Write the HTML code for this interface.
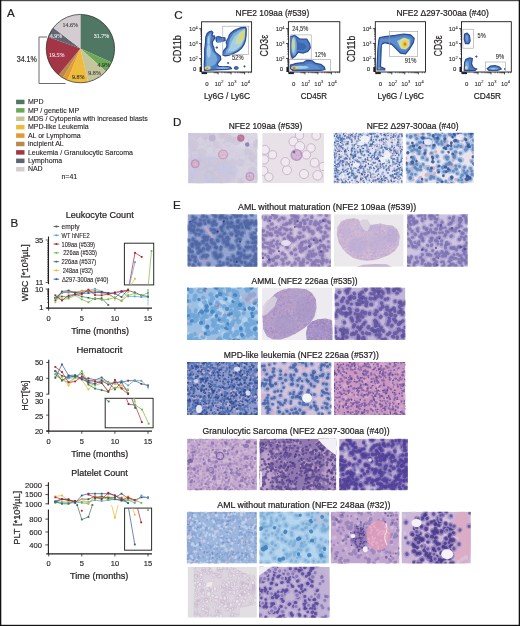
<!DOCTYPE html><html><head><meta charset="utf-8"><title>Figure</title><style>html,body{margin:0;padding:0;background:#fff;width:520px;height:626px;overflow:hidden;}svg{display:block;will-change:transform;font-family:"Liberation Sans",sans-serif;}</style></head><body><svg width="520" height="626" viewBox="0 0 520 626" font-family="Liberation Sans, sans-serif"><defs><filter id="bl" x="-20%" y="-20%" width="140%" height="140%"><feGaussianBlur stdDeviation="0.55"/></filter><filter id="bl2" x="-50%" y="-50%" width="200%" height="200%"><feGaussianBlur stdDeviation="0.9"/></filter><filter id="hb" x="-15%" y="-15%" width="130%" height="130%"><feGaussianBlur stdDeviation="0.3"/></filter><filter id="sb" x="-10%" y="-10%" width="120%" height="120%"><feGaussianBlur stdDeviation="1.5"/></filter><clipPath id="c1"><rect x="188.3" y="133" width="69.3" height="50.2"/></clipPath><clipPath id="c2"><rect x="262.2" y="133" width="61.8" height="50.2"/></clipPath><clipPath id="c3"><rect x="333.8" y="132.8" width="69" height="50.5"/></clipPath><clipPath id="c4"><rect x="405.8" y="132.8" width="68" height="50.5"/></clipPath><clipPath id="c5"><rect x="187.5" y="214.2" width="69.9" height="52.5"/></clipPath><clipPath id="c6"><rect x="261.7" y="214.2" width="69.3" height="52.5"/></clipPath><clipPath id="tp1"><polygon points="336.85,234.38 337.58,227.08 341.23,221.23 347.08,219.04 354.38,218.31 358.77,219.77 360.23,221.96 362.42,219.77 367.54,219.77 370.46,225.62 374.85,224.15 380.69,223.42 386.54,224.88 392.39,225.62 397.5,230 399.69,235.85 398.96,244.62 395.31,250.46 389.46,254.85 382.15,257.77 374.85,259.96 367.54,260.69 360.23,259.96 352.92,257.77 347.08,253.39 342.69,249 339.04,243.15"/></clipPath><clipPath id="c7"><rect x="333.8" y="214.2" width="69.9" height="52.5"/></clipPath><clipPath id="c8"><rect x="407" y="214.2" width="60.7" height="52.5"/></clipPath><clipPath id="c9"><rect x="187.1" y="287.5" width="70.7" height="52.5"/></clipPath><clipPath id="tp2"><polygon points="262.5,316.25 265.5,306.5 270,299 276,293 282,290 288,288.5 297,288.2 306,289.25 312,293 315.75,299 316.5,308 314.25,317 309.75,323.75 303,329 295.5,333.5 288,337.25 280.5,339.5 273,339.5 267,336.5 263.25,329"/></clipPath><clipPath id="tp3"><polygon points="306,333.5 307.5,326 312,321.5 318,319.25 325.5,318.5 331.5,320 333,329 333,341 306.75,341"/></clipPath><clipPath id="c10"><rect x="261.7" y="287.5" width="70.8" height="52.5"/></clipPath><clipPath id="c11"><rect x="334.6" y="287.5" width="70.8" height="52.5"/></clipPath><clipPath id="c12"><rect x="187.1" y="361.9" width="70.7" height="53.1"/></clipPath><clipPath id="c13"><rect x="260.8" y="361.9" width="70.7" height="53.1"/></clipPath><clipPath id="c14"><rect x="334" y="361.9" width="71.4" height="53.1"/></clipPath><clipPath id="c15"><rect x="187.1" y="438.7" width="69.8" height="51.6"/></clipPath><clipPath id="c16"><rect x="259.5" y="438.7" width="76.7" height="51.6"/></clipPath><clipPath id="c17"><rect x="339.2" y="438.7" width="68.6" height="51.6"/></clipPath><clipPath id="c18"><rect x="186.8" y="511.7" width="70.1" height="51.8"/></clipPath><clipPath id="c19"><rect x="259.4" y="511.7" width="69.8" height="51.8"/></clipPath><clipPath id="c20"><rect x="330.8" y="511.7" width="68.6" height="51.8"/></clipPath><clipPath id="c21"><rect x="401.5" y="511.7" width="69.3" height="51.8"/></clipPath><clipPath id="c22"><rect x="187.7" y="566.8" width="69.2" height="51"/></clipPath><clipPath id="lu"><polygon points="193.77,566.92 209.85,566.92 214.24,572.77 217.16,566.92 233.25,566.92 243.48,572.77 255.18,575.7 255.91,604.94 240.56,607.86 239.09,616.63 193.77,616.63"/></clipPath><clipPath id="c24"><rect x="259" y="566.8" width="70.8" height="51"/></clipPath></defs><rect x="0" y="0" width="520" height="626" fill="#ffffff"/>
<text x="7" y="17" font-size="11.6" fill="#231f20" stroke="#231f20" stroke-width="0.22" text-anchor="start">A</text>
<path d="M80.4 48.6 L80.4 14.4 A34.2 34.2 0 0 1 111.61 62.58 Z" fill="#4f7763"/>
<path d="M80.4 48.6 L111.61 62.58 A34.2 34.2 0 0 1 105.91 71.38 Z" fill="#6ba957"/>
<path d="M80.4 48.6 L105.91 71.38 A34.2 34.2 0 0 1 88.07 81.93 Z" fill="#c5c59c"/>
<path d="M80.4 48.6 L88.07 81.93 A34.2 34.2 0 0 1 67.41 80.24 Z" fill="#efbb3c"/>
<path d="M80.4 48.6 L67.41 80.24 A34.2 34.2 0 0 1 62.81 77.93 Z" fill="#e49a32"/>
<path d="M80.4 48.6 L62.81 77.93 A34.2 34.2 0 0 1 58.6 74.95 Z" fill="#b8894a"/>
<path d="M80.4 48.6 L58.6 74.95 A34.2 34.2 0 0 1 48.22 37.02 Z" fill="#a23546"/>
<path d="M80.4 48.6 L48.22 37.02 A34.2 34.2 0 0 1 53.25 27.81 Z" fill="#5f6672"/>
<path d="M80.4 48.6 L53.25 27.81 A34.2 34.2 0 0 1 80.4 14.4 Z" fill="#d3cdd1"/>
<circle cx="80.4" cy="48.6" r="34.2" fill="none" stroke="#2a2a2a" stroke-width="0.7"/>
<text x="101.6" y="38.2" font-size="6" font-family="Liberation Serif" fill="#f2f2f2" stroke="#f2f2f2" stroke-width="0.12" text-anchor="middle">31.7%</text>
<text x="103.8" y="66.9" font-size="6" font-family="Liberation Serif" fill="#333" stroke="#333" stroke-width="0.12" text-anchor="middle">4.9%</text>
<text x="94.5" y="74.9" font-size="6" font-family="Liberation Serif" fill="#444" stroke="#444" stroke-width="0.12" text-anchor="middle">9.8%</text>
<text x="78.2" y="79.2" font-size="6" font-family="Liberation Serif" fill="#333" stroke="#333" stroke-width="0.12" text-anchor="middle">9.8%</text>
<text x="56.8" y="56.7" font-size="6" font-family="Liberation Serif" fill="#f4dde0" stroke="#f4dde0" stroke-width="0.12" text-anchor="middle">19.5%</text>
<text x="56.1" y="37.5" font-size="6" font-family="Liberation Serif" fill="#e8e8ec" stroke="#e8e8ec" stroke-width="0.12" text-anchor="middle">4.9%</text>
<text x="70.3" y="27.1" font-size="6" font-family="Liberation Serif" fill="#444" stroke="#444" stroke-width="0.12" text-anchor="middle">14.6%</text>
<path d="M47 37 H39 V83.5 H65.6" fill="none" stroke="#6d6d6d" stroke-width="1"/>
<text x="16.7" y="61.6" font-size="8.7" fill="#333" stroke="#333" stroke-width="0.22" text-anchor="start" textLength="20.2" lengthAdjust="spacingAndGlyphs">34.1%</text>
<rect x="16.1" y="99.7" width="8.4" height="4.5" fill="#4f7763"/>
<text x="27.9" y="104.2" font-size="7" fill="#231f20" stroke="#231f20" stroke-width="0.11" text-anchor="start">MPD</text>
<rect x="16.1" y="108.11" width="8.4" height="4.5" fill="#6ba957"/>
<text x="27.9" y="112.61" font-size="7" fill="#231f20" stroke="#231f20" stroke-width="0.11" text-anchor="start">MP / genetic MP</text>
<rect x="16.1" y="116.52" width="8.4" height="4.5" fill="#c5c59c"/>
<text x="27.9" y="121.02" font-size="7" fill="#231f20" stroke="#231f20" stroke-width="0.11" text-anchor="start">MDS / Cytopenia with increased blasts</text>
<rect x="16.1" y="124.93" width="8.4" height="4.5" fill="#efbb3c"/>
<text x="27.9" y="129.43" font-size="7" fill="#231f20" stroke="#231f20" stroke-width="0.11" text-anchor="start">MPD-like Leukemia</text>
<rect x="16.1" y="133.34" width="8.4" height="4.5" fill="#e49a32"/>
<text x="27.9" y="137.84" font-size="7" fill="#231f20" stroke="#231f20" stroke-width="0.11" text-anchor="start">AL or Lymphoma</text>
<rect x="16.1" y="141.75" width="8.4" height="4.5" fill="#b8894a"/>
<text x="27.9" y="146.25" font-size="7" fill="#231f20" stroke="#231f20" stroke-width="0.11" text-anchor="start">incipient AL</text>
<rect x="16.1" y="150.16" width="8.4" height="4.5" fill="#a23546"/>
<text x="27.9" y="154.66" font-size="7" fill="#231f20" stroke="#231f20" stroke-width="0.11" text-anchor="start">Leukemia / Granulocytic Sarcoma</text>
<rect x="16.1" y="158.57" width="8.4" height="4.5" fill="#5f6672"/>
<text x="27.9" y="163.07" font-size="7" fill="#231f20" stroke="#231f20" stroke-width="0.11" text-anchor="start">Lymphoma</text>
<rect x="16.1" y="166.98" width="8.4" height="4.5" fill="#d3cdd1"/>
<text x="27.9" y="171.48" font-size="7" fill="#231f20" stroke="#231f20" stroke-width="0.11" text-anchor="start">NAD</text>
<text x="61.5" y="178.5" font-size="7" fill="#231f20" stroke="#231f20" stroke-width="0.11" text-anchor="start" textLength="15.7" lengthAdjust="spacingAndGlyphs">n=41</text>
<text x="10.6" y="227" font-size="11.6" fill="#231f20" stroke="#231f20" stroke-width="0.22" text-anchor="start">B</text>
<text x="65.7" y="217.5" font-size="9" fill="#231f20" stroke="#231f20" stroke-width="0.22" text-anchor="start" textLength="68" lengthAdjust="spacingAndGlyphs">Leukocyte Count</text>
<line x1="53.5" y1="226.5" x2="59.2" y2="226.5" stroke="#4d4d4f" stroke-width="0.8"/>
<rect x="55.5" y="225.6" width="1.8" height="1.8" fill="#4d4d4f"/>
<text x="61.6" y="229.1" font-size="7.25" fill="#231f20" stroke="#231f20" stroke-width="0.11" text-anchor="start" textLength="18" lengthAdjust="spacingAndGlyphs">empty</text>
<line x1="53.5" y1="235.28" x2="59.2" y2="235.28" stroke="#5aa0d8" stroke-width="0.8"/>
<rect x="55.5" y="234.38" width="1.8" height="1.8" fill="#5aa0d8"/>
<text x="61.6" y="237.88" font-size="7.25" fill="#231f20" stroke="#231f20" stroke-width="0.11" text-anchor="start" textLength="28" lengthAdjust="spacingAndGlyphs">WT hNFE2</text>
<line x1="53.5" y1="244.06" x2="59.2" y2="244.06" stroke="#b3202e" stroke-width="0.8"/>
<rect x="55.5" y="243.16" width="1.8" height="1.8" fill="#b3202e"/>
<text x="61.6" y="246.66" font-size="7.25" fill="#231f20" stroke="#231f20" stroke-width="0.11" text-anchor="start" textLength="33.4" lengthAdjust="spacingAndGlyphs">109aa (#539)</text>
<line x1="53.5" y1="252.84" x2="59.2" y2="252.84" stroke="#72b847" stroke-width="0.8"/>
<rect x="55.5" y="251.94" width="1.8" height="1.8" fill="#72b847"/>
<text x="63.2" y="255.44" font-size="7.25" fill="#231f20" stroke="#231f20" stroke-width="0.11" text-anchor="start" textLength="33.8" lengthAdjust="spacingAndGlyphs">226aa (#535)</text>
<line x1="53.5" y1="261.62" x2="59.2" y2="261.62" stroke="#3a7356" stroke-width="0.8"/>
<rect x="55.5" y="260.72" width="1.8" height="1.8" fill="#3a7356"/>
<text x="61.6" y="264.22" font-size="7.25" fill="#231f20" stroke="#231f20" stroke-width="0.11" text-anchor="start" textLength="34.5" lengthAdjust="spacingAndGlyphs">226aa (#537)</text>
<line x1="53.5" y1="270.4" x2="59.2" y2="270.4" stroke="#f2b431" stroke-width="0.8"/>
<rect x="55.5" y="269.5" width="1.8" height="1.8" fill="#f2b431"/>
<text x="62.7" y="273" font-size="7.25" fill="#231f20" stroke="#231f20" stroke-width="0.11" text-anchor="start" textLength="30.3" lengthAdjust="spacingAndGlyphs">248aa (#32)</text>
<line x1="53.5" y1="279.18" x2="59.2" y2="279.18" stroke="#2f5797" stroke-width="0.8"/>
<rect x="55.5" y="278.28" width="1.8" height="1.8" fill="#2f5797"/>
<text x="61.9" y="281.78" font-size="7.25" fill="#231f20" stroke="#231f20" stroke-width="0.11" text-anchor="start" textLength="46.5" lengthAdjust="spacingAndGlyphs">Δ297-300aa (#40)</text>
<line x1="48.5" y1="236.5" x2="48.5" y2="284.2" stroke="#231f20" stroke-width="1.1"/>
<line x1="48.5" y1="288.3" x2="48.5" y2="308.4" stroke="#231f20" stroke-width="1.1"/>
<line x1="46.3" y1="308.2" x2="152" y2="308.2" stroke="#231f20" stroke-width="1.2"/>
<line x1="45.7" y1="282.5" x2="48.5" y2="282.5" stroke="#231f20" stroke-width="0.7"/>
<line x1="47" y1="280.73" x2="48.5" y2="280.73" stroke="#231f20" stroke-width="0.7"/>
<line x1="47" y1="278.96" x2="48.5" y2="278.96" stroke="#231f20" stroke-width="0.7"/>
<line x1="47" y1="277.19" x2="48.5" y2="277.19" stroke="#231f20" stroke-width="0.7"/>
<line x1="47" y1="275.42" x2="48.5" y2="275.42" stroke="#231f20" stroke-width="0.7"/>
<line x1="47" y1="273.65" x2="48.5" y2="273.65" stroke="#231f20" stroke-width="0.7"/>
<line x1="47" y1="271.88" x2="48.5" y2="271.88" stroke="#231f20" stroke-width="0.7"/>
<line x1="47" y1="270.1" x2="48.5" y2="270.1" stroke="#231f20" stroke-width="0.7"/>
<line x1="47" y1="268.33" x2="48.5" y2="268.33" stroke="#231f20" stroke-width="0.7"/>
<line x1="47" y1="266.56" x2="48.5" y2="266.56" stroke="#231f20" stroke-width="0.7"/>
<line x1="47" y1="264.79" x2="48.5" y2="264.79" stroke="#231f20" stroke-width="0.7"/>
<line x1="47" y1="263.02" x2="48.5" y2="263.02" stroke="#231f20" stroke-width="0.7"/>
<line x1="47" y1="261.25" x2="48.5" y2="261.25" stroke="#231f20" stroke-width="0.7"/>
<line x1="47" y1="259.48" x2="48.5" y2="259.48" stroke="#231f20" stroke-width="0.7"/>
<line x1="47" y1="257.71" x2="48.5" y2="257.71" stroke="#231f20" stroke-width="0.7"/>
<line x1="47" y1="255.94" x2="48.5" y2="255.94" stroke="#231f20" stroke-width="0.7"/>
<line x1="47" y1="254.17" x2="48.5" y2="254.17" stroke="#231f20" stroke-width="0.7"/>
<line x1="47" y1="252.4" x2="48.5" y2="252.4" stroke="#231f20" stroke-width="0.7"/>
<line x1="47" y1="250.62" x2="48.5" y2="250.62" stroke="#231f20" stroke-width="0.7"/>
<line x1="47" y1="248.85" x2="48.5" y2="248.85" stroke="#231f20" stroke-width="0.7"/>
<line x1="47" y1="247.08" x2="48.5" y2="247.08" stroke="#231f20" stroke-width="0.7"/>
<line x1="47" y1="245.31" x2="48.5" y2="245.31" stroke="#231f20" stroke-width="0.7"/>
<line x1="47" y1="243.54" x2="48.5" y2="243.54" stroke="#231f20" stroke-width="0.7"/>
<line x1="47" y1="241.77" x2="48.5" y2="241.77" stroke="#231f20" stroke-width="0.7"/>
<line x1="45.7" y1="240" x2="48.5" y2="240" stroke="#231f20" stroke-width="0.7"/>
<line x1="45.7" y1="308" x2="48.5" y2="308" stroke="#231f20" stroke-width="0.7"/>
<line x1="47" y1="302.28" x2="48.5" y2="302.28" stroke="#231f20" stroke-width="0.7"/>
<line x1="47" y1="298.93" x2="48.5" y2="298.93" stroke="#231f20" stroke-width="0.7"/>
<line x1="47" y1="296.56" x2="48.5" y2="296.56" stroke="#231f20" stroke-width="0.7"/>
<line x1="47" y1="294.72" x2="48.5" y2="294.72" stroke="#231f20" stroke-width="0.7"/>
<line x1="47" y1="293.22" x2="48.5" y2="293.22" stroke="#231f20" stroke-width="0.7"/>
<line x1="47" y1="291.94" x2="48.5" y2="291.94" stroke="#231f20" stroke-width="0.7"/>
<line x1="47" y1="290.84" x2="48.5" y2="290.84" stroke="#231f20" stroke-width="0.7"/>
<line x1="47" y1="289.87" x2="48.5" y2="289.87" stroke="#231f20" stroke-width="0.7"/>
<line x1="45.7" y1="289" x2="48.5" y2="289" stroke="#231f20" stroke-width="0.7"/>
<line x1="48.7" y1="308.2" x2="48.7" y2="310.8" stroke="#231f20" stroke-width="0.8"/>
<text x="48.7" y="321.2" font-size="7.5" fill="#231f20" stroke="#231f20" stroke-width="0.15" text-anchor="middle">0</text>
<line x1="81.8" y1="308.2" x2="81.8" y2="310.8" stroke="#231f20" stroke-width="0.8"/>
<text x="81.8" y="321.2" font-size="7.5" fill="#231f20" stroke="#231f20" stroke-width="0.15" text-anchor="middle">5</text>
<line x1="114.9" y1="308.2" x2="114.9" y2="310.8" stroke="#231f20" stroke-width="0.8"/>
<text x="114.9" y="321.2" font-size="7.5" fill="#231f20" stroke="#231f20" stroke-width="0.15" text-anchor="middle">10</text>
<line x1="148" y1="308.2" x2="148" y2="310.8" stroke="#231f20" stroke-width="0.8"/>
<text x="148" y="321.2" font-size="7.5" fill="#231f20" stroke="#231f20" stroke-width="0.15" text-anchor="middle">15</text>
<text x="43.3" y="242.7" font-size="7.5" fill="#231f20" stroke="#231f20" stroke-width="0.15" text-anchor="end">35</text>
<text x="43.3" y="285.4" font-size="7.5" fill="#231f20" stroke="#231f20" stroke-width="0.15" text-anchor="end">11</text>
<text x="43.3" y="291.5" font-size="7.5" fill="#231f20" stroke="#231f20" stroke-width="0.15" text-anchor="end">10</text>
<text x="43.3" y="310.4" font-size="7.5" fill="#231f20" stroke="#231f20" stroke-width="0.15" text-anchor="end">1</text>
<text x="71.2" y="334.3" font-size="9.3" fill="#231f20" stroke="#231f20" stroke-width="0.22" text-anchor="start" textLength="57.7" lengthAdjust="spacingAndGlyphs">Time (months)</text>
<text transform="translate(28.2,272.8) rotate(-90)" x="0" y="0" font-size="9.4" fill="#231f20" stroke="#231f20" stroke-width="0.22" text-anchor="middle" textLength="56.8" lengthAdjust="spacingAndGlyphs">WBC [*10³/µL]</text>
<rect x="124.4" y="243.2" width="29.3" height="41.7" fill="none" stroke="#2b2b2b" stroke-width="1"/>
<polyline points="55.32,297.5 61.94,292.2 68.56,292.7 75.18,292.5 81.8,290.7 88.42,290.5 95.04,288.8 101.66,291.5 108.28,293 114.9,293.5 121.52,291.2 128.14,296.4 134.76,296.4 141.38,297 148,297" fill="none" stroke="#5aa0d8" stroke-width="0.7" stroke-linejoin="round"/>
<rect x="54.42" y="296.6" width="1.8" height="1.8" fill="#5aa0d8"/>
<rect x="61.04" y="291.3" width="1.8" height="1.8" fill="#5aa0d8"/>
<rect x="67.66" y="291.8" width="1.8" height="1.8" fill="#5aa0d8"/>
<rect x="74.28" y="291.6" width="1.8" height="1.8" fill="#5aa0d8"/>
<rect x="80.9" y="289.8" width="1.8" height="1.8" fill="#5aa0d8"/>
<rect x="87.52" y="289.6" width="1.8" height="1.8" fill="#5aa0d8"/>
<rect x="94.14" y="287.9" width="1.8" height="1.8" fill="#5aa0d8"/>
<rect x="100.76" y="290.6" width="1.8" height="1.8" fill="#5aa0d8"/>
<rect x="107.38" y="292.1" width="1.8" height="1.8" fill="#5aa0d8"/>
<rect x="114" y="292.6" width="1.8" height="1.8" fill="#5aa0d8"/>
<rect x="120.62" y="290.3" width="1.8" height="1.8" fill="#5aa0d8"/>
<rect x="127.24" y="295.5" width="1.8" height="1.8" fill="#5aa0d8"/>
<rect x="133.86" y="295.5" width="1.8" height="1.8" fill="#5aa0d8"/>
<rect x="140.48" y="296.1" width="1.8" height="1.8" fill="#5aa0d8"/>
<rect x="147.1" y="296.1" width="1.8" height="1.8" fill="#5aa0d8"/>
<polyline points="55.32,298 61.94,293 68.56,291.5 75.18,292.5 81.8,292 88.42,291.5 95.04,291 101.66,292 108.28,293.5 114.9,298.2 121.52,291.8 128.14,290.5 134.76,292.4 141.38,295.3 148,296.5" fill="none" stroke="#4d4d4f" stroke-width="0.7" stroke-linejoin="round"/>
<rect x="54.42" y="297.1" width="1.8" height="1.8" fill="#4d4d4f"/>
<rect x="61.04" y="292.1" width="1.8" height="1.8" fill="#4d4d4f"/>
<rect x="67.66" y="290.6" width="1.8" height="1.8" fill="#4d4d4f"/>
<rect x="74.28" y="291.6" width="1.8" height="1.8" fill="#4d4d4f"/>
<rect x="80.9" y="291.1" width="1.8" height="1.8" fill="#4d4d4f"/>
<rect x="87.52" y="290.6" width="1.8" height="1.8" fill="#4d4d4f"/>
<rect x="94.14" y="290.1" width="1.8" height="1.8" fill="#4d4d4f"/>
<rect x="100.76" y="291.1" width="1.8" height="1.8" fill="#4d4d4f"/>
<rect x="107.38" y="292.6" width="1.8" height="1.8" fill="#4d4d4f"/>
<rect x="114" y="297.3" width="1.8" height="1.8" fill="#4d4d4f"/>
<rect x="120.62" y="290.9" width="1.8" height="1.8" fill="#4d4d4f"/>
<rect x="127.24" y="289.6" width="1.8" height="1.8" fill="#4d4d4f"/>
<rect x="133.86" y="291.5" width="1.8" height="1.8" fill="#4d4d4f"/>
<rect x="140.48" y="294.4" width="1.8" height="1.8" fill="#4d4d4f"/>
<rect x="147.1" y="295.6" width="1.8" height="1.8" fill="#4d4d4f"/>
<polyline points="55.32,302.3 61.94,292.5 68.56,291.5 75.18,292 81.8,291.5 88.42,290.5 95.04,291.5 101.66,293 108.28,294.5 114.9,298 121.52,300.5 128.14,292" fill="none" stroke="#f2b431" stroke-width="0.7" stroke-linejoin="round"/>
<rect x="54.42" y="301.4" width="1.8" height="1.8" fill="#f2b431"/>
<rect x="61.04" y="291.6" width="1.8" height="1.8" fill="#f2b431"/>
<rect x="67.66" y="290.6" width="1.8" height="1.8" fill="#f2b431"/>
<rect x="74.28" y="291.1" width="1.8" height="1.8" fill="#f2b431"/>
<rect x="80.9" y="290.6" width="1.8" height="1.8" fill="#f2b431"/>
<rect x="87.52" y="289.6" width="1.8" height="1.8" fill="#f2b431"/>
<rect x="94.14" y="290.6" width="1.8" height="1.8" fill="#f2b431"/>
<rect x="100.76" y="292.1" width="1.8" height="1.8" fill="#f2b431"/>
<rect x="107.38" y="293.6" width="1.8" height="1.8" fill="#f2b431"/>
<rect x="114" y="297.1" width="1.8" height="1.8" fill="#f2b431"/>
<rect x="120.62" y="299.6" width="1.8" height="1.8" fill="#f2b431"/>
<rect x="127.24" y="291.1" width="1.8" height="1.8" fill="#f2b431"/>
<polyline points="55.32,300.3 61.94,291.5 68.56,290.5 75.18,292.7 81.8,293.5 88.42,293.1 95.04,292.5 101.66,292.5 108.28,293 114.9,293.5 121.52,297 128.14,289.5" fill="none" stroke="#2f5797" stroke-width="0.7" stroke-linejoin="round"/>
<rect x="54.42" y="299.4" width="1.8" height="1.8" fill="#2f5797"/>
<rect x="61.04" y="290.6" width="1.8" height="1.8" fill="#2f5797"/>
<rect x="67.66" y="289.6" width="1.8" height="1.8" fill="#2f5797"/>
<rect x="74.28" y="291.8" width="1.8" height="1.8" fill="#2f5797"/>
<rect x="80.9" y="292.6" width="1.8" height="1.8" fill="#2f5797"/>
<rect x="87.52" y="292.2" width="1.8" height="1.8" fill="#2f5797"/>
<rect x="94.14" y="291.6" width="1.8" height="1.8" fill="#2f5797"/>
<rect x="100.76" y="291.6" width="1.8" height="1.8" fill="#2f5797"/>
<rect x="107.38" y="292.1" width="1.8" height="1.8" fill="#2f5797"/>
<rect x="114" y="292.6" width="1.8" height="1.8" fill="#2f5797"/>
<rect x="120.62" y="296.1" width="1.8" height="1.8" fill="#2f5797"/>
<rect x="127.24" y="288.6" width="1.8" height="1.8" fill="#2f5797"/>
<polyline points="55.32,298 61.94,296.5 68.56,297 75.18,294.4 81.8,296.5 88.42,297.8 95.04,299 101.66,298.2 108.28,305" fill="none" stroke="#3a7356" stroke-width="0.7" stroke-linejoin="round"/>
<rect x="54.42" y="297.1" width="1.8" height="1.8" fill="#3a7356"/>
<rect x="61.04" y="295.6" width="1.8" height="1.8" fill="#3a7356"/>
<rect x="67.66" y="296.1" width="1.8" height="1.8" fill="#3a7356"/>
<rect x="74.28" y="293.5" width="1.8" height="1.8" fill="#3a7356"/>
<rect x="80.9" y="295.6" width="1.8" height="1.8" fill="#3a7356"/>
<rect x="87.52" y="296.9" width="1.8" height="1.8" fill="#3a7356"/>
<rect x="94.14" y="298.1" width="1.8" height="1.8" fill="#3a7356"/>
<rect x="100.76" y="297.3" width="1.8" height="1.8" fill="#3a7356"/>
<rect x="107.38" y="304.1" width="1.8" height="1.8" fill="#3a7356"/>
<polyline points="55.32,298.4 61.94,299.4 68.56,298.6 75.18,295.3 81.8,299.4 88.42,302.3 95.04,298 101.66,299.9 108.28,299.3 114.9,297.6 121.52,301 128.14,295.3 134.76,293.5 141.38,295.3 148,293" fill="none" stroke="#72b847" stroke-width="0.7" stroke-linejoin="round"/>
<rect x="54.42" y="297.5" width="1.8" height="1.8" fill="#72b847"/>
<rect x="61.04" y="298.5" width="1.8" height="1.8" fill="#72b847"/>
<rect x="67.66" y="297.7" width="1.8" height="1.8" fill="#72b847"/>
<rect x="74.28" y="294.4" width="1.8" height="1.8" fill="#72b847"/>
<rect x="80.9" y="298.5" width="1.8" height="1.8" fill="#72b847"/>
<rect x="87.52" y="301.4" width="1.8" height="1.8" fill="#72b847"/>
<rect x="94.14" y="297.1" width="1.8" height="1.8" fill="#72b847"/>
<rect x="100.76" y="299" width="1.8" height="1.8" fill="#72b847"/>
<rect x="107.38" y="298.4" width="1.8" height="1.8" fill="#72b847"/>
<rect x="114" y="296.7" width="1.8" height="1.8" fill="#72b847"/>
<rect x="120.62" y="300.1" width="1.8" height="1.8" fill="#72b847"/>
<rect x="127.24" y="294.4" width="1.8" height="1.8" fill="#72b847"/>
<rect x="133.86" y="292.6" width="1.8" height="1.8" fill="#72b847"/>
<rect x="140.48" y="294.4" width="1.8" height="1.8" fill="#72b847"/>
<rect x="147.1" y="292.1" width="1.8" height="1.8" fill="#72b847"/>
<polyline points="55.32,295.3 61.94,300.5 68.56,295.5 75.18,294.4 81.8,294 88.42,289.6 95.04,295 101.66,295.3 108.28,294.1 114.9,292.4 121.52,291.2 128.14,290.1" fill="none" stroke="#b3202e" stroke-width="0.7" stroke-linejoin="round"/>
<rect x="54.42" y="294.4" width="1.8" height="1.8" fill="#b3202e"/>
<rect x="61.04" y="299.6" width="1.8" height="1.8" fill="#b3202e"/>
<rect x="67.66" y="294.6" width="1.8" height="1.8" fill="#b3202e"/>
<rect x="74.28" y="293.5" width="1.8" height="1.8" fill="#b3202e"/>
<rect x="80.9" y="293.1" width="1.8" height="1.8" fill="#b3202e"/>
<rect x="87.52" y="288.7" width="1.8" height="1.8" fill="#b3202e"/>
<rect x="94.14" y="294.1" width="1.8" height="1.8" fill="#b3202e"/>
<rect x="100.76" y="294.4" width="1.8" height="1.8" fill="#b3202e"/>
<rect x="107.38" y="293.2" width="1.8" height="1.8" fill="#b3202e"/>
<rect x="114" y="291.5" width="1.8" height="1.8" fill="#b3202e"/>
<rect x="120.62" y="290.3" width="1.8" height="1.8" fill="#b3202e"/>
<rect x="127.24" y="289.2" width="1.8" height="1.8" fill="#b3202e"/>
<line x1="148" y1="289" x2="148" y2="305.7" stroke="#5aa0d8" stroke-width="0.6"/>
<line x1="114.9" y1="296" x2="114.9" y2="301" stroke="#888" stroke-width="0.6"/>
<line x1="148" y1="289" x2="148" y2="296" stroke="#72b847" stroke-width="0.6"/>
<polyline points="129.2,284.9 135,252.8 141.7,256.9" fill="none" stroke="#b3202e" stroke-width="0.7" stroke-linejoin="round"/>
<rect x="134.1" y="251.9" width="1.8" height="1.8" fill="#b3202e"/>
<rect x="140.8" y="256" width="1.8" height="1.8" fill="#b3202e"/>
<polyline points="129.5,284.9 135,262.1" fill="none" stroke="#5aa0d8" stroke-width="0.7" stroke-linejoin="round"/>
<rect x="134.1" y="261.2" width="1.8" height="1.8" fill="#5aa0d8"/>
<polyline points="131,284.9 135,278.7" fill="none" stroke="#f2b431" stroke-width="0.7" stroke-linejoin="round"/>
<rect x="134.1" y="277.8" width="1.8" height="1.8" fill="#f2b431"/>
<polyline points="148.3,284.9 151.5,250.9" fill="none" stroke="#72b847" stroke-width="0.7" stroke-linejoin="round"/>
<rect x="150.6" y="250" width="1.8" height="1.8" fill="#72b847"/>
<text x="76.5" y="353" font-size="9" fill="#231f20" stroke="#231f20" stroke-width="0.22" text-anchor="start" textLength="45.8" lengthAdjust="spacingAndGlyphs">Hematocrit</text>
<line x1="48.75" y1="359.8" x2="48.75" y2="394.6" stroke="#231f20" stroke-width="1.1"/>
<line x1="48.75" y1="398.7" x2="48.75" y2="431.5" stroke="#231f20" stroke-width="1.1"/>
<line x1="46.3" y1="431.2" x2="152" y2="431.2" stroke="#231f20" stroke-width="1.2"/>
<line x1="46.2" y1="362.5" x2="48.75" y2="362.5" stroke="#231f20" stroke-width="0.8"/>
<line x1="46.2" y1="378.3" x2="48.75" y2="378.3" stroke="#231f20" stroke-width="0.8"/>
<line x1="46.2" y1="394.1" x2="48.75" y2="394.1" stroke="#231f20" stroke-width="0.8"/>
<line x1="46.2" y1="415.1" x2="48.75" y2="415.1" stroke="#231f20" stroke-width="0.8"/>
<line x1="46.2" y1="431" x2="48.75" y2="431" stroke="#231f20" stroke-width="0.8"/>
<text x="43.3" y="365.2" font-size="7.5" fill="#231f20" stroke="#231f20" stroke-width="0.15" text-anchor="end">50</text>
<text x="43.3" y="381" font-size="7.5" fill="#231f20" stroke="#231f20" stroke-width="0.15" text-anchor="end">40</text>
<text x="43.3" y="396.5" font-size="7.5" fill="#231f20" stroke="#231f20" stroke-width="0.15" text-anchor="end">30</text>
<text x="43.3" y="403.9" font-size="7.5" fill="#231f20" stroke="#231f20" stroke-width="0.15" text-anchor="end">30</text>
<text x="43.3" y="418.9" font-size="7.5" fill="#231f20" stroke="#231f20" stroke-width="0.15" text-anchor="end">25</text>
<text x="43.3" y="434" font-size="7.5" fill="#231f20" stroke="#231f20" stroke-width="0.15" text-anchor="end">20</text>
<line x1="48.7" y1="431.2" x2="48.7" y2="433.8" stroke="#231f20" stroke-width="0.8"/>
<text x="48.7" y="443.5" font-size="7.5" fill="#231f20" stroke="#231f20" stroke-width="0.15" text-anchor="middle">0</text>
<line x1="81.8" y1="431.2" x2="81.8" y2="433.8" stroke="#231f20" stroke-width="0.8"/>
<text x="81.8" y="443.5" font-size="7.5" fill="#231f20" stroke="#231f20" stroke-width="0.15" text-anchor="middle">5</text>
<line x1="114.9" y1="431.2" x2="114.9" y2="433.8" stroke="#231f20" stroke-width="0.8"/>
<text x="114.9" y="443.5" font-size="7.5" fill="#231f20" stroke="#231f20" stroke-width="0.15" text-anchor="middle">10</text>
<line x1="148" y1="431.2" x2="148" y2="433.8" stroke="#231f20" stroke-width="0.8"/>
<text x="148" y="443.5" font-size="7.5" fill="#231f20" stroke="#231f20" stroke-width="0.15" text-anchor="middle">15</text>
<text x="71.2" y="456.8" font-size="9.3" fill="#231f20" stroke="#231f20" stroke-width="0.22" text-anchor="start" textLength="57" lengthAdjust="spacingAndGlyphs">Time (months)</text>
<text transform="translate(28,395.5) rotate(-90)" x="0" y="0" font-size="9.4" fill="#231f20" stroke="#231f20" stroke-width="0.22" text-anchor="middle" textLength="29.8" lengthAdjust="spacingAndGlyphs">HCT[%]</text>
<rect x="105.2" y="398.3" width="47.9" height="29.5" fill="none" stroke="#2b2b2b" stroke-width="1"/>
<polyline points="55.32,371.03 61.94,375.93 68.56,377.51 75.18,375.93 81.8,378.3 88.42,378.3 95.04,379.88 101.66,377.51 108.28,382.25 114.9,389.36 121.52,382.25 128.14,380.67 134.76,380.67 141.38,383.83 148,385.41" fill="none" stroke="#4d4d4f" stroke-width="0.7" stroke-linejoin="round"/>
<rect x="54.42" y="370.13" width="1.8" height="1.8" fill="#4d4d4f"/>
<rect x="61.04" y="375.03" width="1.8" height="1.8" fill="#4d4d4f"/>
<rect x="67.66" y="376.61" width="1.8" height="1.8" fill="#4d4d4f"/>
<rect x="74.28" y="375.03" width="1.8" height="1.8" fill="#4d4d4f"/>
<rect x="80.9" y="377.4" width="1.8" height="1.8" fill="#4d4d4f"/>
<rect x="87.52" y="377.4" width="1.8" height="1.8" fill="#4d4d4f"/>
<rect x="94.14" y="378.98" width="1.8" height="1.8" fill="#4d4d4f"/>
<rect x="100.76" y="376.61" width="1.8" height="1.8" fill="#4d4d4f"/>
<rect x="107.38" y="381.35" width="1.8" height="1.8" fill="#4d4d4f"/>
<rect x="114" y="388.46" width="1.8" height="1.8" fill="#4d4d4f"/>
<rect x="120.62" y="381.35" width="1.8" height="1.8" fill="#4d4d4f"/>
<rect x="127.24" y="379.77" width="1.8" height="1.8" fill="#4d4d4f"/>
<rect x="133.86" y="379.77" width="1.8" height="1.8" fill="#4d4d4f"/>
<rect x="140.48" y="382.93" width="1.8" height="1.8" fill="#4d4d4f"/>
<rect x="147.1" y="384.51" width="1.8" height="1.8" fill="#4d4d4f"/>
<polyline points="55.32,374.03 61.94,379.88 68.56,378.3 75.18,377.51 81.8,379.09 88.42,381.46 95.04,379.88 101.66,379.88 108.28,382.25 114.9,383.83 121.52,380.67 128.14,385.41 134.76,380.2 141.38,380.83 148,386.99" fill="none" stroke="#5aa0d8" stroke-width="0.7" stroke-linejoin="round"/>
<rect x="54.42" y="373.13" width="1.8" height="1.8" fill="#5aa0d8"/>
<rect x="61.04" y="378.98" width="1.8" height="1.8" fill="#5aa0d8"/>
<rect x="67.66" y="377.4" width="1.8" height="1.8" fill="#5aa0d8"/>
<rect x="74.28" y="376.61" width="1.8" height="1.8" fill="#5aa0d8"/>
<rect x="80.9" y="378.19" width="1.8" height="1.8" fill="#5aa0d8"/>
<rect x="87.52" y="380.56" width="1.8" height="1.8" fill="#5aa0d8"/>
<rect x="94.14" y="378.98" width="1.8" height="1.8" fill="#5aa0d8"/>
<rect x="100.76" y="378.98" width="1.8" height="1.8" fill="#5aa0d8"/>
<rect x="107.38" y="381.35" width="1.8" height="1.8" fill="#5aa0d8"/>
<rect x="114" y="382.93" width="1.8" height="1.8" fill="#5aa0d8"/>
<rect x="120.62" y="379.77" width="1.8" height="1.8" fill="#5aa0d8"/>
<rect x="127.24" y="384.51" width="1.8" height="1.8" fill="#5aa0d8"/>
<rect x="133.86" y="379.3" width="1.8" height="1.8" fill="#5aa0d8"/>
<rect x="140.48" y="379.93" width="1.8" height="1.8" fill="#5aa0d8"/>
<rect x="147.1" y="386.09" width="1.8" height="1.8" fill="#5aa0d8"/>
<polyline points="55.32,376.72 61.94,377.51 68.56,385.57 75.18,377.51 81.8,379.88 88.42,389.36 95.04,382.25 101.66,381.46 108.28,383.04 114.9,383.83 121.52,385.41 128.14,389.36" fill="none" stroke="#f2b431" stroke-width="0.7" stroke-linejoin="round"/>
<rect x="54.42" y="375.82" width="1.8" height="1.8" fill="#f2b431"/>
<rect x="61.04" y="376.61" width="1.8" height="1.8" fill="#f2b431"/>
<rect x="67.66" y="384.67" width="1.8" height="1.8" fill="#f2b431"/>
<rect x="74.28" y="376.61" width="1.8" height="1.8" fill="#f2b431"/>
<rect x="80.9" y="378.98" width="1.8" height="1.8" fill="#f2b431"/>
<rect x="87.52" y="388.46" width="1.8" height="1.8" fill="#f2b431"/>
<rect x="94.14" y="381.35" width="1.8" height="1.8" fill="#f2b431"/>
<rect x="100.76" y="380.56" width="1.8" height="1.8" fill="#f2b431"/>
<rect x="107.38" y="382.14" width="1.8" height="1.8" fill="#f2b431"/>
<rect x="114" y="382.93" width="1.8" height="1.8" fill="#f2b431"/>
<rect x="120.62" y="384.51" width="1.8" height="1.8" fill="#f2b431"/>
<rect x="127.24" y="388.46" width="1.8" height="1.8" fill="#f2b431"/>
<polyline points="55.32,374.35 61.94,379.88 68.56,382.25 75.18,377.51 81.8,371.03 88.42,383.04 95.04,385.41 101.66,383.04 108.28,390.94 114.9,387.78 121.52,387.78 128.14,390.15" fill="none" stroke="#72b847" stroke-width="0.7" stroke-linejoin="round"/>
<rect x="54.42" y="373.45" width="1.8" height="1.8" fill="#72b847"/>
<rect x="61.04" y="378.98" width="1.8" height="1.8" fill="#72b847"/>
<rect x="67.66" y="381.35" width="1.8" height="1.8" fill="#72b847"/>
<rect x="74.28" y="376.61" width="1.8" height="1.8" fill="#72b847"/>
<rect x="80.9" y="370.13" width="1.8" height="1.8" fill="#72b847"/>
<rect x="87.52" y="382.14" width="1.8" height="1.8" fill="#72b847"/>
<rect x="94.14" y="384.51" width="1.8" height="1.8" fill="#72b847"/>
<rect x="100.76" y="382.14" width="1.8" height="1.8" fill="#72b847"/>
<rect x="107.38" y="390.04" width="1.8" height="1.8" fill="#72b847"/>
<rect x="114" y="386.88" width="1.8" height="1.8" fill="#72b847"/>
<rect x="120.62" y="386.88" width="1.8" height="1.8" fill="#72b847"/>
<rect x="127.24" y="389.25" width="1.8" height="1.8" fill="#72b847"/>
<polyline points="55.32,371.19 61.94,380.67 68.56,375.93 75.18,376.72 81.8,373.56 88.42,384.62 95.04,388.57 101.66,390.15 108.28,391.73" fill="none" stroke="#3a7356" stroke-width="0.7" stroke-linejoin="round"/>
<rect x="54.42" y="370.29" width="1.8" height="1.8" fill="#3a7356"/>
<rect x="61.04" y="379.77" width="1.8" height="1.8" fill="#3a7356"/>
<rect x="67.66" y="375.03" width="1.8" height="1.8" fill="#3a7356"/>
<rect x="74.28" y="375.82" width="1.8" height="1.8" fill="#3a7356"/>
<rect x="80.9" y="372.66" width="1.8" height="1.8" fill="#3a7356"/>
<rect x="87.52" y="383.72" width="1.8" height="1.8" fill="#3a7356"/>
<rect x="94.14" y="387.67" width="1.8" height="1.8" fill="#3a7356"/>
<rect x="100.76" y="389.25" width="1.8" height="1.8" fill="#3a7356"/>
<rect x="107.38" y="390.83" width="1.8" height="1.8" fill="#3a7356"/>
<polyline points="55.32,377.83 61.94,364.4 68.56,375.46 75.18,375.14 81.8,379.25 88.42,382.25 95.04,383.83 101.66,380.67 108.28,384.62 114.9,382.25 121.52,382.25 128.14,393.31" fill="none" stroke="#2f5797" stroke-width="0.7" stroke-linejoin="round"/>
<rect x="54.42" y="376.93" width="1.8" height="1.8" fill="#2f5797"/>
<rect x="61.04" y="363.5" width="1.8" height="1.8" fill="#2f5797"/>
<rect x="67.66" y="374.56" width="1.8" height="1.8" fill="#2f5797"/>
<rect x="74.28" y="374.24" width="1.8" height="1.8" fill="#2f5797"/>
<rect x="80.9" y="378.35" width="1.8" height="1.8" fill="#2f5797"/>
<rect x="87.52" y="381.35" width="1.8" height="1.8" fill="#2f5797"/>
<rect x="94.14" y="382.93" width="1.8" height="1.8" fill="#2f5797"/>
<rect x="100.76" y="379.77" width="1.8" height="1.8" fill="#2f5797"/>
<rect x="107.38" y="383.72" width="1.8" height="1.8" fill="#2f5797"/>
<rect x="114" y="381.35" width="1.8" height="1.8" fill="#2f5797"/>
<rect x="120.62" y="381.35" width="1.8" height="1.8" fill="#2f5797"/>
<rect x="127.24" y="392.41" width="1.8" height="1.8" fill="#2f5797"/>
<polyline points="55.32,366.92 61.94,371.98 68.56,382.41 75.18,381.46 81.8,376.4 88.42,380.51 95.04,381.46 101.66,383.04 108.28,391.73 114.9,379.88 121.52,388.57 128.14,394.1" fill="none" stroke="#b3202e" stroke-width="0.7" stroke-linejoin="round"/>
<rect x="54.42" y="366.02" width="1.8" height="1.8" fill="#b3202e"/>
<rect x="61.04" y="371.08" width="1.8" height="1.8" fill="#b3202e"/>
<rect x="67.66" y="381.51" width="1.8" height="1.8" fill="#b3202e"/>
<rect x="74.28" y="380.56" width="1.8" height="1.8" fill="#b3202e"/>
<rect x="80.9" y="375.5" width="1.8" height="1.8" fill="#b3202e"/>
<rect x="87.52" y="379.61" width="1.8" height="1.8" fill="#b3202e"/>
<rect x="94.14" y="380.56" width="1.8" height="1.8" fill="#b3202e"/>
<rect x="100.76" y="382.14" width="1.8" height="1.8" fill="#b3202e"/>
<rect x="107.38" y="390.83" width="1.8" height="1.8" fill="#b3202e"/>
<rect x="114" y="378.98" width="1.8" height="1.8" fill="#b3202e"/>
<rect x="120.62" y="387.67" width="1.8" height="1.8" fill="#b3202e"/>
<rect x="127.24" y="393.2" width="1.8" height="1.8" fill="#b3202e"/>
<line x1="148" y1="384" x2="148" y2="389.5" stroke="#5aa0d8" stroke-width="0.6"/>
<polyline points="104.5,398.3 108.7,401.5" fill="none" stroke="#3a7356" stroke-width="0.7" stroke-linejoin="round"/>
<rect x="107.8" y="400.6" width="1.8" height="1.8" fill="#3a7356"/>
<polyline points="126.3,398.3 128.6,404.1 135.2,405.2 141.8,422.1" fill="none" stroke="#b3202e" stroke-width="0.7" stroke-linejoin="round"/>
<rect x="127.7" y="403.2" width="1.8" height="1.8" fill="#b3202e"/>
<rect x="134.3" y="404.3" width="1.8" height="1.8" fill="#b3202e"/>
<rect x="140.9" y="421.2" width="1.8" height="1.8" fill="#b3202e"/>
<polyline points="131.7,398.3 135.2,407.9" fill="none" stroke="#2f5797" stroke-width="0.7" stroke-linejoin="round"/>
<rect x="134.3" y="407" width="1.8" height="1.8" fill="#2f5797"/>
<polyline points="133.5,398.3 134.6,401.5" fill="none" stroke="#f2b431" stroke-width="0.7" stroke-linejoin="round"/>
<rect x="133.7" y="400.6" width="1.8" height="1.8" fill="#f2b431"/>
<polyline points="134.5,398.3 135.2,405 142.1,409.6 148.7,423.7" fill="none" stroke="#72b847" stroke-width="0.7" stroke-linejoin="round"/>
<rect x="134.3" y="404.1" width="1.8" height="1.8" fill="#72b847"/>
<rect x="141.2" y="408.7" width="1.8" height="1.8" fill="#72b847"/>
<rect x="147.8" y="422.8" width="1.8" height="1.8" fill="#72b847"/>
<text x="71.2" y="476.3" font-size="9" fill="#231f20" stroke="#231f20" stroke-width="0.22" text-anchor="start" textLength="56.5" lengthAdjust="spacingAndGlyphs">Platelet Count</text>
<line x1="48.4" y1="482.2" x2="48.4" y2="504.5" stroke="#231f20" stroke-width="1.1"/>
<line x1="48.4" y1="509.6" x2="48.4" y2="554" stroke="#231f20" stroke-width="1.1"/>
<line x1="46.3" y1="553.8" x2="152" y2="553.8" stroke="#231f20" stroke-width="1.2"/>
<line x1="45.4" y1="485.4" x2="48.4" y2="485.4" stroke="#231f20" stroke-width="0.8"/>
<line x1="45.4" y1="494.6" x2="48.4" y2="494.6" stroke="#231f20" stroke-width="0.8"/>
<line x1="45.4" y1="503.8" x2="48.4" y2="503.8" stroke="#231f20" stroke-width="0.8"/>
<line x1="45.4" y1="519.1" x2="48.4" y2="519.1" stroke="#231f20" stroke-width="0.8"/>
<line x1="45.4" y1="532" x2="48.4" y2="532" stroke="#231f20" stroke-width="0.8"/>
<line x1="45.4" y1="544.9" x2="48.4" y2="544.9" stroke="#231f20" stroke-width="0.8"/>
<text x="42" y="488.1" font-size="7.6" fill="#231f20" stroke="#231f20" stroke-width="0.15" text-anchor="end">2000</text>
<text x="42" y="497.3" font-size="7.6" fill="#231f20" stroke="#231f20" stroke-width="0.15" text-anchor="end">1500</text>
<text x="42" y="506.5" font-size="7.6" fill="#231f20" stroke="#231f20" stroke-width="0.15" text-anchor="end">1000</text>
<text x="42" y="521.8" font-size="7.6" fill="#231f20" stroke="#231f20" stroke-width="0.15" text-anchor="end">800</text>
<text x="42" y="534.7" font-size="7.6" fill="#231f20" stroke="#231f20" stroke-width="0.15" text-anchor="end">600</text>
<text x="42" y="547.6" font-size="7.6" fill="#231f20" stroke="#231f20" stroke-width="0.15" text-anchor="end">400</text>
<line x1="48.7" y1="553.8" x2="48.7" y2="556.4" stroke="#231f20" stroke-width="0.8"/>
<text x="48.7" y="566.2" font-size="7.5" fill="#231f20" stroke="#231f20" stroke-width="0.15" text-anchor="middle">0</text>
<line x1="81.8" y1="553.8" x2="81.8" y2="556.4" stroke="#231f20" stroke-width="0.8"/>
<text x="81.8" y="566.2" font-size="7.5" fill="#231f20" stroke="#231f20" stroke-width="0.15" text-anchor="middle">5</text>
<line x1="114.9" y1="553.8" x2="114.9" y2="556.4" stroke="#231f20" stroke-width="0.8"/>
<text x="114.9" y="566.2" font-size="7.5" fill="#231f20" stroke="#231f20" stroke-width="0.15" text-anchor="middle">10</text>
<line x1="148" y1="553.8" x2="148" y2="556.4" stroke="#231f20" stroke-width="0.8"/>
<text x="148" y="566.2" font-size="7.5" fill="#231f20" stroke="#231f20" stroke-width="0.15" text-anchor="middle">15</text>
<text x="70" y="579.2" font-size="9.3" fill="#231f20" stroke="#231f20" stroke-width="0.22" text-anchor="start" textLength="58.4" lengthAdjust="spacingAndGlyphs">Time (months)</text>
<text transform="translate(19.5,517.8) rotate(-90)" x="0" y="0" font-size="9.4" fill="#231f20" stroke="#231f20" stroke-width="0.22" text-anchor="middle" textLength="54" lengthAdjust="spacingAndGlyphs">PLT  [*10³/µL]</text>
<rect x="124.6" y="508.1" width="27" height="42.1" fill="none" stroke="#2b2b2b" stroke-width="1"/>
<polyline points="55.32,501.04 61.94,499.2 68.56,500.12 75.18,501.96 81.8,499.2 88.42,499.2 95.04,496.44 101.66,498.28 108.28,497.36 114.9,497.36 121.52,493.68 128.14,498.28 134.76,500.12 141.38,497.36 148,497.36" fill="none" stroke="#4d4d4f" stroke-width="0.7" stroke-linejoin="round"/>
<rect x="54.42" y="500.14" width="1.8" height="1.8" fill="#4d4d4f"/>
<rect x="61.04" y="498.3" width="1.8" height="1.8" fill="#4d4d4f"/>
<rect x="67.66" y="499.22" width="1.8" height="1.8" fill="#4d4d4f"/>
<rect x="74.28" y="501.06" width="1.8" height="1.8" fill="#4d4d4f"/>
<rect x="80.9" y="498.3" width="1.8" height="1.8" fill="#4d4d4f"/>
<rect x="87.52" y="498.3" width="1.8" height="1.8" fill="#4d4d4f"/>
<rect x="94.14" y="495.54" width="1.8" height="1.8" fill="#4d4d4f"/>
<rect x="100.76" y="497.38" width="1.8" height="1.8" fill="#4d4d4f"/>
<rect x="107.38" y="496.46" width="1.8" height="1.8" fill="#4d4d4f"/>
<rect x="114" y="496.46" width="1.8" height="1.8" fill="#4d4d4f"/>
<rect x="120.62" y="492.78" width="1.8" height="1.8" fill="#4d4d4f"/>
<rect x="127.24" y="497.38" width="1.8" height="1.8" fill="#4d4d4f"/>
<rect x="133.86" y="499.22" width="1.8" height="1.8" fill="#4d4d4f"/>
<rect x="140.48" y="496.46" width="1.8" height="1.8" fill="#4d4d4f"/>
<rect x="147.1" y="496.46" width="1.8" height="1.8" fill="#4d4d4f"/>
<polyline points="55.32,501.04 61.94,502.88 68.56,502.88 75.18,502.88 81.8,501.96 88.42,501.96 95.04,500.12 101.66,501.04 108.28,500.12 114.9,499.2 121.52,501.04 128.14,500.12 134.76,502.88 141.38,495.52 148,498.28" fill="none" stroke="#5aa0d8" stroke-width="0.7" stroke-linejoin="round"/>
<rect x="54.42" y="500.14" width="1.8" height="1.8" fill="#5aa0d8"/>
<rect x="61.04" y="501.98" width="1.8" height="1.8" fill="#5aa0d8"/>
<rect x="67.66" y="501.98" width="1.8" height="1.8" fill="#5aa0d8"/>
<rect x="74.28" y="501.98" width="1.8" height="1.8" fill="#5aa0d8"/>
<rect x="80.9" y="501.06" width="1.8" height="1.8" fill="#5aa0d8"/>
<rect x="87.52" y="501.06" width="1.8" height="1.8" fill="#5aa0d8"/>
<rect x="94.14" y="499.22" width="1.8" height="1.8" fill="#5aa0d8"/>
<rect x="100.76" y="500.14" width="1.8" height="1.8" fill="#5aa0d8"/>
<rect x="107.38" y="499.22" width="1.8" height="1.8" fill="#5aa0d8"/>
<rect x="114" y="498.3" width="1.8" height="1.8" fill="#5aa0d8"/>
<rect x="120.62" y="500.14" width="1.8" height="1.8" fill="#5aa0d8"/>
<rect x="127.24" y="499.22" width="1.8" height="1.8" fill="#5aa0d8"/>
<rect x="133.86" y="501.98" width="1.8" height="1.8" fill="#5aa0d8"/>
<rect x="140.48" y="494.62" width="1.8" height="1.8" fill="#5aa0d8"/>
<rect x="147.1" y="497.38" width="1.8" height="1.8" fill="#5aa0d8"/>
<polyline points="55.32,502.88 61.94,501.96 68.56,501.96 75.18,501.04 81.8,502.88 88.42,503.8 95.04,497.36 101.66,496.44 108.28,500.12 114.9,499.2 121.52,499.2 128.14,500.12 134.76,500.12 141.38,502.88" fill="none" stroke="#72b847" stroke-width="0.7" stroke-linejoin="round"/>
<rect x="54.42" y="501.98" width="1.8" height="1.8" fill="#72b847"/>
<rect x="61.04" y="501.06" width="1.8" height="1.8" fill="#72b847"/>
<rect x="67.66" y="501.06" width="1.8" height="1.8" fill="#72b847"/>
<rect x="74.28" y="500.14" width="1.8" height="1.8" fill="#72b847"/>
<rect x="80.9" y="501.98" width="1.8" height="1.8" fill="#72b847"/>
<rect x="87.52" y="502.9" width="1.8" height="1.8" fill="#72b847"/>
<rect x="94.14" y="496.46" width="1.8" height="1.8" fill="#72b847"/>
<rect x="100.76" y="495.54" width="1.8" height="1.8" fill="#72b847"/>
<rect x="107.38" y="499.22" width="1.8" height="1.8" fill="#72b847"/>
<rect x="114" y="498.3" width="1.8" height="1.8" fill="#72b847"/>
<rect x="120.62" y="498.3" width="1.8" height="1.8" fill="#72b847"/>
<rect x="127.24" y="499.22" width="1.8" height="1.8" fill="#72b847"/>
<rect x="133.86" y="499.22" width="1.8" height="1.8" fill="#72b847"/>
<rect x="140.48" y="501.98" width="1.8" height="1.8" fill="#72b847"/>
<polyline points="55.32,496.44 61.94,495.52 68.56,501.04 75.18,501.96 81.8,499.2 88.42,502.88 95.04,496.44 101.66,497.36 108.28,496.44" fill="none" stroke="#f2b431" stroke-width="0.7" stroke-linejoin="round"/>
<rect x="54.42" y="495.54" width="1.8" height="1.8" fill="#f2b431"/>
<rect x="61.04" y="494.62" width="1.8" height="1.8" fill="#f2b431"/>
<rect x="67.66" y="500.14" width="1.8" height="1.8" fill="#f2b431"/>
<rect x="74.28" y="501.06" width="1.8" height="1.8" fill="#f2b431"/>
<rect x="80.9" y="498.3" width="1.8" height="1.8" fill="#f2b431"/>
<rect x="87.52" y="501.98" width="1.8" height="1.8" fill="#f2b431"/>
<rect x="94.14" y="495.54" width="1.8" height="1.8" fill="#f2b431"/>
<rect x="100.76" y="496.46" width="1.8" height="1.8" fill="#f2b431"/>
<rect x="107.38" y="495.54" width="1.8" height="1.8" fill="#f2b431"/>
<polyline points="121.52,497.36 128.14,496.44 134.76,501.04" fill="none" stroke="#f2b431" stroke-width="0.7" stroke-linejoin="round"/>
<rect x="120.62" y="496.46" width="1.8" height="1.8" fill="#f2b431"/>
<rect x="127.24" y="495.54" width="1.8" height="1.8" fill="#f2b431"/>
<rect x="133.86" y="500.14" width="1.8" height="1.8" fill="#f2b431"/>
<polyline points="55.32,501.96 61.94,499.2 68.56,499.2 75.18,502.88 81.8,495.52 88.42,493.68 95.04,493.68 101.66,493.68 108.28,493.68 114.9,495.52 121.52,498.28 128.14,502.88" fill="none" stroke="#2f5797" stroke-width="0.7" stroke-linejoin="round"/>
<rect x="54.42" y="501.06" width="1.8" height="1.8" fill="#2f5797"/>
<rect x="61.04" y="498.3" width="1.8" height="1.8" fill="#2f5797"/>
<rect x="67.66" y="498.3" width="1.8" height="1.8" fill="#2f5797"/>
<rect x="74.28" y="501.98" width="1.8" height="1.8" fill="#2f5797"/>
<rect x="80.9" y="494.62" width="1.8" height="1.8" fill="#2f5797"/>
<rect x="87.52" y="492.78" width="1.8" height="1.8" fill="#2f5797"/>
<rect x="94.14" y="492.78" width="1.8" height="1.8" fill="#2f5797"/>
<rect x="100.76" y="492.78" width="1.8" height="1.8" fill="#2f5797"/>
<rect x="107.38" y="492.78" width="1.8" height="1.8" fill="#2f5797"/>
<rect x="114" y="494.62" width="1.8" height="1.8" fill="#2f5797"/>
<rect x="120.62" y="497.38" width="1.8" height="1.8" fill="#2f5797"/>
<rect x="127.24" y="501.98" width="1.8" height="1.8" fill="#2f5797"/>
<polyline points="55.32,501.96 61.94,503.8 68.56,503.8 75.18,501.04" fill="none" stroke="#3a7356" stroke-width="0.7" stroke-linejoin="round"/>
<rect x="54.42" y="501.06" width="1.8" height="1.8" fill="#3a7356"/>
<rect x="61.04" y="502.9" width="1.8" height="1.8" fill="#3a7356"/>
<rect x="67.66" y="502.9" width="1.8" height="1.8" fill="#3a7356"/>
<rect x="74.28" y="500.14" width="1.8" height="1.8" fill="#3a7356"/>
<polyline points="95.04,498.28 101.66,496.44 108.28,498.28 114.9,499.2 121.52,500.12 128.14,502.88" fill="none" stroke="#3a7356" stroke-width="0.7" stroke-linejoin="round"/>
<rect x="94.14" y="497.38" width="1.8" height="1.8" fill="#3a7356"/>
<rect x="100.76" y="495.54" width="1.8" height="1.8" fill="#3a7356"/>
<rect x="107.38" y="497.38" width="1.8" height="1.8" fill="#3a7356"/>
<rect x="114" y="498.3" width="1.8" height="1.8" fill="#3a7356"/>
<rect x="120.62" y="499.22" width="1.8" height="1.8" fill="#3a7356"/>
<rect x="127.24" y="501.98" width="1.8" height="1.8" fill="#3a7356"/>
<polyline points="55.32,497.36 61.94,499.2 68.56,500.12 75.18,501.04" fill="none" stroke="#b3202e" stroke-width="0.7" stroke-linejoin="round"/>
<rect x="54.42" y="496.46" width="1.8" height="1.8" fill="#b3202e"/>
<rect x="61.04" y="498.3" width="1.8" height="1.8" fill="#b3202e"/>
<rect x="67.66" y="499.22" width="1.8" height="1.8" fill="#b3202e"/>
<rect x="74.28" y="500.14" width="1.8" height="1.8" fill="#b3202e"/>
<polyline points="88.42,494.6 95.04,497.36 101.66,499.2 108.28,492.76 114.9,495.52 121.52,500.12 128.14,497.36 134.76,500.12" fill="none" stroke="#b3202e" stroke-width="0.7" stroke-linejoin="round"/>
<rect x="87.52" y="493.7" width="1.8" height="1.8" fill="#b3202e"/>
<rect x="94.14" y="496.46" width="1.8" height="1.8" fill="#b3202e"/>
<rect x="100.76" y="498.3" width="1.8" height="1.8" fill="#b3202e"/>
<rect x="107.38" y="491.86" width="1.8" height="1.8" fill="#b3202e"/>
<rect x="114" y="494.62" width="1.8" height="1.8" fill="#b3202e"/>
<rect x="120.62" y="499.22" width="1.8" height="1.8" fill="#b3202e"/>
<rect x="127.24" y="496.46" width="1.8" height="1.8" fill="#b3202e"/>
<rect x="133.86" y="499.22" width="1.8" height="1.8" fill="#b3202e"/>
<polyline points="77.17,505 81.8,519.5 88.42,517 92.39,505" fill="none" stroke="#3a7356" stroke-width="0.7" stroke-linejoin="round"/>
<rect x="76.27" y="504.1" width="1.8" height="1.8" fill="#3a7356"/>
<rect x="80.9" y="518.6" width="1.8" height="1.8" fill="#3a7356"/>
<rect x="87.52" y="516.1" width="1.8" height="1.8" fill="#3a7356"/>
<rect x="91.49" y="504.1" width="1.8" height="1.8" fill="#3a7356"/>
<rect x="80.9" y="509.8" width="1.8" height="1.8" fill="#b3202e"/>
<polyline points="111.59,505 114.9,517.7 118.21,505" fill="none" stroke="#f2b431" stroke-width="0.7" stroke-linejoin="round"/>
<rect x="114" y="516.8" width="1.8" height="1.8" fill="#f2b431"/>
<polyline points="128.5,508.1 134.8,544.5" fill="none" stroke="#2f5797" stroke-width="0.7" stroke-linejoin="round"/>
<rect x="133.9" y="543.6" width="1.8" height="1.8" fill="#2f5797"/>
<polyline points="132.5,508.1 134.8,514.7" fill="none" stroke="#f2b431" stroke-width="0.7" stroke-linejoin="round"/>
<rect x="133.9" y="513.8" width="1.8" height="1.8" fill="#f2b431"/>
<polyline points="137.5,508.1 141.2,522.4" fill="none" stroke="#b3202e" stroke-width="0.7" stroke-linejoin="round"/>
<rect x="140.3" y="521.5" width="1.8" height="1.8" fill="#b3202e"/>
<rect x="147.1" y="509.1" width="1.8" height="1.8" fill="#72b847"/>
<text x="174.2" y="18.7" font-size="11.6" fill="#231f20" stroke="#231f20" stroke-width="0.22" text-anchor="start">C</text>
<text x="235.6" y="15.8" font-size="8.8" fill="#231f20" stroke="#231f20" stroke-width="0.22" text-anchor="start" textLength="73.6" lengthAdjust="spacingAndGlyphs">NFE2 109aa (#539)</text>
<text x="396.5" y="15.8" font-size="8.8" fill="#231f20" stroke="#231f20" stroke-width="0.22" text-anchor="start" textLength="92.3" lengthAdjust="spacingAndGlyphs">NFE2 Δ297-300aa (#40)</text>
<polygon points="204.46,70.48 204.25,64.23 204.68,56.69 204.68,49.15 205.54,42.69 205.75,37.31 207.15,33.54 209.31,31.71 211.46,31.06 212.86,32.46 212,35.15 213.29,36.23 214.37,35.8 214.91,37.85 213.29,40.54 212.21,42.15 212.75,45.38 213.83,47.54 214.37,50.23 215.45,52.38 218.14,54.54 220.29,56.15 220.83,59.38 218.68,62.08 217.17,64.23 218.68,66.38 222.77,66.92 227.08,66.71 230.31,67.14 231.6,68.75 227.08,69.51 219.54,69.72" fill="#4c7cc0" stroke="#2a4a96" stroke-width="1.2" stroke-linejoin="round" filter="url(#bl)"/>
<polygon points="222.98,55.08 223.31,51.31 224.38,49.69 226.54,47.54 227.08,44.85 226.21,42.69 227.08,40 228.69,37.31 229.23,35.15 230.85,33 233.54,30.85 236.77,29.23 241.08,27.62 245.38,27.08 246.24,28.69 246.14,35.15 245.38,40.54 243.77,44.85 241.08,48.61 237.84,51.31 233.54,53.46 229.23,55.08 225.46,55.83" fill="#4c7cc0" stroke="#2a4a96" stroke-width="1.2" stroke-linejoin="round" filter="url(#bl)"/>
<polygon points="216.09,37.31 218.46,36.45 221.15,37.31 224.92,37.85 225.14,40.54 222.77,41.08 219.54,41.61 216.85,41.83 216.09,40" fill="#4c7cc0" stroke="#2a4a96" stroke-width="1.2" stroke-linejoin="round" filter="url(#bl)"/>
<ellipse cx="236.23" cy="68" rx="2.05" ry="1.4" fill="#4474b8" stroke="#2a4a96" stroke-width="0.9" filter="url(#bl)"/>
<ellipse cx="244.52" cy="66.38" rx="0.65" ry="0.65" fill="#4474b8" stroke="#2a4a96" stroke-width="0.9" filter="url(#bl)"/>
<ellipse cx="228.15" cy="62.94" rx="0.65" ry="0.65" fill="#4474b8" stroke="#2a4a96" stroke-width="0.9" filter="url(#bl)"/>
<ellipse cx="216.85" cy="47.54" rx="0.75" ry="0.75" fill="#4474b8" stroke="#2a4a96" stroke-width="0.9" filter="url(#bl)"/>
<polygon points="206.4,67.46 206.18,57.77 206.4,49.15 207.26,41.61 207.91,36.23 209.85,33.54 211.14,33.86 210.71,36.77 210.06,41.61 210.71,47 212.54,51.31 216.31,55.61 217.38,59.92 215.23,64.23 209.85,67.24" fill="#78a8d8" filter="url(#bl)"/>
<polygon points="225.46,54 226.21,50.23 228.37,47.54 229.01,43.23 230.31,38.38 233.54,33.54 238.92,30.31 244.31,28.48 245.38,29.77 244.95,38.38 242.15,45.38 237.84,49.69 231.38,53.25" fill="#7fb0da" filter="url(#bl)"/>
<polygon points="228.15,51.85 229.77,47 231.38,42.15 234.61,36.77 240,31.92 244.52,29.55 244.09,39.46 240.54,45.92 234.61,50.77" fill="#a6cde6" filter="url(#bl)"/>
<polygon points="235.15,43.77 236.77,37.31 241.08,31.71 244.74,29.34 244.52,36.23 242.15,42.15 238.38,44.85" fill="#c4dca8" filter="url(#bl)"/>
<polygon points="239.46,39.46 241.08,33 244.09,29.77 244.74,31.92 243.77,37.85 241.61,40.54" fill="#dcd870" filter="url(#bl)"/>
<ellipse cx="208.77" cy="51.31" rx="1.94" ry="6.46" fill="#a6cde6" filter="url(#bl)"/>
<ellipse cx="208.55" cy="40.54" rx="1.08" ry="4.31" fill="#a8cce6" filter="url(#bl)"/>
<ellipse cx="222.77" cy="68" rx="6.46" ry="0.97" fill="#80b0da" filter="url(#bl)"/>
<ellipse cx="219.54" cy="41.18" rx="2.69" ry="1.29" fill="#5a8ccc" filter="url(#bl)"/>
<ellipse cx="207.69" cy="68" rx="3.02" ry="1.72" fill="#d6e0a0" filter="url(#bl)"/>
<ellipse cx="207.48" cy="68.11" rx="2.15" ry="1.18" fill="#e6d35a" filter="url(#bl)"/>
<ellipse cx="207.26" cy="68.21" rx="1.4" ry="0.75" fill="#ef9a3a" filter="url(#bl)"/>
<ellipse cx="207.05" cy="68.32" rx="0.65" ry="0.43" fill="#d9402c" filter="url(#bl)"/>
<polygon points="290.47,36.63 294.79,35.42 299.98,39.22 306.9,39.22 309.5,43.55 310.36,47.87 307.77,51.33 303.44,53.06 298.25,52.2 294.79,56.52 292.2,58.25 290.47,53.06" fill="#4c7cc0" stroke="#2a4a96" stroke-width="1.2" stroke-linejoin="round" filter="url(#bl)"/>
<polygon points="292.2,38.36 295.66,37.49 299.12,42.68 304.31,43.55 306.56,47.53 303.44,49.95 296.52,50.12 293.41,52.2" fill="#3e66b0" filter="url(#bl)"/>
<ellipse cx="294.1" cy="46.14" rx="2.77" ry="9.52" fill="#78a8d8" filter="url(#bl)"/>
<ellipse cx="293.41" cy="45.28" rx="1.73" ry="7.79" fill="#a6cde6" filter="url(#bl)"/>
<ellipse cx="293.41" cy="44.41" rx="1.21" ry="5.54" fill="#c8d888" filter="url(#bl)"/>
<polygon points="290.47,65.17 296.52,63.44 303.44,62.58 306.9,60.33 312.09,60.85 315.55,63.44 320.74,64.31 324.2,66.9 325.07,69.5 320.74,70.36 306.9,70.71 293.06,70.71 290.47,68.63" fill="#4c7cc0" stroke="#2a4a96" stroke-width="1.2" stroke-linejoin="round" filter="url(#bl)"/>
<polygon points="292.2,66.04 303.44,65.17 310.36,63.44 317.28,66.04 320.74,68.63 306.9,69.5 293.06,69.5" fill="#5f8fca" filter="url(#bl)"/>
<ellipse cx="299.98" cy="67.42" rx="8.65" ry="1.56" fill="#a6cde6" filter="url(#bl)"/>
<ellipse cx="294.45" cy="67.77" rx="3.46" ry="1.38" fill="#e6d35a" filter="url(#bl)"/>
<ellipse cx="294.1" cy="67.94" rx="1.56" ry="0.69" fill="#d9402c" filter="url(#bl)"/>
<polygon points="377.01,68.63 377.87,49.6 378.74,40.95 379.6,37.49 384.79,36.63 395.17,35.42 403.82,34.03 410.74,34.9 414.2,38.36 413.34,42.68 409.01,49.6 405.55,53.93 400.36,53.06 396.9,49.6 391.71,44.41 384.79,42.68 381.33,44.41 380.99,54.79 380.47,66.9 384.79,68.63 384.79,70.02 377.01,70.02" fill="#4c7cc0" stroke="#2a4a96" stroke-width="1.2" stroke-linejoin="round" filter="url(#bl)"/>
<polygon points="378.22,66.9 378.74,46.14 379.95,39.22 386.52,38.88 396.9,37.49 405.55,36.11 411.61,38.36 410.74,44.41 406.42,50.47 401.23,50.47 396.9,46.14 389.98,41.82 382.2,41.82 380.12,47.87 379.6,66.9" fill="#5f8fca" filter="url(#bl)"/>
<polygon points="396.9,40.95 403.82,37.84 409.88,39.57 409.36,45.28 405.55,49.6 401.23,48.74" fill="#a6cde6" filter="url(#bl)"/>
<ellipse cx="404.34" cy="43.55" rx="5.19" ry="5.54" fill="#d6e0a0" filter="url(#bl)"/>
<ellipse cx="404.69" cy="43.89" rx="3.46" ry="4.15" fill="#e6d35a" filter="url(#bl)"/>
<ellipse cx="404.86" cy="44.07" rx="1.56" ry="2.08" fill="#ef9a3a" filter="url(#bl)"/>
<ellipse cx="405.03" cy="44.07" rx="0.61" ry="0.87" fill="#d9402c" filter="url(#bl)"/>
<ellipse cx="379.26" cy="68.29" rx="1.04" ry="0.87" fill="#ef9a3a" filter="url(#bl)"/>
<polygon points="464.6,34.03 467.2,33.17 469.45,35.76 470.14,40.95 468.93,43.55 465.47,43.55 464.26,39.22" fill="#4c7cc0" stroke="#2a4a96" stroke-width="1.2" stroke-linejoin="round" filter="url(#bl)"/>
<ellipse cx="466.85" cy="38.36" rx="1.21" ry="3.29" fill="#6c9cd2" filter="url(#bl)"/>
<polygon points="464.26,70.02 464.6,62.58 465.99,59.29 469.79,57.91 472.39,58.6 471.52,63.79 472.91,66.9 475.33,68.98 475.33,70.36 469.79,70.71 464.26,70.71" fill="#4c7cc0" stroke="#2a4a96" stroke-width="1.2" stroke-linejoin="round" filter="url(#bl)"/>
<ellipse cx="467.02" cy="65.52" rx="1.9" ry="4.15" fill="#7aaad8" filter="url(#bl)"/>
<ellipse cx="466.33" cy="67.77" rx="1.38" ry="1.73" fill="#d6e0a0" filter="url(#bl)"/>
<ellipse cx="465.99" cy="68.11" rx="0.87" ry="0.87" fill="#e6d35a" filter="url(#bl)"/>
<polygon points="487.09,68.63 490.55,66.04 494.88,65.52 499.2,66.9 501.28,68.98 497.47,70.36 488.82,70.36" fill="#4c7cc0" stroke="#2a4a96" stroke-width="1.2" stroke-linejoin="round" filter="url(#bl)"/>
<ellipse cx="493.67" cy="68.63" rx="4.5" ry="1.04" fill="#78a8d8" filter="url(#bl)"/>
<ellipse cx="493.15" cy="68.63" rx="2.08" ry="0.52" fill="#a6cde6" filter="url(#bl)"/>
<ellipse cx="476.37" cy="56.52" rx="0.69" ry="0.69" fill="#4474b8" stroke="#2a4a96" stroke-width="0.9" filter="url(#bl)"/>
<ellipse cx="504.74" cy="68.98" rx="0.52" ry="0.52" fill="#4474b8" stroke="#2a4a96" stroke-width="0.9" filter="url(#bl)"/>
<ellipse cx="476.37" cy="68.98" rx="0.69" ry="0.69" fill="#4474b8" stroke="#2a4a96" stroke-width="0.9" filter="url(#bl)"/>
<rect x="201.6" y="21.8" width="50" height="50.2" fill="none" stroke="#1a1a1a" stroke-width="0.9"/>
<line x1="199.2" y1="28.7" x2="201.6" y2="28.7" stroke="#231f20" stroke-width="0.8"/>
<line x1="199.2" y1="43.6" x2="201.6" y2="43.6" stroke="#231f20" stroke-width="0.8"/>
<line x1="199.2" y1="58.5" x2="201.6" y2="58.5" stroke="#231f20" stroke-width="0.8"/>
<line x1="200.3" y1="39.11" x2="201.6" y2="39.11" stroke="#231f20" stroke-width="0.6"/>
<line x1="200.3" y1="36.49" x2="201.6" y2="36.49" stroke="#231f20" stroke-width="0.6"/>
<line x1="200.3" y1="34.63" x2="201.6" y2="34.63" stroke="#231f20" stroke-width="0.6"/>
<line x1="200.3" y1="33.19" x2="201.6" y2="33.19" stroke="#231f20" stroke-width="0.6"/>
<line x1="200.3" y1="32.01" x2="201.6" y2="32.01" stroke="#231f20" stroke-width="0.6"/>
<line x1="200.3" y1="31.01" x2="201.6" y2="31.01" stroke="#231f20" stroke-width="0.6"/>
<line x1="200.3" y1="30.14" x2="201.6" y2="30.14" stroke="#231f20" stroke-width="0.6"/>
<line x1="200.3" y1="29.38" x2="201.6" y2="29.38" stroke="#231f20" stroke-width="0.6"/>
<line x1="200.3" y1="54.01" x2="201.6" y2="54.01" stroke="#231f20" stroke-width="0.6"/>
<line x1="200.3" y1="51.39" x2="201.6" y2="51.39" stroke="#231f20" stroke-width="0.6"/>
<line x1="200.3" y1="49.53" x2="201.6" y2="49.53" stroke="#231f20" stroke-width="0.6"/>
<line x1="200.3" y1="48.09" x2="201.6" y2="48.09" stroke="#231f20" stroke-width="0.6"/>
<line x1="200.3" y1="46.91" x2="201.6" y2="46.91" stroke="#231f20" stroke-width="0.6"/>
<line x1="200.3" y1="45.91" x2="201.6" y2="45.91" stroke="#231f20" stroke-width="0.6"/>
<line x1="200.3" y1="45.04" x2="201.6" y2="45.04" stroke="#231f20" stroke-width="0.6"/>
<line x1="200.3" y1="44.28" x2="201.6" y2="44.28" stroke="#231f20" stroke-width="0.6"/>
<line x1="200.3" y1="68.91" x2="201.6" y2="68.91" stroke="#231f20" stroke-width="0.6"/>
<line x1="200.3" y1="66.29" x2="201.6" y2="66.29" stroke="#231f20" stroke-width="0.6"/>
<line x1="200.3" y1="64.43" x2="201.6" y2="64.43" stroke="#231f20" stroke-width="0.6"/>
<line x1="200.3" y1="62.99" x2="201.6" y2="62.99" stroke="#231f20" stroke-width="0.6"/>
<line x1="200.3" y1="61.81" x2="201.6" y2="61.81" stroke="#231f20" stroke-width="0.6"/>
<line x1="200.3" y1="60.81" x2="201.6" y2="60.81" stroke="#231f20" stroke-width="0.6"/>
<line x1="200.3" y1="59.94" x2="201.6" y2="59.94" stroke="#231f20" stroke-width="0.6"/>
<line x1="200.3" y1="59.18" x2="201.6" y2="59.18" stroke="#231f20" stroke-width="0.6"/>
<line x1="200.6" y1="67" x2="200.6" y2="72" stroke="#231f20" stroke-width="2"/>
<line x1="218.1" y1="72" x2="218.1" y2="74.4" stroke="#231f20" stroke-width="0.8"/>
<line x1="231.1" y1="72" x2="231.1" y2="74.4" stroke="#231f20" stroke-width="0.8"/>
<line x1="244.6" y1="72" x2="244.6" y2="74.4" stroke="#231f20" stroke-width="0.8"/>
<line x1="222.01" y1="72" x2="222.01" y2="73.3" stroke="#231f20" stroke-width="0.6"/>
<line x1="224.3" y1="72" x2="224.3" y2="73.3" stroke="#231f20" stroke-width="0.6"/>
<line x1="225.93" y1="72" x2="225.93" y2="73.3" stroke="#231f20" stroke-width="0.6"/>
<line x1="227.19" y1="72" x2="227.19" y2="73.3" stroke="#231f20" stroke-width="0.6"/>
<line x1="228.22" y1="72" x2="228.22" y2="73.3" stroke="#231f20" stroke-width="0.6"/>
<line x1="229.09" y1="72" x2="229.09" y2="73.3" stroke="#231f20" stroke-width="0.6"/>
<line x1="229.84" y1="72" x2="229.84" y2="73.3" stroke="#231f20" stroke-width="0.6"/>
<line x1="230.51" y1="72" x2="230.51" y2="73.3" stroke="#231f20" stroke-width="0.6"/>
<line x1="235.16" y1="72" x2="235.16" y2="73.3" stroke="#231f20" stroke-width="0.6"/>
<line x1="237.54" y1="72" x2="237.54" y2="73.3" stroke="#231f20" stroke-width="0.6"/>
<line x1="239.23" y1="72" x2="239.23" y2="73.3" stroke="#231f20" stroke-width="0.6"/>
<line x1="240.54" y1="72" x2="240.54" y2="73.3" stroke="#231f20" stroke-width="0.6"/>
<line x1="241.61" y1="72" x2="241.61" y2="73.3" stroke="#231f20" stroke-width="0.6"/>
<line x1="242.51" y1="72" x2="242.51" y2="73.3" stroke="#231f20" stroke-width="0.6"/>
<line x1="243.29" y1="72" x2="243.29" y2="73.3" stroke="#231f20" stroke-width="0.6"/>
<line x1="243.98" y1="72" x2="243.98" y2="73.3" stroke="#231f20" stroke-width="0.6"/>
<line x1="248.57" y1="72" x2="248.57" y2="73.3" stroke="#231f20" stroke-width="0.6"/>
<line x1="250.9" y1="72" x2="250.9" y2="73.3" stroke="#231f20" stroke-width="0.6"/>
<line x1="214.19" y1="72" x2="214.19" y2="73.3" stroke="#231f20" stroke-width="0.6"/>
<line x1="215.22" y1="72" x2="215.22" y2="73.3" stroke="#231f20" stroke-width="0.6"/>
<line x1="216.09" y1="72" x2="216.09" y2="73.3" stroke="#231f20" stroke-width="0.6"/>
<line x1="216.84" y1="72" x2="216.84" y2="73.3" stroke="#231f20" stroke-width="0.6"/>
<line x1="217.51" y1="72" x2="217.51" y2="73.3" stroke="#231f20" stroke-width="0.6"/>
<line x1="201.6" y1="73.1" x2="207.1" y2="73.1" stroke="#231f20" stroke-width="2"/>
<text x="197.8" y="31" font-size="6" fill="#222" stroke="#222" stroke-width="0.06" text-anchor="end">10<tspan font-size="4" dy="-2.3">4</tspan></text>
<text x="197.8" y="46" font-size="6" fill="#222" stroke="#222" stroke-width="0.06" text-anchor="end">10<tspan font-size="4" dy="-2.3">3</tspan></text>
<text x="197.8" y="61" font-size="6" fill="#222" stroke="#222" stroke-width="0.06" text-anchor="end">10<tspan font-size="4" dy="-2.3">2</tspan></text>
<text x="196.4" y="70.9" font-size="6" fill="#222" stroke="#222" stroke-width="0.11" text-anchor="end">0</text>
<text x="206.8" y="85.6" font-size="6" fill="#222" stroke="#222" stroke-width="0.11" text-anchor="middle">0</text>
<text x="219" y="85.6" font-size="6" fill="#222" stroke="#222" stroke-width="0.06" text-anchor="middle">10<tspan font-size="4" dy="-2.3">2</tspan></text>
<text x="232" y="85.6" font-size="6" fill="#222" stroke="#222" stroke-width="0.06" text-anchor="middle">10<tspan font-size="4" dy="-2.3">3</tspan></text>
<text x="245.5" y="85.6" font-size="6" fill="#222" stroke="#222" stroke-width="0.06" text-anchor="middle">10<tspan font-size="4" dy="-2.3">4</tspan></text>
<rect x="288.4" y="21.7" width="51.4" height="50.3" fill="none" stroke="#1a1a1a" stroke-width="0.9"/>
<line x1="286" y1="28.6" x2="288.4" y2="28.6" stroke="#231f20" stroke-width="0.8"/>
<line x1="286" y1="43.5" x2="288.4" y2="43.5" stroke="#231f20" stroke-width="0.8"/>
<line x1="286" y1="58.4" x2="288.4" y2="58.4" stroke="#231f20" stroke-width="0.8"/>
<line x1="287.1" y1="39.01" x2="288.4" y2="39.01" stroke="#231f20" stroke-width="0.6"/>
<line x1="287.1" y1="36.39" x2="288.4" y2="36.39" stroke="#231f20" stroke-width="0.6"/>
<line x1="287.1" y1="34.53" x2="288.4" y2="34.53" stroke="#231f20" stroke-width="0.6"/>
<line x1="287.1" y1="33.09" x2="288.4" y2="33.09" stroke="#231f20" stroke-width="0.6"/>
<line x1="287.1" y1="31.91" x2="288.4" y2="31.91" stroke="#231f20" stroke-width="0.6"/>
<line x1="287.1" y1="30.91" x2="288.4" y2="30.91" stroke="#231f20" stroke-width="0.6"/>
<line x1="287.1" y1="30.04" x2="288.4" y2="30.04" stroke="#231f20" stroke-width="0.6"/>
<line x1="287.1" y1="29.28" x2="288.4" y2="29.28" stroke="#231f20" stroke-width="0.6"/>
<line x1="287.1" y1="53.91" x2="288.4" y2="53.91" stroke="#231f20" stroke-width="0.6"/>
<line x1="287.1" y1="51.29" x2="288.4" y2="51.29" stroke="#231f20" stroke-width="0.6"/>
<line x1="287.1" y1="49.43" x2="288.4" y2="49.43" stroke="#231f20" stroke-width="0.6"/>
<line x1="287.1" y1="47.99" x2="288.4" y2="47.99" stroke="#231f20" stroke-width="0.6"/>
<line x1="287.1" y1="46.81" x2="288.4" y2="46.81" stroke="#231f20" stroke-width="0.6"/>
<line x1="287.1" y1="45.81" x2="288.4" y2="45.81" stroke="#231f20" stroke-width="0.6"/>
<line x1="287.1" y1="44.94" x2="288.4" y2="44.94" stroke="#231f20" stroke-width="0.6"/>
<line x1="287.1" y1="44.18" x2="288.4" y2="44.18" stroke="#231f20" stroke-width="0.6"/>
<line x1="287.1" y1="68.81" x2="288.4" y2="68.81" stroke="#231f20" stroke-width="0.6"/>
<line x1="287.1" y1="66.19" x2="288.4" y2="66.19" stroke="#231f20" stroke-width="0.6"/>
<line x1="287.1" y1="64.33" x2="288.4" y2="64.33" stroke="#231f20" stroke-width="0.6"/>
<line x1="287.1" y1="62.89" x2="288.4" y2="62.89" stroke="#231f20" stroke-width="0.6"/>
<line x1="287.1" y1="61.71" x2="288.4" y2="61.71" stroke="#231f20" stroke-width="0.6"/>
<line x1="287.1" y1="60.71" x2="288.4" y2="60.71" stroke="#231f20" stroke-width="0.6"/>
<line x1="287.1" y1="59.84" x2="288.4" y2="59.84" stroke="#231f20" stroke-width="0.6"/>
<line x1="287.1" y1="59.08" x2="288.4" y2="59.08" stroke="#231f20" stroke-width="0.6"/>
<line x1="287.4" y1="67" x2="287.4" y2="72" stroke="#231f20" stroke-width="2"/>
<line x1="304.9" y1="72" x2="304.9" y2="74.4" stroke="#231f20" stroke-width="0.8"/>
<line x1="317.9" y1="72" x2="317.9" y2="74.4" stroke="#231f20" stroke-width="0.8"/>
<line x1="331.4" y1="72" x2="331.4" y2="74.4" stroke="#231f20" stroke-width="0.8"/>
<line x1="308.81" y1="72" x2="308.81" y2="73.3" stroke="#231f20" stroke-width="0.6"/>
<line x1="311.1" y1="72" x2="311.1" y2="73.3" stroke="#231f20" stroke-width="0.6"/>
<line x1="312.73" y1="72" x2="312.73" y2="73.3" stroke="#231f20" stroke-width="0.6"/>
<line x1="313.99" y1="72" x2="313.99" y2="73.3" stroke="#231f20" stroke-width="0.6"/>
<line x1="315.02" y1="72" x2="315.02" y2="73.3" stroke="#231f20" stroke-width="0.6"/>
<line x1="315.89" y1="72" x2="315.89" y2="73.3" stroke="#231f20" stroke-width="0.6"/>
<line x1="316.64" y1="72" x2="316.64" y2="73.3" stroke="#231f20" stroke-width="0.6"/>
<line x1="317.31" y1="72" x2="317.31" y2="73.3" stroke="#231f20" stroke-width="0.6"/>
<line x1="321.96" y1="72" x2="321.96" y2="73.3" stroke="#231f20" stroke-width="0.6"/>
<line x1="324.34" y1="72" x2="324.34" y2="73.3" stroke="#231f20" stroke-width="0.6"/>
<line x1="326.03" y1="72" x2="326.03" y2="73.3" stroke="#231f20" stroke-width="0.6"/>
<line x1="327.34" y1="72" x2="327.34" y2="73.3" stroke="#231f20" stroke-width="0.6"/>
<line x1="328.41" y1="72" x2="328.41" y2="73.3" stroke="#231f20" stroke-width="0.6"/>
<line x1="329.31" y1="72" x2="329.31" y2="73.3" stroke="#231f20" stroke-width="0.6"/>
<line x1="330.09" y1="72" x2="330.09" y2="73.3" stroke="#231f20" stroke-width="0.6"/>
<line x1="330.78" y1="72" x2="330.78" y2="73.3" stroke="#231f20" stroke-width="0.6"/>
<line x1="335.37" y1="72" x2="335.37" y2="73.3" stroke="#231f20" stroke-width="0.6"/>
<line x1="337.7" y1="72" x2="337.7" y2="73.3" stroke="#231f20" stroke-width="0.6"/>
<line x1="339.35" y1="72" x2="339.35" y2="73.3" stroke="#231f20" stroke-width="0.6"/>
<line x1="300.99" y1="72" x2="300.99" y2="73.3" stroke="#231f20" stroke-width="0.6"/>
<line x1="302.02" y1="72" x2="302.02" y2="73.3" stroke="#231f20" stroke-width="0.6"/>
<line x1="302.89" y1="72" x2="302.89" y2="73.3" stroke="#231f20" stroke-width="0.6"/>
<line x1="303.64" y1="72" x2="303.64" y2="73.3" stroke="#231f20" stroke-width="0.6"/>
<line x1="304.31" y1="72" x2="304.31" y2="73.3" stroke="#231f20" stroke-width="0.6"/>
<line x1="288.4" y1="73.1" x2="293.9" y2="73.1" stroke="#231f20" stroke-width="2"/>
<text x="284.6" y="31" font-size="6" fill="#222" stroke="#222" stroke-width="0.06" text-anchor="end">10<tspan font-size="4" dy="-2.3">4</tspan></text>
<text x="284.6" y="46" font-size="6" fill="#222" stroke="#222" stroke-width="0.06" text-anchor="end">10<tspan font-size="4" dy="-2.3">3</tspan></text>
<text x="284.6" y="61" font-size="6" fill="#222" stroke="#222" stroke-width="0.06" text-anchor="end">10<tspan font-size="4" dy="-2.3">2</tspan></text>
<text x="283.2" y="70.9" font-size="6" fill="#222" stroke="#222" stroke-width="0.11" text-anchor="end">0</text>
<text x="293.6" y="85.6" font-size="6" fill="#222" stroke="#222" stroke-width="0.11" text-anchor="middle">0</text>
<text x="305.8" y="85.6" font-size="6" fill="#222" stroke="#222" stroke-width="0.06" text-anchor="middle">10<tspan font-size="4" dy="-2.3">2</tspan></text>
<text x="318.8" y="85.6" font-size="6" fill="#222" stroke="#222" stroke-width="0.06" text-anchor="middle">10<tspan font-size="4" dy="-2.3">3</tspan></text>
<text x="332.3" y="85.6" font-size="6" fill="#222" stroke="#222" stroke-width="0.06" text-anchor="middle">10<tspan font-size="4" dy="-2.3">4</tspan></text>
<rect x="375.3" y="21.7" width="50.2" height="50.3" fill="none" stroke="#1a1a1a" stroke-width="0.9"/>
<line x1="372.9" y1="28.6" x2="375.3" y2="28.6" stroke="#231f20" stroke-width="0.8"/>
<line x1="372.9" y1="43.5" x2="375.3" y2="43.5" stroke="#231f20" stroke-width="0.8"/>
<line x1="372.9" y1="58.4" x2="375.3" y2="58.4" stroke="#231f20" stroke-width="0.8"/>
<line x1="374" y1="39.01" x2="375.3" y2="39.01" stroke="#231f20" stroke-width="0.6"/>
<line x1="374" y1="36.39" x2="375.3" y2="36.39" stroke="#231f20" stroke-width="0.6"/>
<line x1="374" y1="34.53" x2="375.3" y2="34.53" stroke="#231f20" stroke-width="0.6"/>
<line x1="374" y1="33.09" x2="375.3" y2="33.09" stroke="#231f20" stroke-width="0.6"/>
<line x1="374" y1="31.91" x2="375.3" y2="31.91" stroke="#231f20" stroke-width="0.6"/>
<line x1="374" y1="30.91" x2="375.3" y2="30.91" stroke="#231f20" stroke-width="0.6"/>
<line x1="374" y1="30.04" x2="375.3" y2="30.04" stroke="#231f20" stroke-width="0.6"/>
<line x1="374" y1="29.28" x2="375.3" y2="29.28" stroke="#231f20" stroke-width="0.6"/>
<line x1="374" y1="53.91" x2="375.3" y2="53.91" stroke="#231f20" stroke-width="0.6"/>
<line x1="374" y1="51.29" x2="375.3" y2="51.29" stroke="#231f20" stroke-width="0.6"/>
<line x1="374" y1="49.43" x2="375.3" y2="49.43" stroke="#231f20" stroke-width="0.6"/>
<line x1="374" y1="47.99" x2="375.3" y2="47.99" stroke="#231f20" stroke-width="0.6"/>
<line x1="374" y1="46.81" x2="375.3" y2="46.81" stroke="#231f20" stroke-width="0.6"/>
<line x1="374" y1="45.81" x2="375.3" y2="45.81" stroke="#231f20" stroke-width="0.6"/>
<line x1="374" y1="44.94" x2="375.3" y2="44.94" stroke="#231f20" stroke-width="0.6"/>
<line x1="374" y1="44.18" x2="375.3" y2="44.18" stroke="#231f20" stroke-width="0.6"/>
<line x1="374" y1="68.81" x2="375.3" y2="68.81" stroke="#231f20" stroke-width="0.6"/>
<line x1="374" y1="66.19" x2="375.3" y2="66.19" stroke="#231f20" stroke-width="0.6"/>
<line x1="374" y1="64.33" x2="375.3" y2="64.33" stroke="#231f20" stroke-width="0.6"/>
<line x1="374" y1="62.89" x2="375.3" y2="62.89" stroke="#231f20" stroke-width="0.6"/>
<line x1="374" y1="61.71" x2="375.3" y2="61.71" stroke="#231f20" stroke-width="0.6"/>
<line x1="374" y1="60.71" x2="375.3" y2="60.71" stroke="#231f20" stroke-width="0.6"/>
<line x1="374" y1="59.84" x2="375.3" y2="59.84" stroke="#231f20" stroke-width="0.6"/>
<line x1="374" y1="59.08" x2="375.3" y2="59.08" stroke="#231f20" stroke-width="0.6"/>
<line x1="374.3" y1="67" x2="374.3" y2="72" stroke="#231f20" stroke-width="2"/>
<line x1="391.8" y1="72" x2="391.8" y2="74.4" stroke="#231f20" stroke-width="0.8"/>
<line x1="404.8" y1="72" x2="404.8" y2="74.4" stroke="#231f20" stroke-width="0.8"/>
<line x1="418.3" y1="72" x2="418.3" y2="74.4" stroke="#231f20" stroke-width="0.8"/>
<line x1="395.71" y1="72" x2="395.71" y2="73.3" stroke="#231f20" stroke-width="0.6"/>
<line x1="398" y1="72" x2="398" y2="73.3" stroke="#231f20" stroke-width="0.6"/>
<line x1="399.63" y1="72" x2="399.63" y2="73.3" stroke="#231f20" stroke-width="0.6"/>
<line x1="400.89" y1="72" x2="400.89" y2="73.3" stroke="#231f20" stroke-width="0.6"/>
<line x1="401.92" y1="72" x2="401.92" y2="73.3" stroke="#231f20" stroke-width="0.6"/>
<line x1="402.79" y1="72" x2="402.79" y2="73.3" stroke="#231f20" stroke-width="0.6"/>
<line x1="403.54" y1="72" x2="403.54" y2="73.3" stroke="#231f20" stroke-width="0.6"/>
<line x1="404.21" y1="72" x2="404.21" y2="73.3" stroke="#231f20" stroke-width="0.6"/>
<line x1="408.86" y1="72" x2="408.86" y2="73.3" stroke="#231f20" stroke-width="0.6"/>
<line x1="411.24" y1="72" x2="411.24" y2="73.3" stroke="#231f20" stroke-width="0.6"/>
<line x1="412.93" y1="72" x2="412.93" y2="73.3" stroke="#231f20" stroke-width="0.6"/>
<line x1="414.24" y1="72" x2="414.24" y2="73.3" stroke="#231f20" stroke-width="0.6"/>
<line x1="415.31" y1="72" x2="415.31" y2="73.3" stroke="#231f20" stroke-width="0.6"/>
<line x1="416.21" y1="72" x2="416.21" y2="73.3" stroke="#231f20" stroke-width="0.6"/>
<line x1="416.99" y1="72" x2="416.99" y2="73.3" stroke="#231f20" stroke-width="0.6"/>
<line x1="417.68" y1="72" x2="417.68" y2="73.3" stroke="#231f20" stroke-width="0.6"/>
<line x1="422.27" y1="72" x2="422.27" y2="73.3" stroke="#231f20" stroke-width="0.6"/>
<line x1="424.6" y1="72" x2="424.6" y2="73.3" stroke="#231f20" stroke-width="0.6"/>
<line x1="387.89" y1="72" x2="387.89" y2="73.3" stroke="#231f20" stroke-width="0.6"/>
<line x1="388.92" y1="72" x2="388.92" y2="73.3" stroke="#231f20" stroke-width="0.6"/>
<line x1="389.79" y1="72" x2="389.79" y2="73.3" stroke="#231f20" stroke-width="0.6"/>
<line x1="390.54" y1="72" x2="390.54" y2="73.3" stroke="#231f20" stroke-width="0.6"/>
<line x1="391.21" y1="72" x2="391.21" y2="73.3" stroke="#231f20" stroke-width="0.6"/>
<line x1="375.3" y1="73.1" x2="380.8" y2="73.1" stroke="#231f20" stroke-width="2"/>
<text x="371.5" y="31" font-size="6" fill="#222" stroke="#222" stroke-width="0.06" text-anchor="end">10<tspan font-size="4" dy="-2.3">4</tspan></text>
<text x="371.5" y="46" font-size="6" fill="#222" stroke="#222" stroke-width="0.06" text-anchor="end">10<tspan font-size="4" dy="-2.3">3</tspan></text>
<text x="371.5" y="61" font-size="6" fill="#222" stroke="#222" stroke-width="0.06" text-anchor="end">10<tspan font-size="4" dy="-2.3">2</tspan></text>
<text x="370.1" y="70.9" font-size="6" fill="#222" stroke="#222" stroke-width="0.11" text-anchor="end">0</text>
<text x="380.5" y="85.6" font-size="6" fill="#222" stroke="#222" stroke-width="0.11" text-anchor="middle">0</text>
<text x="392.7" y="85.6" font-size="6" fill="#222" stroke="#222" stroke-width="0.06" text-anchor="middle">10<tspan font-size="4" dy="-2.3">2</tspan></text>
<text x="405.7" y="85.6" font-size="6" fill="#222" stroke="#222" stroke-width="0.06" text-anchor="middle">10<tspan font-size="4" dy="-2.3">3</tspan></text>
<text x="419.2" y="85.6" font-size="6" fill="#222" stroke="#222" stroke-width="0.06" text-anchor="middle">10<tspan font-size="4" dy="-2.3">4</tspan></text>
<rect x="461.5" y="21.7" width="49.8" height="50.3" fill="none" stroke="#1a1a1a" stroke-width="0.9"/>
<line x1="459.1" y1="28.6" x2="461.5" y2="28.6" stroke="#231f20" stroke-width="0.8"/>
<line x1="459.1" y1="43.5" x2="461.5" y2="43.5" stroke="#231f20" stroke-width="0.8"/>
<line x1="459.1" y1="58.4" x2="461.5" y2="58.4" stroke="#231f20" stroke-width="0.8"/>
<line x1="460.2" y1="39.01" x2="461.5" y2="39.01" stroke="#231f20" stroke-width="0.6"/>
<line x1="460.2" y1="36.39" x2="461.5" y2="36.39" stroke="#231f20" stroke-width="0.6"/>
<line x1="460.2" y1="34.53" x2="461.5" y2="34.53" stroke="#231f20" stroke-width="0.6"/>
<line x1="460.2" y1="33.09" x2="461.5" y2="33.09" stroke="#231f20" stroke-width="0.6"/>
<line x1="460.2" y1="31.91" x2="461.5" y2="31.91" stroke="#231f20" stroke-width="0.6"/>
<line x1="460.2" y1="30.91" x2="461.5" y2="30.91" stroke="#231f20" stroke-width="0.6"/>
<line x1="460.2" y1="30.04" x2="461.5" y2="30.04" stroke="#231f20" stroke-width="0.6"/>
<line x1="460.2" y1="29.28" x2="461.5" y2="29.28" stroke="#231f20" stroke-width="0.6"/>
<line x1="460.2" y1="53.91" x2="461.5" y2="53.91" stroke="#231f20" stroke-width="0.6"/>
<line x1="460.2" y1="51.29" x2="461.5" y2="51.29" stroke="#231f20" stroke-width="0.6"/>
<line x1="460.2" y1="49.43" x2="461.5" y2="49.43" stroke="#231f20" stroke-width="0.6"/>
<line x1="460.2" y1="47.99" x2="461.5" y2="47.99" stroke="#231f20" stroke-width="0.6"/>
<line x1="460.2" y1="46.81" x2="461.5" y2="46.81" stroke="#231f20" stroke-width="0.6"/>
<line x1="460.2" y1="45.81" x2="461.5" y2="45.81" stroke="#231f20" stroke-width="0.6"/>
<line x1="460.2" y1="44.94" x2="461.5" y2="44.94" stroke="#231f20" stroke-width="0.6"/>
<line x1="460.2" y1="44.18" x2="461.5" y2="44.18" stroke="#231f20" stroke-width="0.6"/>
<line x1="460.2" y1="68.81" x2="461.5" y2="68.81" stroke="#231f20" stroke-width="0.6"/>
<line x1="460.2" y1="66.19" x2="461.5" y2="66.19" stroke="#231f20" stroke-width="0.6"/>
<line x1="460.2" y1="64.33" x2="461.5" y2="64.33" stroke="#231f20" stroke-width="0.6"/>
<line x1="460.2" y1="62.89" x2="461.5" y2="62.89" stroke="#231f20" stroke-width="0.6"/>
<line x1="460.2" y1="61.71" x2="461.5" y2="61.71" stroke="#231f20" stroke-width="0.6"/>
<line x1="460.2" y1="60.71" x2="461.5" y2="60.71" stroke="#231f20" stroke-width="0.6"/>
<line x1="460.2" y1="59.84" x2="461.5" y2="59.84" stroke="#231f20" stroke-width="0.6"/>
<line x1="460.2" y1="59.08" x2="461.5" y2="59.08" stroke="#231f20" stroke-width="0.6"/>
<line x1="460.5" y1="67" x2="460.5" y2="72" stroke="#231f20" stroke-width="2"/>
<line x1="478" y1="72" x2="478" y2="74.4" stroke="#231f20" stroke-width="0.8"/>
<line x1="491" y1="72" x2="491" y2="74.4" stroke="#231f20" stroke-width="0.8"/>
<line x1="504.5" y1="72" x2="504.5" y2="74.4" stroke="#231f20" stroke-width="0.8"/>
<line x1="481.91" y1="72" x2="481.91" y2="73.3" stroke="#231f20" stroke-width="0.6"/>
<line x1="484.2" y1="72" x2="484.2" y2="73.3" stroke="#231f20" stroke-width="0.6"/>
<line x1="485.83" y1="72" x2="485.83" y2="73.3" stroke="#231f20" stroke-width="0.6"/>
<line x1="487.09" y1="72" x2="487.09" y2="73.3" stroke="#231f20" stroke-width="0.6"/>
<line x1="488.12" y1="72" x2="488.12" y2="73.3" stroke="#231f20" stroke-width="0.6"/>
<line x1="488.99" y1="72" x2="488.99" y2="73.3" stroke="#231f20" stroke-width="0.6"/>
<line x1="489.74" y1="72" x2="489.74" y2="73.3" stroke="#231f20" stroke-width="0.6"/>
<line x1="490.41" y1="72" x2="490.41" y2="73.3" stroke="#231f20" stroke-width="0.6"/>
<line x1="495.06" y1="72" x2="495.06" y2="73.3" stroke="#231f20" stroke-width="0.6"/>
<line x1="497.44" y1="72" x2="497.44" y2="73.3" stroke="#231f20" stroke-width="0.6"/>
<line x1="499.13" y1="72" x2="499.13" y2="73.3" stroke="#231f20" stroke-width="0.6"/>
<line x1="500.44" y1="72" x2="500.44" y2="73.3" stroke="#231f20" stroke-width="0.6"/>
<line x1="501.51" y1="72" x2="501.51" y2="73.3" stroke="#231f20" stroke-width="0.6"/>
<line x1="502.41" y1="72" x2="502.41" y2="73.3" stroke="#231f20" stroke-width="0.6"/>
<line x1="503.19" y1="72" x2="503.19" y2="73.3" stroke="#231f20" stroke-width="0.6"/>
<line x1="503.88" y1="72" x2="503.88" y2="73.3" stroke="#231f20" stroke-width="0.6"/>
<line x1="508.47" y1="72" x2="508.47" y2="73.3" stroke="#231f20" stroke-width="0.6"/>
<line x1="510.8" y1="72" x2="510.8" y2="73.3" stroke="#231f20" stroke-width="0.6"/>
<line x1="474.09" y1="72" x2="474.09" y2="73.3" stroke="#231f20" stroke-width="0.6"/>
<line x1="475.12" y1="72" x2="475.12" y2="73.3" stroke="#231f20" stroke-width="0.6"/>
<line x1="475.99" y1="72" x2="475.99" y2="73.3" stroke="#231f20" stroke-width="0.6"/>
<line x1="476.74" y1="72" x2="476.74" y2="73.3" stroke="#231f20" stroke-width="0.6"/>
<line x1="477.41" y1="72" x2="477.41" y2="73.3" stroke="#231f20" stroke-width="0.6"/>
<line x1="461.5" y1="73.1" x2="467" y2="73.1" stroke="#231f20" stroke-width="2"/>
<text x="457.7" y="31" font-size="6" fill="#222" stroke="#222" stroke-width="0.06" text-anchor="end">10<tspan font-size="4" dy="-2.3">4</tspan></text>
<text x="457.7" y="46" font-size="6" fill="#222" stroke="#222" stroke-width="0.06" text-anchor="end">10<tspan font-size="4" dy="-2.3">3</tspan></text>
<text x="457.7" y="61" font-size="6" fill="#222" stroke="#222" stroke-width="0.06" text-anchor="end">10<tspan font-size="4" dy="-2.3">2</tspan></text>
<text x="456.3" y="70.9" font-size="6" fill="#222" stroke="#222" stroke-width="0.11" text-anchor="end">0</text>
<text x="466.7" y="85.6" font-size="6" fill="#222" stroke="#222" stroke-width="0.11" text-anchor="middle">0</text>
<text x="478.9" y="85.6" font-size="6" fill="#222" stroke="#222" stroke-width="0.06" text-anchor="middle">10<tspan font-size="4" dy="-2.3">2</tspan></text>
<text x="491.9" y="85.6" font-size="6" fill="#222" stroke="#222" stroke-width="0.06" text-anchor="middle">10<tspan font-size="4" dy="-2.3">3</tspan></text>
<text x="505.4" y="85.6" font-size="6" fill="#222" stroke="#222" stroke-width="0.06" text-anchor="middle">10<tspan font-size="4" dy="-2.3">4</tspan></text>
<rect x="222.8" y="26.2" width="25.9" height="28.2" fill="none" stroke="#a0a0a0" stroke-width="0.6"/>
<rect x="290.8" y="34.9" width="20.4" height="24.2" fill="none" stroke="#a0a0a0" stroke-width="0.6"/>
<rect x="289.6" y="59.6" width="41" height="11.6" fill="none" stroke="#a0a0a0" stroke-width="0.6"/>
<rect x="389.6" y="31.4" width="28.1" height="25.1" fill="none" stroke="#a0a0a0" stroke-width="0.6"/>
<rect x="462.9" y="29.2" width="10.4" height="19" fill="none" stroke="#a0a0a0" stroke-width="0.6"/>
<rect x="485.4" y="62" width="20.2" height="9.2" fill="none" stroke="#a0a0a0" stroke-width="0.6"/>
<text x="232" y="60.3" font-size="6.6" fill="#333" stroke="#333" stroke-width="0.11" text-anchor="start" textLength="11.5" lengthAdjust="spacingAndGlyphs">52%</text>
<text x="292.2" y="31.4" font-size="6.6" fill="#333" stroke="#333" stroke-width="0.11" text-anchor="start" textLength="16.1" lengthAdjust="spacingAndGlyphs">24,5%</text>
<text x="314.7" y="56.9" font-size="6.6" fill="#333" stroke="#333" stroke-width="0.11" text-anchor="start" textLength="11.3" lengthAdjust="spacingAndGlyphs">12%</text>
<text x="404.7" y="62.6" font-size="6.6" fill="#333" stroke="#333" stroke-width="0.11" text-anchor="start" textLength="11.6" lengthAdjust="spacingAndGlyphs">91%</text>
<text x="477.6" y="37.8" font-size="6.6" fill="#333" stroke="#333" stroke-width="0.11" text-anchor="start" textLength="8.1" lengthAdjust="spacingAndGlyphs">5%</text>
<text x="495.7" y="59.1" font-size="6.6" fill="#333" stroke="#333" stroke-width="0.11" text-anchor="start" textLength="8.3" lengthAdjust="spacingAndGlyphs">9%</text>
<text transform="translate(181.2,49) rotate(-90)" x="0" y="0" font-size="10" fill="#231f20" stroke="#231f20" stroke-width="0.22" text-anchor="middle" textLength="27.7" lengthAdjust="spacingAndGlyphs">CD11b</text>
<text transform="translate(267.6,45.7) rotate(-90)" x="0" y="0" font-size="10" fill="#231f20" stroke="#231f20" stroke-width="0.22" text-anchor="middle" textLength="21.6" lengthAdjust="spacingAndGlyphs">CD3ε</text>
<text transform="translate(355.3,48.9) rotate(-90)" x="0" y="0" font-size="10" fill="#231f20" stroke="#231f20" stroke-width="0.22" text-anchor="middle" textLength="26.2" lengthAdjust="spacingAndGlyphs">CD11b</text>
<text transform="translate(441.6,45.8) rotate(-90)" x="0" y="0" font-size="10" fill="#231f20" stroke="#231f20" stroke-width="0.22" text-anchor="middle" textLength="20.8" lengthAdjust="spacingAndGlyphs">CD3ε</text>
<text x="204" y="99" font-size="9.2" fill="#231f20" stroke="#231f20" stroke-width="0.22" text-anchor="start" textLength="46" lengthAdjust="spacingAndGlyphs">Ly6G / Ly6C</text>
<text x="300.8" y="99" font-size="9.2" fill="#231f20" stroke="#231f20" stroke-width="0.22" text-anchor="start" textLength="26.1" lengthAdjust="spacingAndGlyphs">CD45R</text>
<text x="377.5" y="99" font-size="9.2" fill="#231f20" stroke="#231f20" stroke-width="0.22" text-anchor="start" textLength="46.5" lengthAdjust="spacingAndGlyphs">Ly6G / Ly6C</text>
<text x="473.8" y="99" font-size="9.2" fill="#231f20" stroke="#231f20" stroke-width="0.22" text-anchor="start" textLength="27.2" lengthAdjust="spacingAndGlyphs">CD45R</text>
<text x="173.1" y="126.2" font-size="11.6" fill="#231f20" stroke="#231f20" stroke-width="0.22" text-anchor="start">D</text>
<text x="228.7" y="129.4" font-size="8.8" fill="#231f20" stroke="#231f20" stroke-width="0.22" text-anchor="start" textLength="73.6" lengthAdjust="spacingAndGlyphs">NFE2 109aa (#539)</text>
<text x="366.7" y="128.8" font-size="8.8" fill="#231f20" stroke="#231f20" stroke-width="0.22" text-anchor="start" textLength="91.8" lengthAdjust="spacingAndGlyphs">NFE2 Δ297-300aa (#40)</text>
<g clip-path="url(#c1)">
<rect x="188.3" y="133" width="69.3" height="50.2" fill="#d6d1e1"/>
<ellipse cx="205" cy="172" rx="32" ry="16" fill="#c7c5e1" fill-opacity="0.9" filter="url(#sb)"/>
<ellipse cx="190" cy="150" rx="8" ry="20" fill="#cdcae2" fill-opacity="0.7" filter="url(#sb)"/>
<ellipse cx="245" cy="140" rx="15" ry="8" fill="#dfd9e6" fill-opacity="0.8" filter="url(#sb)"/>
<g filter="url(#hb)" stroke-linecap="round" fill="none">
<path stroke="#cdc7da" stroke-opacity="0.75" stroke-width="6.87" d="M193.4 147.4l-.3 .1M231.1 139.5l.6 .1M248.1 151.9l.6 0M216.9 161.5l.4 .4M204.4 136.3l0 .3M196 165.9l-.3 0M247.2 151.9l0 .1M229.1 176l.5 .3M240.4 181.7l.2 .4M221.6 135.3l.1 0M191.5 142.5l.5 .1M216.4 144.4l0 .1"/>
<path stroke="#cdc7da" stroke-opacity="0.75" stroke-width="7.8" d="M219.6 161.3l-.3 .2M200.4 174.4l-.4 .3M233 162.9l-.3 .7M201.8 180.2l-.2 .2M192.4 148.9l.6 .2M258.8 142.6l0 0M203.9 163.5l.4 .2M228.2 138.1l0 .1M189.1 131.9l-.5 .1M187.8 165.5l0 0M196.5 134.8l-.3 .3M211.7 135.5l-.6 .3M217 173.6l-.2 .4M194.7 144.7l.2 .5M240.2 162.3l0 .4M224.3 158.7l0 .5M203.3 168.6l-.3 .5M222 179.5l-.1 .2"/>
<path stroke="#cdc7da" stroke-opacity="0.75" stroke-width="8.73" d="M188.9 178.7l0 0M218.5 176.6l.1 .2M186.8 135.6l-.2 0M259.4 176.5l-.2 .2M223.8 132.3l.2 .6M236.4 141.1l-.1 .1M186.5 177.8l-.2 .1M201.5 152.3l.5 .2M197.5 180.2l.2 .1M256.8 143.8l.1 .3M252.7 157.6l-.1 .1M191.4 143.1l-.2 .5M210.3 170.6l.5 .2M252.3 170.9l-.1 0M214.3 162.6l.1 0"/>
<path fill="none" stroke="#c0b8d0" stroke-width="0.6" stroke-opacity="0.35" d="M200.3 135.5a4.8 4.2 79 1 0 1.7 9.4a4.8 4.2 79 1 0 -1.7 -9.4M250.7 144.5a4.3 4.1 77 1 0 1.8 8.4a4.3 4.1 77 1 0 -1.8 -8.4M246.6 176.1a4.6 4.3 104 1 0 -2.4 8.9a4.6 4.3 104 1 0 2.4 -8.9M213.3 136.4a4.3 3.7 152 1 0 -7.7 4a4.3 3.7 152 1 0 7.7 -4M237.8 178.7a3.8 3.7 81 1 0 1.2 7.5a3.8 3.7 81 1 0 -1.2 -7.5M206.4 138.5a4.1 3.7 88 1 0 .2 8.3a4.1 3.7 88 1 0 -.2 -8.3M204.8 175.4a4.8 4.4 13 1 0 9.3 2.2a4.8 4.4 13 1 0 -9.3 -2.2M189.4 174.7a3.7 3.2 102 1 0 -1.6 7.2a3.7 3.2 102 1 0 1.6 -7.2M208.5 170.5a3.5 3.4 81 1 0 1 6.9a3.5 3.4 81 1 0 -1 -6.9M184.4 175.4a3.7 3.6 8 1 0 7.4 1.1a3.7 3.6 8 1 0 -7.4 -1.1M236.1 152.7a4.4 3.9 145 1 0 -7.3 5a4.4 3.9 145 1 0 7.3 -5M253.3 166.1a3.8 3.5 32 1 0 6.5 4.1a3.8 3.5 32 1 0 -6.5 -4.1M184.2 153.3a4.3 4.2 49 1 0 5.7 6.5a4.3 4.2 49 1 0 -5.7 -6.5M214.7 165.8a4.3 3.8 136 1 0 -6.2 5.9a4.3 3.8 136 1 0 6.2 -5.9M219.6 173a4.5 4.4 167 1 0 -8.9 1.9a4.5 4.4 167 1 0 8.9 -1.9M243.3 136.9a4.2 3.7 163 1 0 -8 2.3a4.2 3.7 163 1 0 8 -2.3M218.7 161a4.8 4.1 169 1 0 -9.5 1.7a4.8 4.1 169 1 0 9.5 -1.7M223.6 164.2a3.9 3.4 147 1 0 -6.6 4.2a3.9 3.4 147 1 0 6.6 -4.2M237.3 169.7a4 3.4 176 1 0 -8 .5a4 3.4 176 1 0 8 -.5M262.3 158.9a4.5 4.2 163 1 0 -8.6 2.5a4.5 4.2 163 1 0 8.6 -2.5M249.6 146.3a3.7 3.4 99 1 0 -1.1 7.2a3.7 3.4 99 1 0 1.1 -7.2M239 156.7a3.7 3.2 11 1 0 7.3 1.5a3.7 3.2 11 1 0 -7.3 -1.5M241.2 138.6a4.1 3.5 25 1 0 7.4 3.5a4.1 3.5 25 1 0 -7.4 -3.5M199.8 155.2a4.6 3.9 124 1 0 -5.2 7.7a4.6 3.9 124 1 0 5.2 -7.7M252.1 154.8a4.6 4.5 39 1 0 7 5.9a4.6 4.5 39 1 0 -7 -5.9M225.2 142.2a4.5 4 94 1 0 -.7 9.1a4.5 4 94 1 0 .7 -9.1M251.6 159.5a3.9 3.6 152 1 0 -6.9 3.7a3.9 3.6 152 1 0 6.9 -3.7M252.7 137.5a4.8 4 94 1 0 -.7 9.7a4.8 4 94 1 0 .7 -9.7M229.7 137.9a4.2 3.8 108 1 0 -2.8 8a4.2 3.8 108 1 0 2.8 -8M191.7 181.1a4.2 3.9 144 1 0 -6.8 4.9a4.2 3.9 144 1 0 6.8 -4.9M228.1 153.4a4.3 4.2 96 1 0 -1 8.5a4.3 4.2 96 1 0 1 -8.5M216.2 178.2a4.6 4.4 85 1 0 .8 9.2a4.6 4.4 85 1 0 -.8 -9.2M195.3 149.7a4.8 4 85 1 0 .7 9.5a4.8 4 85 1 0 -.7 -9.5M205.4 139.6a4.5 3.8 23 1 0 8.3 3.6a4.5 3.8 23 1 0 -8.3 -3.6M245.5 129.1a3.7 3.6 123 1 0 -4.1 6.2a3.7 3.6 123 1 0 4.1 -6.2M212.7 147.1a4.2 4.1 131 1 0 -5.6 6.3a4.2 4.1 131 1 0 5.6 -6.3M195.7 154.9a3.8 3.6 95 1 0 -.7 7.5a3.8 3.6 95 1 0 .7 -7.5M214.7 149.4a4.1 3.7 28 1 0 7.2 3.9a4.1 3.7 28 1 0 -7.2 -3.9M205.2 163.2a4.4 4 153 1 0 -7.8 4a4.4 4 153 1 0 7.8 -4M234.4 175.2a4 3.4 145 1 0 -6.5 4.4a4 3.4 145 1 0 6.5 -4.4"/>
</g>
<circle cx="195.2" cy="163.7" r="3.8" fill="#d4b4ce" stroke="#c08cb2" stroke-width="1.4" stroke-opacity="0.8" filter="url(#bl)"/><path d="M194.2 162.6h0M193.3 165.3h0M198.1 161.6h0M197.2 162.7h0M193 160.6h0M192.8 166.1h0M192.5 162.7h0M192.1 163h0M191.8 160.9h0M196.5 161.6h0M198.2 161.7h0" stroke="#c08cb2" stroke-width="1.0" stroke-linecap="round" stroke-opacity="0.6" filter="url(#bl)"/>
<circle cx="223" cy="154.5" r="4.4" fill="#dcc0d6" stroke="#c698b8" stroke-width="1.4" stroke-opacity="0.8" filter="url(#bl)"/><path d="M222.1 152.1h0M220.1 156h0M221.3 155.9h0M219.2 152.4h0M226.1 157.1h0M219.7 152.8h0M225.7 155.1h0M223.8 152.4h0M222.7 154.6h0M223.1 154.6h0M224.8 153.9h0M222.4 155.4h0" stroke="#c698b8" stroke-width="1.0" stroke-linecap="round" stroke-opacity="0.6" filter="url(#bl)"/>
<circle cx="240.8" cy="138.1" r="3" fill="#c482a6" stroke="#b06690" stroke-width="1.4" stroke-opacity="0.8" filter="url(#bl)"/><path d="M239.8 137.5h0M241.3 137.7h0M240.5 140.5h0M240 139.5h0M239.4 138.5h0M241.7 136.6h0M238.9 138.9h0M238.6 135.3h0M240.5 138.6h0" stroke="#b06690" stroke-width="1.0" stroke-linecap="round" stroke-opacity="0.6" filter="url(#bl)"/>
<circle cx="250" cy="176.5" r="3.9" fill="#d0bad6" stroke="#bc90b4" stroke-width="1.4" stroke-opacity="0.8" filter="url(#bl)"/><path d="M248.2 176.3h0M249.9 176.9h0M247.7 176.6h0M250.6 178.6h0M249.6 176.5h0M251.1 177.3h0M249.2 176.1h0M246.5 173.3h0M249.2 175.6h0M253 178.9h0M249.9 173.6h0" stroke="#bc90b4" stroke-width="1.0" stroke-linecap="round" stroke-opacity="0.6" filter="url(#bl)"/>
<circle cx="247.2" cy="144.5" r="2.2" fill="#8e86ba" filter="url(#hb)"/>
<circle cx="212.3" cy="138.1" r="3.4" fill="#beb4d4" filter="url(#hb)"/>
</g>
<g clip-path="url(#c2)">
<rect x="262.2" y="133" width="61.8" height="50.2" fill="#e8e1e8"/>
<g filter="url(#hb)" stroke-linecap="round" fill="none">
</g>
<g fill="#f0eaf0" stroke="#c4b2c4" stroke-width="0.9" filter="url(#hb)"><circle cx="311" cy="148" r="4.3"/><circle cx="287" cy="170.2" r="4.5"/><circle cx="316.2" cy="135.6" r="4.4"/><circle cx="264.9" cy="149.8" r="4.5"/><circle cx="299.5" cy="135.3" r="4.1"/><circle cx="293.4" cy="141.5" r="4.5"/><circle cx="304" cy="174" r="4.6"/><circle cx="323.1" cy="166.5" r="4.1"/><circle cx="263.3" cy="170.8" r="4.6"/><circle cx="268.9" cy="177" r="4.2"/><circle cx="285.3" cy="161.9" r="4.4"/><circle cx="317.6" cy="175.3" r="4.8"/><circle cx="272.5" cy="154.8" r="4.1"/><circle cx="314.6" cy="162.7" r="4.5"/><circle cx="264.1" cy="159.5" r="4.5"/><circle cx="299.8" cy="146.5" r="4.9"/><circle cx="306.3" cy="154.8" r="4.3"/></g>
<circle cx="296.5" cy="155" r="5.4" fill="#d2b8d6" stroke="#b28cbc" stroke-width="1.4" stroke-opacity="0.8" filter="url(#bl)"/><path d="M300.9 153.4h0M295.9 158.4h0M300.5 154.4h0M298.4 155.5h0M299.7 159.6h0M300.5 153.4h0M300.3 150.9h0M294.9 150.5h0M295.8 153.9h0M294.6 153.5h0M292.4 156.9h0M296.2 151.3h0M295.6 159.6h0M296.9 155.4h0M294.2 153.9h0" stroke="#b28cbc" stroke-width="1.0" stroke-linecap="round" stroke-opacity="0.6" filter="url(#bl)"/>
<circle cx="294" cy="152" r="1.3" fill="#8a6098" filter="url(#bl)"/>
</g>
<g clip-path="url(#c3)">
<rect x="333.8" y="132.8" width="69" height="50.5" fill="#dfe2ee"/>
<g filter="url(#hb)" stroke-linecap="round" fill="none">
<path stroke="#9cb4dc" stroke-opacity="0.8" stroke-width="1.37" d="M379.3 167l.2 .1M393.1 163.9l-.3 .2M346 150.7l-.1 .1M359.2 169.7l-.2 .2M343.7 168l.3 .2M400.3 159.2l0 0M362.8 143.6l0 .2M387.1 163.4l.1 .2M363.6 138.3l0 0M334.8 159.9l.3 .1M349.9 178.1l0 0M336.9 145.2l0 0M335.7 160.6l0 0M356.2 164.9l-.2 .1M384.1 146.6l0 0M373.5 170.3l-.1 .1M342.3 176.5l-.1 .2M363.1 171.6l-.1 .2M349.7 159.7l-.2 .1M341 140.5l0 0M399.8 147l.1 .3M363.3 161.4l-.1 0M338.3 136.8l-.1 .3M377.6 147.9l0 0M335.9 154.6l-.1 .2M340.4 171.7l.2 .2M397.1 160.4l.2 .2M356 150.5l0 .2M361.7 142.1l.1 .2M337.7 143.9l-.1 .3M369.2 155.3l-.1 .3M372.2 141l.3 0M345.8 178.7l0 0M334.5 175.9l-.1 .1M370.3 138.8l-.2 .2M345.9 184.9l.1 .1M382.7 141.1l.1 .2M339.7 154.8l-.2 .1M333.1 152.6l0 0M364.1 134.6l0 0M377 166.9l0 .3M373.6 162.1l-.1 .1M361.6 153.1l-.2 0M343.1 162l.1 .1M364.7 141.4l.1 .2M337 164.1l-.1 .2M363.1 180.4l.1 .2M354.7 140l0 .1M385.2 143.9l0 .1M379.2 177.9l.1 .1M336.6 137.2l.1 0M379.6 152.4l.1 .2M392 133.2l-.3 0M358.5 156.7l0 .2M357.6 153.4l-.3 0M403.1 174l0 0M374.3 179.7l.1 .1M403.5 134.7l-.2 .2M364.2 150.7l-.2 .1M355.3 165.2l0 0M346.6 161.6l.1 .2M396.6 161.6l.1 .2M395.4 180.7l.2 .1M332.7 183.1l0 .3M333.8 145.5l0 .1M377.2 150.2l.1 .1M355.5 151.6l0 0M355.7 159l.1 .1M362.3 159.8l.1 0M373.1 130.8l-.1 .1M335.6 153.3l.1 .1M386.7 147.9l.1 .1M397.4 157.4l.3 .1M372 158l.1 0M340.7 177.4l0 .1M376.2 140.4l0 .3M391.3 152.6l0 .1M336.1 176.2l0 0M398 179.3l.1 0M331.7 162.3l.3 .1M348.4 179l-.1 0M383.9 147.3l0 0M392.6 174.9l.1 .2M358 157.6l.2 0M385.5 158.7l-.1 .3M388.2 133.6l0 .1M379.8 150.3l.1 .3M360.7 162.9l0 .1M374.6 132.5l.2 0M381.3 134.6l-.3 .1M343.1 149.6l.1 .1M355.5 180.6l-.2 .2M377.4 159.4l.1 .3M366.6 175.9l.1 0M394.8 173.8l0 .2M347.2 158.4l0 0M375.9 132.3l0 .2M377.3 138l.1 .3M377.8 144.1l0 0M378.5 147.1l0 .1M341.5 180.1l0 .1M362.2 180.3l.2 .2M379.5 168.8l.1 0M362 174.4l.2 .2M370.7 153.1l-.2 0M384.4 175.8l-.3 .2M346.7 143.4l.2 .2M370.7 140.5l.1 .1M345.7 169.8l0 .1M376.7 171.2l0 0M363 173l.2 .2M336.5 143.8l.2 .1M336.7 136.2l0 .1M343.4 139l.1 .2M378.2 170.6l0 .1M381.8 174.6l.2 .1M338.7 147.2l-.1 .1M343.2 141.7l0 0M372.5 132.2l.1 .2M375.6 159.5l-.1 .2M360.4 183l0 0M373.1 155.8l-.2 .1M339.3 165.5l.1 0M384.2 160.4l.1 .1M343.3 183.5l.1 .3M379.5 146.8l0 0M351.5 167.6l0 0M343.5 184l-.1 .1M387 179.3l.3 .1M391.9 142.3l-.1 .2M369.2 166.7l0 .2"/>
<path stroke="#9cb4dc" stroke-opacity="0.8" stroke-width="1.7" d="M338.1 174l-.2 .3M401 174l.1 .1M397.5 160.7l-.3 .1M378.6 166.4l-.3 .2M369.9 144.6l.1 .1M365.5 130.9l.4 .1M342 174.7l.2 .1M362 178.1l-.1 0M340.7 147.1l-.1 .2M347 174.3l-.2 .1M378.5 154l.2 0M364.6 184.8l.1 .1M347.7 147.3l.1 .1M392.2 143.8l0 .1M371.6 145l0 0M404.5 156.5l.1 0M400.3 144.3l-.2 0M387.4 157.1l0 .1M401.9 156l-.3 .2M333.8 180.1l.3 .2M339.3 162.9l0 0M342.7 156.1l-.2 .3M376.3 158.5l.1 .3M394.6 159.5l-.1 .1M398.5 168l-.2 .2M332.1 159.6l0 .4M338.4 173l.1 .1M354 136.4l.3 0M382.6 172.6l0 .2M363.1 154.5l-.1 .1M333.2 173.7l.1 .4M372.6 173.5l0 0M351.8 153.9l-.1 0M361 164.2l.1 .3M373.3 133.9l0 .1M368.6 178l0 0M333.1 161.6l0 .1M346.9 185.2l-.3 0M362.1 173.1l-.1 .1M345.4 131.7l-.1 .4M388.9 162.4l-.1 0M345.9 162.3l.1 0M381.9 148.4l.4 0M344 148.6l-.2 .2M358.9 139.7l-.2 .3M385.5 141.1l.4 .1M391.3 147.9l0 0M337.5 148.6l0 .2M360.8 150.7l.1 .2M357.7 162.2l.1 .3M373 177.8l.3 0M392.2 175.7l-.4 0M359.3 146.3l-.3 .2M387.1 177.9l-.4 .2M355.9 160.3l.2 .1M397.1 161.9l.1 0M370.3 153.3l.1 .3M362.8 174.7l-.1 .1M372.1 131.8l.2 .1M401.8 155l-.2 .1M401.9 167l0 .4M351.4 156.5l-.2 .2M365.9 184.8l0 .1M368.4 152.1l.2 0M336 164.3l-.2 .3M394.6 153.2l-.2 .2M335.3 142.6l-.3 .3M340 150.1l0 .3M395.8 132.8l.1 .2M401.8 155.5l-.1 .4M344.5 175.4l0 .1M338.6 144.4l0 .3M398.4 183.2l0 .1M333 144.4l0 .3M343 164.7l-.4 .1M393.4 163l0 .1M332.6 161.1l.2 .1M346.9 158.6l0 0M381.1 176.1l-.2 0M384.5 143.1l-.2 0M342.1 174.8l0 .1M396.3 185l.1 .2M352.8 171.7l0 .1M385 167.9l-.1 .1M392.2 139.9l-.1 .1M382.2 139.4l.1 .3M338 172.7l.2 .2M386.4 178.4l-.1 0M399.6 168.6l0 0M403.6 171.7l.4 .1M359.1 133.7l-.1 .1M342 163.3l-.3 .3M343 130.8l0 .1M404.1 137.2l.1 .3M334.1 149.9l-.1 .1M361.7 141.3l.3 .1M342.6 183.8l.1 .1M340.1 161.4l-.1 .1M334.9 157.1l0 0M383.3 183.2l.1 0M372.8 154.4l.1 .4M399.7 137.1l0 0M348.1 131.6l.2 0M344.8 160l0 .1M352.8 146.1l0 .1M337.3 141.2l.3 .1M382.9 164.6l0 .3M398.3 172.5l.3 .1M387.9 168.3l0 .1M354 153.5l-.4 .2M335.7 154.1l0 0M386.2 139.1l0 .1M403.6 139.1l0 .1M372 174.1l-.3 .2M362 137.3l.1 .1M350.8 139.5l.1 .2M385.8 166.7l.3 .2M362.8 181.3l.2 .1M343.6 158.5l.2 .1M361 184.3l-.1 .1M374.6 145.8l0 .1M373.1 140.3l0 .1M348.3 134.5l.1 .3M334.5 148.3l0 0M363.2 171.5l.4 0M344.4 175l.2 .2"/>
<path stroke="#9cb4dc" stroke-opacity="0.8" stroke-width="2.03" d="M350.9 168.1l-.4 .1M337 176.8l0 .1M403.9 168.4l-.3 0M363.9 170.5l.1 .1M396.7 162.2l.1 .1M349.2 157.8l0 0M334.6 162.5l.1 .1M363.3 163.2l-.4 0M392.1 166l0 0M367.9 183.5l.3 .3M385.5 144.7l.3 .3M339.3 157.5l-.4 0M343.9 179.2l.1 0M370.7 175l.2 .1M384.8 136.6l.1 0M353.7 159.4l.1 .1M379.2 154.1l0 0M398 166.4l0 0M363 180.6l0 0M384.4 167.1l0 0M391.1 158l.3 .1M361.8 161.5l0 0M382.9 174.2l.1 0M377.3 158.9l-.3 .3M352.3 162.3l.1 .2M386 142.3l0 0M341.9 130.8l0 .1M386.3 136.6l.1 0M362.9 133.8l.2 .1M364.5 170.2l-.2 .1M374.6 155.1l0 .3M336.2 174.2l-.1 .1M333.8 168.8l0 .4M365.9 137l.1 .3M342.4 165l-.4 .1M393.1 162.2l-.1 .4M337.4 169.9l.1 .4M375.9 180.5l.3 0M401.5 149.3l.5 .1M367.9 171.3l.2 .1M349.8 178l.2 0M396.9 176.1l.3 0M388.9 151.2l0 0M393.3 149.9l-.1 .3M343.5 166.3l-.4 .3M394.6 136.4l-.1 .1M377.9 153.1l.2 .2M344.6 141.9l-.5 .1M335.5 170.8l.3 .2M353.4 146.9l-.2 .3M398.4 157.1l0 .4M342.3 136.2l-.1 .5M350.3 135.4l.3 .1M400.5 144.5l0 0M342.4 148.5l.2 .1M372.7 162.7l.1 .2M347.5 171.4l-.4 .1M386.9 145.9l-.1 .1M336.1 153.1l.2 .3M355 137.6l-.2 .4M383.3 178.9l-.1 0M334.7 160.6l.2 .1M382.3 140.4l0 .3M346.4 145l.1 0M356.7 142.1l0 .4M400.8 168.9l.1 .3M402.8 142.6l.2 .1M335.4 150l-.1 0M354 149.2l-.3 .3M380.3 165.5l.1 .4M381 181.3l0 .1M353.4 173.4l.2 .3M341 142.2l0 0M399.1 173.4l-.1 .5M369 140.1l0 .1M337.5 134.5l0 .1M376 183.3l0 .2M375.8 154.6l.3 .3M393.9 131.1l0 0M351.8 139.6l.1 0M345.2 151.3l0 .1M379.5 152.4l-.4 .1M352.8 148.9l-.2 .1M355.4 149.4l0 .3M394.3 162.8l-.1 0M347.2 171.3l.1 .5M359 170.8l0 0M338.9 144.4l0 .1M337.7 166l0 0M401.7 157.1l-.3 .2M342.4 182.1l.1 .2M386 148.9l.1 0M366.4 150.4l-.4 .3M360.7 164.8l0 .2M361.8 136.2l0 .1M344 138.3l0 0M383.2 149.9l0 .2M344 158.8l0 0M394.4 152.1l-.1 .1M391.9 136.7l-.2 .4M359.9 184.4l.1 0M395.8 173.2l-.1 0M404.4 153.6l.1 .2M382.2 173.6l-.1 .1M359.5 172.7l0 .3M338.9 145.6l-.1 .1M386.2 138.2l.1 .1M335.5 158.9l-.1 0M342.7 139.5l0 0M400.1 139.7l-.3 0M398.6 172.6l-.1 0M347.7 138.2l0 0M380.8 152.2l0 .3M374.6 153.7l-.1 .2M398.2 160.9l-.3 .1M398 137.8l.3 .1M357.3 171.1l-.2 .1M334.9 156.7l0 .4M397.5 137.9l-.3 .3M378 150.3l0 0M383.9 179.6l.4 .1M359.2 142.5l-.1 0M341 178.6l.2 .4"/>
<path stroke="#4a6eb0" stroke-opacity="0.85" stroke-width="1.15" d="M369.9 160.9l.1 .1M383.9 142.3l-.3 0M366.2 179.1l.3 .1M397.7 137.1l.1 .2M379.3 155.7l0 0M384.5 175.8l.1 .2M335.9 133.5l0 .2M347.1 161.5l-.2 0M341.5 132.5l.1 .2M349.6 159.4l0 0M397.8 181.9l.1 0M384.1 132.1l-.1 .1M392.9 182l0 0M394.5 168.1l-.3 .1M371.6 138.9l-.2 0M343 139l0 .3M334.5 142l0 0M344 172.1l0 .1M344.1 184l0 0M361.5 177.7l0 0M376.3 136.7l0 0M399.5 134.7l-.1 .3M334 135.2l-.2 .2M398 164.2l0 0M403.9 169.9l-.1 .2M378.4 154.9l-.1 0M354.7 154.9l-.1 0M346.6 154.3l-.2 .1M338.1 183.1l-.1 .1M380.3 168.1l0 0M354.1 166.6l0 0M350.4 162.2l.1 .1M399.1 171.9l.1 .1M337.9 170.2l.1 .1M368.7 142.9l-.2 0M338.8 160l-.2 0M403.2 167.7l0 0M396.9 170.4l-.1 0M363.3 168.6l0 0M362.7 178.4l.1 .1M367.9 149l.1 0M361.5 178.9l.1 .1M341.2 138.4l-.2 0M389 160.6l-.1 .2M342.5 143.2l0 0M392.4 171.5l0 .1M341.6 151.4l0 0M355.8 136l.1 .1M350.9 135.4l0 .3M363.7 180.5l-.1 .2M364.5 166.6l.1 0M366.8 179.9l0 0M394.3 149.9l-.2 .1M377.6 156.3l0 0M396.4 153.7l.1 .1M347.7 156.5l.1 .1M360.6 137.3l0 .1M383.1 149.9l.1 .2M387 161.3l0 0M336.9 140.1l0 .1M354.1 154.7l0 0M345.4 180.5l.2 .1M377.4 175.4l-.1 .1M400.5 146.3l.1 0M388.4 180.9l.2 .1M376.6 146.4l0 .2M345.6 163.9l-.1 .1M380.3 164.9l.2 0M352.7 158.2l-.1 .1M393.6 148.4l0 0M335.3 163.1l0 .1M352.1 140.6l0 0M352.2 144.9l0 0M369.1 170.7l0 .1M335.4 140.9l.2 .1M398.4 144.4l.1 .2M381.5 138.6l.1 0M355 160l0 .1M401.4 160.6l.1 .1M332 142l.2 .2M370.4 157.3l0 .1M381.7 167.5l0 .1M338 176.5l-.1 .3M335.6 134.1l0 .2M342.6 148.9l0 .1M353.3 155.6l-.1 .1M382 161.4l0 0M339.1 166.3l.1 .2M394.1 145.8l-.1 .2M380.1 133.8l.1 .2M372.4 165.1l-.1 .3M389.1 161.7l-.1 0M382.5 180.4l-.1 .2M394.7 171.4l.2 0M400.1 153.7l.1 0M388.7 160.6l.2 .2M350 137.9l0 0M399 134.9l-.1 .2M395.9 159.7l-.1 0M350 161.8l0 0M386.5 139.4l-.1 .1M399.5 176.1l0 .1M336.2 169.8l.1 .1M377.9 164.1l-.1 .1M365.5 164.9l-.1 0M401.5 158.1l-.1 .1M336.8 171.1l-.1 0M356.1 168.6l-.2 .1M364.5 138.1l-.2 0M333.5 135.4l0 0M382.9 150.9l.1 .1M393.4 158.2l0 0M392.6 184.9l.1 0M355.7 152.1l0 0M401.7 135.3l0 0M397 132.3l-.1 0M400.4 150.5l0 .3M359.1 151.4l-.1 0M381.7 135.2l-.1 0M393.1 164.6l0 .1M345.5 149.2l0 0M334 185l.1 .2M391.2 133.3l0 0M393.7 152.7l0 0M358.4 152.1l0 .1M339.7 161.8l0 0M363.4 132.2l.2 .1M387.7 150.8l.1 .3M373.5 167.4l0 .1M381.7 131.1l-.1 .2M400.5 152.5l0 .2M344.3 136.3l.2 0M355.1 173.7l.1 0M336.4 153.4l-.2 0M350.3 133.8l0 0M367.7 175l0 0M385.5 135.5l-.1 .1M364.8 131.8l-.2 0M337.6 175.5l0 .2M335.4 175.6l.3 .1M388.1 135.5l.1 .2M372.6 144.4l.1 .1M348.9 173.1l0 .1M372.3 155.5l.2 0M357.5 151.1l-.2 .1M333.7 134.8l-.2 .2M384.7 159.6l.2 .2M378.6 136l0 0M382.7 151.2l0 .1M356 160.6l.2 0M367.3 183.8l.1 0M342.3 139.9l-.1 .2M347.9 164.2l0 0M335 156.5l.1 .2M339 146.6l-.2 0M336.6 166.6l.1 .2M358.1 170.5l.1 .2M360.3 162.8l0 .1M383.7 176.1l.1 .1M385.2 180.5l.1 0M343.1 145.5l0 0M378.1 169.7l-.1 .2M364.8 155.2l-.1 0M382.5 147l.1 0M366.7 151.9l0 0M342.4 185l0 .1M403.8 175.6l0 0M358.1 185.2l.2 .2M353.7 168.5l0 0M395 177.7l0 .1M398.2 175.1l.1 .1M336 175.2l-.2 .1M373.2 174l.1 .1M396.8 173.6l.1 .2M370.5 153.2l-.1 .1M346 132.9l0 0M353.9 168.6l0 .1M401.9 153l0 0M337.2 172.6l0 .1M338.2 143.4l-.1 .1M387.8 179.6l.1 0M349.4 165.2l-.2 .1M402.4 170.4l0 0M382.3 178.7l.1 .2M369 169.5l0 0M342.1 143.1l-.2 .2M357.3 159.5l0 .2M353 170.3l-.1 .3M337.2 170.3l.2 .1M392.5 160.8l.1 0M366.5 138.7l.1 .1M342.3 180.7l0 0M395.8 132.1l.2 .1M378.1 171.1l0 .2M375.1 145.1l.1 .1M337.7 143.9l-.1 .2M342.5 181.9l0 .1M391.5 175.7l0 .2M354.2 165.5l0 0M371.4 185l-.1 .2M396.7 134.9l.2 .1M356.7 176.7l0 0M382.6 156.5l.2 .1M377.3 169.4l.1 0M344.9 154.1l0 .3M354.5 162.3l.1 0M390.2 151.8l0 0M404.2 135.9l.2 .2M333.7 152.6l.2 0M351.6 165.1l-.1 0M379.9 139.7l0 .1M338.1 149.5l.1 .2M391.3 177.8l.1 .1M379.2 161.1l0 0M373.3 161.8l-.1 .1M365 167.2l-.1 .1M335.5 138.9l.2 .1M335 165.5l-.3 0M393.1 174.5l0 .3M352.3 150.9l0 .2M363.1 184.9l0 0M367.9 146.7l.1 .2M390.5 176.3l.1 0M341.2 132.8l-.1 0M332.3 133.3l0 0M386.8 147.3l.1 .2M365.2 172.5l.1 .2M390.8 149.6l0 0M371.1 139.3l.2 0M373.5 139.3l0 0M341.3 132.1l.1 .1M346 154.6l-.2 .1M340.4 160.8l-.1 .2M362.4 178.3l-.2 .1M369.9 168.7l-.1 .2M332.2 171.4l-.2 .1M366.2 135.1l.2 .1M367.3 169.1l.2 .1M366.5 131.5l.2 .1M361.8 142.2l-.1 0M381.6 140.7l.1 .1M376.8 132.2l-.1 .1M355.8 176l.2 0M359.9 166.6l0 0M341.9 141l0 .1M367.4 159.1l-.1 .1M379.7 144.7l0 .2M352.9 174.3l.1 0M402.7 175.8l0 0M352.2 144.3l-.1 .1M349 137.2l-.1 .1M377.1 145.1l.1 .1M344.9 158l-.1 0M377.5 146.2l0 0M357.7 172.2l-.2 .1M365.1 176.4l-.2 0M403.4 176.4l-.2 0M398.9 179.6l.1 0M397.1 178.6l.2 .1M364.2 161.6l.1 0M377.8 156.2l0 0M334.8 157.6l-.1 .2M334.2 170.2l-.2 0M343.3 171.3l.1 .2M365 161.5l0 0"/>
<path stroke="#4a6eb0" stroke-opacity="0.85" stroke-width="1.45" d="M391 135.2l0 .1M384.6 135.1l-.1 .1M346.7 138.1l0 0M371.6 156.1l.1 .2M364.7 154.5l-.1 0M367.9 136.1l-.1 .1M336 177.1l-.1 .1M331.8 171.2l.3 .2M359.9 142.8l.2 0M339.7 162.6l.3 .1M353.4 173.8l0 .2M366.9 148l.1 0M336.6 147.7l0 0M394 177.9l.2 0M369.8 172.4l.3 .2M397 174.5l-.3 .1M333.5 182.5l0 0M386.4 177.6l0 .2M340.5 157.4l0 0M380.4 166.7l-.1 .2M337.5 176.5l.2 .1M399.3 168.1l-.2 .1M332.7 150.4l.3 .1M385.9 138.8l0 0M348.8 137.3l0 .3M393.3 137l0 .3M361.7 146l-.2 .2M380.5 183.9l-.1 0M367.7 157.6l-.2 .1M401.9 169.1l.3 .1M394.2 151.4l-.3 .2M334 155.1l0 0M355.8 183.7l-.3 .2M359.2 157.8l-.3 .1M335.3 166.1l0 0M371.5 139.3l-.1 .1M402.2 136.2l-.2 .2M354.1 148.4l.3 0M377.2 159.2l-.3 .1M343.8 171.5l-.1 0M384.4 132.4l-.3 .1M333.7 155.2l.1 .2M334.9 177.5l0 .1M359.8 142.8l-.1 .1M336.4 156l.2 0M345.1 183l.2 .2M342.6 161.5l.2 0M332.9 152.2l-.3 .1M354.1 155.9l0 .1M383.4 166.5l-.2 .1M364.1 142l-.1 0M386.8 169.1l.1 .3M359.8 167.2l0 0M337.3 135.6l.2 .1M360.7 180.2l-.2 .1M381.1 179.2l.2 .1M358.9 141.4l-.1 .2M354.8 155.2l0 .3M382.1 184.7l-.3 0M383.9 138.7l-.1 .1M380.1 152.4l0 .1M335.5 181.5l-.1 .2M365.4 138.4l-.2 .3M377 167.1l0 0M383.3 144.2l.1 .1M404 169.8l-.2 .2M374.2 155.3l.2 0M380.3 163.6l-.1 .2M401.3 170.5l.1 0M335 161.8l-.3 .1M370.2 144.3l.1 .1M352.4 136.3l0 0M400.4 178.3l-.3 0M399.9 133.8l.1 .2M397.4 159.9l.3 .1M385.7 148.8l-.2 0M382.7 156.6l0 0M401.4 159.8l.2 .2M339.7 164.8l-.1 .1M365.7 178.1l.2 .2M360.3 139.7l.2 .2M371 157.4l.3 0M336.6 133.5l-.2 .3M347.5 156l0 0M399.5 169.8l.1 .2M332.5 142l.1 0M333.6 176.3l-.3 .1M404.1 181.4l0 .1M338.8 139.8l.2 0M371.3 168.2l-.1 0M366.8 144.8l0 0M358.7 143.3l.3 .2M336.4 170.4l-.1 .2M333.5 133.8l0 0M397.7 150.9l.1 .1M336.8 141.3l0 0M373.6 162.5l.1 0M385.6 153.4l-.1 .3M345.5 181.5l-.1 0M352.8 183.5l-.1 .1M348.1 168.6l.1 .1M362.8 145l0 .3M372.7 144.5l.2 0M367.4 135.4l.1 .1M373.8 141.8l.1 .1M369.3 133.8l.1 0M338.9 150.9l0 0M403.3 149.8l.2 .1M379.8 153.6l-.1 .3M334.3 136.4l.1 0M384.7 180.6l-.2 .2M396 131l.1 .1M338.1 141.6l.4 0M360.5 165.5l.1 .2M347.2 148.9l.1 .1M361 141.9l0 0M343.4 138.6l0 .1M368.8 149.4l.2 .3M363.9 155.7l-.1 .2M350.2 137.2l-.1 .1M355.9 178.7l.1 .1M351.3 154.8l-.2 .2M333.1 166.4l-.1 .1M395.1 155.6l.3 0M399.6 162.4l0 .3M384.3 143l-.1 0M395 133.1l.1 0M349.9 158.7l-.1 0M391.2 180l0 0M333.9 153.4l.1 .2M359 134.8l.1 .3M371.2 164.4l-.1 .2M332.4 143.6l-.1 .2M385.1 178.5l0 .1M340.6 160.5l.1 0M377.2 157.4l-.2 .3M400.8 174.3l0 .1M334.3 135.5l0 0M349.7 138.7l-.1 .1M343.8 161.9l-.1 .2M338.4 138.1l.1 .1M368 134.4l0 .1M404.4 155.3l-.3 .1M348.1 173.8l-.2 .2M382.6 159.2l.3 .1M374.8 152.7l.1 .2M379.6 140.2l.1 .3M351.7 171l.1 .3M375.8 149.4l0 .2M339.6 145.4l0 0M377.9 132.5l.1 .1M371.5 182.4l0 0M353 175.8l.1 0M341.2 176.3l.2 .2M353.9 177.1l.1 .2M334.4 152.9l-.1 .3M333 180.4l0 0M365.7 137.7l-.1 .1M357.9 152.4l.1 .1M362 135.6l.1 .2M351.6 149.4l-.2 .3M334.6 142.6l.1 .1M345.1 150.6l-.2 .3M400.2 147.9l-.1 0M380.3 161.5l-.2 .1M396.5 163.5l0 0M336.9 141.1l.1 .3M343 144.6l-.1 .1M398.8 184.1l-.3 0M339.3 151.2l0 .2M373.1 133l-.1 0M350.7 135.6l.2 .1M404 131.7l0 .3M381.6 139.7l0 0M374.8 135.9l0 0M384.7 154.3l-.4 0M367.5 159.2l.1 .1M371.5 132.6l0 .2M341.4 180l.1 0M388.1 135.6l.1 0M367.9 152.1l.1 0M352 170.1l0 0M371.8 136.7l.1 .2M372.9 142.2l0 .1M383.7 168.1l.1 .3M381.7 181.9l-.1 .2M349.9 130.8l-.2 .1M393.5 134.3l.2 .2M375.1 133.5l0 .2M401.7 172.9l.3 .1M362 139.3l0 0M335.9 167.8l-.1 .1M355.4 134.7l.2 .2M354.6 175.2l0 0M383.3 138.4l.2 .1M348 179.6l.3 0M376.5 170.8l.1 .2M334.9 154.7l-.2 .1M351.8 172.2l0 0M374.4 153.8l0 .1M403.7 167.6l0 .1M361.4 146.4l0 .3M349.8 182.9l.2 0M358.2 138.5l.1 .3M384.2 158.8l0 0M391.2 142.1l0 .1M354.3 144.7l0 0M351.3 139.5l.2 .2M331.9 177.5l.1 0M361.9 154.9l.1 .2M368.6 164.5l0 .1M353.4 184.1l.2 .2M345.6 131.7l0 .3M377.8 157.4l-.2 0M332.5 161.9l.1 .1M331.9 149.2l-.1 .2M365.8 165.4l.1 .2M386.6 159.6l-.2 0M395.9 177.6l.1 .2M332.2 173.5l.1 .1M393.3 170.3l-.1 .1M362.8 166.3l-.3 .1M403.3 135.7l.1 0M351.5 152l.1 .1M353.3 156.9l.1 0M340.8 157.2l.2 .3M402.2 149.5l-.1 .1M392.8 159.4l0 0M391.7 156.3l-.1 .2M370.6 173.9l0 0M337.6 151.4l-.1 .1M347.6 183.1l.1 .3M388.7 166.6l0 .1M340 137.8l0 0M388.5 181.9l-.3 .2M341.2 145.6l0 0M392.4 142.4l-.1 0M383 172.2l0 0M388.6 151.2l0 0M334.6 170.7l.3 0M387.5 152.8l0 .1M347.1 155.4l0 0M383.8 161.7l.1 0M343.8 161l0 0M361.1 179.1l.1 .2"/>
<path stroke="#4a6eb0" stroke-opacity="0.85" stroke-width="1.75" d="M341.5 160.7l-.1 .1M352.1 148l0 .2M360.1 151.6l.1 .2M386.5 170.6l0 0M385.7 134.3l0 0M349.8 172.7l-.4 .1M398.3 168.6l.2 .1M402.4 136.1l.4 0M347.1 169.4l0 0M368.5 155.1l.2 .3M347.1 136.8l0 .2M388.9 168l-.3 .1M355.4 176.9l-.2 .2M371.4 145.5l.1 .4M394.9 150.3l-.2 .3M340.3 140l0 .1M340.5 173.4l.1 .1M402 149.5l0 .1M393.3 176.5l-.1 .1M348.8 137.3l0 0M382.2 164.4l0 .4M337.6 137.6l-.2 .2M352.7 173.3l.2 .1M352.4 164.7l.2 .2M369.9 146.2l-.1 0M361.5 153.5l-.3 .1M360.5 157.8l.2 0M335.6 150.4l0 .2M332.8 164.5l.2 .1M357.2 161.7l0 0M351.5 150.7l.1 0M401.3 174.7l.2 .3M392.8 184.3l0 .1M377 166.4l.1 .2M379.7 181.5l0 .3M376.1 166.2l0 0M363.3 161.5l.3 .1M401.8 181.1l0 .1M349.4 176.8l.3 .2M339.5 150.6l-.1 .4M373.8 131.9l-.2 .3M385.3 177.7l-.3 .2M340.4 146.7l.3 0M392.9 153.6l0 .1M384.3 156.3l0 .1M358.3 136.5l.2 .3M340.1 137.1l-.2 .2M334.8 157.5l0 .1M383.9 134.7l0 0M400.9 151.3l.2 0M360.4 150l-.2 0M384.2 163.1l-.4 0M342.9 165.3l.1 0M345.1 170.4l.1 .1M388 158.8l-.1 .2M356.4 176.8l.2 .1M360.2 151.9l.2 .2M373.3 142l.1 0M354.2 145.6l0 0M337.6 160.3l.1 .1M363.5 171.1l0 .2M392.8 176.6l-.2 .1M335.4 145.7l.4 .2M341.1 138.9l0 0M373.1 180l0 0M333.6 155.3l-.1 .1M381 133.2l0 .1M363.5 168.7l0 .1M353.1 132l0 .4M389.8 156.8l-.2 .2M355.6 156l-.1 .3M342 140.9l.1 0M400.7 161.5l.1 .2M333.7 144.5l-.1 0M393.2 162.2l.4 0M358.1 166.5l.3 .1M339.5 174.4l.1 .1M357.1 141l0 0M384.3 184.2l-.1 .1M403.8 151.3l0 .2M394.5 178.3l-.3 0M336.3 169.8l0 .2M362.5 137.9l-.1 .1M357.6 161.1l.3 .2M345.9 157.6l.1 0M392 145.9l0 .3M360.2 168.4l0 0M355.5 154.5l-.1 .4M339.2 137.1l0 .1M364.6 176.7l-.3 .1M370.6 133.8l-.1 .3M363.9 140.7l-.1 .1M354.4 178.1l0 .2M365.2 139l0 .4M345.1 159l-.1 0M378.4 174.2l.1 0M371.6 131.4l-.1 .1M385.1 147.6l-.3 0M371.7 144.3l-.3 0M348.8 177.2l.1 0M404.6 175.9l-.4 .1M398.5 176.8l0 .1M365.2 144.4l.2 .3M365.3 159.7l.2 .2M341.5 147l-.1 .4M386.9 149.4l.2 .1M380.7 176.5l.2 .3M389.4 132.4l-.3 .1M333 165l-.2 .2M353.2 132.8l0 0M379.5 140.3l0 0M395.3 164l-.3 .2M342.9 169.4l-.2 0M345.1 135.5l-.2 .4M353.8 157.1l0 .1M332 146.6l-.2 .2M367.8 137.1l0 0M390.2 175.4l0 0M372.1 132.1l0 0M374.8 185.2l-.4 0M337.4 181.9l.3 .2M333.9 183.1l-.2 .3M359.1 161.7l0 .1M335.2 173l.2 .1M357.1 176l.1 .1M389.3 162.5l0 0M381.5 183.4l.1 0M375.7 151.4l.3 0M358.2 169.7l.3 .2M401.4 161.6l-.3 .1M352.5 155.3l0 .2M375.3 158.7l.1 .1M361.5 167.7l-.1 .1M381.5 147.4l.2 .2M333.1 134.2l0 0M395.2 151.4l.4 .2M358 161.2l.2 .3M339.1 158.7l-.1 .1M345.9 164.6l0 .2M338.7 179.6l.1 .4M378.6 178.8l.3 .1M397.9 153l0 0M374 168.4l.3 .1M332.2 137.1l.1 .1M399 164.4l0 0M389.1 169.9l0 .1M362.6 148.4l.1 .1M397.1 172.5l.3 0M340.1 135.2l-.3 .1M391.9 183.8l0 .3M366.1 162.1l0 0M365.5 140.2l-.3 .2M368.1 151.5l0 0M368.1 174.8l-.1 0M364.8 172.4l-.4 .1M346.1 151.5l0 .1M375.9 139.7l.3 .1M366.9 176.6l-.2 .3M398.8 146.1l0 0M375.3 162.6l0 0M352 141.8l-.3 .3M375.5 152.6l.1 0M351.6 175.4l-.1 .2M397.5 161.4l0 0M363 151.5l-.3 .1M370.7 167l0 0M387.3 132.8l.1 .2M331.9 159.2l0 .3M394 181.3l.2 .2M403.8 130.9l.2 .2M378.2 168.7l.2 .2M363 172.3l0 0M362.2 174.3l-.2 .3M337.7 172.2l0 .1M360.7 178.1l.2 .2M378.1 179.6l-.1 .1M363.5 168.3l0 .1M396.1 173.9l-.1 .4M347.9 174.3l.3 .1M370.9 140.4l.2 .1M387.8 172.9l.3 0M360.8 167.7l0 .1M369.5 180.2l-.1 .2M349.1 164l0 .1M390.8 137.7l0 0M392.4 175l-.2 .4M398.1 139.7l.3 .2M347.9 141.8l.2 .1M402 183.1l-.2 .2M377.2 158.5l.4 0M342.5 162.7l0 0M355.2 154.2l.3 .1M356.9 181.3l-.1 0M356.4 132.9l0 .2M398.8 154.9l.1 .3M366.2 136.6l.3 .2M364.1 182.4l-.1 .3M381 155.4l-.4 .2M393.9 158.9l.3 0M360.4 134.3l0 .3M345.1 152.6l0 0M361.5 166.7l-.1 .1M370.7 133l.2 .1M347.2 162.9l-.1 0M364.2 145.3l.1 .3M369.7 167.5l0 .1M393.8 135.2l-.2 .3M392 146.8l0 .2M386.6 149.8l-.1 .2M375.7 179.9l.3 .2M386.2 165.5l-.1 .1M348.7 134.8l.1 0M379.6 160.5l-.1 .1M404.5 155.7l.2 .3M343.8 133l0 0M375.2 180.7l0 0M344 182.8l-.2 0M342.6 169.3l.2 .1M338.4 163.9l-.4 .2M354.7 151.6l-.1 .3M397.2 144.2l.2 .3M367.3 150.5l.1 .1M355.1 136.6l.1 .3M367.5 176.2l0 0M396.9 169.5l-.1 .4M396 152.2l0 .3M397.6 159.1l0 .1M355.4 167.9l.1 .1M390 165.6l.2 .1M383.4 152.5l-.3 .1M333.2 150.4l0 .1M373.3 181.1l-.1 .2M351.4 154.5l-.4 .1M401.4 134.1l0 0M393.1 136.9l.1 .1M377.9 136.7l-.1 .3M342.6 182.2l.2 .1M398.7 136.2l-.2 .1M366.2 145.7l.2 .2M352 180.3l0 0"/>
<path stroke="#cfa6bc" stroke-opacity="0.8" stroke-width="1.17" d="M389.7 150.3l.1 .1M356.6 149.7l.1 .2M377.1 179.7l.1 .2M341.7 160.4l.1 .2M393.7 133.2l.1 .2M346 172.2l.2 .1M379 157.3l0 .1M360.4 158.8l.1 0M397.4 163l-.2 .2M386.9 172.7l-.1 .1M355.8 182.3l-.1 .2M364.2 167.8l.1 0M373.5 161.6l.1 .1M347.7 154.4l-.3 0M380.8 156.1l-.2 .1M363.4 131.7l-.1 .1M351.2 164.7l0 .3M346 177.9l0 .1M344.9 154.3l.1 .2M384.7 143.7l-.1 .1M377.9 166.2l0 .2M357.1 159.8l.1 .2M366.8 165.2l-.1 .2M381 142.3l-.1 0M371.7 178.1l.1 .1M374.3 146.9l.2 .1M338.7 160.2l-.2 .2M345.2 167.5l-.1 .2M341.3 175l-.2 .1M335.4 171.7l0 .2M374.8 144.9l-.2 .1M371.6 133.2l-.1 0M347.2 165.5l.1 .1M337.8 160.4l-.1 .2M351 156.3l-.2 .1M353.2 146.3l.1 .1M354.6 180.8l.1 .1M351.9 138l0 0M371.1 175.8l.2 .1M332.3 146.9l.2 .1M369.8 181.5l.2 .2M377.4 176.6l.2 .1M356.4 134.5l.1 .2M395.3 164.5l-.1 .3M338.7 184.7l0 0M380.9 176.3l-.1 .1M359.7 171.2l0 0M392.9 163.7l0 0"/>
<path stroke="#cfa6bc" stroke-opacity="0.8" stroke-width="1.5" d="M378.9 182.5l-.3 .1M385 182.9l.1 0M334.9 176.9l0 0M394 152l.1 .2M398.9 149l.3 .2M367.6 172.6l.2 0M353.3 137.2l.1 .2M369.7 150l-.3 .1M364.4 160.1l0 .1M343.5 148.5l0 .2M350.8 157.3l0 .1M365.8 170.5l0 .2M375.4 150.1l-.1 .1M374.8 174.6l-.1 0M371.4 160.4l.2 0M350 136.8l-.1 .3M353 148l0 0M360.3 181l0 .2M372.8 176.2l.1 .2M368.9 171.9l0 .1M397.8 166.4l.2 0M357.6 140.9l.1 .1M391.6 181.5l.1 .2M399.5 141.4l-.2 .2M401.9 146.6l-.1 .3M336.2 157l0 .2M356.3 135.1l-.3 .1M337.9 166.7l0 .1M369.5 141.3l.4 .1M383.5 141.3l.1 0M345.9 162.1l-.1 .1M348 169.2l-.3 .2"/>
<path stroke="#cfa6bc" stroke-opacity="0.8" stroke-width="1.83" d="M395.4 149.3l.3 .1M339 132.9l-.2 .1M345.5 153.2l0 0M388.6 133.9l.1 .1M379.2 148.4l.2 .2M383.9 176.8l.3 .1M337.8 175.8l0 .1M386.3 151l-.3 0M392.6 182.8l0 .1M357.4 163.8l.1 .1M360.9 175.6l-.1 .2M359 151.5l0 0M364.1 176l.2 .4M338.5 170.2l.1 .3M377.6 166.6l-.2 .3M336.6 182.7l-.1 .1M376.3 144.4l0 0M391 138.5l-.2 .3M394 153.3l-.1 .2M352.5 163.2l0 .1M379 181.5l0 0M395.3 136.5l.1 .3M338.6 154.6l.1 0M385.5 134.9l.3 .1M384.5 143l-.3 .2M350.6 159.7l-.1 0M340.1 147.7l.1 .3M345.7 165.8l.1 0M339.2 149.4l.4 0M389.7 152.7l.1 .2M396.1 176.8l-.1 .2M348.5 134.7l0 0M338 184.7l-.2 .1M396 184.3l-.2 .1M399.5 179.7l0 0M389.4 182.3l.3 .2M377.6 178.5l.2 0M390.9 155.7l.1 .2M394.6 139.7l0 .1M345.4 154.5l0 .1M395 169.2l-.1 .2M332.8 149.2l0 0M336.9 145.5l.1 .1M361.2 177.8l-.1 .3M397.4 150.3l0 .4M362.8 172l0 .2M358.6 163.6l-.3 0M335.8 154.9l0 .3M399.6 133.7l.1 0M346.1 141.5l0 0"/>
<path stroke="#2e4e92" stroke-opacity="0.9" stroke-width="1.2" d="M353.4 157.9l0 .1M349.6 166.1l.1 .1M347 158.9l.1 0M345.2 150l-.1 .3M342.7 170l-.1 0M342.1 138l.1 .2M402.7 171.1l-.1 0M398 141.3l0 .1M400 174.6l0 .1M372 134l-.1 .1M358.7 130.9l0 0M346.3 181.6l-.1 .2M335.2 176.6l.2 .1M383.4 139.3l.1 .2M399 162.6l0 0M360.7 179.1l-.1 .2M369.7 131.7l-.1 .2M355.3 156.2l0 0M344.5 183.9l-.1 .1M389.8 149.3l-.1 0M383.4 160.4l0 .1M403.4 164.4l-.2 0M378.9 160.9l-.1 .1M380.9 148.1l-.1 .1M374.5 156.7l0 0M372.9 131.2l0 .2M373.8 157.5l.2 .2M349.5 181.8l0 .1M362.2 174.2l0 .2M394.9 131.3l-.1 0M344.6 151.5l-.2 .1M350.9 169.2l.1 .1M383.9 131.2l0 0M336.2 132.2l0 0M332.5 171.9l0 0M345.6 150l0 0M394.5 174l.1 .1M353.3 157.2l.1 .1M385.1 184.3l.1 .2M374 163.3l0 .1M386.2 169.3l-.1 .1M394.5 147.6l-.1 .1M360 149.4l.1 .2M385.2 180.7l.1 0M377.6 178.9l.3 0M376.4 136.6l-.2 .2M367.5 184l-.1 0M359.1 166.5l.2 .1M361.4 173.5l-.2 .1M332.6 159.3l-.2 .2M359.2 172.6l-.2 .1M385.6 135.3l0 0M391.6 181.4l-.3 .1M343.4 134.4l.1 .1M390.7 150.2l.1 .1M368.8 151.9l0 .1M355.3 178l0 0M381.6 145.8l.1 .2M337.7 179.7l-.2 .1M373.9 133.9l0 0M343 147.8l-.2 .1M342.1 175.3l-.1 0M331.8 170l.2 0M397.4 166.4l-.1 .1M370 153.4l.1 .1M374.8 185.2l-.2 0M379.3 181.3l-.1 .3M358 147.7l-.3 0M371.5 134.7l.2 .2M333.3 135.9l.1 .1M385.6 131.4l.2 .1M336.8 179.7l.3 0M345.8 144.2l0 0M347 143.4l.2 .1M369.2 139.2l-.1 .1M342.7 160.3l.2 0M365.2 158.9l.2 .2M340.7 142.3l-.3 0M367.6 132.6l0 0M384.5 134.2l0 .2M404.6 138.6l0 .1M388 148.4l0 0M362.5 143.7l.1 .1M341.1 156l0 .1M335 165.7l.2 .2M348.5 150.5l0 0M360.9 134.1l0 .1M385.2 153.9l.1 .2M333.8 181.5l.2 .1M370.6 175.8l.1 .2M340.8 174.9l-.1 .1M377.5 185.1l.2 .1M373.7 130.9l-.2 .1M387.9 154l.1 0M339.4 154.3l-.2 .1M350.6 154l0 .2M364.5 138.8l.1 .1M357.9 145.5l.1 .3M399.7 165.3l0 .2M404 156.5l-.1 0M331.9 162.4l.1 0M371.1 137.7l0 0M370.8 177.2l.1 .1M390.9 180.2l.2 .1M365.7 140.4l0 .3M400 162.7l0 0M389.4 152l.1 .1M351.8 173.7l-.1 0M341.7 172.2l.1 .1M396.8 145.8l.2 0M379.6 160.9l0 .1M359.9 145l0 0M336.9 164.6l.1 .2M360.8 151.1l.1 .2M352.1 164.3l-.2 .2M368.5 163.5l-.3 0M339.3 156.7l.1 0M352.7 135l-.1 0M377.1 135.1l-.2 .1M368.2 140.7l0 0M364.6 174.5l.1 .2M337.3 178.6l-.1 .1M336.4 136.4l0 .1M332.9 171.8l.1 .1M400.6 184.4l0 0M334.8 142.7l-.1 0M358 181.9l-.1 0M365.4 166.4l0 .1M360.5 140.3l-.2 .2M388 150.8l-.3 .1M404.6 145.7l-.1 0M402.6 134l0 0M348 143.3l0 .3M392.1 158.3l-.2 .1M396.6 153.3l0 .1M388 139.8l0 0M375.7 171.9l.1 .1M347.2 171.2l0 .3M341.9 183.2l0 .1M352.7 161.3l0 .1M338.9 170.7l0 0M391.4 150.4l.1 .1M374.9 177l.2 .1M391.9 184.9l-.1 .1M403 135.5l0 .2M379.5 151.8l0 .1M400.5 167.3l0 0M363.5 148.4l.2 .2M384.9 147.2l0 .1M332.1 139.6l0 0M348.7 163.7l-.1 .1M397.7 142.4l-.1 .2M402.7 158.4l0 0M381 180l.3 0M372.4 148.5l0 0M383 180.2l0 0M352.3 148.2l-.2 .1M404.8 150.3l-.2 0M395.9 170.9l0 .1M389.8 148.2l.3 0M395.4 135.9l0 .1M381.5 178.7l0 0M397.1 157.6l0 .3M338.1 163.1l.1 .1M402.7 146.8l-.1 .1M333.9 168.3l-.1 .2M384.5 152l.2 0M354.1 167.1l0 0M356 144l-.2 .2M398.6 142.8l.2 .1M337.8 167.1l.1 .2M394.6 170.3l.2 .1M361.8 142.9l-.2 0M355.2 138.7l.1 .2M357.2 183.6l0 .1M350.9 167.9l.2 .1M370.9 144l-.2 .1M346.3 158.6l-.1 .1M368 160.2l.1 .2M398.3 184.2l-.1 .1M344.8 139l.1 .1M395.2 177.3l.2 .1M365.6 177.8l0 0M372.2 159l-.2 .1M372.5 143.5l0 0M374.7 136.8l0 0M358.2 182.4l.1 .1M333.4 175.6l0 0M383.8 176.7l0 .1M383 163.3l0 .1M351.8 134.3l-.1 .1M336.2 168.5l.2 .1M404.7 147.3l-.2 .2M404.1 177.5l-.1 0M341.2 139.1l0 0M378.3 158.5l.1 .1M333.6 173.2l-.1 .1M392.9 155.3l.1 .1M347.9 144.1l.1 .2M356.1 166.1l0 .3"/>
</g>
<ellipse cx="365" cy="139" rx="5" ry="3.5" fill="#f6f6f8" fill-opacity="0.95" filter="url(#hb)"/>
<ellipse cx="361" cy="143" rx="3" ry="2.5" fill="#f6f6f8" fill-opacity="0.9" filter="url(#hb)"/>
<ellipse cx="387" cy="155" rx="3.5" ry="5" fill="#f6f6f8" fill-opacity="0.9" filter="url(#hb)"/>
<ellipse cx="383" cy="160" rx="2.5" ry="3" fill="#f6f6f8" fill-opacity="0.9" filter="url(#hb)"/>
<ellipse cx="356" cy="165" rx="3.5" ry="2.5" fill="#f4f4f8" fill-opacity="0.9" filter="url(#hb)"/>
<ellipse cx="342" cy="176" rx="2.5" ry="2.5" fill="#f4f4f8" fill-opacity="0.8" filter="url(#hb)"/>
</g>
<g clip-path="url(#c4)">
<rect x="405.8" y="132.8" width="68" height="50.5" fill="#e8e4ee"/>
<g filter="url(#hb)" stroke-linecap="round" fill="none">
<path stroke="#d0a4b8" stroke-opacity="0.8" stroke-width="3.07" d="M456.6 146.5l.3 .4M453.2 152.4l-.2 .1M408.8 163.2l.1 0M466.1 181.8l0 .4M410.8 136.1l-.2 0M472.7 173l-.2 .1M455.8 179.4l-.1 .4M434.6 172.9l.2 .1M418.2 168.4l0 .2M412.6 179.5l.4 .4M430.2 153.9l.3 .1M461.8 140l.4 .3M470.7 160.3l.7 .2M464.6 137l-.6 .1M455.3 131.6l.5 .5M453 165.9l-.3 .3M430.9 169.6l0 .3M412.5 142.9l-.1 .1M463.4 147.5l.1 .5M405.9 158.3l-.7 .3M462.3 140.2l-.1 .6M411.8 176.8l.5 .6M435.7 151.7l-.3 .2M445.7 143.1l0 .1"/>
<path stroke="#d0a4b8" stroke-opacity="0.8" stroke-width="3.6" d="M426.7 174.5l-.3 .7M473.8 152.7l.8 .2M416.7 135.8l.4 .3M436.2 142.6l.4 .1M462.7 135.7l.1 .1M453.1 159.8l0 .3M433.7 175.7l.3 .3M405 169.2l.6 .6M445.6 146l.8 .3M439.3 144l-.4 .3M450.5 166.2l-.3 .9M437.6 181.6l0 0M408.7 174.1l0 0M467.8 138.9l-.4 .2M456.4 131l-.7 .4M432.3 154.8l.3 .6M473.5 159.3l0 0M475.6 149l.2 .7M453.1 183.3l-.7 .6M409.3 173.5l-.1 .8M455.4 169.6l.2 .6M468.8 175.1l-.1 .8M420.5 177.7l-.5 .3M429.1 175.4l.1 0M466.6 145.6l-.1 .1M418 134.8l-.3 .7"/>
<path stroke="#d0a4b8" stroke-opacity="0.8" stroke-width="4.13" d="M411.3 168.9l.4 .4M414.4 160.8l.3 0M450.1 178.8l-.2 .6M433.5 168.1l0 .1M423.2 154.8l-.4 0M425.8 140.9l-.5 .3M422.7 144l.4 .6M471.4 171.9l.5 .4M426.4 180.7l0 0M462.9 169l.3 .3M422.2 145.8l-.5 .7M405.6 167.4l.4 .5M475.4 155.8l.1 0M447.2 156.4l0 .4M414.8 159.1l.1 .3M425.2 167.3l-.1 .1M458.5 134.7l.6 .6M446.5 141.5l-.3 1M464 135l-.9 .4M427 158.6l-.7 .1"/>
<path stroke="#a4bee0" stroke-opacity="0.85" stroke-width="4.51" d="M409.1 170.7l.1 .2M440.6 135.8l.1 .1M467.7 148.2l.1 .2M429.1 145.1l0 .2M431.7 152.9l.4 .1M424.8 142l.2 .3M449.5 171.1l-.3 .1M425.9 179.8l.2 0M448.3 157l0 0M406.7 165.1l.1 0M437.6 166.1l-.1 0M421.7 182.6l0 0M429.2 135.1l0 .5M407.1 135.8l-.2 .2M442.5 151.8l-.1 .1M441.1 141.1l-.1 .3M432.7 147.6l-.1 .2M436.1 142.1l.3 .3M446 182.1l0 .3M435.9 134.3l-.1 .5M411 177.4l-.1 .3M438.6 161.5l0 0M472.8 134.1l.3 0M408 143.2l0 0M413.7 164.3l-.1 .1M468 170.8l-.1 .2M458.3 145.5l0 .2M472.1 161.7l-.2 .1M439.1 143.5l0 .4M449 162.5l-.4 0M458.4 179.8l.1 .4M421.1 142l.1 .1M448.6 164.1l-.2 .2M418.9 147.7l-.1 .2M461.3 177.8l0 0M416.1 174.5l-.2 .2M451.9 182.9l.2 .1M445.9 181.5l.3 .1M430.5 142.3l.1 .2M410.5 136.8l.2 .1M467.1 142.1l.1 .2M428.9 142.8l0 .2M451.4 164.3l0 0M424.4 154.9l.2 .1M454.3 146.1l-.1 .1M465.9 147.4l.3 .1M424.7 138.3l.1 0M457.3 140.4l.1 .1M435.1 137.8l-.4 .1"/>
<path stroke="#a4bee0" stroke-opacity="0.85" stroke-width="5.2" d="M430.1 178.1l.4 .2M470.6 168.2l-.1 0M426.3 145.1l-.1 .1M456.1 166.1l0 0M414.7 135.4l.5 0M440.1 180.4l-.3 .3M420.3 169.6l-.5 .1M454.4 155.6l0 .2M459.9 159.3l-.3 .1M446.3 164.5l-.1 .5M413.7 149.5l.3 .2M412.8 157.3l.5 .1M470.3 179.2l-.3 .2M438.3 137.4l.4 .4M461 153l-.2 .1M438.6 138.3l-.5 .2M465 134.7l.1 0M444.9 141.3l-.1 .1M429 139.4l.1 .1M463.3 171.2l0 .2M451 178.6l-.1 .2M445.9 147.7l.4 .1M410.9 163.3l0 .3M469.7 146.7l0 .1M449.5 163l.4 .1M464.6 167l-.2 .2M449.7 170.6l-.3 .4M415.2 167.5l.4 .3M463.1 138.6l.1 .1M447.7 159.5l.2 .3M411 146.8l-.4 .1M409.6 147.8l.3 .3M472.4 146.1l0 .1M472 171l-.2 .4M438.3 179.2l.2 .2M426.6 159.8l.2 0M456.6 147l.1 .1M461.6 182.9l.4 .3M468.5 133.7l0 .1M460.2 132.6l.3 .4M438.1 140.1l-.3 0M464.7 173.4l.3 0M419 142.4l.2 0M431.1 140l0 .3M425 149.9l.1 .3M451 148.5l-.2 .1M437.4 141.4l.1 0M459.1 165.7l.4 .4M422.5 133.5l.1 .2M422.6 164.5l0 .4M457.7 173.2l-.2 0M410.7 179l-.2 .2"/>
<path stroke="#a4bee0" stroke-opacity="0.85" stroke-width="5.89" d="M412.4 150.7l.3 0M422.6 138l-.4 .1M473 148.8l0 .2M420 166l-.3 0M462.4 180.5l0 0M406.7 169.5l.6 0M465.6 149.6l.1 .4M433.8 177.1l.4 .3M438.8 169.9l0 .1M468.8 177.3l.1 .3M431.5 176.1l.4 .2M455.5 169.1l.4 .4M454.2 156.4l.4 .5M408.2 171.5l-.1 0M418.8 152.7l-.1 .2M418.9 151.6l.6 0M414.2 166.7l-.1 0M445 165.9l-.5 .3M417 163.9l.5 .1M461.2 160l-.1 .1M445 136.3l0 .1M429.9 170.8l.5 .1M429 132.8l0 0M446.1 157.1l-.5 .3M469.2 143.7l0 .2M409.7 176.9l0 .1M411.8 173.3l0 .2M450.1 133.6l-.3 .3M417.3 169.5l-.2 .3M422.9 157.6l0 .1M454.9 152.3l.4 .3M470.7 136.1l-.4 .1M461 145.9l.2 0M436.6 156.6l-.1 .1M427.6 167.8l0 .2M418.5 181.7l-.4 .4M454.9 157.2l0 .1M417.2 138.5l-.2 0M443.1 167.7l.2 .5M462.6 175.2l-.3 .2M471.7 175l-.2 .2M433.6 146.9l-.1 0M473.7 173.9l.1 .5M473.7 149.5l-.2 .6M410.6 136l-.3 .3M441.6 143.5l.2 .4M466.1 173.2l.3 .4M426.8 139.8l.5 .3M417 149.3l.1 .1M473 140.5l.3 .6M454.4 135l.3 .3M413.5 158.6l-.3 .1M438.3 135.4l-.1 .5M452.6 135.4l0 0M453.6 170.7l0 0M444 171.7l-.2 0M416.9 145.3l.1 .1M435.7 138.1l.2 .5M456.8 141.8l.2 .3"/>
<path stroke="#5a80ba" stroke-opacity="0.8" stroke-width="2.43" d="M409.5 170.8l.1 .1M440.3 135.3l.1 .1M467.6 148.2l.1 .2M429.6 145.1l0 .2M431.4 153l.3 .1M424.8 142.3l.2 .2M449.1 170.6l-.2 .1M426.4 180.2l.1 0M448.3 157.2l0 0M406.7 164.8l.1 0M438 166.6l-.1 0M421.5 182.2l0 0M429.7 134.7l0 .4M406.7 135.7l-.2 .1M442.7 152l-.1 0M441.5 141.3l-.1 .3M433.2 147.7l-.1 .1M436.6 142.1l.2 .3M445.7 181.8l0 .2M435.7 134l-.1 .4M410.8 177.5l-.1 .3M438.2 161.8l0 0M473.3 133.9l.2 0M407.7 143.4l0 0M413.4 164.5l0 .1M467.6 171l-.1 .2M458.4 145.3l0 .2M471.9 161.5l-.2 0M438.7 143.7l0 .3M449.2 162.8l-.3 0M458.6 180l.1 .3M420.8 142.2l.1 .1M449.1 164.3l-.2 .1M419.2 147.9l-.1 .1M460.9 177.5l0 0M415.5 174.2l-.2 .1M451.4 183.1l.2 .1M445.7 181.1l.2 .1M430.6 142.4l0 .1M410.4 136.8l.2 .1M467 142.7l.1 .2M428.8 142.8l0 .1M451.5 164.5l0 0M424.5 154.5l.1 .1M454.8 146.5l-.1 .1M466.3 147.1l.2 .1M424.6 137.9l.1 0M457.1 140.5l0 .1M434.9 138.1l-.3 .1"/>
<path stroke="#5a80ba" stroke-opacity="0.8" stroke-width="2.8" d="M430.2 178.4l.3 .2M470.6 168.4l-.1 0M426.5 144.8l-.1 .1M455.8 165.9l0 0M415.2 135.3l.4 0M440.1 180l-.2 .2M420.8 169.7l-.4 .1M454.6 155.4l0 .2M459.6 159.6l-.3 .1M446.8 164.2l-.1 .4M414.2 149.2l.2 .2M412.9 157.4l.4 .1M470.5 178.9l-.2 .1M438.1 137.9l.3 .3M460.5 153.1l-.2 .1M438.5 138.8l-.4 .1M465.4 134.6l.1 0M444.6 141.3l-.1 .1M429 139.1l.1 .1M463.8 170.7l0 .2M451.4 178.9l-.1 .2M445.4 147.1l.3 0M410.7 163.8l0 .2M469.7 146.2l0 .1M449.9 162.8l.3 .1M464.5 167.3l-.2 .2M449.9 170.3l-.3 .3M415.6 168.1l.3 .2M463.2 138.1l0 0M447.2 159.1l.2 .2M411.4 146.3l-.3 0M409.7 147.4l.3 .3M472.5 145.5l0 0M471.8 170.9l-.2 .3M438 179.1l.1 .2M427 159.7l.2 0M457.1 146.8l.1 0M462.1 183.5l.3 .3M468.9 133.8l0 .1M460.6 132.5l.2 .3M437.9 140.3l-.2 0M464.6 172.9l.3 0M419.2 142.6l.2 0M430.8 139.9l0 .3M425.3 150.4l.1 .2M451.2 148.7l-.2 .1M437 141.6l.1 0M459.2 166.3l.3 .3M422.9 133.8l.1 .2M423.2 164.3l0 .3M457.4 173.6l-.2 0M410.3 178.4l-.1 .2"/>
<path stroke="#5a80ba" stroke-opacity="0.8" stroke-width="3.17" d="M411.8 150.5l.2 0M422.1 137.7l-.3 .1M473.4 148.2l0 .2M420.6 166.6l-.2 0M461.7 180l0 0M406.4 169.4l.5 0M465.5 149.8l.1 .3M433.4 177.3l.3 .2M438.3 170.3l0 .1M468.2 177.2l.1 .2M431.2 176.3l.3 .2M456 168.9l.3 .3M453.9 156.9l.3 .4M408.7 172l-.1 0M419.1 153.4l0 .1M418.7 151.5l.5 0M414.8 167.1l0 0M444.7 166.3l-.4 .3M416.5 164.2l.4 .1M460.6 160.7l-.1 0M444.7 135.8l0 .1M430.4 170.6l.4 .1M428.3 132.8l0 0M446.4 157l-.4 .2M468.6 144l0 .2M410 177.6l0 .1M411.7 174l0 .2M450 134.2l-.3 .2M417.5 169.4l-.1 .2M422.7 157.5l0 .1M455.4 151.9l.3 .2M471.2 136.5l-.3 .1M460.8 146.4l.2 0M437.2 156.2l-.1 .1M428 168.4l0 .2M418.5 182l-.3 .3M454.4 157.2l0 .1M416.9 138.6l-.2 0M442.5 167.5l.2 .4M462.3 175.1l-.3 .2M472.1 174.3l-.2 .2M433.8 146.3l-.1 0M474.2 174.5l.1 .4M473.3 149.1l-.2 .5M410.8 136.5l-.2 .2M441.8 143.9l.2 .3M466.1 173.5l.2 .4M427.3 139.3l.4 .2M416.8 149.9l.1 .1M473.6 140.2l.2 .5M454.2 135.2l.3 .2M413.8 159.3l-.2 .1M438.4 135l-.1 .4M452 135.4l0 0M453.4 171.1l0 0M444.1 171.6l-.1 0M416.9 144.9l.1 .1M435.3 138.6l.2 .4M457.4 141.2l.1 .2"/>
<path stroke="#34569a" stroke-opacity="0.9" stroke-width="2.4" d="M432.8 158.9l-.1 .1M416.5 161l-.1 .3M466.8 176.3l.1 .2M452.5 137l.3 .3M429.8 140.9l.4 .3M411.3 157.1l0 .2M468.9 146.9l.6 0M438.8 172.3l-.5 .1M439.4 166l-.2 0M422.1 179l.1 .5M448.4 151.9l.3 .4M412.4 143l-.1 0M446 148.4l-.1 .5"/>
<path stroke="#34569a" stroke-opacity="0.9" stroke-width="2.8" d="M448.1 168.8l.1 .2M443.4 175.7l0 .1M452.7 153.9l.1 .1M467.5 175.9l.1 .2M432.2 157l.5 .5M473.6 163.8l.3 .6M457.9 133l.2 .5M451.4 142.6l-.1 .6M454.1 134l.5 .5M446.4 171.6l-.1 .1M425.2 152.9l-.4 .2M437.5 183.7l-.1 .4M441.9 132.1l.3 .1M419.7 147.6l.3 .3M445.8 167.1l-.4 .1M448.2 145.6l-.4 .1M424 142.3l-.2 .3M473 156.6l0 .3M468.2 145.1l-.3 .6M471.5 133.6l-.4 .3M405.8 163l.6 0M451 145.7l0 0M465.6 139.3l.3 .6M437.6 138l-.1 .2M433.7 145.1l.6 .1M444.1 147.9l-.2 .1M431.4 167.9l.1 .4"/>
<path stroke="#34569a" stroke-opacity="0.9" stroke-width="3.2" d="M451.7 177l.3 .3M423 138l.1 .1M412.1 162l.5 .5M407.9 152.6l-.1 .2M455.3 140.5l-.6 .3M469.7 177.6l-.3 .5M467.2 179.8l.1 0M475.9 140.5l-.1 0M433.2 135.6l-.1 .4M448.2 184.1l-.3 .5M413.5 145.8l.1 .2M466.2 179l.4 .5M432.6 161.6l.4 .3M442.1 181.9l0 .2M444.9 138.8l-.1 0"/>
</g>
<ellipse cx="428" cy="142" rx="4" ry="3" fill="#f6f4f8" fill-opacity="0.9" filter="url(#hb)"/>
<ellipse cx="460" cy="137" rx="4" ry="3" fill="#f6f4f8" fill-opacity="0.8" filter="url(#hb)"/>
</g>
<text x="172.9" y="208.8" font-size="11.6" fill="#231f20" stroke="#231f20" stroke-width="0.22" text-anchor="start">E</text>
<text x="238.1" y="210" font-size="8.8" fill="#231f20" stroke="#231f20" stroke-width="0.22" text-anchor="start" textLength="178.1" lengthAdjust="spacingAndGlyphs">AML without maturation (NFE2 109aa (#539))</text>
<text x="251.5" y="283.8" font-size="8.8" fill="#231f20" stroke="#231f20" stroke-width="0.22" text-anchor="start" textLength="106.2" lengthAdjust="spacingAndGlyphs">AMML (NFE2 226aa (#535))</text>
<text x="223.8" y="358.4" font-size="8.8" fill="#231f20" stroke="#231f20" stroke-width="0.22" text-anchor="start" textLength="155" lengthAdjust="spacingAndGlyphs">MPD-like leukemia (NFE2 226aa (#537))</text>
<text x="202.5" y="433.8" font-size="8.8" fill="#231f20" stroke="#231f20" stroke-width="0.22" text-anchor="start" textLength="187.1" lengthAdjust="spacingAndGlyphs">Granulocytic Sarcoma (NFE2 Δ297-300aa (#40))</text>
<text x="217.3" y="508" font-size="8.8" fill="#231f20" stroke="#231f20" stroke-width="0.22" text-anchor="start" textLength="173.1" lengthAdjust="spacingAndGlyphs">AML without maturation (NFE2 248aa (#32))</text>
<g clip-path="url(#c5)">
<rect x="187.5" y="214.2" width="69.9" height="52.5" fill="#93a4cf"/>
<polygon points="198,217 200,217 214,238 212,239" fill="#d9a8c4" fill-opacity="0.8" filter="url(#hb)"/>
<polygon points="200,250 210,262 207,264 198,252" fill="#c090b8" fill-opacity="0.7" filter="url(#hb)"/>
<g filter="url(#hb)" stroke-linecap="round" fill="none">
<path stroke="#7084ba" stroke-opacity="0.9" stroke-width="4.98" d="M192.6 255.6l-.4 .6M253.8 233.5l.6 .2M204.1 255l-.4 .3M250.2 266.1l0 .1M221.4 228.1l-.1 .1M204.6 222.8l.2 .6M241.8 255.6l-.3 .1M195.2 218.1l-.4 .3M223.5 263.4l0 .7M236.1 226.6l.7 .3M213.4 214.3l-.1 .1M228.1 238.7l.5 .1M256.7 248.7l0 0M206.2 217.1l.3 .4M224.1 218.3l.2 0M188.9 228.8l-.1 .1M189.1 249l.5 .4M256.8 229.7l0 .2M190.3 259.3l0 0M238.9 252.4l.1 .3M204.7 255l.6 .4M205.9 257.5l-.1 0M189.1 264l-.2 .2M223.4 225.9l0 0M228.4 244.7l.2 .1M235.7 229.8l.3 .2M198 243l.4 .2M198 230.3l-.1 .2M188.8 240.6l0 0M200.7 250.7l0 .6M203.9 220.4l-.6 .4M236.5 240.9l.1 .5M196.8 234.3l-.4 .4M206.6 255.3l.8 .1M222.8 216.3l0 .1M246.5 246.7l.4 .3M211.4 229.2l0 .5M248.3 224.5l-.1 .8M257 222.9l-.1 .4M234.6 264.3l.7 .2M213.5 229.9l.7 .3M216.5 247.8l-.4 .5M214.2 232.1l-.2 .1M197.3 242.8l-.1 .1M188.8 248.2l0 0M241.1 215.9l-.6 .4M196.9 245.5l-.4 .2M230.3 225.7l.5 .6M220.9 247.7l.1 .1M202.3 257.1l-.6 .3M209.2 222.3l.6 .1M220.4 249.4l0 .3M220.5 265.6l.1 .1M238.4 215.8l-.5 .1M215.3 246.7l-.1 .3M197.3 230.5l.3 .1M250.3 255.8l-.1 .3M198.6 247.2l-.1 0M219.5 262l-.4 0M248.2 256.4l.3 .1M251.7 214.6l.2 .2M256 221.5l-.1 .6M194.4 241.5l.4 .7M236.7 235.3l.1 0M237.5 215.8l-.2 .2M218.1 266.1l-.4 0M254.8 237.7l.5 .1M199.2 264.1l.4 .2M224.2 242.7l-.7 .2M245.7 216.7l0 0M250.3 222.8l.2 .1M192.7 217.1l0 .1M249.5 228.2l0 0M220 265l-.3 .2M238.6 238.7l-.6 .2M251 247.4l-.5 .1M256 264.9l.2 0M194.5 219.5l-.4 .3M188.7 250.1l-.1 .3M256.6 224l.2 .2M203.1 255.3l-.1 .1M231.3 217.6l.1 .7M245 262.2l-.1 .4M247.6 242.2l.3 .3"/>
<path stroke="#7084ba" stroke-opacity="0.9" stroke-width="5.59" d="M241.4 235.5l0 0M198.6 252.3l.4 .2M252.2 260.8l-.3 0M199.9 222.8l.4 .7M250 264.3l.7 .4M243.8 254.8l0 0M189.9 227.2l0 .1M239.7 239.3l-.1 .1M254.4 261.3l-.7 .3M228.1 258.7l0 .1M228.6 227.5l-.6 .4M196.5 242.4l-.3 .1M191.5 245.1l.5 .7M226.5 217.1l.4 .8M203.2 216.7l0 0M217.3 255.9l0 .3M193.5 239.2l-.1 .3M198.5 224.7l.6 .2M237.5 222.2l.1 .4M199.7 234.4l-.1 0M231.5 260l0 0M190.6 223.8l.6 .6M220.4 256.2l.1 .1M189.7 226.2l.1 .5M251 265l0 .2M251.5 223.1l-.4 .4M252.7 242.4l-.2 0M238.9 260.3l.6 .6M240.1 248.3l-.1 .1M228.1 244.4l.1 .1M220.9 216.9l.8 .3M238.2 245.2l-.1 .4M243.9 250.3l0 0M224.6 222.6l0 .3M213 224.3l-.2 .5M191.5 251.8l.1 .3M214.8 246.8l.7 .5M220.6 218.1l0 .1M237.3 235.5l-.1 .8M216.3 255.7l-.4 .1M238.6 227l-.2 .1M254.5 246.5l-.2 .3M230.2 265.6l.8 .2M251.3 222.3l-.1 .6M238.1 227.9l0 .4M204.5 236.6l-.8 .4M203.6 249.3l.2 .3M199.6 244.5l-.3 .4M254.4 258.4l-.2 .7M231.3 222.7l-.2 .3M200.1 220.1l0 0M215.6 252.5l0 .1M255.7 241.7l0 .1M219.7 235.6l-.5 .5M253.6 238.7l.2 .2M255.3 264.7l-.1 .1M227.5 262.7l-.6 .4M256.2 253.2l0 0M226 244.7l.1 .8M243.2 232.3l-.4 .1M251.3 221.6l.7 .3M197.8 248.2l-.4 .1M242.4 226.8l-.1 .6M222.5 230.6l.5 .7M256.2 259l0 .6M212.5 221.9l-.6 .3M191.7 231l-.5 .4M233.6 214.1l-.3 .2M216.2 215.9l-.6 .2M203.2 216.5l-.3 .7M232.8 256.2l-.1 .3M190.4 225.9l-.6 .3M226.9 221.8l.1 0M221.4 217.5l-.2 .1M196 243.7l.4 .4M208.5 264.1l0 0M244.6 221.4l-.2 .3M195 222.6l0 .2M241.1 223.6l0 0M190.1 251.8l-.6 .1M204.9 240.9l-.6 .4M240.4 224.7l-.4 .3M214.1 253l-.2 0M245.1 257.4l.2 0M193.6 265.5l.4 .7M192.8 221l.7 .4M244.8 224.1l-.2 .1M246.5 227.3l-.3 .1M194.6 231.6l-.1 .2M254.8 266.4l-.1 0"/>
<path stroke="#7084ba" stroke-opacity="0.9" stroke-width="6.2" d="M199.2 250.3l-.2 .1M254.7 223.8l.2 0M192.4 245.6l-.1 .2M211.8 240.7l-.2 .1M214.2 220.8l0 0M215 223.9l.4 .2M247.2 224.7l.5 .1M247.4 226.2l-.4 .4M238.2 265.8l0 .8M253.7 249.7l0 .4M232 246.4l-.5 .7M251.6 234.3l0 .4M230.6 233.8l.4 .2M201.6 231.6l.5 .3M188.1 256.5l0 .1M231.4 223.2l0 .4M234.4 259.7l.1 0M227.1 237.6l-.6 .3M192.9 230.3l-.1 .1M230.6 248l0 .2M235.2 231.8l.5 0M201.7 250.9l0 0M204.9 236.7l-.6 .4M228.1 223.8l-.1 0M208 220.2l0 .1M239.8 257.3l-.3 .6M233.8 226l.7 .7M246.9 221.5l-.4 .6M211.7 241.6l.4 .8M216.5 231.2l-.3 .2M251.2 222.5l-.3 .9M256.7 241.3l-.3 .6M255.2 237.3l-.4 0M221.8 228l-.2 .2M239.5 233.5l0 0M209.5 246.3l.1 .5M248.4 247.8l-.8 .4M200 224.2l.1 .3M256.8 262.8l.2 .6M206.1 244.2l-.3 .3M235.3 215.5l.1 .1M223.1 239.8l.7 .3M247.1 257l0 0M238.9 231.8l.5 .4M232.8 247.7l0 .2M222.1 236.4l-.2 0M203.3 241.8l.3 .5M255.9 256.8l-.6 .3M247.1 266l-.5 .5M241.8 262.3l.1 .1M237.5 227.6l.1 .5M246.2 222.2l1 .1M238.6 220.7l.1 .6M189.1 259.7l.1 .3M194.2 225.9l.5 .9M194.3 256.7l0 .5M221.7 215.7l.1 .1M224.4 233.7l-.7 .2M216.2 257.3l.8 .4M227.3 241.8l-.3 .8M208.2 248.6l.3 .3M218 239.7l.1 .6M247.6 264.5l-.3 .2M206.4 238.6l-.1 .8M207.9 237.8l-.2 .8M195.5 260.5l.3 .6M220.2 217.3l.4 .1M214.6 255.5l.4 .6M191.8 243.3l-.2 .1M252.4 237.1l.5 .5M238.8 253.7l.8 .3M213.4 243.4l.4 .8M220.7 254.9l.1 .4M235.8 260.9l-.4 .1M236.4 259.5l-.7 .1M240.7 253.5l-.7 .1"/>
<path stroke="#4c64a2" stroke-opacity="0.8" stroke-width="2.76" d="M192.4 256.2l-.3 .5M254.2 232.9l.5 .1M204.3 255.6l-.4 .3M250.6 265.7l0 .1M222 227.5l-.1 .1M204.8 223l.2 .5M241.6 255.7l-.2 .1M195.7 218.1l-.3 .2M223.2 263.7l0 .6M236.7 226.3l.5 .3M213.8 214.4l-.1 .1M228.1 239.1l.4 .1M256.8 248.9l0 0M206.6 217l.2 .3M223.9 218.3l.1 0M189.3 228.9l-.1 .1M189.2 248.8l.4 .3M256.9 230l0 .2M190.4 259.6l0 0M238.4 252.6l.1 .2M205.2 255.5l.5 .3M206.1 256.9l-.1 0M189.2 264l-.2 .2M223.4 225.6l0 0M227.9 244.5l.2 .1M235.2 229.4l.2 .2M197.9 243.4l.3 .1M198.5 229.8l-.1 .1M189.2 240.4l0 0M200.6 251.2l0 .4M204.4 220.4l-.5 .3M236.7 240.7l.1 .4M196.3 233.9l-.3 .3M207 255.5l.6 .1M222.8 216.8l0 .1M246.2 247l.3 .2M211.7 229.5l0 .4M248.8 224.1l-.1 .6M257.5 223.3l-.1 .3M234.9 264.8l.5 .2M214.1 229.8l.6 .3M216.5 247.5l-.3 .4M213.9 232.5l-.2 .1M197.3 243.4l-.1 .1M188.9 248.5l0 0M240.9 215.4l-.5 .4M196.9 245.1l-.3 .2M230.6 226.1l.4 .5M220.9 247.1l.1 .1M202.7 256.6l-.5 .2M208.7 222.3l.5 .1M220.5 249.4l0 .2M220.7 265.3l.1 .1M237.8 215.9l-.4 .1M215.6 246.9l-.1 .3M197.2 230.2l.3 .1M250.2 255.6l-.1 .2M198.6 247.5l0 0M220 262.1l-.3 0M247.9 256.9l.3 .1M251.5 214.6l.1 .1M255.8 221.4l-.1 .5M194.9 241.5l.3 .5M236.3 235.9l0 0M237.4 216.4l-.2 .2M217.6 266.6l-.3 0M254.8 237.4l.4 .1M198.8 264.2l.3 .2M224.5 242.4l-.6 .1M245.8 216.6l0 0M250.2 223.1l.2 .1M193 216.8l0 .1M249 228.2l0 0M219.6 265l-.2 .2M238.5 238.7l-.5 .1M251.1 247.3l-.4 .1M256.1 264.5l.1 0M193.9 219.7l-.3 .2M188.9 249.7l-.1 .2M256.5 223.8l.2 .2M203.4 255.4l-.1 .1M230.9 217.3l.1 .6M245.2 262.4l-.1 .3M247.9 242.2l.3 .3"/>
<path stroke="#4c64a2" stroke-opacity="0.8" stroke-width="3.1" d="M241.4 235l0 0M198 252.8l.3 .2M252.1 260.5l-.2 0M200.3 223.4l.3 .5M250.3 263.7l.6 .3M244.2 255l0 0M190.4 227.9l0 0M240.2 239.3l0 .1M254.5 261.2l-.5 .2M227.7 259l0 .1M228.1 227.1l-.5 .3M196.6 242l-.3 .1M191.8 245.2l.4 .6M226.3 217.9l.3 .6M203.4 216.6l0 0M217.5 256.5l0 .3M193.1 239.2l-.1 .3M198.1 224.8l.5 .1M237.7 222l.1 .3M199.4 234.2l-.1 0M230.9 260.1l0 0M190.8 224.2l.5 .4M220.1 256.4l.1 .1M190 226.5l.1 .4M251.2 264.9l0 .2M251.7 222.7l-.3 .3M252.7 242.7l-.1 0M239.1 260.1l.5 .4M239.7 248.3l-.1 .1M228.4 244.8l.1 .1M220.7 216.8l.6 .3M238.2 245.2l0 .4M244.4 250.6l0 0M224.3 223.2l0 .3M212.9 224.7l-.2 .4M192.2 251.4l.1 .2M215.5 247.2l.5 .4M220.3 218l0 .1M237 234.9l-.1 .7M216.8 255.4l-.3 .1M238.9 226.6l-.1 .1M254.8 246.1l-.2 .3M230.5 265.6l.6 .2M251.6 222.2l-.1 .5M237.8 227.7l0 .3M204.3 236.8l-.6 .3M203.5 248.7l.1 .2M199.8 244l-.3 .3M254 259l-.1 .6M230.9 222.7l-.1 .2M200.5 219.9l0 0M215.4 252.8l0 0M255.2 242.1l0 .1M220.1 236l-.4 .4M253.3 239.1l.2 .2M254.9 265.1l-.1 .1M228 263.2l-.5 .3M255.7 253.8l0 0M226.4 244.3l.1 .7M242.6 233l-.3 .1M251.9 221.7l.5 .3M197.5 248l-.3 0M242.3 227.1l-.1 .4M221.9 230.4l.4 .5M256.6 259.1l0 .5M212.5 222.6l-.5 .2M191.8 230.4l-.4 .3M234 214.3l-.3 .2M215.8 216.3l-.5 .2M203.1 216.1l-.3 .6M233.3 256.4l-.1 .3M190.8 225.8l-.5 .2M227.3 221.9l.1 0M221 217.6l-.1 0M195.6 243.9l.3 .3M208.7 264.6l0 0M244.7 221.9l-.2 .2M195.6 222.8l0 .2M241.3 223.7l0 0M190.6 251.6l-.5 .1M204.4 240.4l-.5 .4M240.2 224.6l-.3 .2M214 253.1l-.1 0M244.6 257.4l.1 0M193.4 265l.3 .5M192.5 221.3l.6 .4M245.3 224.3l-.1 .1M246.9 227.3l-.3 .1M194.2 231.9l-.1 .2M255.1 266.1l-.1 0"/>
<path stroke="#4c64a2" stroke-opacity="0.8" stroke-width="3.43" d="M199.8 250.3l-.2 .1M254.5 224l.2 0M192.5 245.8l-.1 .2M211.3 240.1l-.2 .1M214.4 221.3l0 0M215.6 224.1l.3 .2M247.5 225.3l.4 .1M247 225.8l-.3 .3M238.4 265.9l0 .6M253.6 249.6l0 .4M232.2 246.1l-.4 .6M251.9 234.9l0 .3M231.3 234.1l.3 .1M201.1 231l.4 .3M188.4 256.1l0 .1M231.9 223.1l0 .3M234.3 259.8l.1 0M227.4 237.4l-.5 .2M193.6 229.8l-.1 .1M230.9 247.6l0 .2M235.8 231.5l.4 0M201.3 251l0 0M204.7 237.4l-.5 .3M228.4 224.1l-.1 0M208.4 220.6l0 .1M239.7 257.5l-.2 .5M233.6 226.5l.5 .5M247.2 221l-.3 .5M211.9 242.1l.3 .7M217 231.6l-.3 .2M250.5 223l-.3 .7M256 242l-.2 .5M255.7 237.7l-.3 0M221.3 227.4l-.2 .2M239.1 233.2l0 0M209.1 246.9l.1 .4M248.4 247.2l-.6 .3M199.6 224.4l.1 .2M256.5 263.2l.2 .5M206.7 244.6l-.3 .2M235.5 216.1l0 .1M223.6 239.7l.5 .3M246.8 257.3l0 0M238.4 231.9l.4 .3M232.8 247.4l0 .1M222 236.7l-.1 0M202.8 241.9l.2 .4M255.3 256.3l-.4 .2M246.5 265.6l-.4 .4M241.6 262.2l.1 0M238.2 227l.1 .4M246.9 222.5l.8 0M238 220.7l.1 .5M188.9 259.6l.1 .2M193.6 226l.4 .7M195 257.3l0 .4M221.8 215.1l.1 .1M224.6 233.6l-.6 .2M216.8 257.6l.6 .3M227.3 241.5l-.2 .6M207.6 248.8l.3 .3M217.6 240.2l.1 .5M248 265l-.2 .2M206.9 239.3l-.1 .6M207.4 237.5l-.2 .6M195.1 260.8l.2 .5M220.3 216.7l.4 .1M215 255.4l.3 .5M192.5 243.9l-.2 .1M252 237.2l.4 .4M238.4 253.5l.6 .2M214.1 243.2l.3 .6M220.2 255l.1 .3M235.2 261.5l-.3 .1M236.5 259.1l-.6 .1M241 253.5l-.6 .1"/>
<path stroke="#2a2f58" stroke-opacity="0.9" stroke-width="1.7" d="M190 221.7l0 0M236.9 261.6l0 .3M217.6 231.6l0 0M224 221.2l-.3 .3M240.1 241.5l0 .3"/>
</g>
</g>
<g clip-path="url(#c6)">
<rect x="261.7" y="214.2" width="69.3" height="52.5" fill="#d2c6de"/>
<g filter="url(#hb)" stroke-linecap="round" fill="none">
<path stroke="#b8aad2" stroke-opacity="0.9" stroke-width="4.98" d="M328 221.2l.1 .6M322.7 255.8l-.2 0M283.5 224.1l-.6 .1M264.9 242l.3 .3M289.2 262.6l.1 .3M262.2 238.2l0 .2M286.4 224.2l.1 0M307.3 219.4l-.4 .2M303.1 250.9l0 0M276.6 227.5l.1 .1M320 246.9l0 .2M311 238.4l.9 .3M325.8 231.9l-.6 .1M265.2 247.4l.1 0M308.9 255.5l-.8 .6M281.2 226.7l.1 .1M271.7 235.3l-.5 .2M316.9 240.5l.6 .4M286.2 229l.9 .4M315.6 225l0 .2M303.7 230.3l-.1 .1M284.7 239.5l.5 .3M294.9 223.1l-.4 .6M292 252.6l-.9 .1M309.7 242.3l-.4 .3M291 232.7l.3 .9M289.6 223.7l.2 0M283.2 243.4l0 .1M269.5 259.6l.3 .1M326.6 226l-.5 .3M294.2 241.1l-.6 .5M271.6 266.1l-.6 .3M279.9 232.8l.5 .9M290 238.7l-.4 0M280 233.1l-.1 .1M297.5 220.8l-.1 .5M264.7 234.4l-.7 .8M282 218.2l-.7 .2M327.9 242l.3 .2M282.2 244.1l.3 .2M287.9 234.7l-.1 .9M274.1 240.5l-.9 .2M321.6 258.1l.7 .7M284.3 233.1l-.7 .2M315.3 265l-.2 .1M307.3 262.3l-.6 .1M284.4 238.9l-.7 .4M308.7 240.4l0 0M264.9 255l0 0M330.3 261.3l-.9 .4M263.2 231.2l.1 .1M262 217l.4 .2M321.3 262.2l.1 .8M319.3 252l0 0M273.1 250.8l.5 .3M269.7 229l-.1 .7M292.4 237.7l.4 1M323.2 236.5l.7 .8M310.8 260.3l-.6 .2M305.6 215.2l0 .2M322.8 245.2l.4 .1M269.1 248.5l-.3 .4M285.5 224.2l-.6 .5M281.3 258.9l.4 .2M264.8 219.2l0 .2M277 235.9l.5 .1M291.9 264.5l0 1M280.8 243.4l-.6 .6M264.4 265.3l-.4 .6M274.6 257.1l.1 .6M290.2 220.9l0 .7M315.7 221.1l-.6 .6M289.4 243.5l-.8 .5M296.8 216.2l-.8 .6M297.6 218.3l-.2 .6M262.3 238.5l1 .4M280 234.3l.2 .1M295.3 258.5l.1 0M297.9 237.2l-.2 .5M275 217.7l-.6 .5M283.1 259.8l-.4 0M278 240.9l-.8 .3M305.3 223.7l-.3 0M313.8 250.2l-.5 .4M320.7 227.1l-.3 .7M281.9 234.7l.1 .3M311.9 256.7l.2 .2M308.8 256.6l0 0M267.9 246.6l.1 .2M261.6 231.5l.3 .4M302.2 242.5l-.3 .2M277.3 247.5l-.2 .5"/>
<path stroke="#b8aad2" stroke-opacity="0.9" stroke-width="5.59" d="M325.9 250.1l.8 .1M303.4 242.6l-.9 .3M292.5 219.4l-.1 0M319.9 251l.9 0M317.2 240.2l-1 .1M322.3 253.8l-.1 .8M326.8 261.6l-.1 .7M269 261.6l1 .5M300.8 237.2l-1 .6M300.2 223l.1 .8M270 253.4l.5 .2M284.2 255.3l.2 .1M316.1 222.9l1.1 .4M314.9 253.8l.9 0M298 260.6l.2 .1M329.4 228.3l-.5 .7M268.3 219.7l.3 .7M319.3 228.6l-.9 .7M314.3 253.2l.1 .1M307.1 256.6l0 1M267.7 232.7l.1 .1M323.8 246.2l-.6 0M289.4 236.1l-.4 .1M311 243.7l-.8 .9M320.9 261l.5 .6M273.3 228.9l-.4 .3M277.1 232.8l.6 .6M282.8 261.2l.1 .1M294.9 216.5l0 .1M304 263l-.4 .2M308.9 231.1l.9 .5M298.6 225.1l.3 .4M322.9 239.3l0 0M291.5 253.2l.4 .6M270.3 251.2l0 1.2M300.9 266.4l1.1 .1M320.9 222l.6 .7M286.7 246.8l-.3 .1M295.7 254.2l-.3 .1M296.1 239.7l-.6 .6M319.1 265.2l.2 .9M299.9 226.2l.4 .8M262 254.5l-.1 .1M316.1 260.1l-.2 .6M286.9 223.2l-.4 .1M300.9 247.6l-.7 .9M307.7 254.7l.3 .9M269.9 250.1l.8 .7M279.3 219.9l-.7 .6M284.5 228.9l.1 0M307.3 227.6l.7 .3M270.4 234.1l0 .1M303.3 236.2l.2 .3M325.3 233.1l-.2 .5M303.8 220.4l-.2 .3M273.4 246.3l.1 .3M322.3 259.4l0 0M273.9 214.6l-.2 .9M273.4 260.7l-.4 .1M292.6 239.8l-.1 1M262.9 234.4l0 .1M294.8 250.4l.1 0M310 221.4l1.1 .2M286.9 262.8l.4 .6M328.6 246.5l.1 .4M295.5 248.8l.2 .1M326.8 260.1l.7 .9M276.5 216l.1 .3M266.8 235.7l-.7 .3M300.2 264.2l-.5 .3M282.6 253.3l-.6 .5M309.2 258.3l-.6 .8M273.1 266.3l0 0M320.4 231.1l.7 .6M326.1 219.9l-.9 .6M314.3 224.1l-.2 .5M301.8 265.6l1.1 0M317.5 242l.5 .3M320.5 255l-.9 .1M304.7 223.2l-.1 .9M285.8 257.7l-.7 .4M319.5 248.2l-.2 .1M296.7 225.1l.4 .1M299.2 245.3l.3 .3M311.7 254.2l-.1 0M324.9 248l-.3 .6M317.7 248.1l.8 .2M298.6 259l.1 .1M322.6 251.8l-.4 1M305.9 247.9l-.2 .9M314 262.7l-.9 .7M323.2 255.3l-.3 .3"/>
<path stroke="#b8aad2" stroke-opacity="0.9" stroke-width="6.2" d="M300.8 250.7l.4 .2M322.1 264.3l-.2 .1M320.3 240.3l.1 .1M294.9 217.5l-.4 .3M326.8 215.1l.5 .1M276.1 231.7l-.1 1.2M300.7 223.5l.4 0M320.2 226.2l.3 .5M309.1 250.9l.7 .4M299.8 233.1l.2 .3M321.8 245.5l-.3 .3M264.2 264l.7 .2M323.8 237l0 .1M267.1 243.7l.3 .1M316.7 242.3l-.9 .2M303.4 226.6l0 .3M270.2 233.7l1 0M270.6 217.8l-.7 .2M304.8 228.4l-1.2 .3M314.3 255.7l-.1 .4M263.5 240l.4 .2M290.9 221.7l-.9 .8M312.9 232.2l-.5 1.2M300.1 225.9l.2 .1M268.4 261.4l-.5 .8M284 218.5l-.5 .3M263.2 230.2l.5 .2M318.3 224.4l0 .2M289.7 241.5l0 .4M301.3 262.9l.6 .5M267.7 256.2l.5 .7M271.5 224.4l-.9 .3M279.5 230l-1 .4M294.9 220.2l.4 .4M287.9 248.1l-.1 0M314.8 264.1l-.3 .1M311.1 216.4l.1 .9M324.3 247.4l.2 .1M306.2 241.7l-.2 .3M311.6 254.5l.5 .9M326.8 227.1l-.1 .1M285.8 229.5l.7 .4M290.7 230.3l-.2 0M270.3 245.3l.6 .1M277.8 256.9l.1 .1M282.9 264.2l-.1 .3M324.8 259.6l0 .6M317.9 227.5l-.9 1M271.2 242.3l.6 .2M310.5 253.5l.4 0M309.5 229.7l0 0M262.3 246.4l.6 .5M268.6 227l.2 .4M270.5 233.4l1 .8M311.9 263.9l-.1 .9M320.2 214.2l-.6 0M276.9 263.3l-.9 .4M266.3 217.3l0 0M318.5 260.1l-.3 .5M299.1 236.5l.3 .7M276 256.8l.3 .5M297.9 216.7l-.2 .1M288.1 237.4l.2 .3M293.8 214.4l-.1 .2M313.9 262.3l-.6 .3M311.4 231l.9 .4M302.2 248.2l1 .2M310.1 223.4l.1 .1M295.2 217.2l.1 0M304.2 249.3l-.9 .1M295.1 263.3l-.4 1.1M325 219.9l-.6 .2M302.6 250.4l0 .3M328.5 223.2l0 0M292.6 215.1l.1 .3M327.1 235.6l.1 .2M301.4 244.4l1.1 .5M304 259.8l-.4 1.1M272.7 258.9l-1.2 .2M261.9 245l.1 .2M304.5 220.1l-.9 .6M330.4 266.5l-1 .3M277.2 244.6l.3 .3M291.6 238.5l-.4 .3M275.8 263.5l.1 .4M314.4 238.8l-.5 .7"/>
<path stroke="#8476b2" stroke-opacity="0.8" stroke-width="2.68" d="M328.3 221.6l.1 .5M322.5 255.9l-.2 0M283.8 224.7l-.5 .1M264.7 242.4l.3 .3M289.3 262.4l.1 .2M262 238l0 .1M286.8 224.5l0 0M307.8 219.4l-.3 .2M302.9 250.5l0 0M276.2 227.5l.1 .1M319.9 247.2l0 .2M311.6 238.9l.7 .3M325.3 232l-.4 0M264.9 247.4l.1 0M309 255.4l-.6 .5M281.6 227.2l.1 .1M272.1 235.2l-.4 .2M316.6 240.7l.5 .3M286.7 229.4l.8 .3M315.8 225.1l0 .2M303.9 230l-.1 .1M284.3 239.3l.4 .2M295.1 223.2l-.3 .5M291.6 252.7l-.7 .1M309.1 242.5l-.3 .2M290.7 232.9l.3 .7M289.2 223.5l.1 0M282.8 243.8l0 .1M269.3 259.4l.2 .1M326.3 225.6l-.4 .2M293.7 240.9l-.5 .4M271.9 266l-.5 .2M280.4 232.8l.4 .7M289.8 238.2l-.3 0M280.5 233.4l0 .1M297 220.9l-.1 .4M265 235l-.6 .6M282.1 217.7l-.5 .1M328.4 241.5l.2 .1M282.7 244.3l.3 .1M288.4 235.1l-.1 .7M273.8 240.5l-.7 .2M321.9 258.1l.6 .6M284.8 233.7l-.5 .2M315.4 265.2l-.2 0M307.6 262.6l-.5 .1M284.4 238.4l-.5 .4M309.1 240.6l0 0M265.1 254.8l0 0M330.8 261.8l-.7 .3M263.1 230.9l.1 .1M261.6 217.2l.3 .1M321.9 262.2l.1 .6M319.1 252.5l0 0M273.2 250.8l.4 .2M270.3 228.9l-.1 .6M292 237.9l.3 .8M323.2 236.5l.5 .6M311.1 260.2l-.5 .2M305.5 215.5l0 .1M323.2 245.3l.3 .1M269.4 248.1l-.3 .3M285.3 224.3l-.4 .4M281.5 259.5l.3 .2M264.7 219.4l0 .2M277 235.5l.4 .1M292 265.1l0 .8M280.2 243.8l-.5 .4M264.6 265.5l-.3 .5M274.8 257.7l.1 .5M290 220.5l0 .6M315.6 221.4l-.5 .5M289.9 243.6l-.6 .4M296.5 216.4l-.7 .5M297.7 218.7l-.1 .5M262.3 238.6l.8 .3M280.4 234.1l.1 .1M295.9 258.8l.1 0M297.7 236.8l-.1 .4M275.4 217.9l-.5 .4M282.9 259.7l-.3 0M277.7 241.3l-.6 .3M304.8 224l-.2 0M313.2 250.5l-.4 .3M321.2 227.5l-.2 .6M282.1 234.8l.1 .2M311.4 256.2l.2 .2M308.7 257.1l0 0M267.5 247.1l.1 .2M262 231.6l.3 .3M301.8 242.5l-.3 .2M277.9 247.6l-.1 .4"/>
<path stroke="#8476b2" stroke-opacity="0.8" stroke-width="3.01" d="M326.4 250.2l.7 .1M303.2 242.1l-.7 .2M292.1 219l0 0M320.2 251.6l.7 0M316.7 240.1l-.8 .1M322.6 253.3l-.1 .6M326.8 261.4l0 .6M268.8 261.5l.8 .4M300.2 237.3l-.8 .5M300.6 223l.1 .6M270.4 252.8l.4 .2M284.6 254.7l.2 .1M316.2 222.6l.9 .3M315.5 254.2l.7 0M298.3 260l.1 .1M329.3 228.4l-.4 .5M268 219.9l.3 .5M319.1 229l-.7 .6M313.9 253.5l.1 .1M307.1 257l0 .8M267.4 232.3l.1 .1M323.9 246.3l-.5 0M289.6 236.7l-.3 .1M310.8 244.1l-.6 .7M320.8 261.5l.4 .5M273.3 228.7l-.4 .3M277.7 232.2l.5 .5M283.1 261l.1 .1M295.1 216.4l0 .1M303.5 262.5l-.3 .2M309.4 231.1l.7 .4M298.6 225.6l.3 .3M323.3 238.7l0 0M291.5 253.2l.4 .4M269.9 251.8l0 .9M300.4 266.7l.9 .1M320.3 221.5l.5 .6M286.7 247.1l-.3 .1M295.8 254.7l-.2 .1M295.5 239.2l-.5 .4M318.5 265.3l.2 .7M300.5 225.8l.3 .7M262.4 253.9l-.1 .1M316 260.4l-.2 .5M287 223.3l-.3 .1M300.2 247.6l-.6 .7M308.1 254.7l.2 .7M270.5 249.8l.6 .6M279.4 219.6l-.6 .5M284 228.3l.1 0M307.2 227.2l.5 .2M270 234.2l0 .1M303 236.2l.1 .2M325.2 233l-.2 .4M303.2 220.3l-.1 .2M273.5 246l.1 .3M323 259.4l0 0M274.3 215.1l-.1 .7M273.5 260.7l-.3 .1M292.3 239.4l-.1 .8M262.4 234.9l0 .1M294.4 249.9l.1 0M310.4 221.5l.9 .1M287.2 263.3l.3 .5M328.4 246.7l.1 .3M295.4 249.4l.2 .1M326.7 260.4l.6 .7M276.5 216.4l.1 .2M266.8 235.3l-.6 .2M300.7 263.9l-.4 .2M282.5 253.2l-.4 .4M309 258.2l-.4 .7M272.7 266.1l0 0M320.7 231.3l.6 .5M325.8 220.5l-.7 .5M314.3 223.7l-.2 .4M302.4 265l.9 0M317.3 241.4l.4 .2M320.7 254.8l-.7 .1M305.1 222.9l-.1 .7M285.9 257.9l-.6 .3M319 248.7l-.1 .1M297 225.8l.3 .1M299.3 246l.3 .2M312.3 254.1l-.1 0M324.7 247.6l-.2 .5M318.3 247.7l.6 .1M298.6 258.4l.1 .1M323.2 251.6l-.3 .8M306.2 247.5l-.2 .7M313.4 263.1l-.7 .6M322.6 255.8l-.2 .2"/>
<path stroke="#8476b2" stroke-opacity="0.8" stroke-width="3.34" d="M300.6 251.3l.3 .2M322.3 263.9l-.1 .1M320.6 240.8l.1 .1M295.3 217.7l-.3 .2M326.3 215.3l.4 .1M275.7 231.4l-.1 1M300.3 223.2l.3 0M319.9 226.9l.2 .4M309.6 251.5l.6 .4M299.9 232.9l.2 .2M321.2 245.5l-.3 .2M264.7 264.4l.6 .2M324.2 237.2l0 0M267.5 243.2l.3 .1M316.4 242.2l-.7 .2M303.8 227.4l0 .3M269.9 234.5l.8 0M270.7 217.6l-.6 .1M304.7 229l-.9 .2M314 255.4l-.1 .3M263.1 239.8l.4 .1M291 222l-.8 .6M313.1 232.6l-.4 1M299.7 226.5l.2 .1M268.7 261.4l-.4 .6M284 218.4l-.4 .3M263.1 230.7l.4 .1M318.6 223.8l0 .2M289.8 241l0 .3M300.8 262.3l.4 .4M267.8 256.4l.4 .6M272.1 224l-.7 .2M280.1 229.6l-.8 .3M295 220.7l.3 .3M287.7 247.4l-.1 0M315.1 263.7l-.2 0M311.6 216.8l.1 .7M324.8 247.1l.2 .1M305.8 241.6l-.2 .2M311.9 255l.4 .7M326.9 227.7l0 .1M285.9 229.6l.6 .3M290.8 229.6l-.1 0M270.6 245.5l.4 .1M278.2 256.8l.1 .1M283.2 263.9l-.1 .2M324.1 260.4l0 .5M318.4 228.2l-.7 .8M271.1 242.7l.5 .1M310.3 252.8l.3 0M308.9 229l0 0M262.7 246.6l.5 .4M268 226.6l.1 .3M270.4 233.5l.8 .6M312.2 264.4l-.1 .7M320.5 214.2l-.5 0M276.4 264l-.7 .3M265.8 217.4l0 0M318.2 260.8l-.2 .4M299.3 237.2l.2 .5M276.6 257l.2 .4M297.9 216.9l-.1 0M288.2 237.3l.2 .2M293.9 213.9l-.1 .1M313.7 262.1l-.5 .2M311.9 231.2l.7 .3M301.8 248.2l.8 .2M310.1 223.9l.1 0M294.5 216.8l.1 0M304.7 248.8l-.7 .1M295.1 263l-.3 .9M324.7 219.9l-.5 .2M302.3 249.8l0 .2M329.2 222.7l0 0M292 215.3l.1 .2M327 235.9l.1 .1M300.9 244.5l.9 .4M303.6 259.8l-.3 .9M273.1 259.5l-1 .2M262.2 244.6l.1 .1M304.7 220.8l-.7 .5M330.1 266.8l-.8 .3M276.7 244l.3 .3M291.1 238.1l-.3 .2M276.2 263.6l.1 .3M315 238.7l-.4 .6"/>
<path stroke="#4e4290" stroke-opacity="0.8" stroke-width="1.77" d="M270 220.7l-.1 .2M297.8 221l-.2 .3M295 226.9l-.3 .1M320.1 240.3l-.1 0M313.8 240.2l.1 0"/>
<path stroke="#4e4290" stroke-opacity="0.8" stroke-width="2.1" d="M279.1 251.2l-.2 0M321 251.6l.4 .1"/>
<path stroke="#4e4290" stroke-opacity="0.8" stroke-width="2.43" d="M272.3 214.3l0 0M269.3 259.5l.1 .2M309.2 246.2l.3 .4M263 257.9l-.1 .1M323.2 220.8l-.2 0"/>
</g>
<ellipse cx="286" cy="243" rx="5" ry="3" fill="#ebe4f0" fill-opacity="0.9" filter="url(#hb)"/>
</g>
<g clip-path="url(#c7)">
<rect x="333.8" y="214.2" width="69.9" height="52.5" fill="#ebe9ec"/>
<polygon points="336.85,234.38 337.58,227.08 341.23,221.23 347.08,219.04 354.38,218.31 358.77,219.77 360.23,221.96 362.42,219.77 367.54,219.77 370.46,225.62 374.85,224.15 380.69,223.42 386.54,224.88 392.39,225.62 397.5,230 399.69,235.85 398.96,244.62 395.31,250.46 389.46,254.85 382.15,257.77 374.85,259.96 367.54,260.69 360.23,259.96 352.92,257.77 347.08,253.39 342.69,249 339.04,243.15" fill="#ccb6d4" filter="url(#hb)"/><g clip-path="url(#tp1)" stroke-linecap="round" filter="url(#hb)"><path stroke="#b8a2cc" stroke-opacity="0.7" stroke-width="1.4" d="M342.1 225.6h0M379.8 225.1h0M396.5 254.1h0M383.5 238h0M388.8 228.6h0M374.8 234h0M367.7 259.2h0M350.5 250.3h0M385 222h0M399.2 237.3h0M371 231.1h0M371.9 259h0M358.8 249.4h0M386.1 255.1h0M380.3 236.6h0M358.2 234.6h0M360.3 255.9h0M388.9 227.4h0M353.5 220.2h0M395.4 220.8h0M361.4 226.1h0M349.2 258.2h0M364.2 245.2h0M389 240.5h0M388.3 251h0M374.9 242.2h0M392.6 246.9h0M358.4 256.4h0M388.5 258.6h0M378.7 237.1h0M359.1 244.7h0M348.1 249.2h0M381.3 255.6h0M350.6 242.9h0M371.4 243.7h0M362.6 218.7h0M395.1 256.6h0M346.9 257h0M374.3 218.7h0M376.8 231h0M360.3 222.8h0M389.2 245.8h0M351.4 242.4h0M363.4 260h0M350 247.3h0M387 256h0M353.7 255h0M348 224.7h0M375.7 256.5h0M362.8 225.8h0M343.1 235.8h0M391.4 245h0M367.2 240.6h0M349.9 228.2h0M353.5 249.4h0M377.9 220.5h0M372.3 258.9h0M341.4 225.1h0M397.7 240.4h0M393.5 253.7h0M366.4 260.3h0M353.3 231.4h0M351 250.3h0M343.3 237.1h0M385.5 248.7h0M356.6 224.9h0M388.6 254.1h0M377.1 243.5h0M343.4 232.8h0M354.4 239.6h0M354.4 244.2h0M366.2 259.5h0M353.1 219.9h0M345.7 226.4h0M379.9 241.7h0M373 249.6h0M381 226.6h0M348.6 255.5h0M382.6 235.2h0M381 248h0M342.1 237.2h0M385.4 253.5h0M379.7 232.4h0M391.4 241.7h0M399.4 258.8h0M393.3 226.6h0M396.4 229.5h0M350 240.6h0M379.2 229.9h0M398 221.4h0M388.9 248.9h0M385.7 237.5h0M393.4 231.9h0M367.3 253.2h0M391.4 220.8h0M374.9 256.3h0M357.1 224.5h0M374.4 253.4h0M350.4 251.2h0M346.6 260h0M343.3 224.1h0M389 235.1h0M341.3 229.6h0M392 254.4h0M357.3 219.7h0M380.3 223.6h0M381.8 240.1h0M393.3 221.5h0M393 221.2h0M375.1 233.4h0M371.6 228.5h0M396.3 240.2h0M378 238.4h0M385.4 255h0M342.1 259.2h0M354.2 244.5h0M348.8 232.8h0M392.4 255.5h0M394.1 245h0M365.6 238h0M359.2 247h0M362.5 224.1h0M378.1 233.5h0M375.6 248.9h0M397.8 223h0M371.7 255.8h0M339.1 241.3h0M353.1 243.9h0M385.2 242.6h0M353.5 236.1h0M350.7 254.1h0M361.3 228h0M394.6 242.3h0M371.3 259.5h0M375.9 252.4h0M357.8 240h0M354.7 250.5h0M353.7 230.9h0M347.9 256.7h0M360.8 255.3h0M369.8 226h0M380.8 254.3h0M365.1 258.7h0M379 239h0M388.7 247.6h0M395.3 227h0M395.9 253.3h0M361.3 237.4h0M369.7 222.5h0M366.3 259.3h0M383.9 246.7h0M346.4 253.8h0M352.3 257.9h0M365.4 227h0M371.8 220.1h0M390.2 245.7h0M370.9 248.5h0M386.2 218.4h0M370.7 252.9h0M390.2 240.6h0M398.3 234.9h0M383 252.3h0M361.7 258.4h0M388 256.5h0M380.2 221.1h0M396.6 251.2h0M383.7 236.1h0M340.8 256.6h0M396.4 237.2h0M366.4 241.2h0M344 220.7h0M382.3 230.5h0M339 246.7h0M346.7 258.2h0M397.2 223.3h0M375 251.2h0M392.2 230.1h0M376.1 245.4h0M338.4 235h0M338.2 259.2h0M361.6 220.2h0M339.9 229.9h0M344.5 243.1h0M363.8 225h0M341.2 226.8h0M379.8 218.9h0M361.3 230.1h0M341.1 231.7h0M382.8 234.8h0M398.4 224.6h0M397.3 228.2h0M340.1 230.7h0M366.8 228.9h0M342.6 248.5h0M366.8 251.6h0M374 220.8h0M341.7 233.2h0M384.3 232.7h0M391.9 256.2h0M371.1 246h0M356.7 260.4h0M394.3 259.5h0M378.6 236.9h0M342.3 230.2h0M377.6 254h0M397.7 229.3h0M372.1 243h0M351.3 236.4h0M360 246.6h0M378.7 230.8h0M392.6 231.6h0M356.1 254h0M349.4 220.6h0M338.7 244.4h0M379.8 232.9h0M397.9 228.6h0M386.8 227.5h0M380.1 231.5h0M371.9 252.7h0M381.5 247.4h0M376.6 234.6h0M395.9 251.9h0M351.7 236.7h0M372.7 245h0M358 227.9h0M368.9 229.8h0M345.3 239.3h0M343.4 244.1h0M355.3 229.9h0M377.7 219.9h0M399.3 245.2h0M372.9 256.1h0M389.8 238.4h0M388.9 219.4h0M390.1 259.6h0M363.4 241.4h0M374.3 241.4h0M345.1 247.3h0M370.9 226.2h0M383.1 254.5h0M364.8 221.3h0M363.4 237h0M382.8 231.5h0M348.2 223.3h0M372.7 227.1h0M360 242.6h0M371.3 225h0M364.7 234.2h0M376.7 245.5h0M385.6 254.2h0M344.9 222.6h0M389.2 234.8h0M347.6 245.4h0M362.6 255.6h0M387.4 221.2h0M337.7 243.1h0M389.7 256.9h0M377.8 219.6h0M375.5 220.4h0M351.7 246.8h0M365.4 241.9h0M364.2 223.7h0M382.3 243.3h0M379.3 222.4h0M353.3 219h0M339.6 241.4h0M389.5 230.5h0M375.2 248.9h0M398.5 256.6h0M374.4 233h0M384.4 232.8h0M355.9 259.3h0M368.9 227h0M384.2 238.2h0M343.7 247.8h0M362.7 224.7h0M350.7 235.2h0M387.1 234h0M357.4 257.9h0M398.5 223.3h0M395.4 240.3h0M342.6 253.8h0M376 238.2h0M343.3 253.1h0M345.2 240.3h0M357.7 255.7h0M398.7 250.2h0M339.2 256h0M341.1 256.1h0M376.4 250.2h0M337.3 228.2h0M374.4 231.3h0M384.5 236.8h0M354.7 235.9h0M396 233.9h0M340.3 243.5h0M379.9 227.7h0M378.1 240.4h0M385.9 246.5h0M343.1 225.4h0M369.5 243.9h0M378.8 258.4h0M379.8 251.7h0M345.2 255.4h0M339.4 232.4h0M397.3 251.4h0M397.1 231.7h0M350 258.4h0M387.5 241.5h0M391 254.6h0M337 259.4h0M342.1 242.8h0M393.8 224.8h0M357.9 253.3h0M369.3 241.7h0M375.2 246.2h0M337 252.9h0M347.9 253.7h0M337.5 225.8h0M339.5 232.4h0M368.7 234.9h0M365.9 259.1h0M368.3 227h0M360.9 219.9h0M390 235.7h0M387 232.5h0M393.1 251.3h0M343.3 234.4h0M395.6 226.7h0M374 253.8h0M389.4 221.4h0M370.5 245.6h0M363.2 230.8h0M392.8 221.7h0M395.1 244.7h0M369.2 225.2h0M378.3 256.4h0M339.6 218.7h0M337.9 248.1h0M350.2 232.5h0M390.9 229h0M361.9 242h0M373.5 252.8h0M384.6 247.9h0M375.3 256.4h0M362.3 235.6h0M366.1 252.1h0M359.6 252.1h0M361.9 256.3h0M339.2 239.4h0"/><path stroke="#dcc8dc" stroke-opacity="0.7" stroke-width="1.4" d="M375.1 237.3h0M377.7 257.3h0M391.8 228.5h0M396.6 242.8h0M395.7 259.1h0M390 257.9h0M357.3 245.6h0M392.4 245.9h0M390.4 250.4h0M386.7 249.9h0M371.3 240h0M376 224.1h0M351.1 228.7h0M393.3 258.1h0M346.6 248.5h0M363.9 250.8h0M375.8 231.8h0M399.3 222.8h0M370.7 219.6h0M381 221h0M369.4 254.2h0M376 222.7h0M378.2 232.5h0M372.7 240.4h0M364.1 222h0M378 245.1h0M356 232.3h0M393 248.5h0M378.4 224.1h0M384.5 240.9h0M370.4 254.4h0M380.2 243.1h0M366.3 258.9h0M363.4 240.2h0M362.4 246.5h0M395.1 224.5h0M362.8 257.6h0M346.4 227.2h0M360.3 228.8h0M359 230.9h0M374.7 244.9h0M390.3 258.6h0M363.4 251.5h0M355.3 230.1h0M388.7 257.9h0M357.5 259.6h0M339.4 238.9h0M341 234.5h0M383.7 246.5h0M381.2 246.4h0M381.7 242.1h0M360 227.5h0M398.1 248.4h0M364.3 246.1h0M349.2 258.6h0M387.8 246.3h0M381 253.3h0M397.6 218.6h0M384.6 246.2h0M397.4 240.4h0M359.1 235.5h0M359.5 226.5h0M349.8 253.6h0M383.2 236h0M383.1 228.4h0M368.4 250.5h0M374.3 229.5h0M374.1 220.5h0M363.1 239.6h0M397.3 238.3h0M396.6 223.2h0M353.8 237.4h0M391.6 237.5h0M368.5 222.4h0M384.3 224.4h0M390.5 252h0M378.1 231.2h0M398.5 257.1h0M355.7 245.9h0M343.1 248.2h0M349.5 226.7h0M379.1 224.3h0M385.2 231.5h0M354.9 231.2h0M368.7 242.8h0M371.5 253.7h0M396.7 254.8h0M372.7 236.1h0M398.2 228.4h0M373.2 223.2h0M347.6 244.1h0M381.9 228.5h0M381.1 247.5h0M339.1 258.3h0M341.8 252.3h0M360.1 241.2h0M364.5 232.1h0M341.4 225.8h0M395.9 258.4h0M361.9 221.7h0M390.9 232.3h0M362.2 235.4h0M376.3 229.6h0M368.5 220.4h0M358.1 249h0M381.7 224.9h0M379.8 242.5h0M386.9 226.8h0M364.4 226.7h0M359 242.2h0M347.5 239.7h0M355.9 235.4h0M394.8 260.2h0M362.7 259.1h0M377.3 220.8h0M388.4 245.9h0M381.8 259.2h0M371.8 241.9h0M377.9 250.2h0M358.8 244.7h0M361.1 240.6h0M369.8 220.5h0M343.1 234.4h0M361.7 226.5h0M362.3 256.7h0M349.2 241.1h0M386.8 233.9h0M395.8 237h0M391.3 236.6h0M371.3 253.4h0M375.7 246h0M372.9 239.8h0M398 240.5h0M371.5 231.4h0M369.7 223.4h0M361.9 228.9h0M397.3 259.8h0M377.7 259.9h0M339.8 235.2h0M367.6 256.2h0M376.6 236.9h0M385.4 224.3h0M353 251.5h0M340.3 234.1h0M345 220.3h0M357.9 236.6h0M376.6 254.3h0M390.2 233.2h0M340.7 238.5h0M367.4 240h0M394.1 248h0M375.6 224.2h0M338.6 220.5h0M363 251.4h0M371.6 231.2h0M344.6 249h0M341.8 221.1h0M371.2 226.2h0M377.7 239h0M377.7 221.5h0M360 218.5h0M355.2 241.2h0M351.7 228.4h0M370.3 238h0M354.7 224.8h0M398.7 259.6h0M383.3 220.2h0M389.7 247.6h0M373.9 229.4h0M348.2 250.7h0M383.7 224.8h0M337.4 254.2h0M399.3 238.1h0M356.3 224.4h0M337.1 219.6h0M359.9 241.7h0M359.8 244.1h0M384.6 230.5h0M352.8 227.6h0M354.8 241.3h0M382.8 259.7h0M357.7 243.1h0M350.9 239.1h0M338.3 250h0M373.3 227.7h0M386.1 242.3h0M379.7 257.7h0M352.3 242.8h0M359.9 232.9h0M369.8 240.8h0M364.7 253.7h0M363.6 244.4h0M385.6 232.2h0M356 220.3h0M360 236.9h0M349.8 235.3h0M387 239h0M361.4 227.6h0M378.6 257h0M367.3 257.8h0"/></g>
<ellipse cx="358" cy="245" rx="10" ry="8" fill="#b9acd6" fill-opacity="0.7" filter="url(#sb)"/>
<ellipse cx="378" cy="242" rx="10" ry="9" fill="#bcaed6" fill-opacity="0.6" filter="url(#sb)"/>
<ellipse cx="392" cy="236" rx="6" ry="8" fill="#b4a8d6" fill-opacity="0.6" filter="url(#sb)"/>
<ellipse cx="346" cy="232" rx="5" ry="7" fill="#c0b0d8" fill-opacity="0.6" filter="url(#sb)"/>
<ellipse cx="370" cy="228" rx="12" ry="3" fill="#b8acd8" fill-opacity="0.5" filter="url(#sb)"/>
<polygon points="359.5,221.23 362.42,219.77 367.54,220.06 370.17,225.62 367.54,231.46 363.89,230 360.23,224.15" fill="#dcd6e0" fill-opacity="0.9" filter="url(#hb)"/>
<polygon points="355.85,267.27 363.15,264.79 374.85,263.91 386.54,264.35 392.39,267.27" fill="#c8b4d4" fill-opacity="1" filter="url(#hb)"/>
<g filter="url(#hb)" stroke-linecap="round" fill="none">
</g>
</g>
<g clip-path="url(#c8)">
<rect x="407" y="214.2" width="60.7" height="52.5" fill="#ccc4e0"/>
<g filter="url(#hb)" stroke-linecap="round" fill="none">
<path stroke="#b2a8d4" stroke-opacity="0.9" stroke-width="4.98" d="M450.2 258.2l.2 .1M451 247.5l-.5 .1M425.3 264l.5 .5M461.3 217.7l-.1 .2M422.6 240.7l.4 .3M451.8 222.3l.2 .1M423.9 259.8l.5 .2M445.6 245.5l.1 .9M409.6 223.1l.5 .4M447.9 253.2l.6 .6M434.2 259.7l-.1 .3M458.4 226.8l-.2 .2M415.3 242.1l.4 .7M414.1 247.1l-.6 0M427.5 245.4l.6 .7M467.3 222.7l-.8 .3M439.3 253.3l-.6 .3M466.2 263.7l0 .6M467.3 257l-.7 .3M443 262l.3 .1M428.5 231.5l-.1 .6M417.1 230.7l.6 .2M461.2 226.2l.1 .2M439.3 256.4l0 0M456.4 258.4l-.3 0M422.2 218.3l.1 .3M453 230.6l-.8 .3M461.5 219.7l.9 .4M429.7 215.8l-.2 .2M449.2 223.7l-.3 .5M408.4 245.7l.4 .1M446.8 245l.1 0M461.3 255.4l-.3 .5M450.5 229.7l.1 .4M440 227.3l.3 .2M431.5 219l-.5 .1M464.8 237l.3 .8M449.6 258.1l0 .7M422.4 220.4l.6 .7M439.6 233.1l.1 .1M436.4 233.5l-.1 .1M427.8 263l0 0M467.5 258.1l0 .2M435.2 218.5l-.6 .4M442.7 266l0 .2M436.4 256.2l-.4 .8M458.7 240l.4 .2M418.5 215.5l.3 .2M431.3 232.6l.4 .5M414.5 264.9l-.4 .2M450.4 228.6l-.2 .3M464.7 260.2l-.4 .2M437.8 244.2l-.5 .2M418.4 245.3l.4 .2M461.5 265.6l.1 .7M451.8 256.8l-.2 .6M437 256.1l.9 .1M423.9 233.6l.3 .7M408 261l-.1 .1M460.8 237.1l.6 .5M464.7 229.9l.6 .7M460 262.6l.8 .2M416.7 222.3l.1 .4M441.6 261.3l-.3 .4M464.5 237.2l-.1 .7M444.8 227.1l.2 .3M426.2 229.6l-.1 .1M441.5 251.7l.7 .2M433.3 232.6l.2 .5M458.4 259.6l-.2 .1M460.2 223.1l0 0M441.7 232.6l.4 .4M466.4 249.7l-.7 .4M410.3 216l.8 .1M465.9 236.7l.3 .7M413.9 222.1l0 .5M412.2 244.1l.3 .9M461.2 263.5l-.1 .5M450.3 259.8l.7 .4M450.7 257l.3 .4M454.4 247.8l-.5 .1"/>
<path stroke="#b2a8d4" stroke-opacity="0.9" stroke-width="5.59" d="M416.4 221.6l-.1 .2M446 248.2l.1 .2M429.5 216.9l.1 .7M412 231l-.1 .8M430.9 225.7l.4 .2M441.6 256.4l1 0M431 229.3l-.3 .3M430.7 215l.7 .4M446.7 245.1l-.1 .1M425.5 250l.2 .5M424.2 215.4l-.1 .7M434.2 264.4l.4 .4M465.8 259.6l-.1 .7M438.8 225.2l-.4 .5M410.9 242.5l-.2 .1M442.3 223.2l-.6 .1M447.2 232.1l.4 .2M418.6 242l-.6 .4M413 236.8l.1 .1M444.6 264.5l0 .5M465.7 245.9l.4 .2M453.6 248.2l.7 .1M446.5 253.1l-.4 .7M451 265.5l-.4 .2M466.2 229.9l.4 1M445 253.8l.5 .7M411.1 257l.4 .2M458.8 247.1l-.2 .2M429.5 265.5l.5 .2M435 264.4l.9 .1M407.8 259l-.8 .1M458.5 224.7l.2 .3M415.1 263.2l-.4 .7M464.7 254.3l-.3 .1M433.5 233.2l.2 .3M409.4 217.6l-.1 .3M459 218.4l.7 .5M407.8 257.8l-.3 .2M460.8 259.5l-.3 .1M463.5 250.1l-.2 .1M466.4 244.7l-.1 .3M414.4 221.8l.7 .1M429 253.9l0 1M449.4 261.5l.9 .5M442 240.2l-.2 .6M441 229.8l.1 .2M457.7 254.1l-.1 .2M462.8 215.2l-.2 .3M449.3 218l.2 .2M460.2 238.3l-.7 .4M416.7 257.5l.3 .9M441.4 221.5l.2 .4M410.1 240.7l.4 0M452.5 248.1l.7 .2M424.6 218.6l0 0M467.4 214.7l.3 .3M455.8 230.9l-.7 .2M433.5 216.8l.7 .4M422.9 260.4l.3 .5M466.1 242.8l.1 .1M409.3 260.5l-.9 .2M413.1 245.8l-.8 .4M441.9 244.7l0 .8M464.5 238.8l.5 .2M445.1 236.3l0 .1M409.4 221.3l.9 .2M453.4 254.6l-.2 .1M436.7 214.7l0 .2M435.4 254.1l0 .2M413.3 221l.8 .6M451.4 264.5l-.1 0M448.9 244l.5 0M424.2 226.7l-.1 .9M436.5 240.7l.5 .4M462.2 232.7l-.2 .8M414 221.1l-.1 .5M425.9 266.5l0 .1M431.7 238.6l-.9 .1M408.9 228.9l.6 .3M410.9 216.9l-.5 .3M432.8 251l-.2 .1M410.5 224.4l-.7 .3M420.9 233.6l.4 .3M417.9 228.6l-.6 .6M454.3 217.4l-.3 .9M437.2 237.3l0 .1M431.7 254.7l-.3 0M466 219.5l0 .7M461.7 260.1l-.1 .6M422.6 248.6l-.2 .4M436.3 261.1l.1 .5M418.5 243l-.9 .5M459.4 254.6l.3 .5M458.7 262.7l.3 .2M439.6 236.8l-.2 .1M443 227.8l-.1 0"/>
<path stroke="#b2a8d4" stroke-opacity="0.9" stroke-width="6.2" d="M450 266.6l-.3 .1M465.5 218l-.4 .1M437.1 229l-.8 .2M426.7 254.5l.1 .7M421 215.3l.5 .3M459.6 219.6l-.3 .9M445 256.4l-.3 .3M420.6 257.1l.4 .1M466.3 261.7l.3 .6M463.1 246.8l.2 .2M437.7 253.4l-.2 .2M407.2 232.9l.8 .4M435.2 266.2l-.3 .3M436.6 218.5l-.2 .2M432.2 215.5l.3 0M466.3 255.9l.6 .2M431.7 237.8l-.7 .1M431 245.1l-.3 .7M445.3 234.3l-.3 .1M452.1 264.3l.6 .1M436 222.4l.4 0M416.2 262.2l-.3 .1M443.1 252.8l.5 .2M446.4 230.9l.8 .1M409.3 217.2l0 .7M423.1 237.9l-.9 .6M441.7 253.3l0 0M463.6 215.3l-.7 .6M463.3 232.8l-.8 .3M421.9 263.6l.1 0M429.5 264.2l-.3 .4M422.5 239.3l.1 .3M413.4 222.7l.1 .6M428.4 265.5l.4 .4M453.4 220.3l.2 .7M408.4 261.7l.6 .6M415.8 247.1l.2 .5M456.7 228.3l-.5 .5M467.3 221l.3 0M447.4 243.2l-.4 .1M421.7 236.4l.6 .7M435.7 240.6l.1 .4M426.8 233.8l-.1 .5M408.6 239.8l-.1 .1M422.5 259.5l.3 0M430 265l-.2 .1M446.8 252.2l-.5 .7M455.5 265.5l-.2 .7M418 261.8l-.5 .7M407.9 265.8l.6 0M451.3 247.9l.9 .1M456.4 265.7l-.7 .4M422.3 254.8l0 .1M410 258.7l.5 .4M465.3 252.5l.3 .1M431.4 240.9l-1 .5M414.2 233.7l.7 .8M426.9 229.3l-.4 .3M450.2 222.5l0 1.2M459.7 246.9l.1 .6M462.3 258.3l.1 .3M460.1 221.5l1 0M431.4 240l-.1 .3M412.7 218.8l.2 .6M420.8 236.1l-.4 .2M452.2 236l-.7 .5M454 257.2l.6 .6M427.2 231.9l.2 .4M463.6 249.6l-.1 .6M433 258.8l1 .5M408 225.1l.2 .6M435.4 263.1l.8 .3M455.8 248.7l-.1 1.1"/>
<path stroke="#7a72b0" stroke-opacity="0.8" stroke-width="2.68" d="M449.8 258.5l.1 .1M451.2 247.5l-.4 .1M425.4 264.3l.4 .4M460.9 218.2l-.1 .2M422.8 240.5l.3 .3M451.4 222.8l.1 .1M423.4 260.4l.4 .2M445.3 245.5l.1 .7M409.3 222.9l.4 .4M447.8 253.2l.5 .5M434.1 259.2l-.1 .2M458.9 227.1l-.1 .1M414.8 242.3l.3 .6M413.8 247.2l-.5 0M427.5 245.3l.5 .5M466.8 222.2l-.7 .3M439.6 253.8l-.5 .3M465.8 263.2l0 .5M466.7 257.4l-.6 .3M443.3 261.7l.3 .1M429 232l-.1 .5M417.6 231.1l.5 .2M461.2 226.2l.1 .1M438.9 256.1l0 0M456.2 258.3l-.2 0M422.3 218.3l.1 .2M453.2 230.1l-.7 .2M461.1 219.4l.7 .3M429.6 215.5l-.1 .1M448.9 224.1l-.3 .4M408.7 245.8l.3 .1M446.9 244.5l.1 0M461.3 255.7l-.3 .4M451 230l.1 .3M440.3 227.7l.3 .2M431.5 218.7l-.4 .1M464.3 237l.2 .7M450.1 257.9l0 .5M421.9 220.4l.5 .6M439.6 232.8l.1 .1M436 232.9l-.1 .1M428.3 263.4l0 0M467.8 258.1l0 .2M435 218.5l-.4 .3M442.5 266.4l0 .1M436.8 256.5l-.4 .7M459.1 239.7l.3 .1M418.5 215.8l.2 .1M431.8 232.1l.3 .4M414.1 265.2l-.3 .1M450 229l-.2 .2M464.9 260.7l-.3 .2M438.2 243.8l-.4 .2M418.8 244.9l.3 .2M461.9 265.8l.1 .6M451.6 256.9l-.1 .5M437 256.5l.7 0M424.4 233.6l.2 .6M408.1 261.5l-.1 0M461.3 236.6l.5 .4M464.6 229.7l.4 .6M459.7 262.4l.6 .1M416.7 222.1l0 .3M441.7 261.7l-.3 .3M464.5 237.2l-.1 .6M445.1 227.6l.2 .2M426.3 229.9l0 .1M441.8 251.4l.5 .2M433.7 232.3l.2 .4M458.6 259.5l-.1 .1M459.9 223.4l0 0M442.3 232.5l.3 .3M466.2 249.2l-.6 .3M410.6 216.1l.7 .1M465.7 236.2l.3 .6M414.1 222.2l0 .4M412 244.7l.2 .7M461 263.1l-.1 .4M450.7 259.7l.5 .3M451.2 256.8l.3 .3M454.3 247.4l-.4 .1"/>
<path stroke="#7a72b0" stroke-opacity="0.8" stroke-width="3.01" d="M416.8 221.6l-.1 .2M445.5 248l.1 .1M429.9 216.4l.1 .6M412.1 231l-.1 .7M431.2 225.2l.3 .1M441.9 256.2l.8 0M430.7 229.7l-.2 .2M430.5 214.6l.6 .3M446.2 244.6l-.1 .1M426 250.2l.1 .4M424.8 215.3l-.1 .5M433.8 264.5l.3 .3M465.2 259.9l-.1 .5M438.3 225.2l-.3 .4M411.2 242.8l-.1 .1M442.2 222.6l-.5 .1M447.9 231.8l.3 .2M419.2 241.7l-.5 .3M412.5 237.3l.1 .1M444 264.3l0 .4M465.2 245.6l.3 .2M453.3 248.4l.5 .1M446.6 253.4l-.3 .5M450.4 265.2l-.3 .1M466.9 229.5l.3 .8M445.2 254.5l.4 .6M411.3 256.7l.3 .2M458.3 246.7l-.1 .2M429.7 266.1l.4 .2M434.8 264.7l.7 .1M407.2 258.5l-.6 .1M459 225l.2 .3M414.7 262.9l-.3 .6M464.2 253.8l-.3 .1M434 232.6l.2 .2M409.7 217.2l-.1 .3M459.6 218.3l.6 .4M407.7 257.5l-.2 .2M460.9 258.9l-.2 .1M463.4 250.7l-.2 .1M466.1 245.1l-.1 .2M414.9 222.3l.5 .1M429.4 254.2l0 .8M448.9 261.3l.7 .4M441.7 240.7l-.2 .5M440.5 229.4l.1 .1M457.5 254.1l-.1 .2M463.3 215.5l-.2 .2M449.6 218l.2 .1M460 238.8l-.6 .4M416.2 257.5l.2 .7M442 221.9l.2 .3M410.2 241l.3 0M453 247.9l.6 .1M424.9 218.5l0 0M468.1 214.1l.2 .3M455.4 231l-.5 .2M433.5 216.5l.6 .3M422.3 260.7l.3 .4M466.6 242.6l0 .1M409.5 261l-.7 .2M413.5 246.3l-.6 .3M441.4 244.1l0 .7M464.4 239.3l.4 .2M444.7 236l0 .1M409.4 220.9l.8 .2M454 254.7l-.1 .1M437.1 214.2l0 .2M435.3 253.9l0 .2M412.8 220.5l.7 .5M451.1 264.2l-.1 0M448.4 244.1l.4 0M424.2 227.2l-.1 .7M437.1 241.1l.4 .3M462.1 232.8l-.2 .6M414.5 220.7l-.1 .4M425.7 266.2l0 0M431.9 238.1l-.7 .1M409.5 228.8l.5 .2M411.2 216.9l-.4 .2M432.7 250.6l-.1 .1M411 224.6l-.6 .2M421.5 234l.3 .2M417.9 228.5l-.5 .5M453.7 217l-.2 .7M437.5 237.9l0 .1M431.1 255.2l-.2 0M465.9 219.9l0 .6M462.2 260.3l-.1 .5M423 248.7l-.1 .3M436.4 261.8l.1 .4M418.3 243.3l-.7 .4M459 255l.3 .4M459 262.2l.2 .1M439.4 237.2l-.2 .1M442.4 227.8l-.1 0"/>
<path stroke="#7a72b0" stroke-opacity="0.8" stroke-width="3.34" d="M449.3 266.6l-.3 .1M466.1 217.8l-.3 .1M436.5 229l-.7 .2M427.3 254.2l.1 .5M420.8 215l.4 .2M459.6 219.7l-.2 .7M445.3 255.9l-.2 .2M420.5 257.6l.4 .1M467 262l.2 .5M463.7 246.7l.1 .1M437.1 252.8l-.2 .1M406.6 233.5l.7 .3M435.2 265.8l-.2 .2M436.9 219.2l-.2 .2M431.9 215.6l.2 0M465.9 255.4l.5 .1M432 238.4l-.6 .1M431.6 244.9l-.2 .5M445.7 234.5l-.3 .1M452.7 264.2l.5 .1M435.6 222.1l.3 0M416.8 262.3l-.2 .1M443.1 253.5l.4 .2M446.5 231.4l.6 .1M409.1 217.6l0 .6M422.5 238.1l-.7 .5M441.9 252.8l0 0M464.2 215.1l-.6 .5M463.1 233.4l-.6 .2M422.1 263.5l.1 0M429.3 264.4l-.3 .3M422.7 240l0 .2M413.9 223.4l.1 .5M428.6 265.5l.3 .3M452.8 220.1l.1 .6M409 262l.4 .5M416 246.7l.1 .4M456.4 228.2l-.4 .4M466.7 220.4l.3 0M446.8 242.5l-.3 .1M421.5 236.8l.4 .5M435.6 240.3l.1 .3M426.4 233.5l-.1 .4M408.9 239.2l-.1 0M422.5 259.8l.2 0M430.2 264.5l-.2 .1M446.4 251.7l-.4 .5M455.9 265.9l-.2 .5M417.6 261.5l-.4 .6M408 266.3l.5 0M451.2 248.2l.7 .1M455.9 265.6l-.5 .3M422.4 254.6l0 .1M409.8 258.8l.4 .3M464.9 252.1l.3 .1M431 240.8l-.8 .4M414.9 234l.5 .7M426.9 228.8l-.3 .3M450.4 222.9l0 .9M459.5 247l.1 .5M462.1 258.5l.1 .2M459.8 221.6l.8 0M431.4 240.2l-.1 .2M413.3 218.5l.1 .4M420.2 236.4l-.3 .2M451.6 235.9l-.6 .4M453.4 257.9l.5 .5M427.8 232.4l.2 .3M463.9 249.6l-.1 .5M433.7 259.4l.8 .4M407.4 225.8l.2 .5M434.9 263.5l.7 .3M456.4 249.2l0 .9"/>
<path stroke="#4c4490" stroke-opacity="0.8" stroke-width="1.77" d="M439.6 238.4l0 .1M438.3 258.1l0 0"/>
<path stroke="#4c4490" stroke-opacity="0.8" stroke-width="2.1" d="M422.4 249.6l-.3 .4M435.9 247.7l.1 .4M437.2 265l.2 0"/>
<path stroke="#4c4490" stroke-opacity="0.8" stroke-width="2.43" d="M452.3 228.2l-.4 0M464.6 248.7l.3 .4M459.5 231l-.1 .1M460.7 246.8l.3 .1M440.9 225.1l0 .5"/>
</g>
</g>
<g clip-path="url(#c9)">
<rect x="187.1" y="287.5" width="70.7" height="52.5" fill="#9cc0e4"/>
<g filter="url(#hb)" stroke-linecap="round" fill="none">
<path stroke="#bcd6ee" stroke-opacity="0.8" stroke-width="3.93" d="M240.5 322.8l-.2 .2M255.3 308.2l.1 .2M225.8 339.3l.3 .2M247.6 341.3l0 .1M218.1 330.9l-.5 .6M199.4 321.5l.3 .3M256.7 340.3l.4 .6M227.2 291.8l-.4 .8M257.2 296.7l-.6 .3M230.9 321l0 .8M212.7 301.3l.9 .4M236.7 318.2l0 0M239.7 297.1l.2 .3M205.2 338.6l0 0M252.1 300l-.3 .3M228.3 308.2l.2 .1M232.6 328.6l-.4 .5M258.7 330.4l-.2 .2M242 309.6l-.2 .2M223.9 303.3l-.4 .3M246.3 309.2l.1 .1M204.6 336.7l-.1 .1"/>
<path stroke="#bcd6ee" stroke-opacity="0.8" stroke-width="4.6" d="M185.9 291.8l.2 0M207.3 317.6l-.6 .4M235.5 301.6l-.7 0M200 311l-.4 .3M245.1 319.4l-.8 .7M203.9 328.7l.4 0M213.3 315l-.8 .2M200.6 287.3l.4 .3M221.6 302.3l-1 .1M206 300.8l-.3 .1M186.9 336.2l-.6 .9M223.8 333.6l.3 .9M201.1 335.6l0 .1M256.5 298.7l.4 .7M254.6 298.2l.6 .1M221.9 312l0 .6M259.3 311.8l0 .1M253 303.6l.2 .1M189.4 334.6l0 0M199.7 321.8l.1 .2M256.9 308.8l-.3 .9"/>
<path stroke="#bcd6ee" stroke-opacity="0.8" stroke-width="5.27" d="M255.6 315.5l.9 .4M224.3 297.1l.1 0M229.7 299.3l-.1 .3M197.9 320.3l.7 .9M198.3 287.1l-.5 .1M220.6 313.5l.1 .3M227.9 319.8l-.9 .7M255.8 334.3l0 .2M237 314.9l0 .5M238.4 311.1l.6 .9M217.3 325.6l-.7 .2M200.5 304.8l1.2 .4M201.7 340.1l-.9 .3M218.7 322.3l.2 0M236 336.1l.6 .6M219.3 308.1l-1 .1M219.1 293.1l-.2 .3"/>
<path stroke="#6ea6d8" stroke-opacity="0.85" stroke-width="3.9" d="M195.8 310.1l0 .1M195.7 311l0 .2M195.2 333.9l.2 .1M219.2 313.5l.7 .2M249.4 325.2l.2 .2M203.1 297.6l-.1 .1M256.3 312l-.3 .4M187 307.7l-.1 .4M207.9 330.7l-.3 .1M230.3 306.5l.1 .1M201.2 290.9l.3 .7M218.5 290l.1 0M213.1 320.3l-.8 .3M203.5 297.9l.4 .2M227.4 334.6l.2 .6M227.3 293.8l-.7 .5M255.4 322.4l-.3 .4M229.7 327.6l-.2 .3M230.3 332.2l.2 .1M206.4 333l-.7 .3M248 328.4l-.6 .3M256.2 300.3l0 .9M188.8 300.7l.5 .4M243.4 313.2l.4 .1M211.3 314.1l-.2 .4M259.2 305l-.4 .5M222.8 295.7l.3 .2M203.3 298.1l0 0M225.1 298.8l-.5 .3M186.6 300.9l-.1 0M228.6 338.9l.9 .4M224.7 315.6l.3 .8M190.4 340.2l.3 .7M205.6 316.3l-.8 .4M213.6 324.7l-.4 .5M234.8 311.7l-.1 .1M216.6 331.9l.2 .2M230.9 310.2l.5 .8M237.3 315.2l0 .8M221.5 287.5l.9 0M258.6 312.7l.5 .3M259.2 285.7l.8 0M250 294.3l0 .2M214.8 286.9l-.2 .3M222.2 327l0 0M202.9 322l.3 .8M186 311.8l0 .2M242.8 303.8l.1 .3M223.2 294l0 0M246.7 299.1l0 0M216.1 329.3l.3 0M234.3 302.9l.6 .1M248.5 331.6l.4 .6M259.8 329l-.4 .6M206.3 327.3l.3 .4M198.5 316.2l-.6 .4M218.3 312.9l-.6 .3"/>
<path stroke="#6ea6d8" stroke-opacity="0.85" stroke-width="4.5" d="M229.3 328.8l.1 .1M214.6 310.4l-1 .1M235.8 318.4l.4 .3M220.8 286l.6 .4M251.7 321.4l.9 .2M186.3 288.2l.5 .4M246.4 289.1l.1 .1M250 319.5l.1 .6M259.4 321.7l-.3 .7M233.6 291.1l0 .7M211.2 294.5l-.8 .1M205.8 305.1l.1 1.1M238.6 306.5l-.1 .5M256 333.6l0 .6M255.5 301.3l0 .3M197 319.4l0 .2M218.3 339l.3 .7M190.3 323.4l0 .1M213.4 332.3l-.3 .2M248.1 335.3l0 .3M189.5 316.9l-.4 1.1M228.9 289.9l0 .5M206.6 316.4l.5 .2M251.1 323.2l-.4 .2M224.1 306.4l-.1 .2M249.9 287.3l-.6 .8M223.7 319.2l-.3 0M234 335.4l-.4 .1M202.5 336.9l.8 .1M228.2 290.8l0 .5M239.2 321.6l-.5 .5M233.3 321.7l-.5 .5M256.2 339.7l.2 .1M247.5 299.8l.1 0M187 296.2l0 0M194.8 315.3l.8 .6M249.3 296.7l.2 1.1M252.9 323.3l0 .2M204.8 302.1l-.3 .3M246.7 324.6l.6 .3M207.7 333.8l.1 .1M195.4 295.8l-.4 .5M241.3 330.3l-.4 0M192.1 314.8l0 .2M219.1 304.8l.7 .7M243.6 337.1l-.1 0M216.2 306.3l.7 .8M217.5 341.6l-.5 .6M225.4 335.6l0 0M217.4 303.1l0 .1M186 300.1l.3 .3M194.6 298.6l-.2 .9M214.2 322.6l.5 .3M186.3 323.2l.8 0M227.4 285.5l.1 .7M226.9 325.2l.2 .3M220.5 291.4l.1 .5M251.5 333l-.5 .8M233.7 295.7l-.1 .6M188.9 310.7l.2 .7"/>
<path stroke="#6ea6d8" stroke-opacity="0.85" stroke-width="5.1" d="M237.9 302.5l.2 1M190.9 290.3l.1 1.1M208.5 333.3l0 .1M236.7 332.6l-.2 1.1M204.5 289.6l-.1 .2M196.3 339.5l-1 .4M212.8 308.9l0 .1M233.7 304.9l-.2 0M239.6 286.3l-.4 .2M226.8 285.5l-.9 .1M202 319l.5 .6M188.3 338.3l-1.1 .5M249.9 287.9l.2 .2M236 298.3l.8 .1M204 313.3l-.5 .8M247.3 330.8l1.2 .1M236.2 317.7l-.1 .8M217.9 318.6l-.6 .4M257.5 341.6l0 .4M239.4 307.7l-.8 0M220 319.8l.8 .5M199.7 290.3l-.4 .5M235.8 315l-.2 1.2M218 326.3l0 1.1M246.2 324.4l.2 .4M187.4 337.1l0 .4M212.5 298.4l.1 .3M211.2 301.5l-.6 .4M238.3 313.4l-.1 1.1M194.9 320.3l.2 .6M226.8 334.8l-.8 .2M191.2 341l-1.1 0M228.4 287.8l.4 1.2M188.6 315.7l.4 .7M225.7 336.2l-.3 .5M191 335.7l.1 .3M213.4 325.1l.8 .2M253.1 314.3l-.1 .5M235.5 339.9l-.2 .5M236.2 308.5l0 0M259.5 285.8l-.7 .3M185.6 320.9l0 0M194.2 316.5l.2 .4M219.5 338.8l.1 .3M225.8 320.9l1.1 .3M243.3 307.9l-.5 .3M189.4 339l.9 .2M247.6 289.3l.1 1.1M253.6 294.8l-.5 .5M231.7 324.6l-1 .6M236.6 292.8l-.4 .4M237.4 295.7l.2 .1M258.8 335.1l-.9 .1"/>
<path stroke="#3f80c0" stroke-opacity="0.85" stroke-width="2.9" d="M207.8 326.5l-.2 .4M231.6 313.7l0 .1M186.7 287.2l.4 .2M219.1 319.8l.3 .1M187.4 301l0 .2M200.1 340.7l0 0M257.8 322.2l0 .3M216.8 305l.4 .1M199.3 313.3l-.1 .2M226.5 328.6l.4 .2M227.8 323.7l-.1 .5M251.9 313l-.3 .4M186.4 287.8l0 0M187.9 289.2l-.2 .5M232.7 301.3l.5 .4M210.6 304l.3 .1M226.1 298.9l.1 .4M244.8 309.4l.2 .3M225.7 328l-.4 .1M188.4 315.5l-.6 .3"/>
<path stroke="#3f80c0" stroke-opacity="0.85" stroke-width="3.5" d="M234.7 295.1l.8 .1M233.8 340.6l.2 .2M217 296l-.1 .2M205.4 333.7l-.1 0M205.5 289.5l-.3 .4M240.8 328l.1 .8M216 288.1l.4 .1M198.8 299.4l.2 0M241.8 334.5l.4 .7M249.4 308.2l.2 .2M216.3 315.8l0 .2M243.1 285.6l-.8 0M191.9 320.8l-.2 .2M252.6 316.3l0 .2"/>
<path stroke="#3f80c0" stroke-opacity="0.85" stroke-width="4.1" d="M255.4 328.5l-.6 .8M200.9 322.8l.1 .1M212.3 311.6l.2 .3M206 310.2l1 .3M219.8 293.9l.5 .3M206.7 306.3l.1 .3M207.4 326.6l-.1 .5M217.3 286.6l-.3 .5M240.3 304.6l-.2 .2M201.3 311.4l.6 .7M238.8 341.1l0 0M229 314.1l-.1 .3M252 287l-.8 .5M227.2 308.9l-.1 0M254.3 303l.4 0M253.3 308.6l-.5 .5"/>
<path stroke="#dcacbc" stroke-opacity="0.8" stroke-width="1.8" d="M221.2 315.9l.2 .4M199.9 313.8l0 .1M196.8 332.6l0 .3M254 286l-.3 .2M203.2 299.8l.3 0"/>
<path stroke="#dcacbc" stroke-opacity="0.8" stroke-width="2.2" d="M216.3 304.6l.4 .3M217.1 336.7l-.4 .3M219.7 306.3l0 .5M228.7 293.3l.5 .2M259.8 326.7l-.3 .4M188.1 321.3l0 .3M247.9 340.5l-.1 .2"/>
<path stroke="#dcacbc" stroke-opacity="0.8" stroke-width="2.6" d="M227.6 312.2l0 .3M206.8 290.4l.1 .1M200.6 290.8l.5 0M190.4 304.8l-.2 .3M202.6 334.9l.4 .3M234.9 317.9l.2 .3"/>
</g>
<ellipse cx="250" cy="298" rx="8" ry="6" fill="#c0a6c6" fill-opacity="0.45" filter="url(#hb)"/>
</g>
<g clip-path="url(#c10)">
<rect x="261.7" y="287.5" width="70.8" height="52.5" fill="#edebef"/>
<polygon points="262.5,316.25 265.5,306.5 270,299 276,293 282,290 288,288.5 297,288.2 306,289.25 312,293 315.75,299 316.5,308 314.25,317 309.75,323.75 303,329 295.5,333.5 288,337.25 280.5,339.5 273,339.5 267,336.5 263.25,329" fill="#b49ec8" filter="url(#hb)"/><g clip-path="url(#tp2)" stroke-linecap="round" filter="url(#hb)"><path stroke="#9a86c0" stroke-opacity="0.7" stroke-width="1.4" d="M285.2 317.2h0M292.6 318.4h0M305.7 337.8h0M298.8 329.7h0M293.3 312.4h0M307.8 339.3h0M293.4 320.6h0M265.9 332.4h0M297.2 320.7h0M271.4 318h0M295.2 296.2h0M284.7 326.3h0M304.6 324.8h0M298.9 337h0M305.2 291.7h0M282.1 290h0M311.5 323.5h0M274.4 297.4h0M274.8 319.4h0M288.5 288.5h0M297.8 302.9h0M278 339.4h0M311.3 333.1h0M310.5 317.4h0M265.5 307.5h0M295.3 335.9h0M280.1 291.9h0M314 325h0M307.8 313.3h0M278.5 304.6h0M270 307h0M292.9 337.6h0M314.5 313.1h0M274.1 337.6h0M263 292h0M299 319h0M315.6 323.2h0M306.3 333.4h0M314 333.6h0M289.9 321h0M304 289.5h0M290.8 309.2h0M305 298.2h0M307.7 299.6h0M287.4 316.4h0M279.4 325.2h0M305.8 339.1h0M284.6 335.6h0M294.8 329.2h0M272.2 311.4h0M303.7 320.9h0M272.5 318.4h0M304 331.7h0M264.6 292.9h0M279 288.4h0M309.4 329.8h0M304.9 317h0M279.6 311.9h0M266.2 330.2h0M273.5 326.6h0M280.7 296.3h0M283.2 304.2h0M313.3 290.1h0M281.6 310h0M290 288.7h0M305.7 307h0M297 300.3h0M276.5 302.9h0M279.8 333.5h0M272.8 288.6h0M314.4 298.9h0M313.3 322.9h0M309.7 310.6h0M287.6 328.7h0M286.2 311.8h0M267.8 320.8h0M277 333h0M275.3 332h0M298.4 326h0M310.3 330.1h0M273.9 313.2h0M307.8 309.9h0M268.4 303.6h0M306.3 289.9h0M313.7 289.9h0M295 300.2h0M265.8 329.7h0M307.9 296.7h0M281.8 298.4h0M302.1 334.9h0M309.1 297.6h0M277.4 318.4h0M313.5 300.9h0M302.9 303.8h0M278.6 317.5h0M267.1 311.8h0M269.6 296.8h0M273.6 326.3h0M297.9 333.2h0M291.9 331.5h0M280.7 327.7h0M297.8 326.1h0M288.1 319.5h0M298.4 311.3h0M294.1 315.2h0M312.6 321.8h0M310.4 322.3h0M306.9 330.8h0M263.7 321.6h0M276.4 296.3h0M300.3 314.6h0M299.3 320.3h0M315.6 335.2h0M280.6 289.8h0M284.3 303.7h0M308.9 297.7h0M284.2 332.5h0M283.7 297.3h0M274 304.2h0M291.5 338h0M309.4 338.3h0M282.3 315.7h0M311.1 295.5h0M286.9 332.4h0M295.2 339.2h0M270.1 301.2h0M291.3 334.3h0M311.5 317.2h0M288.8 329.5h0M310.9 305.6h0M281.6 297.6h0M286.9 314.3h0M312.8 311.5h0M306.5 295.1h0M276.8 331.5h0M307.2 311.7h0M281.4 317.3h0M300.1 310.6h0M267.5 308.7h0M284.4 321.9h0M276 331.9h0M303.2 297h0M278.1 320.9h0M275.9 309.2h0M307.9 303h0M287.5 313.5h0M291.1 334.2h0M302.8 303.8h0M303.2 338.2h0M298.5 327.8h0M264.1 307.1h0M280.9 317.9h0M288.1 302.2h0M303.8 308.3h0M292 332.8h0M280.2 306.1h0M270.9 307.6h0M269.5 300.1h0M297.2 300.7h0M274.2 311.6h0M315.7 299.7h0M274.5 298h0M280 327h0M274.3 313.9h0M271.9 332.3h0M287 312.1h0M289.5 302h0M272.5 307.1h0M279.9 313h0M272.8 307.9h0M299.5 324.9h0M274.3 315.7h0M288.5 316.5h0M293 328.8h0M269 294.5h0M290.9 302.7h0M283.9 309.6h0M311.2 294.1h0M264.1 312.9h0M285.6 327.4h0M288.3 300.3h0M279.6 300.1h0M315.6 328.9h0M277.6 292.8h0M282.3 332.2h0M266.2 323.1h0M309.6 328h0M288.3 314.7h0M279.6 316.9h0M282.6 324.8h0M275.8 318h0M302.7 297.8h0M293.5 337.8h0M262.9 316.6h0M273.8 314.9h0M276.8 311.1h0M309.8 326.8h0M294 338.9h0M306.5 303.3h0M282.7 329.9h0M265.4 316.9h0M268.8 309.3h0M262.8 334.3h0M270.1 292.7h0M303.1 310.6h0M270.6 324.3h0M297 309.7h0M299.6 311h0M272.8 333.6h0M265.2 335.1h0M286.9 310.2h0M299.4 302.2h0M294.5 320.3h0M271.4 328.8h0M309.9 304.2h0M288.9 298.1h0M279.3 330.1h0M291.8 296.9h0M263.8 337.4h0M275.5 299h0M263.2 328.8h0M286 306.2h0M275 336.7h0M308.2 309.8h0M271.1 327.4h0M301.2 330.5h0M300.9 332.1h0M294.1 333.5h0M283.5 334.4h0M303.1 309.7h0M283 339.1h0M265.7 301.4h0M302.8 336.5h0M268.9 332.5h0M314.2 291.7h0M308.7 298.3h0M311.6 300.4h0M301.3 336.9h0M282.4 316.6h0M297.9 332.2h0M297.9 327h0M299.3 317h0M281.5 325h0M262.5 315.1h0M272.4 320.5h0M284.4 291.2h0M281.5 305.6h0M271.2 331.6h0M288.1 332.8h0M306 324.5h0M278 300.4h0M292.2 331.2h0M274.3 289.8h0M272.6 306.7h0M273.7 331h0M286.4 292h0M289.6 322.8h0M298.5 301.9h0M303.5 315.3h0M280.2 305.3h0M264 331.4h0M264.7 292.2h0M274.8 294.6h0M315.2 303.5h0M267.3 309.1h0M313.3 315.2h0M271.4 310.7h0M275.6 338h0M309.7 291.9h0M274.6 308.7h0M294.6 339.3h0M303.5 304.3h0M290.1 316.1h0M286.8 318.2h0M272.3 331.2h0M289.8 316.1h0M275.2 314h0M310 304.6h0M294.2 317.9h0M270.2 327.9h0M290.6 318.6h0M281.6 339.4h0M274.8 333.7h0M312.1 316.6h0M275.8 325.8h0M286.8 332.8h0M295.9 295.4h0M295.5 333.7h0M280.5 300.7h0M280.3 332.9h0M273.5 304.8h0M302.3 322.7h0M285.1 332.9h0M297.6 334.4h0M300.7 292h0M281.1 288.9h0M274.7 295h0M268.6 292.9h0M275.3 302.7h0M277.8 300.4h0M305.2 335.3h0M298.8 298.8h0M272.3 333h0M273.6 296.4h0M278.1 318.3h0M295.6 296.4h0M264.4 305h0M262.9 290.5h0M308.4 302.5h0M289.5 316.7h0M309.7 329.7h0M263.5 310.6h0M263 291h0M273.3 332h0M274.2 310.5h0M297.8 311.9h0M309.7 289.2h0M300.8 321.4h0M293.6 310.1h0M305.9 325.7h0M268.3 296.6h0M266.2 312.2h0M277.1 289.2h0M299.3 310.6h0M289.3 296.3h0M298.1 313.8h0M299.7 325h0M268.7 296.4h0M265.7 310.5h0M309.1 298.3h0M275.2 289.4h0M280.9 335.8h0M273.4 301.7h0M285.7 334.5h0M310.3 295h0M285 330.2h0M297.2 295.7h0M304.1 327.3h0M279.7 288.8h0M284.2 315.7h0M308.9 319.5h0M290.2 336.9h0M309.2 290.4h0M308.7 323.6h0M290.5 331.5h0M279.3 299.2h0M302.3 332.4h0M267.1 330.7h0M265.3 335.7h0M276.5 308h0"/><path stroke="#c8b0d2" stroke-opacity="0.7" stroke-width="1.4" d="M289.7 318.7h0M285 294.8h0M294.8 289.3h0M295.8 289.4h0M273.4 333.8h0M271.5 303.9h0M274.4 319.8h0M316.2 325.8h0M263.4 293.4h0M272.3 316h0M273.9 304.6h0M273.7 326.6h0M291.2 333.9h0M316.5 332.1h0M309.5 288.7h0M291.9 289.5h0M272.5 336.9h0M303.3 301.9h0M298.7 324.5h0M268.9 288.3h0M268.3 311.8h0M312.9 309.3h0M301.4 333.5h0M284.2 321.1h0M274.9 337.9h0M304.5 333h0M283.8 321.1h0M278 289.1h0M299.3 301.7h0M264.4 326.4h0M277.9 291.2h0M286.3 289.8h0M288.3 310.1h0M292.5 311.1h0M291.3 309.6h0M294.7 302.2h0M311.7 296.3h0M271.5 310.9h0M291.2 319.4h0M299 328.4h0M296 299.8h0M293.4 335.2h0M281 324.3h0M300.4 335.4h0M283.9 295.7h0M279.7 293h0M273.5 307.3h0M312.7 292.3h0M305.4 291.4h0M270 326.2h0M290.4 336.5h0M309.9 305h0M305 305.3h0M311.8 321.6h0M294.9 319.2h0M303.6 295.8h0M288.9 336.6h0M299.5 322.5h0M293.9 318.5h0M270.3 301.4h0M313.3 317h0M303 319.8h0M280.8 325.7h0M268.8 294.8h0M313.1 331.2h0M299.3 333.9h0M280.4 316h0M279.4 325.8h0M288.5 318.4h0M286 309.5h0M269.7 306.8h0M290 318.1h0M263.7 329.5h0M267.1 307.2h0M268.1 319h0M292.1 312h0M302 316h0M285.5 310.2h0M278.4 311.7h0M309.8 316h0M289.9 295.3h0M307.8 335.9h0M295.5 304.8h0M306.4 301.6h0M289 324.9h0M315.9 307.6h0M271.1 314.8h0M314 339.4h0M300 335.3h0M263 303h0M269 321.7h0M307.8 312.6h0M301.8 307.1h0M275 304.2h0M286.3 334.3h0M298.6 310.5h0M309.3 317.6h0M292.2 299.6h0M281.6 319.8h0M291.8 311.5h0M284.8 289.5h0M290.6 314h0M307.7 294.2h0M284.9 327.3h0M303.5 293.5h0M305.8 337.8h0M290.7 323.3h0M268.2 316.6h0M263.8 333.7h0M279.2 331.3h0M291.6 325.5h0M295.3 307h0M264.5 335.4h0M299.4 291.1h0M315 306h0M280.1 322h0M277.6 318.6h0M315.5 337.1h0M279.9 331.5h0M299.9 295.5h0M275.7 334h0M272.2 336.7h0M302.5 303.5h0M279.9 300.7h0M278.4 311.5h0M293.9 307.2h0M290.3 293.1h0M314.3 295.9h0M270.2 324h0M309.2 315.2h0M271.1 319.9h0M301.4 317.6h0M271.2 301.9h0M296.4 318h0M315.7 334h0M285.4 304.1h0M264 314.2h0M310.6 314.6h0M301.4 290.1h0M273.2 308.7h0M298.8 331.6h0M307.7 319h0M265.3 323.1h0M312.6 315.6h0M316.1 303.8h0M309.6 327.1h0M292.4 329.7h0M297.6 297.8h0M295.9 318.9h0M273.2 320.8h0M312.7 335.6h0M286.3 328.9h0M294.5 337.6h0M279.9 324.1h0M294.6 320.4h0M288.9 311.3h0M299.3 303.6h0M286.4 323.2h0M296.2 290.3h0M294.1 318.7h0M297.7 311.8h0M316.3 293.2h0M274.6 324.5h0M309.8 298.5h0M301.1 312.3h0M302 322.7h0M291.8 297.1h0M314 337.1h0M266.9 320.5h0M278.8 303.6h0M275.8 318h0M267.2 296.6h0M275.8 319h0M311.4 306.5h0M271.9 326.8h0M274.2 328.2h0M267.3 295.9h0M267.4 312.1h0M299.6 333.1h0M309.6 321.4h0M300.8 303h0M285.8 314.1h0M289 326.8h0M309.9 300.7h0M291.9 300.1h0M291 324.5h0M301.3 338h0M286.7 327.8h0M303.7 307.2h0M305.6 294.3h0M290.7 326.9h0M287.6 326.5h0M300.7 294.6h0M268.3 335.5h0M280.3 329.8h0M282.4 308.2h0M269.4 289.1h0M264.7 301.1h0M283.1 329h0M307.3 322.7h0M288 299.6h0M310.4 336.2h0M297 294.4h0M299.8 319.4h0M306.8 313.1h0M308.3 306.3h0M279.8 331.5h0M265.5 302h0M278.7 290.2h0M306.5 327.9h0M288.1 326.4h0M292 291.6h0M282.6 335.9h0M272.7 322.1h0M267.3 339.1h0M270.2 307.5h0M286.5 294.8h0M281.7 291.2h0M267.9 327.1h0M287.9 323.1h0M264 294.5h0M312 325.2h0M283.3 320.3h0M282 321.7h0M290.1 304.1h0M265.3 293.2h0M284.2 289.7h0M281.1 302.8h0M297.8 297h0M289.3 329.3h0M273.3 326.8h0M297.7 299.9h0M274.3 300.7h0M283.6 288.7h0M282.6 289.3h0M289 318.5h0M294.3 310.5h0M306.3 319h0M291.9 328.4h0M314.2 313.5h0M277.3 333.9h0M292.1 312.9h0M274.8 316.5h0M311.9 325.4h0M280.9 337.6h0M270.9 332.3h0M303.7 302.7h0M266.1 297.7h0M299.5 326.8h0M297.3 337.3h0"/></g>
<polygon points="306,333.5 307.5,326 312,321.5 318,319.25 325.5,318.5 331.5,320 333,329 333,341 306.75,341" fill="#a690c4" filter="url(#hb)"/><g clip-path="url(#tp3)" stroke-linecap="round" filter="url(#hb)"><path stroke="#9080bc" stroke-opacity="0.7" stroke-width="1.4" d="M330.6 329.6h0M321.3 326.4h0M309.1 326.5h0M310.7 321.2h0M310.3 319.2h0M320.9 321.2h0M322.8 326.8h0M330.5 333.3h0M326.8 333.1h0M326.3 339.7h0M332.9 322.1h0M314 325.1h0M311.7 335.8h0M330.9 319.9h0M310.5 339.2h0M308.8 320.3h0M330.2 324.8h0M306.4 331.3h0M311.1 327.2h0M314.8 336.9h0M331.5 340.1h0M319.4 339.4h0M324.6 330.9h0M323.5 333.3h0M330.7 324.2h0M330.7 337.5h0M322.5 330h0M314.3 340.1h0M317.4 319.9h0M332.8 332.4h0M318.1 318.8h0M317.2 340h0M331.5 321.5h0M314.2 340.7h0M324.9 330.6h0M309.7 332.7h0M307.1 319.4h0M325.3 320.2h0M332.8 323.4h0M307.4 326.4h0M313.3 339.7h0M317.5 326.1h0M320.2 324.9h0M306.4 319.3h0M324.1 330.3h0M306.1 340.8h0M320.8 329.2h0M314.9 340h0M315.7 318.6h0M329.5 331.7h0M330.7 325.3h0M332.6 319.4h0M313.6 321.9h0M317.8 336.7h0M319.1 329.5h0M323.1 322.7h0M332.7 321.7h0M317.7 334.8h0M327.1 321.7h0M318.6 329.4h0M317.3 322.6h0M324.4 329.2h0M316.7 334.1h0M317.7 329.3h0M317 335.8h0M312.5 318.5h0M315.2 326.3h0M307 331.9h0M320.1 323.1h0M321.3 322.5h0M323.6 323.5h0M324.5 324h0M329.2 338.8h0M308.1 339.6h0M310.1 339.8h0M330.6 323.3h0M323.8 321.9h0M332.4 324.7h0M324 327.1h0M312.5 321.4h0M311.8 338.9h0M313 325.6h0M326.2 340.5h0M318.1 325.2h0M326.6 326.9h0M315.4 332.8h0M315.9 340.3h0M315.5 330h0M312.4 338h0M309.9 337.2h0M326.2 337.2h0M327.2 320h0M329.1 340.8h0M308.7 329.1h0M321.9 335.1h0M329.1 335.1h0M321.4 337.8h0M322.2 328.2h0M319.5 332.8h0M316.2 326.3h0M322.3 318.9h0M307.3 331.8h0M306.6 331.8h0M327.3 331.1h0M330.7 328.8h0M312.1 329.1h0M308.1 333h0M312.9 323.3h0M307.7 321.3h0M333 323.4h0M316.4 323.2h0M329.8 329.5h0M315.6 324.5h0M318.1 335.7h0M327 325.2h0M317.5 321.2h0M331.4 339.9h0M306.9 326.8h0M328.3 318.6h0M315.6 329.8h0"/><path stroke="#c4aed0" stroke-opacity="0.7" stroke-width="1.4" d="M323.3 336.7h0M313.8 326.2h0M306.8 331.8h0M316.2 330.6h0M309.7 319.2h0M326.2 332.5h0M318.3 321.1h0M331.4 334.7h0M318.8 339.7h0M312.3 336.7h0M307.5 336h0M332.6 340.4h0M325.7 328h0M321.6 324.6h0M313.4 324.6h0M329.6 337.1h0M329.2 333h0M316 324.6h0M306.6 326.7h0M310.5 328.8h0M314.1 319.1h0M324.6 321.3h0M311.5 318.7h0M313.1 325.5h0M308.4 333.5h0M331.8 326.8h0M327.4 339.7h0M315.9 328.9h0M325.1 339.1h0M311.9 320.9h0M328.4 318.8h0M326.3 320.1h0M332.2 332.6h0M313.3 339.3h0M318.9 338.4h0M330.3 340.5h0M311.3 330.9h0M320.6 331.7h0M328.9 322.7h0M322.1 334.3h0M313.4 328.5h0M332.7 319.1h0M331.1 319.8h0M328.2 320.1h0M308.9 319.1h0M307.6 335.4h0M310 338.6h0M311.7 334.8h0M313.6 340.8h0M332.2 329.9h0M325.3 319.1h0M319.3 335.6h0M312.1 329.3h0M327.4 333h0M310.7 335.9h0M315.1 320.9h0M319.8 330.3h0M311.3 335.1h0M331 325h0M331.6 334.2h0M310 328.8h0M325.3 337.9h0M329.9 324.9h0M308.8 331.6h0M315.7 330.6h0M322.7 339.3h0M317.6 337.8h0M327.2 324.7h0M325.6 338.8h0M315.1 324.4h0M329 320.4h0M309.6 340.1h0M318 329.6h0M324.6 340.3h0M319.9 325.5h0M323.5 340h0M327.3 323h0M306.8 328.6h0M326.5 335.8h0M317.9 320.2h0"/></g>
<polygon points="262.5,306.5 267,300.5 274.5,296 277.5,299 274.5,306.5 267,314 262.5,316.25" fill="#d8d0e0" fill-opacity="0.9" filter="url(#hb)"/>
<ellipse cx="285" cy="325" rx="12" ry="10" fill="#a898c8" fill-opacity="0.6" filter="url(#sb)"/>
<ellipse cx="305" cy="310" rx="10" ry="12" fill="#a494c6" fill-opacity="0.5" filter="url(#sb)"/>
<ellipse cx="300" cy="296" rx="8" ry="5" fill="#b0a2cc" fill-opacity="0.5" filter="url(#sb)"/>
<ellipse cx="318" cy="332" rx="8" ry="5" fill="#a898cc" fill-opacity="0.5" filter="url(#sb)"/>
<g filter="url(#hb)" stroke-linecap="round" fill="none">
</g>
</g>
<g clip-path="url(#c11)">
<rect x="334.6" y="287.5" width="70.8" height="52.5" fill="#c2b6d8"/>
<g filter="url(#hb)" stroke-linecap="round" fill="none">
<path stroke="#a092c8" stroke-opacity="0.9" stroke-width="5.5" d="M362.3 296.8l.4 .8M394.9 290.8l.1 .1M342.7 332.9l-.4 .9M402.5 312.5l.4 .7M395.8 321.6l-.3 .8M389.5 318.1l.6 .5M341.7 309.2l0 .1M386.8 287.8l0 .1M356.4 331l-.2 .5M361.4 312.3l.8 .3M401.7 308.8l-.2 .9M334.8 295.7l-.3 .3M345 313.3l.4 .2M346.3 315.1l0 .7M359.5 336.7l-.7 .3M336.5 296.2l.2 .5M373.2 331l.9 .4M362.6 311.2l.3 .6M343.2 306.5l-.5 .6M360.7 327.8l-.7 .2M350.7 295.7l-.4 .8M358.1 300.8l-.1 .3M365.1 339.5l0 .1M376 326.5l-.1 .1M387.7 289.9l-.5 0M343.7 321.8l.4 .9M356.6 322.4l0 0M355.2 334.3l-.6 .5M400 290l.2 .2M379.6 331.5l.1 .9M392.4 309.7l.1 .2M351.6 303.8l-.2 0M400.9 323.1l-.9 .2M396 288.1l.4 .2M388 298.8l-.2 .2M358.2 303.5l-.5 .5M397.5 292.7l-.8 .5M380.6 334.6l-.2 0M402.2 305.2l0 0M353.2 332.8l.5 .3M385.7 299.4l-.1 .2M370.6 293.8l.2 .1M348.3 290.7l.4 .9M375.2 330.5l.8 .5M402.3 314.7l.7 0M383.4 330.6l.4 .9M376.7 321.3l.3 .3M351.2 312.1l0 0M342.5 337.7l-.3 .7M383.3 293.2l-.3 1M395 301.2l0 .7M358.4 327.1l-.7 .3M359.7 303.8l-.5 .1M365.2 321.9l-.5 .5M399.2 306.1l-.1 .8M377.9 335.1l-.2 .1M401.9 312.4l-.8 0M394.9 311l-.1 .7M347.1 292.9l-.1 0M358.1 334.5l0 .3M376.4 335.1l-.5 .3M381.2 330l-.7 .5M354.4 293.7l.3 .6M355.1 313.5l-.1 .4M405 326.7l.2 0"/>
<path stroke="#a092c8" stroke-opacity="0.9" stroke-width="6.11" d="M375.2 320.6l-.5 .2M382.2 291l0 .4M386.8 309.3l-.2 1.1M339.1 338.9l-1.1 0M366.8 332.7l0 .1M394.3 332.4l0 .8M400.5 302l0 .5M402.2 335.3l.4 .6M402.7 330.7l.5 .9M335.1 336.8l0 0M391.6 326l-.8 .8M361.9 326.9l.2 .1M353.7 327.5l-.2 0M403.5 321.3l-.3 .2M391.1 314.3l-.5 .5M390.1 333l-.6 .8M362.8 292.6l.1 .1M366 298.6l-.2 0M399.6 323l.2 .2M392.8 336l.8 .5M357.4 316.2l-.7 0M376.2 330.5l.2 .3M347.3 329.9l-.3 .3M399.5 323.8l-.8 .1M334.7 298l.1 .1M378 292.3l.3 .6M365.7 301.7l.7 .5M395.1 315l-.3 .4M396.1 333.2l.2 .3M380.3 316.6l-.5 .5M363.6 297l-.9 .6M389.4 310.6l0 0M397.9 336.6l.1 1M387.1 306.8l-1 .1M361.6 316.7l.3 .5M399.4 302.1l.2 0M360.3 297.3l.4 .1M388 320.4l.8 .1M364 324.1l-.4 .1M393.5 308.7l.2 .2M342.4 339.3l.3 .8M351.8 320.3l.3 .7M346.3 313.5l.5 .2M390.2 314.4l-.3 .8M370.1 333.8l0 0M358.8 339.1l.3 0M361.3 315.7l-.5 .8M403 337.3l0 0M385.3 339l.2 .3M391.9 315.3l-.3 .2M350.2 299l-.6 .5M377.3 329.3l.1 0M345.3 331.3l0 0M374.4 331.2l.6 .7M363.3 338.5l-.6 .1M343.4 307.9l.9 .1M378.8 337.6l.9 .2M335.6 313.9l.1 .1M363.8 302.5l-.1 .3M398.7 312l.4 .2M383.2 306.4l.3 1M376 290.6l-.2 .4M366.6 333.2l.2 .1M390.5 310.4l.3 .3M364.4 336.8l0 .5M362.9 332l.4 .8M343.6 298.9l-.6 .8M399.8 310.8l-.9 .5M336.6 304.4l.9 .3M361.3 293l-.5 1M373.8 292.7l-.1 1.1M338.7 291.9l.1 .1M370.1 312.7l-.1 .7M382.2 339.2l-.1 0M340.3 330.4l0 0M372.4 287.7l.6 .1M382.2 290.9l-.1 .1M375.5 298.9l-.5 .1M387.3 334.8l.1 0M397.3 287.8l.2 .2M344.5 333.4l-.6 .5M349.4 308.2l.9 .7M339.2 338.9l.8 .8"/>
<path stroke="#a092c8" stroke-opacity="0.9" stroke-width="6.72" d="M404 334.9l-.2 .3M380.7 327.9l.3 0M349 297.4l-.1 .5M341.1 301.7l.1 0M377.8 290.4l-.2 1M335.1 332.6l0 .4M357.1 310.3l-.8 .1M404.6 334.7l.6 0M351.7 318.6l.5 1.1M398.5 289l-.3 .2M342.1 331.1l.3 .3M335.1 316.2l1 .3M357.7 319.5l-.2 0M378.2 295.8l-.9 .1M378.4 324.8l-1 .3M365.3 289l-.4 .2M386.5 314.3l.9 .7M358.8 313.9l.4 .2M373.5 288.4l-.2 1.1M370.7 299l.8 .2M404.2 336l-1 .5M378.7 294.6l-.6 .2M346.8 290.7l-.5 .4M377 287.7l.3 .3M359.4 328.5l.3 .5M354.4 296.9l-.6 .2M387.6 323.6l-.2 .4M356.5 303.1l.2 .5M346.8 336.2l-.2 .2M398.5 328.9l.1 .2M387.5 289.2l.5 .2M393.8 290l-.5 .9M375.9 324.2l-1.1 .2M376 311.3l.7 .3M356.9 303.4l0 .1M349.3 312.8l-.1 .7M376 297.8l-1.1 .3M405 302.8l-1 .8M379.7 308.2l0 0M375.5 314l.3 .6M365.3 313.2l-.4 1.2M354.8 324.2l-.2 0M393.2 319.5l.5 .7M400.1 330.4l-1 .6M381 296.6l0 .1M347.4 314.4l0 .6M381.1 302.8l0 0M343.3 313.2l0 0M341.4 312.6l0 0M338.4 310.6l-.4 .9M366.8 304.6l-.1 .4M389.2 291.6l0 .4M373.1 329.2l-.9 .8M347.5 301.4l.2 .9M400.1 302.8l.1 .8M367.7 327.2l-.1 .6M342.9 335.1l-.3 1.1M359.7 294.3l0 0M378.3 288.2l.3 .1M361.2 302.4l.5 .4M371.6 303.8l-.3 0M342.7 328.6l.6 .6M352.6 334.7l0 .3M334.2 327.8l1.1 .5M397.7 329.8l0 0M361.2 299.1l-.3 .3M348.6 288.4l-.8 .6M349.9 313.6l-.8 0M347.4 333l0 .2M357.6 338.4l.1 .2M358.3 320.1l1 .6M340 311.5l-.2 .1"/>
<path stroke="#5e509c" stroke-opacity="0.8" stroke-width="3.17" d="M362.5 297.1l.3 .7M394.3 290.5l.1 .1M342.9 333.4l-.3 .7M403.1 312.1l.3 .5M396 321.3l-.3 .7M389.1 318l.5 .4M341.6 309l0 .1M386.7 287.5l0 .1M356.5 331.7l-.1 .4M361.1 312.8l.6 .3M401.2 309.3l-.2 .7M335.2 295.3l-.2 .3M345.2 313.1l.3 .2M345.8 315.3l0 .6M358.9 336.2l-.5 .3M336.7 296.5l.1 .4M372.8 330.7l.7 .3M362.5 311.3l.2 .5M343.6 306.6l-.4 .5M360.7 327.7l-.6 .2M351.3 296.1l-.3 .6M358.7 300.3l0 .2M364.4 339.8l0 0M375.5 326.3l-.1 .1M388.2 289.3l-.4 0M344.3 322.2l.3 .7M356.8 321.8l0 0M355 333.8l-.5 .4M400 290.6l.1 .1M379.1 331.4l.1 .7M392.2 309.3l0 .1M351.4 304l-.1 0M400.8 322.5l-.7 .2M396.5 288.5l.3 .2M387.7 298.6l-.2 .2M358.5 303.9l-.4 .4M397.4 292.8l-.6 .4M380.4 334.5l-.1 0M402.1 305.3l0 0M353.4 332.9l.4 .3M385.3 299.3l-.1 .1M370.9 293.7l.2 .1M347.8 291.1l.3 .7M375.4 330.8l.6 .4M402 314.3l.6 0M383.2 330.7l.3 .7M376.7 321.9l.2 .2M350.9 312l0 0M342.8 337.9l-.2 .5M383.2 292.9l-.2 .8M395.1 301.1l0 .5M357.9 327l-.5 .2M360 304.4l-.4 .1M365.1 322.2l-.4 .4M399.7 306.4l-.1 .7M377.4 334.7l-.2 0M401.5 312.5l-.6 0M394.9 310.8l-.1 .5M347.4 293.2l-.1 0M358 335.1l0 .3M376.4 334.6l-.4 .3M381.3 329.8l-.6 .4M354.2 293.3l.2 .5M355.2 313.6l-.1 .3M404.9 327.3l.2 0"/>
<path stroke="#5e509c" stroke-opacity="0.8" stroke-width="3.53" d="M375.2 320.6l-.4 .2M381.6 291.2l0 .3M387 308.9l-.1 .8M338.4 338.7l-.9 0M366.6 333.1l0 .1M394.6 333l0 .7M400.1 302.6l0 .4M402.4 335.7l.4 .4M403 330.6l.4 .7M335.6 336.7l0 0M392 325.4l-.6 .6M361.5 326.4l.2 0M353.5 327l-.1 0M402.8 320.9l-.3 .2M391.6 314.4l-.4 .4M389.7 332.9l-.5 .6M362.2 292.2l.1 .1M365.8 298.7l-.2 0M400.1 322.7l.1 .2M392.8 336.5l.6 .4M357.7 316.9l-.6 0M375.7 330.9l.2 .3M346.9 330.1l-.2 .2M399.1 324.3l-.7 0M335.1 297.4l.1 .1M378.5 292.2l.2 .4M366.5 301.9l.5 .4M395.5 315.6l-.2 .3M395.9 332.9l.2 .3M380.8 316.7l-.4 .4M363.3 297.3l-.7 .4M389.8 311.2l0 0M397.2 337.1l.1 .8M387.3 307.1l-.8 .1M362.3 316.6l.3 .4M399.2 302.6l.2 0M359.7 297.1l.3 .1M388.7 321.1l.7 .1M363.5 324.3l-.3 .1M393.9 308.1l.2 .2M342.4 339l.3 .7M352.2 320.3l.2 .5M346.4 313.3l.4 .1M390.7 314l-.3 .7M369.6 333.7l0 0M358.2 338.9l.2 0M361.6 316.1l-.4 .6M402.8 337l0 0M385 339l.2 .3M391.6 315l-.3 .2M350.2 299l-.5 .4M377.9 329.5l.1 0M344.6 330.7l0 0M374.4 331.1l.4 .6M362.6 338.1l-.5 .1M343.6 308.3l.7 .1M379 336.9l.7 .1M335.8 314.1l.1 .1M363.6 302l-.1 .2M398.7 312.4l.3 .1M382.6 306.2l.3 .8M375.4 290.7l-.2 .3M367.1 333.5l.1 .1M390 310.3l.3 .2M363.8 337.3l0 .4M362.5 332.7l.3 .6M343.4 298.2l-.5 .6M400.2 311.4l-.7 .4M336.8 304.2l.7 .2M360.6 293.7l-.4 .8M374 293.3l-.1 .9M339.2 292.2l.1 0M369.6 313.3l-.1 .6M382.4 339.4l0 0M340.5 329.8l0 0M372.5 287.1l.5 .1M381.7 290.9l0 .1M374.8 298.7l-.4 .1M387.6 334.6l.1 0M397.3 287.9l.2 .1M343.9 332.8l-.5 .4M349.3 308.6l.7 .5M339.4 339.4l.6 .6"/>
<path stroke="#5e509c" stroke-opacity="0.8" stroke-width="3.88" d="M404 334.6l-.2 .3M380.8 327.6l.3 0M349.5 297.6l-.1 .4M341.7 301.2l.1 0M378.6 290.8l-.2 .8M335.4 332l0 .3M357.4 310.2l-.7 .1M404 335.4l.4 0M351.2 317.9l.4 .8M398.5 288.8l-.2 .2M341.7 330.5l.3 .3M335.1 316l.8 .2M358.1 318.9l-.2 0M377.9 296.2l-.7 .1M378.4 325l-.8 .2M365.9 289.7l-.3 .2M386 313.8l.7 .6M358.1 314.6l.3 .2M373.4 288.9l-.2 .8M370.3 298.5l.7 .2M403.4 335.6l-.8 .4M379.2 295.3l-.5 .2M346.6 290.6l-.4 .3M377.5 287.6l.2 .3M359.6 329l.2 .4M354.4 297.6l-.5 .2M388 324l-.1 .3M357.2 303.6l.1 .4M346.7 337l-.1 .1M398.7 329.3l.1 .2M388.1 289.1l.4 .2M394 289.6l-.4 .7M376.3 323.6l-.9 .1M376.3 311.1l.6 .2M357.3 303.9l0 .1M349.8 313.1l-.1 .6M376.4 297.2l-.9 .2M405 302.9l-.8 .6M380.4 309l0 0M375.2 313.8l.2 .5M365.4 312.7l-.4 .9M354.4 324.9l-.2 0M394 319.2l.4 .5M399.4 330.1l-.8 .5M381.6 297l0 .1M346.8 313.8l0 .5M381.6 303.1l0 0M342.9 313.5l0 0M341.5 313.1l0 0M338.1 310.4l-.3 .7M366.3 305.1l-.1 .3M388.6 291.6l0 .3M372.4 328.9l-.7 .6M347.4 301.7l.2 .8M400.6 302.3l0 .7M368.4 327l-.1 .5M343.5 334.9l-.2 .9M359.9 294.6l0 0M379 288l.2 .1M361.1 302l.4 .3M371.3 304.5l-.3 0M343.3 329l.5 .5M351.8 334.1l0 .3M333.8 328.3l.9 .4M398.3 330.6l0 0M361.2 299.1l-.2 .3M349 288.7l-.6 .5M349.1 313.4l-.7 0M347.1 332.6l0 .1M358.3 337.7l.1 .2M358.6 319.6l.8 .5M340.8 312.2l-.2 .1"/>
</g>
</g>
<g clip-path="url(#c12)">
<rect x="187.1" y="361.9" width="70.7" height="53.1" fill="#8e9aca"/>
<g filter="url(#hb)" stroke-linecap="round" fill="none">
<path stroke="#d0b8d2" stroke-opacity="0.8" stroke-width="1.83" d="M213.5 372.9l.1 .4M236.6 393.2l.4 0M249.8 407.9l0 0M220.6 391.6l-.1 0M236.5 415.8l.1 .1M234.1 409l0 0M193.2 397.4l.1 .4M238.9 404.8l.3 .3M201.1 369.2l0 .1M218.5 402l0 .3M215.8 415.4l0 0M221.8 408.4l-.1 .2M238.7 400.2l-.1 .3M234.1 390.2l-.1 0M189.8 390.6l.1 0M190.3 382l.3 .2M197.1 365l-.1 0M208.5 407.7l0 0M246.9 407.2l-.4 .1M236.6 411.5l.4 0M238.9 381.2l-.1 .1M214.1 410.9l-.1 .3M203.2 372.6l.4 .1M198.2 416.1l0 .1M243.7 364.5l-.2 .1M243.5 396.9l.1 .1M190.1 400.8l.2 .2M255.3 361.1l0 .1M215.4 367.4l0 0M241.2 401.7l.3 .2M236 395.7l-.1 .3M244.5 375.7l.1 .3M218.5 403.7l0 .4M255.8 413.1l0 0M242.8 370l.2 .1M204.5 394.8l-.1 .2"/>
<path stroke="#d0b8d2" stroke-opacity="0.8" stroke-width="2.3" d="M252.1 376l-.1 .2M187.3 392.8l-.5 .2M219.2 401.4l.2 .2M187.1 360.7l.2 .1M256.9 373.6l0 .2M201 399l-.1 .2M245.6 395.3l-.3 .3M257.6 410.9l0 0M237.2 372l-.5 .2M208.2 368.5l-.3 .2M202.4 370.3l.1 .1M220.3 392.4l0 0M215.9 388.2l.1 .3M221.3 403l0 0M235 402.8l.2 .2M257 375.6l.2 .1M254.3 376.6l0 0M259.5 377.1l-.1 .5M229.7 397.8l.4 0M200.2 376.8l0 0M255.7 396.1l-.2 .2M245.2 375.2l-.5 .1M203.2 364.2l0 0M218.3 411.7l.2 .3M249.3 413.9l.1 .1M193.7 376.4l-.5 0M203.4 383l.2 .5M238.2 410.9l.2 0M256.3 400l0 0M186.7 370.9l0 0M259.4 414.7l-.2 .1M192.9 403.5l.4 .2M209.8 391.2l.4 .4M250.1 379.9l-.1 0M218.1 373.3l.6 .1M239.3 393.7l.3 .2M256.2 388.7l0 .1"/>
<path stroke="#d0b8d2" stroke-opacity="0.8" stroke-width="2.77" d="M227.8 404.5l.7 0M255.9 416.2l.2 .2M207.6 368.2l.1 0M190.2 361.9l-.4 .4M238.3 364.7l-.3 .1M202.9 416.2l.3 .2M209.9 372.8l-.4 .3M255.6 396.3l-.3 .1M250 375.7l.1 .3M186.2 369.3l.3 .2M231.5 391.5l.2 .5M198.9 389.9l.3 .2M208.1 405.9l-.6 0M252.2 386.6l.2 .5M234.2 398l.2 .3M205.6 362.8l.1 .2M236.9 388.9l-.6 .3M231.5 415.9l0 .1M234.4 391.1l-.5 .4M236.8 406.1l-.5 .4M186.4 414l-.2 0M191.5 412.5l.1 .3M200.3 401.9l-.6 .2M223.7 388.9l.4 .3M201.4 364.4l0 .6M201.1 359.9l-.1 .6M240.9 398.1l.3 .1M237.4 386.5l0 .1M244.9 397.5l-.1 .3M214.8 406l.6 .3M224.7 394.5l.3 .2M234.5 362.7l0 .1M195 398.1l-.1 .1M217.7 396.9l.2 .3M204.4 361.1l.4 0M196.3 368.6l-.1 .1M233.2 376.3l-.2 0"/>
<path stroke="#5070b2" stroke-opacity="0.85" stroke-width="1.6" d="M189 384.2l-.3 .1M259.8 370.8l-.3 .1M224.1 401.3l-.2 .3M195 364.3l-.1 .3M216.3 379.8l.2 .1M201.4 400.5l.1 .1M254.5 400l-.3 0M242.3 359.8l-.1 .2M205.9 410.3l-.3 .1M218.1 373l-.2 0M228.6 379.6l-.3 .2M230.5 393.6l-.3 .1M253.2 399.8l.2 .3M224.8 383.3l-.1 .1M238.5 401.6l.3 .2M255.7 360.6l-.2 0M205.2 376.2l-.1 .1M243.9 363l.1 0M239.4 364.4l-.3 .1M189.9 409.9l0 0M235 362.8l.3 0M243.5 388.6l.1 .1M219.9 416.3l-.1 .1M211.6 396.5l.1 0M192.2 382.1l.3 .1M248.8 374.4l0 0M209.3 413.7l0 0M198.5 407.9l-.4 0M241.7 366.2l-.2 0M239.7 413.2l.1 0M196.2 374.3l.1 .1M187 408.7l.3 .1M219 372l.1 .2M244.2 363l.2 .2M218.2 386.5l.2 .1M192.8 400.1l.1 .1M203 387.9l0 .1M194 389.5l.2 .1M216.6 382.3l-.3 .2M187.4 411.4l-.3 .1M249.8 375.5l.1 0M201 390.9l.1 0M219.9 408.3l.2 .1M258.6 411.2l0 .1M257.9 361.6l.3 .2M205.9 379.4l.1 0M197.3 366.6l.2 .2M255.2 393l-.1 .1M212.8 360.7l.2 .2M220.3 372.7l0 .1M204.7 379.5l.2 0M235.2 402.3l-.1 .1M225.7 387.7l.1 .1M191.7 396.2l0 0M231.9 396.4l.3 0M187.8 374.4l0 .1M220.1 401.7l.3 .1M217.4 399.1l-.2 .2M246.3 360.5l-.1 .3M240.9 414.9l.1 .3M205.9 414.6l-.1 .3M246.2 406.8l.2 .1M249.7 386.2l.2 .3M205 401.7l.2 .3M220.9 411.8l.1 .1M238.1 407.9l0 0M186.6 398.3l.1 .1M190.4 392.9l.2 .2M194.9 389.4l0 0M227.1 415.9l.1 .3M187.9 390.1l-.1 0M254.6 386.5l.4 .1M244.3 376.6l.1 0M204.8 361.9l-.3 .1M203.2 367.6l.1 .3M257.9 396.6l.3 0M258.3 406.6l0 0M241.4 364.6l-.1 .1M245.8 389.5l0 0M225.6 402.6l0 .4M219.1 396.2l.1 .1M250.4 407.8l0 .4M201.3 374l0 0M203.4 391l.2 .1M198.4 402.4l-.2 .1M234.1 373l.2 .2M226.1 393.9l-.2 .2M203.7 407l-.1 .3M251.4 414.7l-.2 .1M227.3 412.5l.1 0M241.8 412.3l0 0M212.2 393.4l.1 .2M188.1 390.7l-.1 0M220.1 378l-.2 .1M248.5 385.6l.3 0M240.3 410.1l.2 .1M232.6 396.1l-.2 .1M256.3 389.7l0 .1M238.2 390.7l.3 .1M191.4 365l.3 .3M196.2 408.3l0 0M234.4 395.8l0 0M222.5 397.6l.1 .3M213.4 398.1l0 .2M248.2 409.9l.1 0M214.9 377.3l-.2 0M254.1 387.1l-.1 .3M192.6 387.1l-.2 0M259.6 384.3l.2 .2M201.4 404.4l-.2 .1M211.1 364.7l0 0M227.1 402.1l0 .1M218.1 400.9l-.1 .1M215.1 368.6l-.1 .3M250.9 390.5l0 .3M193.8 365.8l0 .1M246.6 369l-.1 .1M257.7 376.8l-.3 .1M211.8 384.7l.1 .2M208.9 367.3l.1 .3M249.8 369.9l0 0M236.5 392l0 .1M253 361.8l-.3 .2M234.2 379.4l0 .4M193.2 386.7l.2 0M220.9 368.1l-.1 .2M247.3 405.9l0 0M230.6 398l.1 0M192.8 395.5l.2 0M255.4 385.4l0 .1M198.6 386.4l.1 .1M191.4 365.2l.1 .4M210 377.5l0 0M224.5 389.4l.2 0M249.6 414.5l0 0M208.9 361.2l-.1 .1M203.3 374.9l-.3 0M203.8 367.7l.1 .1M242.1 401.5l.2 .1M237.4 414l0 0M245.2 381.6l-.3 .1M209.1 396.4l0 0M250.4 414.7l.1 .2M258.5 414.5l-.4 0M223 374.4l.1 .1M215 368.2l0 0M242.5 362.3l-.3 .3M190.6 368l-.1 .1M252.1 383.6l-.2 .1M229.1 411l.4 .1M186.1 376.3l.2 .1M202 396.6l-.1 .3M256 397.7l.1 .3M247.9 407.2l-.3 .3M206.5 409.2l-.2 0M239.9 414.9l-.1 0M228.7 396.9l0 0M232.2 412.4l.2 .1M212.7 402.8l0 0M196 362l.1 .1M226.1 379.6l-.1 .3M206.9 379.5l0 .2M230.5 396.1l.1 .1M193 390.7l.1 .1M226.7 367.5l0 0M221.1 388l0 0M242.5 409.8l.3 0M197.4 407l-.1 .1M255.6 380.3l-.1 .1M211.9 372.8l.1 .2M226 393.6l0 0M189.2 390.5l0 .4M223.3 398.5l-.1 0M242.6 395.3l.1 .1M234.3 383.5l0 .1M232.1 405.5l-.3 .3M212.1 395.1l.1 .1M229 372.5l.3 .2M194.1 387.2l0 .1M199.6 408.7l0 0M254 386.3l0 .1M229.2 365.5l-.2 .1M250.3 369.4l-.2 .4M212.3 365.2l-.3 .2M190.9 396.3l-.2 0M236 398.2l0 0M225.1 396.4l0 .1M241.2 414l.2 .1M250.5 378.2l.2 .2M224.8 396.2l-.1 .1M186.8 414.4l.2 0M200.9 395.7l0 .1M195.1 397.1l-.2 .3M206.8 365.8l-.3 .1M194.4 392.1l0 .2M252.8 391.3l.1 .3M257.9 387.8l0 0M234.3 392.2l0 .1M197.1 360.4l.1 0M185.5 377.1l.1 0M239.9 397.8l-.1 .1M233.3 406.3l-.1 0M194.3 410.5l.1 .1M190.5 382.8l-.4 .1M201.9 388l0 0M210.8 378.1l.2 .1M199.9 359.9l.2 .3M243.9 407.2l.1 0M194.4 364.9l-.4 .1M245.9 412.5l-.2 0M226.7 368.8l-.2 .2M258.2 406.1l.3 .2M241.7 360.7l0 .4M204.7 360.7l-.1 .3M205.4 371.1l-.3 0M233.8 378.6l0 .3M249.1 393.3l-.1 .2M233.2 367.6l0 .3M215.7 406l0 .3M219.4 389.7l.2 .1M191 384.9l0 0M240.4 406.1l0 0M200.5 379.8l.1 0M218 398.2l-.1 .1M218.7 413.9l0 .1M215.4 372.8l0 .2M223.8 367.4l-.2 0M226.2 394.7l0 .1M219.9 412.8l-.1 .2M206.9 373.5l.1 .1M231.7 405l-.4 0M209.1 367.4l-.3 .1M192.4 383.7l0 0M209.9 376.1l0 .1M216.1 364.3l.1 .2M221.7 387.1l.1 .2M196.4 368.3l0 .2M202.2 386.8l0 .4M214 384.3l0 0M196.2 364.2l.1 .1M233.5 366.7l-.1 .2M259.5 386.9l0 0M187.4 402.7l0 0M245.2 407l-.1 .3"/>
<path stroke="#5070b2" stroke-opacity="0.85" stroke-width="2" d="M244.5 370.7l0 0M247.7 405.2l-.2 .3M205.1 378.1l-.1 .5M204.8 411.3l-.1 0M216.1 406.1l.2 .2M191.8 395.6l.4 0M231.4 416.5l0 0M205 409.4l-.1 .1M244.5 373.1l-.2 .3M215.6 396.5l-.1 0M249.3 366.4l0 .3M253 395.3l.3 .1M250.4 392.5l.1 .2M222.4 411.8l.4 .1M243.9 414l-.3 .1M198.7 372.9l0 .2M213.1 374.1l.4 .3M213.2 400.8l0 .3M194.1 395.6l.2 .1M231.4 379l.2 .4M259.9 402.3l-.2 .3M201.5 388l.2 0M191.5 369l-.1 .1M194.1 402.9l.4 .1M231 375.4l0 .2M199.3 395.5l-.1 0M187.7 413.8l.3 .2M237.5 378.9l.1 .1M205.3 397.4l.1 .2M214.1 371.5l0 .3M197.5 367.9l0 .2M241.4 376.9l.1 .1M215.6 369.3l0 .1M197.7 396l.2 .2M246.2 406.4l0 0M244.5 391.5l-.2 .1M237.4 416.3l.1 .4M193.7 385.8l.1 .2M188.6 394.9l.1 .5M195.1 402.1l.1 .2M195.4 411.1l0 .4M224.7 398.3l-.3 .3M221.5 393.8l.1 .1M250 380.2l.1 .1M198.1 399.9l0 .3M254.1 395l0 .1M229 381.7l-.1 .1M192.3 407.2l.3 0M210.5 381.1l.2 .1M251.1 377.1l-.3 .1M217.4 368.2l0 .3M241.6 405.4l-.1 .2M202.8 381.2l.1 .4M249.9 369l0 0M210.3 359.7l0 .5M246.7 416.8l0 .1M239.1 384.7l.4 .1M214.4 414.4l-.2 0M256.2 372.1l0 .1M214.3 379.8l.1 .1M251.4 398.5l0 .1M230.3 386l-.2 .3M237.1 394.9l-.3 0M241.2 376.7l.2 .1M211.1 365.2l-.4 .2M229.5 370.3l0 0M243.3 404.5l0 0M247.9 414.4l-.1 .1M222 367.6l-.1 0M194.7 405.8l.3 .3M257.2 385.7l0 .3M193.5 381.4l0 .1M249.5 372.4l.2 .3M228.9 374.6l0 0M201.7 387.1l-.2 .1M210.8 408.7l.4 .3M239.4 392l.1 .4M207.8 373.2l0 0M196.4 404l0 .3M239.2 366.4l-.1 0M219.2 400.3l0 .5M187.4 406.1l-.2 .2M215.1 367.9l-.1 .1M222.9 404.4l-.1 .3M210.5 398.3l.1 0M198.6 412.8l.1 0M244.1 409.2l.2 0M238.9 364.7l.4 .3M251.5 370.7l0 0M255.8 380.6l-.4 .2M186.9 372.9l-.1 0M212.4 367.5l0 0M226.2 370.7l-.3 .1M215 360l0 0M195.3 407.6l-.1 .4M215 389.1l0 0M238.2 404.7l0 .1M240.3 407.2l.1 .3M189 405.7l0 .2M255.6 391.6l-.5 0M203.7 360.3l0 0M193.5 402.3l.3 .1M206.2 373.3l.1 .4M216.8 380.2l0 0M208.7 374.7l.2 .1M254.8 408.4l0 .2M254.2 376.4l.2 .2M244.4 372.2l.1 .3M214.5 386.1l-.3 .3M253.5 401.5l-.3 .2M201.4 413.1l.1 .1M230.6 360.1l.1 .1M223.2 383l0 .3M219.7 365.1l0 0M254.4 413.8l0 .4M237.4 368.1l.4 .1M237.3 380l.2 .3M222.3 394.9l.1 .1M196.8 386.9l-.3 .3M225.6 394.8l.4 .1M205.1 400.5l.5 0M188.6 363l0 .2M247.1 387l.2 .1M185.7 403.4l0 .1M255.8 363.1l-.2 .1M204.2 397.3l0 .2M231.5 376.4l.2 0M205.7 374.6l-.4 .2M195.6 416.4l0 .1M232.5 384.5l.2 .1M218 366l-.1 .1M249.5 383.2l0 .1M254.5 411.3l0 0M237.3 379.6l.2 0M253 373.5l0 .1M203.9 363.7l0 0M214.6 397.2l.2 .2M244.9 386.5l.4 .3M257.2 371l.1 .1M196.8 387.1l-.1 .2M200.2 409.5l.2 .3M233.8 398.4l-.2 .2M213 404.8l-.1 .1M226.4 397.9l-.4 .2M259.8 377l0 0M188.6 360.4l-.1 0M224.1 400l0 0M235.6 363l0 .2M252.1 413.6l-.1 .2M205.8 369.7l-.1 .1M220.5 413.4l.4 .3M200.3 378.5l-.2 .3M253.3 389.6l.2 .3M190 409.3l0 0M188.9 363.9l-.2 .4M239 375.6l-.1 .1M191.6 362.4l-.3 .2M244 397.9l-.1 0M226.7 361.8l.1 .2M250.5 375.4l0 .2M227.5 368.8l-.3 .3M249.6 393.6l.3 .1M198.3 414.2l-.1 0M258.5 385.4l-.1 0M189.5 400.4l0 .2M196.7 409.1l.1 .4M193.7 406.8l.2 0M242.1 374.2l.3 .3M199.3 371.1l-.3 .3M245.3 367.9l-.1 .2M213.9 375.1l.4 .1M241.1 394.3l-.3 .2M236.7 388.3l-.3 .3M217.7 402.7l.2 .1M190.2 400.1l.1 .3M245.1 413.2l.2 .1M188.3 375l-.1 .2M247.1 394.6l0 .2M222.5 376.1l-.1 .3M255.7 360l0 .2M244.8 366.8l-.3 .2M187.8 378l-.3 0M239.7 374.6l0 .1M250.8 414.8l-.4 .2M210.1 362.7l-.3 .3M189.3 405.1l-.4 .2M199 370.5l.1 0M208.7 403l.3 0M214.4 370.9l-.2 .2M254.8 383.6l0 .1M219.1 370.4l.1 .2M226.7 363.7l-.2 .1M224 388.3l-.2 .1M218.4 373.5l-.2 .4M214.4 378.7l0 0M231.6 360.6l-.1 .2M226.7 397.6l.2 .2M225.6 371.5l.1 .4M253.2 380l.1 .1M199.3 404.1l.3 .3M240.8 370.6l-.4 .1M230.5 375.4l-.1 .2M198.7 362.6l-.4 0M237.8 370.4l0 0M191.5 377.6l-.1 .2M223.5 406.6l.1 .1M250.5 415.1l0 .1M204.3 368.6l.1 .2M243.8 413.6l-.3 .1M237.5 416.6l-.2 .4M210.8 368.4l-.2 .1M227.3 397.9l.3 0M194.4 391.3l-.3 .1M212.3 382.1l-.4 0M188 366l.1 0M225.4 394.9l.1 .1M224.2 361.6l.2 0M185.6 382.3l-.3 .3M238.1 374.4l-.1 .3M257.8 380.4l.1 .1M192.9 388.7l-.3 .3M253 402.2l-.1 .1M256.8 368.6l-.2 .2M208.8 389.8l0 .1M245.5 411.1l.1 .1M195.7 368.9l.1 0"/>
<path stroke="#5070b2" stroke-opacity="0.85" stroke-width="2.4" d="M219.8 369.6l-.1 .2M245.5 377.1l-.3 .1M241.8 391l-.3 .3M252.6 393.1l-.2 0M204.3 399.2l.3 .2M253 389.4l0 0M244 389.9l-.2 .2M224.7 393.9l0 0M258.2 362.7l.4 .1M255.1 371.7l.1 .4M196.7 365.9l-.6 .1M249.1 392l.2 .1M200.6 379.9l0 .1M200.9 381.9l-.2 .5M229.7 367.9l.5 0M206.8 412.5l-.1 .2M247.5 388.3l.1 0M217.9 372.4l0 0M223.4 414.7l-.1 .1M246.6 363.1l0 0M209.4 401.7l0 0M213.3 371.5l.4 .1M237.4 368.1l0 .4M244.7 410.2l0 0M222.1 386l.3 .3M252.1 383.1l-.4 .1M209.3 406.9l.6 0M189 402.3l.4 .1M191.2 374.6l-.3 .3M200.5 402.6l-.1 .4M224.7 392.1l.6 .1M239.1 387.7l.4 .1M242.3 388.8l.1 .4M235.8 362.4l-.6 .1M249.2 416.1l.2 .2M255.1 369.5l.1 .1M203.1 364.6l.1 .1M200 413.4l.1 .3M215.3 384.9l-.2 .4M200.2 406.4l.4 .5M208.9 371l0 0M235.4 404.1l-.3 .1M200.8 389.9l.1 .1M224.1 408.3l.5 .2M223.3 360.1l-.4 .4M232.4 407.1l.5 .1M210.6 366.8l-.1 .5M247.1 412.6l0 0M229.2 414.6l0 .6M230.9 365.9l0 .1M193.1 404.4l.2 .3M244.2 380.4l.3 0M204.3 378.1l-.2 .5M207 364.6l0 0M198.1 376l-.1 0M225.2 414.2l-.1 .1M189.4 377.6l.4 .2M198.6 407.1l0 .2M243.8 378.7l0 .2M235.2 396.2l-.5 .2M255.7 389l-.3 .4M228.3 411.7l.1 .2M253.4 386.6l.2 .1M206.4 407.1l-.5 .1M222.9 411.6l.3 .1M210.2 394l-.1 0M255.4 378l.4 .1M201 396.3l0 .1M258.6 391.6l.1 .1M204.7 413.9l-.1 .6M252.6 375.4l-.1 .1M259 382.1l-.3 .3M213.6 371.7l.2 .5M232.1 379.9l.4 .2M230.8 384.8l.2 .5M225.9 410.8l.5 .4M192 372.2l-.4 .2M244.5 377.5l0 .3M187 401.9l.6 .1M237.9 389.3l.3 0M192.8 379l.1 .2M205.2 402.6l0 0M188.5 367.5l.1 .4M245.5 383.3l.3 .1M194.1 402l.1 .1M189 378.4l-.1 .2M241.3 388.9l.1 .2M203.3 398l0 0M240.5 363.4l-.1 .2M201.4 413l.1 .1M240.1 371.6l-.5 .3M240.1 408.8l0 0M223 361.5l.3 .4M249.7 393.6l-.1 0M221.6 399.4l.1 .1M186.3 382.8l-.2 .3M242.9 398.8l.1 .1M203.6 362l.1 0M242.4 360.6l.1 .2M198.1 415.5l0 0M244 393.1l0 .4M218.6 396.2l-.3 .1M234.7 384.7l.4 .2M198.1 403.5l.1 .3M229.3 363.6l.3 .2M223.5 362.4l-.4 .4M236 369.5l-.2 .5M195.9 368.7l.1 .2M189.8 392.2l0 .2M255.1 415.4l.4 .2M227.6 410.4l.3 .3M239.7 380.3l.1 .2M209.7 406.4l-.5 .1M224.1 361.5l.1 .1M252.1 364l-.1 .3M206.3 368.2l0 .3M256 381.1l-.4 .4M243.3 361.9l0 0M250.1 402.8l-.3 0M187.5 387.5l.3 .5M255.7 393.5l-.1 .3M221.6 362.6l.2 .2M237.7 379.9l0 .3M228.5 411.9l.1 0M198.3 365.9l-.1 .2M208.5 400.6l-.1 .3M238.1 408.4l-.3 .2M250 388.8l-.1 .3M188.8 362.9l-.5 .3M207.8 380.1l-.1 0M191 410.9l.2 .5M234 385.9l-.1 0M258.6 363.3l-.1 .5M199.6 360.8l0 .1M209.5 360.6l-.5 .2M254.1 379.6l.1 .4M192.2 416.7l0 0M211.8 381.9l.1 .1M245.4 399.4l.1 0M213 393l.1 .2M196.2 377l.3 .5M227.5 387.8l-.3 .3M203.9 400.1l-.2 0M236.6 374.3l-.1 0M239.4 391.7l.3 .4M232.5 359.8l.1 .4M220.3 414.2l.1 .5M247 374.5l.1 0M226.9 393.4l.4 .2M208.3 363.9l.1 0M231.7 368.4l0 .3M253.8 400l.4 .3M242 408.5l.2 .4M196.1 400l-.3 .1M216 399.8l0 .1M187.2 394.1l-.6 .1M193.1 407.9l-.2 .5M212.6 384.8l0 .3M197 384.9l-.4 0M187.6 387.9l.4 .1M192.7 375l-.4 .2M218.7 390.3l.4 .4M207.8 366.8l-.1 .1M232.5 388.5l-.1 .5M255.1 369.7l-.3 .3M235.7 401.1l.2 .1M200.8 388.6l-.5 .2M225.9 398.8l0 .1M206.9 378.6l0 0M198.4 400.8l-.5 .2M237.1 377.7l.1 .1M216.5 387.2l-.1 .1M211.1 406.5l.2 .5M197.8 361.9l-.1 .1M250.7 361.8l-.2 .3M190.6 378.3l.2 .3M202.6 400.6l-.1 .3M190.3 362.1l.1 .5M225.4 388.6l.2 .4M231.2 402.1l-.3 .2M186.1 385.7l.2 .3M211.7 365l0 .3M257.9 397.4l-.3 0M250.3 416.1l.3 .4M196.1 360.8l.2 .3M188.3 403.7l.2 0M236.1 366.6l-.3 0M237.3 373.7l.4 0M230 399.3l.4 .4M187 408.1l.1 .1M231.6 375.6l0 0M193.6 362.8l-.4 .2M220.8 407.3l.5 0M232.1 386.7l.1 0M210.3 360.5l-.1 .1M247.9 415.8l.1 .5M237.1 387.6l-.3 .4M186.8 390.8l-.2 0M244.6 394.8l-.1 .5M198.5 360.6l-.2 .2M214 370.5l.1 .3M203 364l0 0M251.1 370l0 .1M234.6 405.9l-.1 0M258.2 383.4l.1 .2M190.6 409.5l.2 .4M200.8 410.4l0 0M219.2 386.2l0 .2M244.9 386.9l-.2 .1M225.4 395.2l.5 .2M224.4 383.9l-.2 .1M254.3 370.8l0 0M257.2 412.8l.2 .1M205 382.4l-.2 .5M234.4 392.5l.2 .1M245.2 406.1l0 0M240.1 397.4l0 0M257.1 408.4l-.1 .1M185.4 402.4l.2 .2M253.4 398.5l.3 .3M188.3 377.7l0 0M233.3 365.1l-.4 .4M233.8 402.4l0 .2M193.4 361l-.4 .1M224.3 378.7l-.3 .4M256.7 409.5l.4 .1M215.1 402.9l0 0M223.5 403.2l-.3 .1M210.1 362l-.3 .4M185.4 378l0 0"/>
<path stroke="#34498e" stroke-opacity="0.9" stroke-width="1.37" d="M245.9 395.8l-.2 .2M188 389.5l-.1 .2M256.2 414.8l.1 .1M189 394.2l.2 0M201 366.3l.1 0M210.9 397.6l-.2 0M187.8 362.3l-.2 .1M201.8 408.4l0 0M229.6 405.3l.1 .3M203.7 401.5l-.1 0M214.7 375.1l0 .2M255.6 383l-.2 .1M230.8 361.5l.3 .2M203.5 392.5l0 0M216.2 394.7l-.1 .2M243.7 391.5l.1 .2M251.2 412.9l.2 .2M248.9 369.8l0 .1M192.6 412l0 .3M215.5 413.3l.3 0M199.9 412.8l.2 .2M202.8 369.5l0 .1M233.3 404l-.2 .2M192.4 396.1l-.1 .2M198.5 367.1l-.1 .1M257.2 416.8l0 0M214.1 411.7l-.1 .2M228.3 399.5l0 0M247.9 402.6l0 0M186.3 367.6l-.2 .1M258.7 385.6l-.2 .1M223.5 413.9l-.3 .1M239 405.6l-.1 .3M194.3 389l-.3 .2M228.4 384.2l0 0M223.4 372.6l-.1 .3M196.2 381.1l0 0M202 363.3l.1 .2M224.6 414.7l-.2 .3M256.6 395.1l-.3 0M214 391.8l0 .1M203.6 412.1l0 0M197.8 376.7l0 .1M245.5 396.4l-.3 .1M234.4 402.1l0 0M244.5 363.4l-.1 0M206.3 378.8l0 .2M229.5 371.4l.2 0M215.9 360.5l.1 .3M258 388.6l0 .1M205 413.4l0 0M215.4 380.1l0 0M250.4 366.9l-.1 0M221.7 401.8l-.1 .1M259.7 409.6l-.3 .2M239.8 403.5l0 .1M226.2 404.2l-.1 .1M212 388.2l0 .1M240.3 400.9l0 0M204.1 389.7l.2 0M188.9 411.4l0 0M259.2 406.9l0 .1M228.9 387.9l-.1 0M197.3 401.9l-.2 .1M224.8 412.3l.2 .1M220.4 375.4l0 .1M221.2 400.6l-.3 .1M218.1 377.3l0 0M249.4 399.8l0 .1M239.4 380.1l-.1 .1M192.7 404.4l0 .1M239.8 374.9l.2 .1M211 389l.1 .1M242.9 370.1l.1 .1M217 394.7l0 .3M247.2 375.5l0 0M233.1 385.9l0 .1M186.5 405.4l.1 .2M227.8 409.7l-.3 0M197.9 404.1l.1 .1M231.1 396.1l-.2 0M228.7 377.3l-.1 0M195.2 416l-.1 .2M231.4 375.3l0 .1M258.2 409.9l0 .2M235.9 372.9l-.1 .3M242.2 374.6l.3 .1M206.5 363l0 0M255.7 382.5l.1 .3M233.3 372.8l0 .1M197.4 366.5l.1 .3M242.4 361.9l-.3 .1M189.1 393.4l-.1 .1M258.1 388.9l0 0M197.9 388.4l-.3 .1M219 413.8l0 0M200.8 382.2l.2 .1M241.4 370.9l0 0M193.9 390.9l.1 .1M220.1 381.1l.1 .1M197.8 384.5l-.2 .1M195.5 376.6l0 .2M227.4 393l.1 .1M201.1 367.3l-.1 .1M238.5 405.3l.1 0M241.2 394.1l-.1 .1M205.8 362.6l-.2 .1M244.6 389.4l-.1 .1M236.9 382.6l-.1 0M256.1 416.3l-.1 .3M236.2 379.7l0 0M232.8 385.7l0 .2M230.6 398.7l-.1 .2M249.7 396l.3 0M236.5 401.6l.2 0M196 406.2l0 .2M201.1 365.4l-.1 .1M187.2 409.2l.2 0M191.8 387.9l-.2 .1M214.8 390.5l-.2 0M234.3 376.2l-.1 0M216.2 362.9l-.1 0M254.7 382l0 .2M208.1 395.6l0 .1M218.8 410.9l.1 0M242.1 378.1l.1 .3M223.2 375.4l.3 .1M241.2 370.8l-.2 0M254.2 408.5l0 .1M217 392.1l-.1 .1M196.3 395.4l0 .2M223.5 362.6l.1 .2M219.5 362.4l.1 0M235.7 379.3l0 0M208.1 403.9l0 0M210.1 400.2l0 .1M186.7 382.1l0 0M185 393.1l.2 .2M258.9 381.8l-.1 0M187.5 409.6l-.3 .2M236.9 389.6l-.1 0M209 392.4l.1 .2M201.2 391.2l0 .2M240.9 395.2l-.1 .3M204.9 402.6l-.1 0M235.7 374.9l.2 .1M211.4 386.4l-.1 .2M209.4 396.2l-.2 .1M206.7 412.9l-.2 .2M256.3 414.5l.1 .1M204 404.2l-.3 0M193.6 373.9l0 .1M247.5 373.5l0 .1"/>
<path stroke="#34498e" stroke-opacity="0.9" stroke-width="1.7" d="M190.9 389.8l0 0M230.4 410.9l.3 0M244.8 394.8l0 0M193.5 393.2l-.2 .1M222.4 408.1l.2 .4M252 365.5l.1 .2M255.1 402.8l0 0M244.4 367.5l0 .3M231.3 392.9l0 0M187.5 363.2l.4 .1M198.2 371.4l-.4 .1M204.1 390.7l.1 .1M213.3 405.7l.1 .1M229.9 374.8l.1 0M213.2 367.8l.2 .2M189.6 400l0 .1M244.3 391.8l0 .1M191.8 366.1l.3 .1M248.1 371.4l.1 .2M191.5 366.7l0 0M245.8 393.6l-.1 .1M255.8 394.4l0 0M205.3 392.7l.1 .3M258.4 382.6l-.1 .2M235.6 400.3l.1 .1M236.8 366.9l0 .1M232.2 380.4l-.2 .1M213.6 372.9l-.2 .2M197.8 403l-.3 .2M189.9 400.4l-.1 .2M255.9 408.5l.2 0M228.8 414l-.3 .2M233 391.8l0 0M200.5 404.5l0 .1M198.3 389.5l0 0M190 361.1l.1 .1M209.5 386.2l0 .4M236.4 405.7l0 .1M232.2 407.9l-.1 0M246.9 364.6l-.1 0M218.5 363.9l-.1 0M196.3 366.8l0 .4M220.3 387.3l0 0M223 381.2l0 .3M206 381.4l-.2 .1M245.9 363.7l0 0M242.9 405l.2 .1M252.5 401.1l-.4 .1M254 365.9l0 .1M194.2 400.4l0 0M212.6 413.1l0 0M204 415.4l.1 .2M231.9 401.2l0 .2M240.1 379.2l0 .3M257.9 381.2l-.1 0M239.5 393.1l-.2 .1M221.9 414.4l-.2 0M219.1 369.8l.3 .3M208.8 397.3l0 .1M193.6 384.7l0 .3M213.2 392.4l0 .1M200.2 397l.1 .3M186.1 395.3l0 .1M218.1 407.5l0 .1M217.7 364.2l-.1 .1M258.2 400.4l.2 .1M231.8 403.4l-.1 .2M246.2 414.1l-.1 0M256.7 388.1l-.1 .2M247.7 385.2l.4 0M231.7 409.4l0 0M225 379l.1 0M210.7 384.1l-.1 .1M219.5 378.4l0 0M211.5 375.6l.1 0M224.1 400.4l.2 .1M195.5 385.6l0 .3M245.2 390.3l0 .2M241.1 375.7l-.3 .3M227.5 408l.1 .2M187.4 389.5l-.1 .1M193.8 397l0 0M231.5 382.2l.2 .3M201.7 369.7l.1 .3M219.5 412.6l-.1 .2M208.6 395.2l.2 0M245.1 379.8l-.1 0M199 416.1l-.1 0M237.2 364.7l.1 .1M257.6 377.3l0 .1M205 393.3l0 .1M230.2 399.5l-.3 .2M252.5 401.2l.1 .1M257.1 382.5l-.2 .2M259.1 377l-.3 .2M202.6 379.8l-.4 .1M251.3 368.8l-.1 .1M218 375.8l.2 .2M206.2 403.6l0 .1M206.9 412.1l-.2 .1M217.2 380.2l.2 .1M256.4 416.7l-.1 .1M244.3 390.1l-.1 .3M235 363.7l0 0M250.1 379.9l.2 .2M232.3 395l0 .2M207.3 360.9l-.3 .2M236.8 408.7l.2 .3M220.6 408.2l0 0M250.8 379.2l0 .3M222.8 387.3l.3 .1M229.7 367l-.1 .3M190.1 375.5l0 0M247 371.4l-.2 .1M221.5 369.5l-.4 .2M195.7 402.8l.3 .3"/>
<path stroke="#34498e" stroke-opacity="0.9" stroke-width="2.03" d="M211.1 410.2l-.1 0M212.2 416.5l-.1 .3M208.8 383.6l0 0M217.3 372l.1 .3M246.6 378l0 .1M202.1 373.9l.1 0M189.7 399.2l-.1 0M201.4 414.1l.3 .4M249.6 390.3l.1 .2M240.1 372.3l.1 .3M223.7 387.4l0 0M238.6 384.9l.3 .1M195.3 366.5l-.1 0M191.4 413.5l-.4 .2M238.1 385l0 .1M258.7 409.1l0 .1M240.4 413.3l.4 .3M221.8 395.1l-.1 .2M234.5 406.8l0 .1M227.8 382.1l.1 .1M241.4 384.5l.2 .1M256.2 416.5l.3 0M207.7 370.6l0 0M201.3 379.4l.2 .1M192.9 368.1l0 .2M208.4 407.7l-.1 .3M250.3 390.5l.1 .1M233.4 402.8l-.2 .3M240.6 383.2l0 .4M206.7 414.8l-.4 .1M257.5 370.1l-.5 .1M201.4 389.6l-.2 .4M207.6 377.9l0 0M239.7 405.6l0 0M202 390l-.3 .2M212.7 391.8l-.2 .1M216.2 397.2l0 0M204.1 386l-.3 .1M232.4 416.4l.1 .3M213.8 390.9l.3 .1M235.9 378.9l-.1 0M191.1 387.5l-.1 .2M246.5 416.8l0 0M240.8 392l0 .1M247.6 400.8l-.2 .2M242.3 401.4l.2 0M206.2 389.1l0 .1M236.3 395.5l0 0M251.7 415.7l-.1 .4M189 362l-.3 .4M238.9 365.9l.1 .4M257.9 360.2l.1 .3M233.9 396.7l0 .1M204.5 396.1l0 0M215.9 397.3l-.2 .1M186.7 370.7l.2 .3M190.2 374.1l0 0M187.7 400.3l.3 .3M236 372.4l-.1 .3M245.1 414.5l-.5 .1M197.6 376.3l-.1 0M204.2 410.2l0 .1M253.3 367.1l-.1 .1M218.6 374.9l.2 .1M201.2 371.7l-.3 0M252 416.6l-.2 .3M206 380.7l.5 .1M202.5 385.5l.4 .2M243.2 395.2l0 .2M256.1 414l.2 .5M235.9 393.7l0 .1M234.1 386.8l-.2 .4M210.1 386.4l-.5 0M204 363.1l.2 .2M202.4 411.8l-.2 0M229.4 360.7l-.4 .2M212 390l.2 .1M237.6 378.1l-.1 .3M188.1 382.6l-.3 .3M201.1 378.9l0 .2M196.2 406l0 .2M255.3 400.1l0 0M259.3 385.9l0 .1M245.9 400.3l.5 .1M196.2 366.2l0 .1M224.5 396.1l-.1 .1M248 396.8l.5 .1M230 401.9l.3 .2M258.4 387.5l.1 .4M217.8 409.9l-.1 0M202.4 378.4l.2 0M235.7 378.8l0 0M236.1 394.4l0 0M212.3 403.5l.1 0M246.1 412.2l0 0M246.8 361.1l0 .5M244.3 383.1l.1 0M217.4 397.9l.4 0M249.9 390.2l-.1 .2M200.2 414.6l-.1 .2M189.6 370.3l-.1 .1M218 397.4l.3 0M257.2 383.3l.1 .2M195.4 379.1l-.1 .4M249.7 383.4l.1 .4M210.1 386.9l0 .1M227.7 398.2l.1 .3M190.3 401.2l0 .1M202.7 379.6l.3 .1M235 363.1l-.1 .1M229.5 386.7l0 .2"/>
</g>
<ellipse cx="199" cy="409" rx="3" ry="4" fill="#f4f4f8" fill-opacity="0.9" filter="url(#hb)"/>
<ellipse cx="237" cy="369" rx="3" ry="2.5" fill="#f4f4f8" fill-opacity="0.8" filter="url(#hb)"/>
<ellipse cx="248" cy="393" rx="2.5" ry="2.5" fill="#f2f2f6" fill-opacity="0.8" filter="url(#hb)"/>
<ellipse cx="196" cy="381" rx="2.5" ry="2" fill="#f2f2f6" fill-opacity="0.7" filter="url(#hb)"/>
</g>
<g clip-path="url(#c13)">
<rect x="260.8" y="361.9" width="70.7" height="53.1" fill="#d4c2da"/>
<g filter="url(#hb)" stroke-linecap="round" fill="none">
<path stroke="#d8a8c4" stroke-opacity="0.7" stroke-width="3.93" d="M319.1 360l.3 .6M282.9 403.8l.2 0M282.5 374.7l-.2 .9M293.1 374.7l-.1 .7M333.7 388.8l-.7 .3M329.2 398.4l-.1 .7M278.6 396.4l.3 .1M304.5 368.5l-.4 .3"/>
<path stroke="#d8a8c4" stroke-opacity="0.7" stroke-width="4.6" d="M306.4 361.3l.3 .1M312.3 399.8l-.1 .2M270.4 414.5l0 .1M285.9 379.2l-.6 .7M298.8 415.4l.1 .1M306 410.2l-.4 .5M262.7 372.7l-1 .5M323.4 381.3l.3 .7M286.7 371.5l-.4 .7M312.6 372l-.4 .1M298.2 359.8l.5 .2M285.8 416.1l.2 .2"/>
<path stroke="#d8a8c4" stroke-opacity="0.7" stroke-width="5.27" d="M266.4 402.1l0 .1M261.1 372l-.2 .8M263.7 395.9l.8 .5M286.8 416.1l.7 .6M314.4 384.2l.4 .3M269.9 369l.5 .1M287.3 416.6l-.1 .3M259 401l0 .3M272.2 411.8l-.2 .4M300.9 364.3l.6 .1"/>
<path stroke="#a0acd6" stroke-opacity="0.9" stroke-width="4.94" d="M314.7 402.5l-.3 .1M300 393.1l0 0M321.6 365.6l0 .1M323.4 392.4l-.3 .2M265 400.5l.1 .1M280.6 375.1l-.2 .1M331.7 406.2l-.4 .2M275.9 383.2l.1 0M271.8 377.5l0 .3M303 397.7l-.2 0M279.5 411.2l.2 .4M303.7 399.9l-.3 .2M327.7 398.5l-.3 .1M269.6 378.1l.4 .3M272.1 404.4l.5 0M322.5 407.5l-.1 0M308.5 381.2l-.5 .1M282.7 404.7l0 0M271.1 398.3l.3 .3M293.7 391.4l-.2 .1M299.3 393.8l.2 .2M328.2 373.6l-.2 .4M274.9 362.9l0 .1M318.9 413.1l-.3 .1M287.3 411.9l0 0M298.4 396.9l.1 .2M312.3 376.1l.4 .1M311.1 385.7l0 0M292.9 378.2l.1 0M314.6 371.6l.3 .3M303 413.9l.1 .1M269.8 364.2l-.2 .2M278.6 407.4l.1 .4M321.8 365.5l-.4 .3M303.8 374.6l.2 0M320.1 367.8l.3 .2M325.8 388.7l.3 .4M326.8 388.8l.1 .1M267.8 410.1l.1 .4M267.8 395.5l-.1 .2M281.1 390.8l.1 .2M324.6 402.9l.1 .3M263.7 403.7l-.2 .2M313.8 371.1l-.4 .2M294.1 365.7l-.3 .3M282.2 383.6l0 0M290.5 401.1l-.2 .4M264.2 379.5l.3 .3M302.2 405l.2 .1M321.6 369.5l-.2 .2M270 380.9l.3 0M290.7 367.9l-.2 .2M296.6 412l-.4 .1M267.7 401l-.1 .3M281 378.4l.2 .2M319.5 376.1l-.1 .1M327.4 393.5l-.1 .1M330.3 364.8l.1 .1M289.5 413l-.2 .4M267 406.6l.1 .2M313.5 373.6l0 0M321.9 395.1l0 .2M302.6 380.5l0 .2M266.2 407.6l0 .3M296.7 371.1l-.4 0M306.5 365.3l.1 .3M329 393.8l0 .2M306.4 379.3l-.3 .2M284.9 402.6l.1 .1M270.1 381.9l-.1 .1M297.9 413.1l.4 .2M322.6 391.2l0 .4M292.7 380.4l.1 .2M290.6 403.1l.2 0M305.7 405l-.4 .1M278.8 401.9l-.1 .1"/>
<path stroke="#a0acd6" stroke-opacity="0.9" stroke-width="5.46" d="M291 384.3l.5 .1M311.5 374.5l0 .1M268.1 408.5l.1 0M316.2 408.6l-.4 .4M280.7 395.9l-.4 .2M270 384.2l-.4 .1M299.6 361.9l-.1 .1M303 412.2l-.2 .3M280.3 403.1l.2 .3M275.9 383.8l.1 .3M327.7 377.7l-.5 .1M273.6 375.7l.1 .1M313.9 405.8l0 .5M293.7 375.5l0 .1M293.7 394.2l0 .2M286 375.4l-.3 .4M321.4 414.4l.3 .1M314.6 395l.3 .2M309.5 398.9l0 .3M291.3 379l0 0M297.5 385.3l0 .1M267.2 380.3l.2 .1M295.9 396.8l-.1 .5M283.9 413.3l-.4 .3M275.3 391l-.2 .2M310.5 383.8l.4 .4M283.4 386.9l-.1 .2M293.9 413.2l.1 .3M308.6 390.2l-.3 .1M317 377.4l.2 .2M271 386.3l-.1 .2M290.8 375.1l0 .1M279.9 370.4l.3 .5M317.7 381.3l0 0M277.5 390.3l-.1 .2M329.2 412.3l0 0M306.2 363.3l.1 .5M292 409.6l.4 .1M323.7 383.8l-.2 .2M268.4 406.8l0 .1M313.4 373.3l.2 .1M300.3 397.4l0 0M316.8 409.2l-.1 .5M296.3 412.7l-.1 0M286.5 410.5l.1 .2M329.2 399l0 .1M297.9 396.2l.3 0M311.6 364.1l.3 .3M266.8 373.7l-.5 .3M270.3 377l.4 .2M261.1 366.1l.1 .1M292.9 367.8l.4 0M322.3 364l.4 .4M316.7 408.7l0 .5M280.3 404.2l-.4 .4"/>
<path stroke="#a0acd6" stroke-opacity="0.9" stroke-width="5.98" d="M303.8 412.9l-.3 .4M308.2 381.6l.2 .2M316.6 377l-.6 0M302.2 388.6l-.1 0M263.6 366.1l0 .4M327.3 362.4l-.6 0M310.6 394.2l-.2 .3M324.9 364.5l.2 .2M305.9 375.7l-.2 .2M326.4 404.3l.3 .4M322.4 373.7l.1 .1M322.6 375.5l.4 .5M312 378.4l.6 .2M264 384.8l-.1 .6M269.6 409.6l.1 .2M292.2 397.7l-.3 .1M266.6 389.2l.4 .1M266.1 383.8l-.2 .3M299.5 409.3l.1 .5M280 378.9l0 0M324.8 392.9l0 0M308.1 404.2l0 .1M262.5 382.8l.4 .1M315.6 406.9l-.4 .3M268.2 412.6l.1 .6M297.7 396.2l-.1 .5M327.9 366.3l0 .3M302 387l-.2 0M295.5 408.2l0 .2M264.3 369.7l.6 .2M290.2 393.5l0 .1M260.8 385.8l.3 0M326.7 384.4l.1 .1M265.1 403.8l-.1 .5M302.4 362.7l-.1 .5M293.5 364.7l-.2 .2M295.3 369.7l.2 .3M326.7 408l.1 .1M295.7 363.6l.3 .5M304.8 374.4l-.6 0M273.6 370.9l-.2 .5M301.3 392.4l-.2 0M301.1 398.2l-.6 .2M308.5 400.1l.4 .2M308 392.8l.6 .2M323.2 391.7l.1 0M327.2 376.6l0 .2M268 398l-.3 .5M299.5 379l0 .3M310.5 406.9l-.1 .6M278.5 412.5l.6 .1M269.4 380.4l.1 .6M300.5 402.5l-.2 .4M273.5 369.5l.2 .1M292 384.3l.2 .2M291.2 376.8l0 .4M283.9 362.3l.3 .1M325.9 407.5l.1 .3M315.5 380.4l.4 .4M303.4 402.3l0 0M300.7 392.4l-.1 .6M267.7 402.8l.6 .1M313.8 385.7l-.2 0M274.5 397.6l.1 .6M272.1 385.7l0 .1M271 384.6l-.1 .2M297.9 380.9l-.3 .2M285.2 400.8l0 .1M285.8 379.8l-.1 .1"/>
<path stroke="#4a62a4" stroke-opacity="0.85" stroke-width="2.51" d="M314.3 402.6l-.3 0M299.7 393.6l0 0M321.6 365.9l0 .1M323 391.9l-.3 .2M265 400.4l.1 .1M280.6 374.6l-.2 .1M331.2 406.2l-.4 .2M275.8 383.7l.1 0M272 377l0 .2M303 397.8l-.2 0M279.1 411.7l.1 .3M303.7 399.7l-.3 .1M327.8 398.1l-.2 .1M269.4 377.7l.3 .2M272.4 404.2l.4 0M322.3 407.8l-.1 0M308.5 381.4l-.4 .1M282.7 405.1l0 0M271.5 398.5l.3 .2M293.9 392l-.2 .1M299.3 393.7l.1 .2M328.5 374.2l-.2 .3M274.5 363.4l0 .1M318.9 413.6l-.2 .1M287.5 411.4l0 0M298.8 397.3l.1 .2M312.7 375.8l.3 .1M311.3 385.5l0 0M292.4 378.2l0 0M314.7 371.9l.2 .2M302.7 414.1l.1 .1M269.4 364.6l-.1 .2M278.1 407.6l.1 .3M321.9 365.7l-.3 .2M303.7 374.3l.1 0M320.7 367.6l.2 .1M326.2 388.7l.2 .3M326.9 389.4l.1 .1M268 409.7l.1 .3M268.3 395l-.1 .2M281.2 391l.1 .2M324.7 403.1l.1 .2M263.2 403.4l-.2 .2M313.6 371.2l-.3 .1M294.6 366.3l-.2 .3M282.7 383.1l0 0M290.9 401.3l-.2 .3M264.6 379.6l.3 .2M302.7 404.5l.1 .1M321.1 369.9l-.2 .1M269.7 380.5l.3 0M290.7 367.4l-.2 .1M296.8 411.8l-.3 .1M267.7 400.8l-.1 .2M281.2 378.1l.2 .2M320 375.9l-.1 .1M326.9 393.1l0 0M329.9 364.5l.1 .1M289.9 413.5l-.1 .3M266.5 407.1l.1 .2M313.6 373.3l0 0M322 395.4l0 .2M302.1 380.9l0 .1M266.2 407.7l0 .3M296.6 371.2l-.3 0M306.2 365.7l.1 .2M328.6 393.7l0 .1M306.7 379.5l-.2 .1M284.4 403l.1 0M270.2 382.3l0 .1M297.7 413.3l.3 .1M322.2 390.7l0 .3M292.5 380.2l.1 .2M290.6 403.4l.1 0M305.1 404.6l-.3 .1M278.2 402.1l-.1 .1"/>
<path stroke="#4a62a4" stroke-opacity="0.85" stroke-width="2.77" d="M291.3 384.5l.4 .1M311.4 375.1l0 .1M268.2 408.2l.1 0M316.7 408.4l-.3 .3M280.5 395.3l-.3 .2M270.1 383.9l-.3 .1M299.7 361.7l-.1 .1M303 412.7l-.2 .2M279.8 402.8l.2 .2M275.5 383.7l.1 .2M327.5 378l-.4 .1M274 375.5l.1 .1M314.3 405.3l0 .4M294 375l0 .1M293.4 394.2l0 .2M285.7 374.8l-.2 .3M322.1 413.9l.3 .1M314.2 394.5l.3 .1M309 398.4l0 .2M291.6 379.5l0 0M297.7 385.3l0 .1M266.8 380.2l.1 0M295.8 396.7l-.1 .4M283.2 413.8l-.3 .2M274.8 391.6l-.1 .2M310.6 383.7l.3 .3M283.7 387.5l-.1 .2M293.4 413l.1 .3M308.6 390.2l-.3 .1M316.9 377.6l.1 .1M271.5 386.2l-.1 .2M290.8 374.8l0 .1M280.4 370.8l.3 .4M317.6 381.5l0 0M277.8 390.9l-.1 .2M329.4 412.9l0 0M305.7 363.6l.1 .4M291.7 409.8l.3 .1M323.4 383.6l-.1 .1M268.1 406.7l0 0M313.2 373.1l.2 .1M299.7 396.8l0 0M316.4 409.4l-.1 .4M296.1 413l0 0M286.6 410.9l.1 .2M328.7 399l0 0M297.7 396.8l.2 0M311.6 363.8l.2 .2M267 374.1l-.4 .2M270.6 377l.3 .1M261.7 366.2l.1 0M293 367.5l.3 0M321.8 364.4l.3 .3M317.4 408.8l0 .4M280.8 404.1l-.3 .3"/>
<path stroke="#4a62a4" stroke-opacity="0.85" stroke-width="3.04" d="M304.1 412.8l-.2 .3M307.6 381l.2 .2M316.6 377.3l-.5 0M301.6 388.2l-.1 0M264.2 365.7l0 .3M326.6 362l-.5 0M310.7 394.9l-.1 .2M324.3 364.9l.1 .2M306 375.2l-.1 .2M326.9 403.8l.3 .3M322.9 374.3l.1 .1M322.1 375.5l.3 .4M312.6 378l.5 .2M264.3 385.2l-.1 .5M269.5 409.3l0 .2M292.6 397.3l-.2 .1M267.3 388.9l.3 .1M265.9 383.7l-.2 .2M299.8 409.8l.1 .4M279.8 378.4l0 0M324.9 392.9l0 0M307.6 404.4l0 .1M262.4 383.3l.3 .1M315.7 406.3l-.3 .2M267.8 412.2l.1 .5M297.7 396.1l0 .4M327.5 366.3l0 .2M302.1 386.8l-.2 0M295.3 408.8l0 .1M264 369.8l.5 .1M290.2 393.4l0 .1M260.6 385.5l.2 0M326.4 384l.1 .1M264.8 403.3l-.1 .4M302.7 362.3l-.1 .4M293.7 365.1l-.1 .1M295.7 369.5l.1 .2M327.2 407.9l0 .1M295.1 364.1l.3 .4M305 374.3l-.5 0M273.3 371.6l-.2 .4M301.5 392.1l-.2 0M301.4 398.7l-.5 .1M308 400.3l.3 .1M307.7 392.2l.5 .2M323.7 392.3l.1 0M327.8 377.2l0 .2M267.3 397.8l-.2 .4M299.7 378.5l0 .3M311 406.9l-.1 .4M279 411.9l.5 .1M270 379.8l.1 .5M299.9 403.1l-.1 .3M273.7 368.8l.2 .1M292.4 383.8l.1 .2M290.9 376.4l0 .3M283.9 361.9l.2 .1M326.1 407.3l.1 .2M315 380l.3 .3M303.6 402.2l0 0M300.9 392.6l-.1 .5M267.5 403.2l.5 .1M314.2 386.3l-.1 0M274.2 397.5l.1 .5M272.7 385.3l0 .1M270.5 384.8l0 .2M297.9 380.3l-.2 .2M285.5 400.3l0 .1M285.7 380.1l-.1 .1"/>
</g>
<ellipse cx="307" cy="398" rx="5" ry="4.5" fill="#f6f6f8" fill-opacity="1" filter="url(#hb)"/>
</g>
<g clip-path="url(#c14)">
<rect x="334" y="361.9" width="71.4" height="53.1" fill="#c898c2"/>
<g filter="url(#hb)" stroke-linecap="round" fill="none">
<path stroke="#dcb0cc" stroke-opacity="0.7" stroke-width="2.33" d="M334.8 399.4l.2 .5M361.6 363l.2 .4M405.6 375.4l.2 0M336.7 413.7l-.2 .1M404.9 394.2l-.1 .2M372.3 385.2l.1 0M391.9 407.2l-.4 0M361.3 400.5l-.4 .2M360.9 416.4l0 0M369.9 388.6l.2 .2M341.7 403.5l.1 0M372.7 368.5l.1 0M393.9 394.4l-.3 .2M407.2 383.7l0 .2M348 405.1l-.2 0M354.8 367.3l.1 .1M367.5 396.9l0 0M368.2 364.1l.3 .2M399.2 407.6l0 0M338.2 410.8l.3 .2M390.4 362.1l.1 0M361.9 370.4l.2 .3M394.9 387.5l-.3 .2M365 411.4l.4 .2M365.5 386.2l0 0M333 389.7l-.4 .2M401.8 406.1l-.2 .1M387.1 361.5l0 0M369.9 370.4l.1 .3M362.2 412.8l.4 0M374.6 388.5l0 0M394 380.3l0 .2M395.1 399.7l.1 .1M346 396.8l-.4 .2M334.4 382.7l.1 .1M338.9 414.9l.2 .4M363.6 392.2l-.2 .4M345.4 391l-.1 .2M379.9 385.1l.2 .4M354.8 366l.1 .3M348.3 385.9l0 .1M371.7 365.1l-.3 0M376 374.8l.2 .3"/>
<path stroke="#dcb0cc" stroke-opacity="0.7" stroke-width="3" d="M339.2 389.1l0 .1M336.9 408l-.6 .2M399.5 401.5l.5 .1M400.2 410.4l0 .1M351.8 402.8l-.6 .3M362.7 405.5l.2 .1M349.5 377l.1 .1M348.5 392.2l0 .1M333.1 381.3l0 .2M352.5 399.6l-.5 .4M368.4 379.2l-.1 .1M367.8 396.3l.1 .4M386.7 415.5l-.5 .5M352.1 367.7l.1 .2M391.2 399.7l-.2 .1M364.9 388.5l0 .1M345.9 360.3l.2 0M356.5 366.9l0 0M405.5 373.7l.1 0M356.1 375.9l.1 .4M351.1 413.9l0 0M334.4 413.5l.1 .2M356.9 392.1l0 .7M362.8 415.2l-.2 .1M378.9 389l-.5 .2M377 384.9l.3 .3M379.9 391.5l-.3 .4M341.7 416.1l.4 .6M359.3 364.4l-.3 .3M343.5 387.6l.3 0M365.4 396.2l.1 .2M356.8 395.8l-.2 .1M353.4 413.2l.5 .2M335 376.4l.2 0M406.1 373.8l.1 .6M374 396.7l-.5 .1M399.2 371.7l0 .2M381.2 391.4l0 .2M398.8 413.3l.2 .4M403.8 369.9l-.2 0M355.3 360.6l0 0"/>
<path stroke="#dcb0cc" stroke-opacity="0.7" stroke-width="3.67" d="M384.4 365.4l.5 0M365 381.1l-.8 .1M371.5 365.5l-.3 .5M356.8 390l.4 .2M338.1 378.1l-.2 .2M382.5 363.7l.4 .5M397.5 401.5l.7 .2M382.7 370.8l-.1 .4M345.1 407.1l.7 .1M339.6 361.1l-.7 .3M373.3 408l.1 .4M393.6 363.5l-.4 .8M380.2 364.9l-.2 0M378 401.6l0 0M350.4 393.7l-.6 .1M402.5 393.3l.5 .4M400.2 382l.1 .1M398.3 407.9l.3 .1M371 362.6l.1 .4M384.5 398.7l.3 .2M378.2 388.3l.4 .5M392.2 383l.2 .6M356.8 381.1l0 .2M405 397.1l0 .4M334.9 363.3l-.1 .6M355.5 380l.2 .1M345.1 398.1l0 .2M387.1 403.9l.3 .7M353.7 402.4l.5 .3M342.9 372.7l.5 .5M345.4 385l-.8 .2M338.7 376.9l.6 .3M343.7 416.6l-.6 0M376.3 405.1l.4 .8M344 371l.2 .5M376.2 362l-.3 .1M336.3 399.5l.2 .3M391.1 378.3l.1 .4M392.5 405.3l-.2 .7M389.6 411l0 .1M335.5 360l-.1 .6M351.3 411.3l-.2 .5M359.1 416.3l.2 .3M389.3 414.2l.6 0M374.4 398.8l.4 0M341.5 406.4l-.1 0"/>
<path stroke="#7a5ca6" stroke-opacity="0.8" stroke-width="1.4" d="M363 405.3l.3 .1M363.3 371l-.1 .1M375.7 380.9l0 0M366 391.3l.2 0M376.8 363.9l0 .3M383.5 378.1l0 0M385.1 392.2l-.3 .1M346.2 407.6l-.3 .1M371.9 386l-.2 .1M354.7 379.5l0 .2M357.7 406l0 .2M381.4 410l-.1 .1M404.9 361.6l.2 0M338.6 372.1l.2 0M389.4 364.4l0 0M354.6 379.6l0 .2M397.8 399.1l-.2 .1M351.1 381.2l0 .1M342.1 405.9l0 .2M378.4 387.5l0 .1M368.1 410.7l.2 .3M392.6 374.4l-.2 .2M353.6 403.7l0 0M398.6 403.5l-.1 0M335.8 397l0 0M356.5 413.9l0 0M364.4 412.6l.2 .1M393.5 408.7l.1 .2M336.5 374.3l-.1 .1M386.7 397.5l.2 .2M336.2 415.2l-.2 .1M405.5 379.9l0 .1M390.1 411.5l.1 .3M388.9 370.6l0 0M398 415.3l-.1 .1M343 390.9l0 0M372.1 409.8l0 0M335.7 412.6l0 0M391 370.3l-.2 .1M369.8 360.8l.1 .2M352 415.9l.1 .3M357.7 410.7l.1 0M374.5 404.2l.1 .3M379.7 391.1l.2 .2M397.4 368.9l0 .2M374.9 391.4l0 0M358.4 391.9l0 .3M348.8 366.3l0 0M338.6 365.1l-.1 0M404.5 389.6l0 0M354.7 400.4l-.2 .1M401.9 390.4l0 0M392.2 415.1l0 .1M382.4 396.2l-.2 .1M347.3 382.1l-.2 .2M340.9 373.3l0 0M395.2 397.9l-.1 .1M349.5 390.1l0 .1M332.9 380.3l-.2 .2M375.2 383.5l.3 .2M385.5 402.6l.1 .1M392.8 402.4l-.1 .2M354.3 364.1l.1 .3M381.7 374.6l.2 0M398.5 386.5l-.3 .1M374.7 414.2l0 .2M365.1 370l0 0M357.6 412.8l.2 .2M382 411.5l.1 0M356.2 413l0 .2M383.2 392.4l0 0M336.5 389.3l0 .1M348.3 390.4l-.1 .2M401 415.7l.1 .1M387.2 404.9l0 0M339.7 405.2l.1 .2M365.7 402.9l0 .3M355.6 367.3l.3 .1M342 398.8l0 0M401.1 379.8l0 .2M380.7 407l-.1 .1M382.3 401.5l-.1 .1M360.8 387.4l0 .3M356.6 382.7l-.3 .1M358.2 364.1l-.3 0M386.5 406.3l.1 .2M355.1 368.3l0 0M405.8 385.4l-.1 .1M354.9 388.9l.2 .1M403.1 368.7l.2 .1M393.8 394l-.1 .1M386.6 361l0 .3M374.8 396.1l0 .2M375.9 396.2l.1 .2M333.5 415.7l.1 .1M384.3 400.5l-.2 0M348.8 387.5l-.2 .1M389.8 416l-.2 0M337.2 404.9l.2 .1M360.7 415.1l0 0M384.6 400.7l.3 0M361 385.2l0 .1M371.4 415.1l.1 0M375 362.6l0 0M343.9 390.1l0 .2M405.7 406.2l0 .1M379.2 387l-.2 .2M360.2 416.7l-.1 0M359.3 387.2l0 .1M356.3 414.1l.1 .1M382.4 406l-.1 .2M363.4 412.8l0 0M346.7 407.8l.1 0M362 393.2l0 .1M398.1 362.9l0 .1M379 381.9l0 0M381.6 395.9l-.3 .2M371.4 409.4l-.3 .1M350.8 409.8l.1 0M401.8 411.1l0 0M399.5 416.1l-.1 .1M382.5 400.8l0 0M376.1 375.9l-.2 .1M389.8 380.3l0 .1M341.9 387.2l0 .1M336.7 375.4l0 0M341.1 364.7l0 .2M367.9 412.5l-.2 .1M375.6 375.4l-.2 .2M362.5 377.5l-.1 .1M374.2 380.1l.1 .2M333.6 379.3l0 0M376.5 370.5l0 0M333 392.9l-.2 0M378.1 378.6l-.2 0M381.3 385.1l-.1 0M400.5 377.3l.1 0M358.9 366.7l0 .1M358.9 365.9l0 0M404.4 391.6l0 0M338.8 411.8l.1 0M348.9 412.2l-.3 .1M401.1 402l.2 .2M406 399.3l.3 0M340.1 397l-.1 0M372.5 410.7l.2 .3M384 398.6l0 .1M373.6 364.6l-.1 .2M334.4 371.1l.3 .1M402.4 378.8l0 0M359.7 369.8l.2 .3M375.2 401.8l.2 .1M379.4 414.1l-.2 .1M395.4 390.1l0 .2M392.9 361.6l-.2 .1M362.8 382.3l0 .1M378.4 381.5l-.1 .2M350.1 415.8l.1 .1M372.4 404.4l-.2 .2M360 383.6l0 .1M397.5 407.8l.3 .1M388.6 395.4l0 .2M368.2 366.9l-.2 .1M338.5 389.2l0 .2"/>
<path stroke="#7a5ca6" stroke-opacity="0.8" stroke-width="1.8" d="M351.9 379.1l0 0M360.3 400.1l0 0M387.2 401.4l.4 .2M385.7 377.6l0 0M352.7 415.4l0 0M348.6 379.9l.3 .1M369.7 402.4l.1 .2M354.6 415.7l.2 .2M337.9 409.9l.1 0M372.3 392.4l0 0M352.5 363.9l.2 0M375.6 405.4l0 .1M339.2 407.6l-.1 .2M362.2 412.1l-.3 .1M354.4 366.1l.1 .1M334.4 390.8l0 0M400.7 384.3l.4 0M384.9 409.9l0 0M336.6 397.8l0 0M357 401.5l0 0M363.1 366.2l-.2 .2M340.5 365.5l0 0M399.1 380.6l0 .1M368.1 362.8l-.2 .2M379.3 394l-.4 .1M395 397.5l0 0M381.3 369.8l.2 .3M358.4 368.5l.1 .4M378.9 369.5l-.2 .2M363.6 390.1l.2 .4M374.7 374.4l-.2 .2M395.5 378.6l.1 .1M402.5 413.3l.3 .3M397.3 397.5l0 .3M359.2 406l0 0M336.6 374.1l-.1 .2M369.3 392.7l0 .1M405.4 415.7l-.3 .1M340.9 394.1l.3 .2M362.1 390l-.1 .1M367.6 363.5l-.1 .4M407 413.5l-.1 .1M344.4 393.2l-.4 0M393.6 403.7l-.1 .1M339.3 361.7l.1 .1M338.9 416.6l-.1 .1M348.7 379.6l.1 .2M406.8 408.3l-.1 .3M389.4 379.2l-.1 0M361.8 412.9l0 0M395.5 374.3l-.3 0M344.2 377.2l.3 .3M403.8 390.4l-.2 .2M352.7 412.2l.1 .1M364.6 400.3l.3 0M338 397.6l0 0M390.4 399.5l-.1 .1M382.7 370.2l.1 0M373.5 378.7l-.2 .1M334.1 379.8l-.1 0M363.5 384.5l.3 .2M366.4 366.4l.2 0M375.2 362.1l.2 .1M393.9 384.7l-.1 0M395.6 410l0 0M361.1 369.5l.1 .2M406.9 412.6l.1 .1M396.1 413.5l-.3 .2M375.3 394.6l.3 .2M339.7 401.5l-.2 .2M339.7 397.1l-.4 0M402 413.4l0 0M384 398l0 0M377.1 380.4l-.3 .1M402.6 384.1l.1 .4M372.8 392.7l0 .1M380.6 368.3l.2 .2M406.5 416.3l.1 .3M350.9 402.7l.2 .3M377.3 376.8l.1 .4M382.2 396.1l.2 .2M371.5 381.9l-.4 .1M364.1 374.5l-.2 0M406.4 381.3l0 0M367.9 415.9l-.2 .1M335.1 414.3l-.1 0M334.6 383.3l0 .4M366.7 410.7l-.2 .1M405.4 364.7l0 0M365.5 371.2l.3 .1M366.8 394.4l.1 .4M350.1 379.4l0 .2M397.4 384.3l0 .2M357.7 388.2l.4 .1M357.5 394.5l-.1 .1M407.3 391l0 0M397.8 379.8l-.1 0M336.4 415.9l-.2 .4M375.8 407l0 .1M384.1 380.5l-.1 .4M387.3 367.6l.1 .3M339.6 391.9l.1 .1M339.2 370.7l0 .3M379.3 375.9l-.1 .3M400.9 363l.3 .2M350.1 382.2l-.2 0M389.2 397.8l-.2 .1M350.8 377.2l-.3 .2M397.6 386.4l.1 .4M388.7 367.6l.1 0M383 371.3l.2 0M366.5 371.5l-.3 .2M375.7 409.6l.1 .1M337.5 387.9l-.4 .1M359.1 404.9l0 .4M370.4 361.8l.1 0M348.6 364.8l0 .2M403.7 416.9l.1 .1M379.1 368.8l-.2 .1M345.7 404.8l.4 .1M385.3 408.4l-.1 .3M380.8 367.9l0 0M371.4 379l0 .2M376.3 379.3l.2 .1M343.4 389.1l0 0M387.3 366.6l-.1 .1M333.1 404.6l0 0M380.8 369.6l0 .1M358.1 395l0 .2M367 404.8l-.3 .1M403.2 375.1l.1 .4M348.6 399l-.1 .2M398.9 367.8l-.1 .3M392.6 406.2l.2 .2M382.8 375.3l0 .1M372 362l-.3 .2M400.7 416.8l.3 0M384.5 360.2l-.1 .2M332.6 411.9l0 0M354.1 363.4l-.1 .1M356.1 381.6l-.3 0M367.8 395.7l0 0M359.5 379.8l.1 .1M394.3 370l0 .2M373.4 398.5l.1 .1M400.7 385.8l0 0M342.3 367.6l-.2 0M379.9 403.7l.1 .1M399.8 384.7l0 0M390.3 373.1l0 .1M380.1 372.6l-.1 0M401.9 392.8l0 .3M354.6 388l-.1 .1M376.9 411.8l.4 0M343 371.6l-.1 0M374.2 368.9l-.2 .2M356.1 401.9l0 0M367.3 384.9l.3 .3M344.8 390.7l0 .2M375.4 395l-.2 .2M373 410.6l-.2 .3M338.1 416.5l0 .2M368.2 387.5l.2 .4M340.9 373.2l-.1 .2M379.8 397.4l0 .1M369.4 364.6l-.2 0M399.4 380.7l-.2 .2M361.7 413.5l0 0M364.7 406.1l-.1 .4M406.1 406.3l.1 .1M405.4 361.4l0 0M354.3 394.8l0 0"/>
<path stroke="#7a5ca6" stroke-opacity="0.8" stroke-width="2.2" d="M348.1 406.3l.4 .3M350.7 378.9l0 .1M365.8 384.3l.3 .1M376.7 402.3l-.1 .4M393.5 366.5l0 0M390.7 372.8l-.4 .1M340.6 378.7l.3 .2M353.2 388.5l0 .2M377.8 363.9l.1 .1M334.3 385.3l0 .1M334.3 387.7l.4 0M386.6 392.8l0 0M361.8 404.4l-.3 .3M395.4 394.2l-.3 .1M394.1 361.4l.3 0M380.6 377.2l.2 0M392.7 408.1l-.1 .1M379.9 395.6l.1 .3M402.4 361l.3 .3M350.8 386l.2 .2M395.5 412.8l-.2 0M392.4 374.7l.1 .4M377.2 391.8l0 .3M332.4 414.5l.2 .5M389.3 375.1l-.2 .1M404.3 371.3l-.3 .1M363.9 371.2l-.1 .2M401.5 401l0 0M401.8 411.8l0 .3M388.7 408.1l.1 .2M350.3 366.8l.2 .2M357.1 390.9l.2 .1M351.6 405.6l-.1 .5M340.5 416.3l.1 .1M365 370.9l0 .2M396.4 361.9l-.1 .2M346.4 403.1l0 0M376.4 402.7l-.2 .2M349.6 362.5l0 0M361.5 388.2l-.2 0M371.5 401.1l.3 .3M357.3 402.7l-.1 .5M383.1 372.7l-.1 .3M356.3 373.3l-.4 0M381.5 406.1l-.3 0M395.5 365.3l.3 0M347.4 390.9l.3 .2M343.4 406.1l-.4 .3M340.6 393.2l.2 .1M368.4 366.5l0 .3M359 390.9l-.1 .1M353.2 403l-.4 .4M403.5 413.4l.2 .2M347.7 408.2l-.4 .1M398 407.2l.1 .4M332.2 363.8l0 .1M377.7 382.5l0 .5M404.2 403.6l.1 0M343.2 369.3l.2 .2M366.8 372.8l-.1 .1M348.7 382.7l-.1 .2M385.5 391.8l-.1 .5M350.7 369.4l.3 0M402.2 375.2l.2 0M403.7 372l.3 0M390.7 409.6l-.2 .2M334.7 373.1l.2 0M356.2 411.2l-.5 .1M347.8 400.5l.1 .1M407.1 406.4l-.2 .2M397.5 414.5l.1 .3M347.3 368.8l-.2 0M383.7 368.9l.3 .1M374 399.3l.1 .4M357.8 378l.1 .2M385.8 393.3l-.1 0M370.3 367.2l-.2 .1M354.6 414.3l-.1 .1M385.8 366l0 .1M368.3 375.9l0 0M351.2 399.4l.1 .1M407.3 369.8l0 0M388.1 387.3l.5 .2M389.6 405.6l0 0M390.5 378.6l-.1 .1M360.4 378.1l.2 .1M369 404.2l.1 .2M361.6 404l.5 .1M383.3 374.4l-.3 .4M376.9 390.5l.1 .2M335.5 408l0 .5M357.5 377.1l0 .1M339.1 366.6l.1 .1M390 398.9l0 .1M373.1 397.1l.2 0M382.7 380.2l-.5 .1M344.3 372l.3 .2M370.1 392.4l.1 .2M404.2 416.6l-.3 0M386.3 360.7l.2 .1M403.9 384l-.1 .5M350.8 412.5l-.3 .3M395.8 378.6l-.2 .1M385.6 372.6l-.5 0M374.4 406l-.1 .2M359.4 380.9l-.2 0M370.8 387.8l.1 .1M367.8 360.7l0 0M347 365.2l-.2 .3M352 364.4l0 .5M397.6 374.4l0 .2M348 383.7l-.5 .1M376.9 393.3l-.1 .2M392.7 383.1l0 0M377 381l.1 .3M402.2 395.6l0 .3M338.9 371.2l.3 .3M344.4 415l.3 .1M364.5 410.8l-.2 .4M402.8 385.9l-.4 .1M389.9 363.7l.2 .3M369.1 392.3l-.2 .2M364.2 378.6l.2 .2M342.1 380.8l.2 .3M357.7 403.2l0 0M387.1 391l-.1 0M359.8 408.8l0 .2M361.4 395.1l0 .1M387.9 414.9l0 0M395.9 406.4l.1 0M371.2 373.3l0 0M362.4 413l.2 .3M390.7 388.9l.2 .4M365.6 374l.5 .1M371.3 374.4l-.1 .3M346.7 400.8l-.4 0M351.6 366l.2 0M397.1 414.9l.1 .4M384.7 389.8l0 .4M360.4 386.5l0 0M371.1 400.6l.3 .1M402.8 391.1l.2 .1M333.9 371l-.4 .3M354.4 362.9l0 0M395.1 394.6l-.3 .1M342.5 375.1l-.1 .4M394.3 399.3l.1 .5M390 403.5l-.5 0M388.7 374.4l-.4 .1M349.4 391.3l-.3 .4M402.6 372.3l.2 .2M339.8 381.8l0 .1M358.1 407.4l.2 .1M384 385l.3 .4M363.2 396.4l.3 .1M396.7 414.4l.3 .2M355.2 372.3l-.4 .2M365.8 374.4l.2 .4M370.9 409.2l.1 0M384.9 375.9l-.4 .1M352.5 369.9l0 0M363.8 374.9l0 0M355.1 402.7l-.2 .1M362 381l0 .2M383 360.5l.2 .3M363.9 395.1l0 .2M343.7 399.2l-.4 .3M378.1 382.3l-.2 .2M339.3 385.3l.5 0M400 378.2l.1 .4M364.2 415.3l.2 .2M356.6 405.5l.1 0M364.7 365.4l0 .4M384.3 414l.4 .2M360.8 367.5l0 .1M366.1 364.6l0 .1M382.1 405.1l.2 .4M350.1 376.1l-.1 0M367.8 371.7l0 .2M355 364.9l0 0M395.2 365.3l-.1 .1M367.5 390.2l0 .3M345.4 405.2l.3 0M393.3 415.6l-.4 0"/>
<path stroke="#5a4490" stroke-opacity="0.9" stroke-width="1.4" d="M351.5 361.4l-.1 .1M347.4 381.8l-.3 .1M395.8 359.8l-.2 .2M382.6 390.6l-.1 .3M377.7 409.5l0 0M378.5 390.3l-.2 .2M380.3 371.3l-.2 .3M368.4 377.8l0 0M351.4 378.8l.1 .2M346.4 373l.1 .3M392.9 380.7l-.2 .1M351 414l0 0M372 395.6l0 0M348.5 392.9l.1 .3M348.1 411.5l-.1 .3M351.8 378.1l.1 .1M401.8 360.8l.3 .1M394.4 390.1l0 .2M361.1 406.1l0 .1M383.7 383.1l.3 0M360.3 399.4l0 0M383.6 415.4l.1 .1M340.5 387.7l0 .1M400.5 411.8l-.2 .2M346.1 394.3l-.2 .2M405.2 414.2l-.1 .1M358.2 392.9l0 0M394.6 392.6l-.2 0M333 384.7l.1 .1M357.3 389.9l.2 .1M392.6 392.2l.2 .1M407.5 402.1l-.2 .2M376.6 377.3l-.2 0M393.8 360.5l-.1 .3M354.8 369.1l.1 .3M382.5 373.7l-.2 .1M373.2 369.5l-.2 .1M357.1 414.1l0 0M368.9 360.3l-.2 .2M392.4 374.7l.1 0M387.2 390.1l.2 .2M332.7 364.5l-.3 0M388.7 396l.1 .3M352 392.7l0 .1M357.5 381.7l-.2 .1M368.4 394.1l-.3 .1M363.4 416.1l0 0M390.4 413.8l0 .3M393.5 380.1l-.1 .2M383.7 390.6l-.2 .2M336.5 382.3l0 0M358.9 388.2l.1 .2M389.2 377.2l.1 .1M364.1 402.7l0 0M347.4 411.9l.2 .2M374.6 381.7l-.1 .1M349.2 399.9l0 0M373.9 399.3l-.1 0M339.4 406.5l.1 .1M344.3 412.8l0 0M356.8 407l-.3 0M394.3 413.4l0 .1M334.2 385.1l.3 .1M383 408.3l.3 .1M334.6 411.6l0 .1M394.6 362.2l0 0M385.2 406.4l0 .2M379.9 404.3l.1 .3M373.4 393.6l0 0M353.1 404.2l-.1 .2M386.2 415.1l.1 .1M345.9 403.8l0 0M381.2 365.7l-.2 .2M361 385l-.3 .2M387.2 397.9l0 .1M401 388.2l0 0M374.4 400.2l-.1 .2M337.7 393.1l.1 0M390 374.5l0 .1M404.5 401l-.3 .2M365.3 405.2l-.3 .2M337.8 369.7l-.1 .2M334.3 388.1l.1 .1M372.7 385.4l.2 0M386.2 393.4l0 0M376.4 388.3l-.1 .3M403.5 385.2l-.1 0M378 366l0 .2M398.8 403.8l-.2 .2M365.8 384.9l-.1 .1M333.7 409.7l0 0M400.1 414.4l0 0M343.2 364.1l.1 .1M354.2 381.6l.3 0M396.9 399.2l.1 .1M334 391.2l-.1 .3M333.6 398l.1 .1M379.7 373.6l.3 0M384.3 408l.2 0M337.4 364.2l0 .2M364.6 403.9l-.1 .1M334.3 406.7l-.2 .1M407.3 387.5l-.1 .1M358.8 411.8l-.2 .1M385.2 409.9l0 0M351.6 399.8l0 .1M386.1 403.7l-.1 .1M337.1 361.2l0 .2M404.1 362.3l0 .1M333.8 375.4l-.1 .2M375.9 388.3l0 0M395.3 410.6l-.1 .2M350.5 361.2l-.2 .2M338.5 367.8l0 .1M341.8 394.2l.3 0M375.9 377.7l.3 .2M364.6 394.7l.1 .1M343.2 407.4l.2 .1M334.4 372.6l.2 0M362.7 373.3l.1 .3M383.6 385.5l0 0M405.5 408.7l0 0M335 400l-.1 .2M374.9 396.1l.2 .2M404.7 379.3l0 0M380.1 385.8l-.2 .2M360.9 377.8l.1 0M354.4 365.7l0 0M403.2 362l-.3 0M362.2 413.1l.2 .2M393.2 409.7l-.3 0M394.7 362.4l0 .2M387.3 389.1l.1 .1M380.2 400.5l0 .2M390.3 412.5l0 0M367.3 388.3l0 .1M381.7 395.6l0 .1M365.6 383.8l0 .2M356.4 388.5l0 0M363.2 373.8l-.1 .2M365.5 395.1l0 0M375.1 367.8l0 .3M394.3 363.7l-.1 .2M346.4 377.8l-.3 .2M348.8 377.4l0 .1M357.1 375.9l0 0M399.6 393.5l-.3 0M372 381.7l0 0M334.6 374.5l0 0M379.2 369.2l-.3 0M366.4 360.8l-.1 .1M348.6 386.5l-.1 .3M397.2 415.9l.1 .1M364.5 409.5l.2 .1M335.3 373.4l-.1 .2M364.7 363.6l.1 .2M350.2 362.4l-.2 .2M393.5 387.1l0 0M388.4 416.3l-.1 .1M359.2 402.2l-.2 0"/>
</g>
</g>
<g clip-path="url(#c15)">
<rect x="187.1" y="438.7" width="69.8" height="51.6" fill="#c6aacf"/>
<g filter="url(#hb)" stroke-linecap="round" fill="none">
<path stroke="#d6c4dc" stroke-opacity="0.7" stroke-width="1.63" d="M203.1 464.6l-.1 0M258.5 459.1l.3 0M204.1 463.2l.1 .1M223.6 461.1l-.3 .2M187.3 460l-.3 .1M224.7 469.8l-.2 .1M206.9 463.4l-.2 .1M229.9 437l-.2 0M222.3 483.2l.1 .3M239.2 480.3l-.4 .1M247.4 462.2l.2 0M207 440.9l-.2 .3M255 463.6l0 .3M197.1 481.9l-.2 .3M219.8 437.6l0 0M192.2 437.1l-.1 .1M188.3 452.9l.3 0M214.8 465.1l0 .1M230.3 464.5l0 0M232.8 462.4l0 0M256.8 460.3l-.3 .1M258.2 474.3l.1 0M201.5 449l.1 0M195.7 475.1l.2 .3M237.6 492.1l.3 .3M238.8 451.8l-.2 .1M206.6 476.4l-.1 0M210.2 476.3l0 .2M227.2 450.1l-.4 .1M201.8 446.5l.1 .1M191.7 475.8l-.3 .1M242.1 456.4l-.1 0M201.7 468.5l0 .3M203.3 452.9l.2 .2M247.5 473.6l.1 0M227.8 448.3l0 0M233 458.8l-.1 0M242.4 450.1l.3 .2M211.6 445.1l-.1 0M206.8 459.9l.1 0M229.2 459.1l.1 .3M254 459.4l0 0M221.1 475.7l.3 0M230.1 471.4l0 .1M192.3 466.2l-.2 .2M190.7 438.8l0 .3M243.3 446.9l.1 .1M197.7 475.1l-.2 .1M251.8 443.8l-.1 .1M205.5 447.7l.2 .1M185.7 439.4l-.3 .1M217.1 462.8l-.1 .2M241.7 441.6l0 .4M207.1 460.9l0 .2M201.2 478l0 .1M211.3 487.5l-.1 .1M211.7 458.9l-.1 .2M256.2 436.7l.1 0M218.5 443.6l-.1 .3M205.2 491.9l0 .2M217.3 470.4l.2 .2M228.3 476.4l.1 0M249.3 455.6l.2 0M195.5 473.7l.1 .1M197.1 482.3l0 .2M196.3 489.8l-.1 .3M215.3 449l.2 0M224 448.9l-.2 0M210.7 453.7l0 .4M190.6 469.8l0 0M250.4 452.3l.2 .2M203.1 441.5l.3 0M254.8 472.8l0 0M201.8 451.3l0 0M206 459.9l-.1 0M255.2 482.9l-.2 .2M229.6 487.3l-.3 .2M208.8 451.1l0 0M222.8 442l-.2 .1M195 477.5l-.2 0M189.9 481.2l-.1 .4M245.8 469.5l-.2 .2M239.2 477.8l-.2 .2M221.5 468l0 0M240.7 439.6l.2 0M217.9 439.5l.4 .1M207.8 474.4l-.1 .2M228.6 482.7l.3 0M192.9 472l.2 .2M228.1 445.9l-.3 .2M242.4 486.9l-.1 .1M201.7 470.9l-.1 .1M207.4 453.9l-.1 .1M185.3 457.4l.1 0M185.8 438.4l.1 .2"/>
<path stroke="#d6c4dc" stroke-opacity="0.7" stroke-width="2.1" d="M246.5 450.8l0 .3M236.4 465.7l.1 .3M217.4 483.2l0 0M198.1 491.3l-.3 .4M253.9 487.4l-.1 0M225.7 446.4l0 .5M215.3 486.4l-.1 .1M250.5 446.6l-.2 0M222.6 478.5l-.1 .3M217.4 461.5l0 0M205.8 480.2l-.2 .1M244.6 451l.2 .3M188.5 451.9l.4 0M255.7 440.7l-.4 .1M225.9 456.1l0 0M245.8 466.6l-.1 0M229.7 465.2l-.1 .1M225.2 446l.1 .1M206.4 471.9l0 .2M217.7 439.2l.3 0M224.6 460.8l-.2 .4M207.9 461.5l-.3 .3M224.4 471.1l0 0M206.3 450.6l-.1 .2M228.8 444.1l.1 .1M249.7 475.4l0 0M193.1 463.9l.2 .3M245.3 485.5l-.1 .1M192.4 471l-.1 .2M225.6 449.5l-.3 .1M247.1 487.3l0 .4M227.1 453.1l-.2 0M210.6 471.7l-.2 .1M186.3 467.5l.4 .3M257.7 462.7l-.1 .4M255 460.4l0 0M240.9 438.7l.5 .1M197.2 463.5l0 0M245 451.7l-.2 .1M229.5 484.7l.4 0M214.6 464l0 0M247.7 479.8l.2 .1M221.9 473l0 0M221.8 468.1l.3 .1M231 477.1l.2 0M224.6 448.5l-.1 .1M226.5 450.7l.1 .2M228.3 461.2l.3 .2M195.7 490.5l.1 .3M198.9 446.7l.1 .3M231.5 486.7l-.3 0M206.6 478.3l0 0M232.3 444.3l-.4 .3M249.9 468l-.1 0M188.5 443.9l0 0M235.3 451.6l0 0M249 491.7l.1 .3M244.9 487.7l.1 .4M226.9 479.9l.1 .2M200.4 472.6l0 .1M243.8 483.6l.5 .1M241.4 453.6l.1 .4M256.6 458.7l.3 0M225.3 441.6l0 .1M257 456l0 .4M200.2 474l.4 .2M247.1 490.8l0 .1M228.1 482.3l-.3 0M211.9 485.7l-.1 .1M248.9 454.6l-.1 .4M250 481.4l-.2 .2M232 457l.3 .2M226.7 450.4l.1 .1M245 480.1l-.4 .2M232.8 438.7l.3 .1M243.2 443l.1 .1M239.1 452.7l0 .2M205.2 443.3l.1 .5M212.7 486.6l-.4 .2M237.3 469.7l.3 .3M218.5 452.8l-.2 .1M245.5 487.4l.2 .1M204.2 461.7l.2 .3M242.6 483l.1 .1M211.9 444.3l.1 .4M231.2 484.6l.4 .3M256.8 448l0 .5M196.8 459.4l-.1 .1"/>
<path stroke="#d6c4dc" stroke-opacity="0.7" stroke-width="2.57" d="M218.3 480.8l-.1 .1M193 480.3l-.1 .5M243.1 491.9l-.1 .4M224 481.8l-.5 .3M228.4 448.5l0 0M185.8 473.4l.3 .1M213.9 454.5l-.6 .1M209.3 461.9l.2 .4M238.7 437.2l-.3 .3M196.8 484.4l.3 .1M207.4 441.1l-.4 .4M191.4 478.8l-.4 .4M208.9 478.4l.2 .6M244.5 441.3l.3 .4M239.5 445.9l-.4 .2M231.2 480.1l.5 0M215.2 449.5l.2 0M214.5 437.6l-.3 .2M227.2 451.9l0 .1M212.5 478.1l-.1 .2M238.9 468.9l.1 .3M258.8 452.6l.1 .1M202.1 456.2l.2 .2M253.5 469.9l0 0M230.5 458.3l0 0M201.3 488.4l-.4 .1M246.9 460.7l.1 .4M190.9 464.5l-.5 .2M213.4 450.8l.1 0M212.9 464.2l0 .1M250.9 482.9l-.1 .2M206.3 442.7l-.1 .2M252.6 449.8l.1 .1M191.7 479.3l.1 .3M222.1 477.7l0 0M195.6 440.4l-.4 .4M205.7 484.6l.2 0M225.5 486.4l-.2 .2M210.3 450.5l-.1 .1M226.6 448.5l-.3 .1M202.3 459.3l-.2 .3M256.5 484.8l.4 .5M253.7 450.8l0 .2M241 445.3l.1 .6M186.3 485.2l-.2 .2M220 476.8l0 .2M221.2 452.1l-.1 .4M207.8 491.8l.2 .1M252 462.9l.2 .2M206.3 489.1l.4 0M233.5 487.5l0 .1M189.1 460.8l.4 .1M255.4 466.2l-.4 .1M203.6 485l.1 .2M237.5 457.8l.1 .2M214.6 459.6l.5 .2M186.6 447.6l0 0M210.9 479.3l-.6 .2M226.4 471.5l0 0M249.4 467.2l0 .4M246.3 440.4l-.2 .2M219.6 483.1l-.3 .1M200.2 463.1l0 .3M196.4 455.7l-.2 .4M188.7 485.1l.3 .1M227.3 460l-.3 .3M187.2 460.6l.1 .1M229.6 471.7l0 .3M237.8 456.3l.5 0M219.9 480.4l-.1 .3M251.8 471.1l.3 .4M211.3 483.6l.5 .1M229.3 440.2l.4 .2M188.7 449.9l0 .4M211.1 455.9l0 .1M202.5 455.9l.5 .1M206.9 460.3l.3 .5"/>
<path stroke="#a48cc0" stroke-opacity="0.75" stroke-width="1.4" d="M237.8 450.9l.1 .1M185.5 437.4l-.2 .3M208.2 460.2l.1 .1M217.4 442.1l-.1 .3M227.1 482.3l-.1 .1M252.4 467.7l0 0M211.7 445.4l-.3 0M236.2 453.5l-.2 .1M228 476.2l-.1 .2M235.9 480l0 0M190.7 470.1l0 0M196.1 483.8l.3 .2M239.3 486.3l0 .1M229.4 467.7l-.1 .2M241.8 477.6l.2 0M195.1 454l-.2 .1M202.4 478.4l.2 0M255.5 453.6l.1 .1M208.6 437.8l-.1 .1M234.9 487.9l.1 .3M218.3 464.2l-.3 0M257.5 443.8l-.1 0M232.9 438.1l.3 .1M208.1 436.9l.1 .2M235.2 438.2l.1 0M190.1 460.2l0 0M233.3 445.7l0 .2M200.3 486.2l0 0M244 490.6l-.1 0M222.1 464.6l.3 .1M198.9 437.9l0 .3M245.4 487.2l.2 0M256.2 483.5l-.2 .1M208.3 456.5l-.1 0M206.7 487.9l0 0M220.5 468.2l.1 .1M225.7 477.5l.1 0M248.6 448.4l-.1 .3M247.7 466l.3 .1M256.5 492.1l0 .3M235.3 477.7l.1 .2M257.4 461.1l0 .1M247.2 469.3l0 .1M187.9 472.9l.2 .1M250.4 484.1l-.1 0M248 456.7l.1 .1M197.3 446.8l.1 0M202.9 443.1l0 0M254.5 471.7l-.2 .1M213.9 449.6l.1 .2M223.1 468.6l-.3 .1M248.9 443.1l-.1 .2M195.4 450.4l.3 0M227.8 455.6l0 0M213.6 457.2l.2 .1M213.5 439l-.3 .1M222.6 438l0 .3M213.2 461.2l-.2 .1M188.5 491.4l.1 .2M252.6 447.2l.3 .1M248.3 465.2l-.2 0M199.2 489.1l-.2 .1M236.7 462.9l.2 .2M222.5 478.3l0 .2M240.2 487.5l-.1 .1M245.1 465.2l.3 .1M252.6 451.9l.1 0M247.5 463l0 0M227.7 477.6l-.1 .1M230 446.1l-.1 0M218.1 459.6l0 0M228.8 450.6l-.1 .1M193.9 485.5l0 0M225 484.3l.1 .1M241.9 470.6l0 .1M248.3 481.2l-.2 .1M197.3 442.6l-.2 .1M241.9 472.9l-.2 .2M199.3 485.8l0 .2M233.9 452.7l-.1 0M203 439.7l-.2 .1M221.8 455.3l.2 .2M195.6 473.5l.1 .3M224.5 480.8l0 .2M233.3 472.4l.1 .1M191.9 468l0 .2M223.3 476.4l.3 .2M235.1 479.5l.2 .1M213.7 483.6l0 0M199.5 490.9l0 0M200 485.2l0 0M190.5 474.2l-.1 .2M245.5 459.4l-.2 .2M213.3 438.4l0 0M214.3 465.3l.1 0M237.7 438.1l0 .3M218.3 488.3l-.1 .2M192.6 449.4l.3 0M196 473.3l.1 .3M215.1 487.9l-.2 .2M189 440.9l-.3 0M210.6 475.6l.1 .1M204.1 460.1l-.1 .1M194.7 438.6l-.1 0M245.3 444.3l-.1 .2M232.9 490.6l0 .2M225.8 481.7l0 .1M222.3 475.6l0 .2M197.2 465.9l0 .2M230.1 490.9l0 0M233.1 474l-.1 .1M209.1 491.5l.1 .2M240.8 478.9l0 .1M233.7 473l.2 .3M189.5 439.8l0 0M258.6 453.4l.1 .1M194.5 449.1l.1 0M196.4 452.9l.2 .1M191.3 449.5l0 .1M195.2 438.1l0 .1M195.6 477.4l-.2 .1M202.7 449.1l-.1 .1M219.2 473.5l0 0M204.2 449.5l0 0M204.4 477.9l0 0M244.1 455.6l-.2 .1M209.7 483.1l0 .1M204.6 477.4l.1 .1M249.6 455.4l-.1 .2M237.5 443.5l.2 .1M257 486l-.1 0M201.2 455.3l.1 0M186.1 445.5l-.1 .2M228.1 449.7l0 .1M236.4 471.7l-.1 0M186.5 461.3l-.3 .2M188.5 467.4l-.2 .2M194.7 451.9l-.1 .1M203.3 458.2l.2 .2M200 461.8l-.2 .2M253.9 453.4l.1 .3M215.4 474.2l0 .2M238.4 446.3l.2 .1M232.2 489.1l.3 .1M242.7 485.7l-.1 .2M197 490.9l-.2 .2M257.4 480.9l0 .1M212.8 485.8l-.1 .2M194 487.8l-.3 .1M213.1 468.2l0 .2M231.9 452.5l-.2 .1M226.3 440.2l.3 0M189.3 476.7l.3 .1M230.9 465.8l.1 .1M230 444.6l-.1 .1M202 490.6l0 .2M208.6 457.7l.1 .3M249.8 491.4l0 0M257.1 449.4l0 0M201.8 437l0 .2M218.5 476.8l0 .2M234.2 478.6l-.1 0M218.2 452.6l0 .2M233.5 441.9l.1 0M244.6 488.6l.1 0M222 444.1l0 .3M186.9 439.7l-.1 .1M253.2 488l-.1 .2M195.6 455.3l-.1 .1"/>
<path stroke="#a48cc0" stroke-opacity="0.75" stroke-width="1.8" d="M247 470.7l-.3 .2M207 468.3l-.4 .2M239.6 471.2l-.1 .1M203 471.2l.3 0M205.8 491.9l-.1 .2M207.5 484.7l.2 .4M219.5 478.8l-.1 .3M204.5 491.5l0 .3M242 491.5l.3 0M196.3 440.6l-.2 .2M214.6 467.3l-.3 .2M238.1 457.4l.1 .3M190.4 477.8l-.2 .3M205.3 486.6l.1 0M233.5 457.3l.1 0M198.4 470.2l-.1 0M199.3 464.9l0 .1M229.4 487.2l-.3 .1M243.3 444.6l0 .4M234.7 463.6l.1 .1M257.2 466.7l-.1 0M206.7 488.5l0 .1M194.2 467.9l-.1 0M249.1 480.8l-.1 0M193.8 446.2l0 .1M235.9 439.2l.2 .2M240.4 480.8l.1 .3M209.4 455l0 0M206.2 471.5l.4 0M238.3 444.6l.2 .3M256.4 443.9l-.2 .3M251.2 437l-.1 .2M196.4 490l-.1 .1M227.9 464l0 0M219.6 454.2l-.1 0M186.6 457.9l0 0M223.3 464.7l.2 .2M185.1 489.1l.3 0M229.4 491.3l-.1 .1M227.3 491.6l0 0M241.7 444.9l0 .3M254.9 481.3l.1 .1M222.1 458.4l0 .1M200.7 469.2l-.1 .2M191.5 468.3l0 0M199.3 449.6l.1 .1M197.9 448l-.1 .2M250.9 437.3l-.1 0M216.9 451l0 .1M228.8 490.6l.1 .3M228.1 483l.1 .4M206.2 448.6l.1 .1M211.4 444.5l.1 .4M191.8 439.9l-.1 .1M249.9 465.4l.3 .1M203.2 442.2l.1 .1M251.9 468.7l.1 .4M210.9 482.2l.3 .1M194.9 447.3l0 0M189.9 456.7l0 .4M217.7 488.7l.3 0M244.4 481.7l.2 0M189.6 441.5l-.2 .2M246.7 443.3l.2 .1M206 449.5l-.2 .1M229.1 440.5l-.4 .1M234.4 461.3l.3 .3M255.9 470.8l-.2 .3M245.1 450l-.2 .3M234.8 454.9l.1 0M190 466.5l-.3 .1M209.3 453.3l0 .3M240.4 461.6l-.1 .1M235.8 463.5l0 .1M211.5 475.6l-.2 0M221.8 465l0 .2M225.3 446.5l0 .3M222.9 445.5l0 0M252.3 459.5l0 0M213.4 457.3l.2 .3M243.3 475.5l-.1 .2M231.7 484.1l-.3 .1M257 449.2l0 .1M221.5 437.7l0 .1M225.6 443l.2 .1M228.5 482l.2 0M207.6 476.6l0 .3M230.4 492l0 .1M246.1 477.2l0 0M200.1 455.3l-.2 0M189 456l.1 .1M198.2 467.7l-.2 .2M226.8 468l-.1 .2M248.4 455.3l.3 .3M235.3 488l0 .2M193.9 474.9l0 0M230.5 489.2l.3 .3M243.7 468l.2 .1M195.4 469.1l.2 .1M214.3 486.9l.2 .4M229.9 476.8l-.3 0M224.7 472.5l0 0M211.9 437l.1 0M253 466.1l-.4 .1M197.4 482.2l-.1 .1M240.1 460.9l0 .1M242.3 477l-.2 .1M246.8 444.9l0 0M196.2 466.3l.1 .2M241.1 456l0 .1M243.5 465.9l-.2 .2M204.1 474.2l-.3 .2M224.9 464.9l-.2 .2M246.5 442.3l.1 .3M241.4 464.7l.3 0M198.6 489.8l-.1 .3M226.8 453.7l.4 .2M216 449.4l.3 .1M204.4 453.8l.1 .1M225.2 453.8l-.2 .2M190.8 438.9l.2 .1M241.4 459.9l.2 .2M230.8 484.8l0 .2M205.4 461.4l0 .2M211.2 464.3l.2 .2M246.5 462l.2 .1M254.5 488.3l.2 0M251.7 480.8l0 .2M191.8 469.3l-.4 .1M256.7 484.1l-.1 0M251.1 467.4l.1 .1M196.1 450.8l.2 0M247.4 476.6l0 0M186.8 474.5l0 0M219.5 475.7l.2 .4M221.9 461.8l0 .2M222.3 482.2l-.1 .1M254.7 486.7l-.2 .2M257.6 483.1l.1 .1M190.4 465.7l-.2 .3M188.1 442.1l.2 .1M185.5 461.8l0 .1M185.3 481.2l0 0M207 455.5l-.3 .1M212.4 470.2l.1 .3M220.9 484.9l.1 0M191.8 472.2l0 .1M217.5 490.3l0 0M248.2 446.3l.1 0M220 465.1l0 0M216.6 485.5l-.2 .3M195.6 472.3l.4 .1M197.9 445.1l.1 .2M188.3 472.6l.2 .2M235.2 441.6l-.1 .2M189.4 460.5l-.2 .2M201.9 455.6l-.1 .1M236.9 463.1l-.2 0M242.3 486.7l.1 .4M189.1 439l-.1 .2M201.8 453.9l.2 .1M251.4 482.4l-.3 .1M221.9 488.9l-.1 .2M231.4 446.6l-.2 0M212.7 446.8l-.3 .1"/>
<path stroke="#a48cc0" stroke-opacity="0.75" stroke-width="2.2" d="M256.8 475l.5 0M216.6 489.9l.2 .1M198 473.8l-.1 .1M244.3 479.8l0 0M198.2 477.9l-.3 .4M233.6 475.3l-.4 0M193 446.6l-.1 .1M240.7 459.3l-.5 0M237.9 489.6l-.1 0M221.6 473.5l-.1 .2M215.7 471.2l-.5 .3M254 483.6l.2 0M212.5 487.3l.2 .3M232.2 439.1l-.1 .1M235.2 476.1l0 .4M190.3 468l-.2 .5M218.9 476.3l.1 .3M247.7 492.1l0 0M254.7 462.6l-.1 .2M230.5 444l.2 .5M217.7 456l-.1 0M207.6 476.7l-.2 0M232.4 454.1l0 .3M245 480.3l-.4 .1M218.3 449.7l-.2 .1M245.2 473.1l.5 .2M255.9 447l-.1 .3M227 442.7l.1 .3M235.7 479.7l0 .1M251.2 462l.5 .2M240.4 486.2l.3 .3M210.8 461.7l-.1 .1M224.5 485.2l-.5 .1M206.5 453.3l0 .1M226.7 444.7l-.1 .3M191.6 445.3l.1 .2M212.5 449.9l-.2 .5M207.7 467.6l0 0M187.8 491.9l-.1 .2M241.7 450.8l-.2 .1M201.7 483l-.4 0M204.8 464.6l0 0M233.1 463.5l0 .2M229.6 465.5l-.4 .3M196.4 459.1l.2 .2M218.6 470.2l0 0M255.2 443l-.2 .1M249.1 469.9l.1 .2M225.5 486.7l0 0M194.7 450.6l.4 0M192.7 476.6l-.3 .3M216.1 453.1l0 0M185.8 464.1l-.3 .2M209.7 470.5l.2 .2M215 463.6l0 .3M207.7 466.7l-.1 .3M233.6 472.6l-.1 .3M226.5 438l0 .5M202.6 480.3l-.4 .2M199.3 481.2l0 .2M223.5 438.1l-.2 .2M234.2 486.4l0 0M236.4 443.9l.1 .2M205.1 463.9l.3 .3M227.3 454.6l.1 0M224.2 472.9l-.1 .2M222.2 439.2l.5 .1M206.3 439.2l.4 .1M207.3 489.9l.1 .1M218.5 466l.4 .1M227.4 443.2l-.3 .3M242.1 469l0 .3M188.8 479.2l0 0M207.2 481l0 .3M228.8 487.1l-.5 .2M192.5 449.2l0 .1M236.8 439.3l-.2 .4M236.8 476.5l-.1 .4M243.2 478.5l-.1 .5M214.7 479.9l0 .2M246.1 490.1l.2 .2M224.8 489.1l.1 .3M235.1 445.2l0 .1M215.9 445.5l.3 .1M226.1 482.4l-.1 .1M228.1 481.3l-.2 .4M248.9 478l.2 .4M203 487.9l-.3 .2M210.9 446.1l0 0M240.7 468.6l0 0M220.4 486.2l-.2 0M197 490.4l-.1 .1M253.6 480.4l-.1 .4M198.4 466.7l-.2 .4M212 436.8l-.4 .2M238 474.7l-.3 .1M225.9 464.4l.3 .3M215.8 484.4l.3 .1M238.9 481.5l.2 .2M256 476.1l-.2 .3M251 466.2l.5 0M223.2 479.4l0 .1M185.3 445.6l0 .1M252.8 486.6l-.1 .2M208.4 445.8l-.1 0M234.3 491.2l.4 .3M200.3 441.4l.1 .1M245.2 482.6l0 .1M215.6 458.1l0 0M191 485.3l-.5 0M196.6 467.2l.4 .1M220.2 487.9l0 .2M240.4 492.1l.3 .2M211.5 469.1l-.3 .2M222.8 479.9l0 0M194.5 469.8l.4 .3M221.9 442.8l-.3 .2M251.9 487.2l.1 .1M224.5 456.4l.1 0M227.2 472.3l-.2 .2M251.2 447.1l.1 .2M210.1 474.1l0 0M201.1 466.3l0 .1M254.9 477.3l.2 .2M257.4 441.1l-.2 .4M236.2 487.9l-.1 .2M217.1 437.1l-.3 .3M209 450.8l.2 .2M200.7 458.9l-.1 .5M212.9 462.7l.2 .5M187.9 450.7l0 0M191.5 452.6l-.1 0M229.4 449.7l-.1 .2M237.1 464.7l0 .1M222.9 438.3l-.4 .2M227.8 444.8l-.4 .1M208.3 484l0 .1M251.9 437.3l.3 .3M254.2 463.4l-.2 .3M207.8 482.5l-.1 0M250.1 437.9l.1 .2M198.8 451.8l.1 .1M226.3 470l0 .3M242.4 454.1l-.2 .4M250.8 458.6l.2 .1M208.7 481.5l0 0M187.4 451.2l-.1 .3M194.2 451.3l-.2 .2M190.9 473l.4 .3M223.3 468l-.1 0M249 482.9l.1 0M225.8 443.1l0 .1M190.2 490l-.2 .2M205.2 478.1l-.1 .1M230.2 468.9l-.1 .1M213.5 489.7l0 .2M213.7 461.8l.3 .1M205.3 443l0 0M228.9 491.2l0 .5M252 476.8l-.2 .1M210.1 490.1l-.1 .1M209.2 479l-.3 .3M191 489.8l-.3 .1M247 487.1l0 0M232.9 485.7l.3 .3M239.1 490l0 0"/>
<path stroke="#7e66a8" stroke-opacity="0.7" stroke-width="1.87" d="M251.9 456.7l0 0M228.4 465.8l-.3 .2M252.5 467.4l0 0M242.7 477.4l.3 .3M232.1 449.2l.1 .1M212.9 449.7l0 0M237 468.3l-.1 .3M194.1 481.5l0 0M237.4 470.1l.4 .2M203.4 459.4l-.1 .1M229.7 490l.3 0M253.6 479.4l-.3 .1M201.8 484.6l0 0M226.5 474.9l-.2 .1M226.8 486.5l.2 .1M250.5 463.7l0 .3M257.5 472.6l0 .1M258.3 454.5l.4 0M239.9 468.8l-.2 .4M197.8 471.2l-.1 .2M199.1 444.4l.1 .1M208.6 487.3l.4 .2M219.1 459l-.3 .1M227.2 451.1l0 0M195 476.1l-.1 .1M244.3 458.6l.4 0M229.4 479.8l-.4 .2"/>
<path stroke="#7e66a8" stroke-opacity="0.7" stroke-width="2.4" d="M240 485.2l-.2 .5M226.2 477.8l-.2 .1M253.1 482.9l0 .2M229.9 459.3l-.4 .2M229.9 463.7l.5 0M218.9 488.3l-.4 .5M192 480.3l-.4 .1M233.3 447.5l-.2 .1M204.2 463.3l-.3 .4M205.9 483.9l-.3 0M194.4 452.1l-.4 0M235 437.9l.1 .2M247.7 458.6l-.2 .1M225.3 472.2l-.2 .1M255.3 458.3l0 .5M231.2 469.7l.5 .2M202 491.5l.1 .1M220 488.5l.1 .2M188.7 463.8l-.4 .2M193 455.3l-.1 .4M212.9 479.1l0 0M245.5 478.8l.1 .2M215.2 478.6l0 0M206.9 436.5l.2 .5M228.1 453.3l-.1 .2M200.8 489.2l.2 0M207.6 469.8l-.2 .5M193 452.2l-.4 .3M246.9 484.2l.3 .2M192.6 458.4l0 .5M198.8 492l-.3 .1"/>
<path stroke="#7e66a8" stroke-opacity="0.7" stroke-width="2.93" d="M231.4 472.6l-.2 .3M224.6 450.6l-.2 .3M194.2 468.9l-.2 .2M215.8 452.3l-.3 .5M190.7 481.9l.6 .2M236.8 451.9l.1 .1M247 441.6l0 .5M256.3 451.8l-.1 .5M225.4 488.5l.2 .6M225.2 442.4l.5 .2M255.3 442.7l0 .6M249.1 441.3l-.2 .4M244.3 438.3l-.1 0M185.2 483.9l0 .5M209 460.3l.1 .6M239.6 474.2l-.4 .4M215.4 466.5l.2 .3M196.4 489.7l0 .1M214.4 476.4l-.3 .7M200.5 437.9l.3 .1M236.8 472.9l.1 .1M242.1 480.7l-.5 0M258.6 438.5l.2 .6M245.9 466l.3 .6M231.5 492l.5 .5M245.7 456.9l.4 .1M212.5 442.8l.3 .6M212.7 472.2l-.1 .7M187.9 468.5l-.5 .4M216.2 461.4l.4 .4M226.1 443.5l0 .1M190.3 459.6l0 0"/>
</g>
<circle cx="220" cy="456" r="3.6" fill="none" stroke="#7a62a6" stroke-width="1.2" filter="url(#bl)"/>
<circle cx="211" cy="470" r="2.6" fill="none" stroke="#8a72b0" stroke-width="0.9" filter="url(#bl)"/>
<ellipse cx="190" cy="461" rx="3" ry="2" fill="#6e5a9c" fill-opacity="0.8" filter="url(#hb)"/>
<ellipse cx="246" cy="446" rx="3" ry="2" fill="#7a66a6" fill-opacity="0.7" filter="url(#hb)"/>
</g>
<g clip-path="url(#c16)">
<rect x="259.5" y="438.7" width="76.7" height="51.6" fill="#9078b0"/>
<ellipse cx="266" cy="470" rx="7" ry="20" fill="#c8aed0" fill-opacity="0.8" filter="url(#sb)"/>
<ellipse cx="330" cy="470" rx="6" ry="14" fill="#c4a8cc" fill-opacity="0.7" filter="url(#sb)"/>
<g filter="url(#hb)" stroke-linecap="round" fill="none">
<path stroke="#c0a4ca" stroke-opacity="0.75" stroke-width="2.33" d="M287.5 438.6l-.1 0M301.4 461l0 0M330.1 486.3l-.2 .3M328.7 466.8l-.1 .2M267.3 446.6l.3 .2M273.8 468.3l-.2 .2M320.5 444.8l.1 .5M334.5 481.8l-.3 .2M263.6 473.6l0 0M257.9 453.4l.1 .1M274.3 450.7l0 0M290 441.5l.5 .1M313.1 463.6l.6 .1M325.8 483.3l.3 .4M286.5 444.4l-.2 .2M279 460.4l.5 .2M335.9 478.8l0 0M315.6 460.2l0 .1M325.1 460.1l0 .4M318.5 451.9l.4 .2M336.3 469.1l-.1 .3M326.3 439.3l0 .2M333 476.4l0 0M321.2 483.1l.2 .2M331.1 440.2l-.1 .2M288.9 443.3l.1 0M261.6 442.9l.3 .4M294.7 436.7l0 0M277.3 451.3l-.2 .4M325.6 441l.1 .1M276.8 458l.4 .4M258.3 475l-.1 .2M299.5 472.3l0 0M310.2 472.9l-.1 .2M273.3 475.2l.2 .3M276.5 438.9l0 0M303.6 459.7l.3 .2M276.5 452.9l.1 0M321.1 436.7l.2 .3"/>
<path stroke="#c0a4ca" stroke-opacity="0.75" stroke-width="3" d="M290.7 446.9l.3 0M276.3 451.9l-.3 .1M314.3 452.2l-.1 .1M322.9 473.1l.4 .3M273.8 476.7l.3 .2M311.9 487.8l-.2 .3M257.8 451.2l0 0M301.6 454.3l.2 .1M317.9 476.5l-.2 .1M277.1 443.1l.3 .2M319.6 441.2l-.6 .1M333.8 474.8l-.3 .5M266.5 491.2l-.2 .3M333.2 463.6l.1 .1M295.2 443.5l.3 0M276.3 453.3l.1 .1M330.4 453.7l0 0M334.2 476l.1 .2M301.6 465.7l.1 .2M261 462.5l-.1 .1M337.3 457.4l-.4 .3M301.7 490.4l0 .1M295.8 456.7l.4 .3M280.6 449l.3 .1M292.5 463.9l-.4 0M333.2 478.3l0 .3M289.5 480.8l-.5 .1M264 454l0 0M316.5 443.8l-.2 .1M317.7 468l.1 0M266.3 472.2l0 0M332.6 487.9l-.2 .5M309.5 462.3l-.3 .2M264.3 489.2l-.7 .1M290.7 437.1l0 .1M282.7 470.3l-.3 .3M333.1 474l-.3 .2M286.9 457.2l.2 .1M273 468.8l-.4 .2"/>
<path stroke="#c0a4ca" stroke-opacity="0.75" stroke-width="3.67" d="M336.7 439.6l-.4 .2M270.2 477.7l-.3 .2M269.4 441.3l.5 .8M278.3 478.5l.6 .4M312.7 467.6l0 0M305.8 463.4l.1 0M315.9 486.4l.5 .7M320.1 451.2l.4 .5M259.5 469.4l.1 .1M274.9 484.2l-.2 .3M326.6 443.1l.1 .3M325.3 473.4l0 .4M274.5 458.4l0 0M274.6 469.2l-.8 .4M268.9 459.3l-.2 .3M284.8 472.5l.1 .3M283 444.4l-.2 .2M261.9 460.7l-.7 .5M327.6 448.4l-.7 .5M293.3 486.1l.2 .7M333.8 450.8l.1 0M323.7 450.2l.2 0M299.5 449.7l.7 .1M312.9 483.3l0 .2M311.1 450.3l.2 .2M301.3 472.8l-.2 .3M332.4 438.8l-.3 .2M280.4 471.7l.6 .4M316.2 491l.4 0M278.1 475.2l-.4 0M284.8 462l.1 0M288 484.9l.7 .2M299.4 443.6l.6 .3M271.2 466.4l-.1 .9M265 461.6l-.4 .1M283.1 489.3l-.6 .2M290.4 443.1l0 .9M277.9 474.2l.1 .1M329.7 479.2l.1 .2M298.4 438.2l-.3 .5M323.9 453.3l.1 .2M290.1 448.9l-.1 .5"/>
<path stroke="#5c4890" stroke-opacity="0.8" stroke-width="1.83" d="M264.8 438.7l0 .1M295.8 483.3l0 0M288 476.4l.1 .1M276.5 486.9l0 .1M283.9 475.8l0 0M318.3 483.5l0 0M329.3 470.9l0 0M320.5 476.9l.1 .2M278.5 449.6l0 0M319.4 452.4l-.3 .3M281.2 472.6l.1 .2M272.6 488.2l0 0M286.7 437.3l.1 .3M338.1 459.3l.2 0M286.7 470.1l-.3 .4M307.7 479l0 0M270 451.4l-.1 0M331.4 457.3l.4 .2M293.1 447.9l-.1 .1M261.6 489.1l.1 .2M310.5 490.2l0 .2M325.8 438.9l.4 .2M306.6 468.6l-.2 0M268.2 459.4l-.3 0M331.6 477.7l.1 .3M325.2 445.2l0 .2M310.2 490l-.1 .1M338.2 464.4l-.1 0M289.6 449.9l-.1 .1M259 446.9l.2 0M315.7 467.1l-.2 .4M258.8 478.7l0 0M323.3 464.4l.4 .2M329.2 469.8l-.3 .2M266 437.4l.2 .1M290.8 489.6l.2 .3M318.6 457.1l0 0M273.2 458.2l-.1 .4M304.1 453.2l-.4 .1M329.8 440.1l-.2 .2M260.7 452.3l.1 0M279.8 491.2l0 0M269.7 443.9l.2 .3M330.3 450.4l0 0M283.9 455l0 .4M332.1 454.5l-.2 .3M295 466.7l-.1 .4M279.3 488.2l0 .5M263.8 448l-.1 .1M328.3 440.7l0 .2M284.8 454.4l0 0M268.8 479.6l-.3 .1M311.8 476.7l0 .4M303.5 487.1l.4 .1M283 472.7l.4 .2M323.3 456.8l-.1 0M329.1 488.9l-.3 .2M281.8 466.5l-.1 .1M274.4 456.1l0 0M323.8 459.9l0 .2M318.3 456l-.1 .1M310.1 489.1l0 .1M291.2 484l0 .2M331.2 479.2l.1 .1M331 456.9l.1 .2M263.4 459.1l0 .1M305.6 446.7l-.1 .1M336.8 470.1l-.3 .3M290.7 490.7l-.1 .1M319.6 453.8l.1 .1M266.1 473.7l-.1 .1M317.5 436.6l-.3 .2M290 489.2l-.1 0M312 451.8l.4 .1M299.5 455.2l.2 .2M310.5 491.8l.1 0M334.5 469.6l.2 .1M291.3 437.4l0 .3M271.2 469.1l.1 .1M291.4 462.5l.1 .3M303 451.1l.2 0M296.1 487.8l-.3 .2M309.3 482.8l-.2 .2M322.1 450.1l0 0M258.2 471l.2 .2M305.8 483.8l.2 0M280.7 465.5l-.2 .3M335.8 483.9l.2 0M306 449.5l.2 .4M295.1 480l-.1 .1M280.1 458.9l.1 .1M284.2 437.4l-.1 .2M286 470.7l-.4 .2M329.7 449.9l-.3 .1M318.4 446.5l0 0M305.2 470.8l.3 .3M309.7 464.9l-.1 .1M315.5 490.9l.1 .1M311.2 469.9l.1 .1M258.4 438l0 .1M334.6 487.3l.3 .1M287.4 441.7l0 .2M264.2 479.6l0 .1M337.9 445.5l.2 0M312.2 491.3l0 .1M278.8 471.1l.1 0M313.8 486.1l0 0M322.9 475.3l0 0M272.3 481.1l.1 .3M310.5 465.4l.1 .2M337.5 482.6l.1 .3M263.3 443.5l.2 .2M271.3 442.6l0 0M308.7 440l.2 .1M334.6 450.9l-.1 0M280.4 445.7l-.3 .2M307 477l.3 .2M297.5 490.6l.1 .1M319.7 474.8l-.1 .1M258.8 439.2l-.4 0M262.9 486.1l.3 0M269.5 443l-.2 .3M264 484.1l0 0M316.1 491.5l0 .3M262.5 459l-.2 .2M302.3 463.6l.3 .2M323.4 487.7l.3 .1M323.1 490.3l-.1 .3M331.1 439.4l.2 0M288.3 485.7l.1 .1M307.2 459l.3 .3M321.9 478.7l-.2 0M301.6 473.2l0 0M265.9 464.8l0 0M289.9 453.8l-.1 .1M279.5 453.8l0 .1M261.8 465l.1 .3M298.4 448.4l.2 .2M318.3 469.8l-.1 .4M265.9 442.5l-.1 .1M313.5 482.1l.1 .2M266.3 474.2l-.2 .4M303.8 458.8l0 .1M273.2 443.1l0 0M297.9 450.8l.2 .3M327.2 472.4l0 0M272.7 448.6l.2 .2M260.1 443.7l-.2 .2M288.4 466.2l.2 .1M324.2 444.8l-.2 .1M292.1 437.6l0 .1M310.4 491.6l-.1 .1M292.8 488.3l.1 0M291.7 448.4l.1 .1M313.3 450l-.3 .3M307.8 483.1l-.3 .2"/>
<path stroke="#5c4890" stroke-opacity="0.8" stroke-width="2.3" d="M277 461.6l-.1 .1M289.7 447.7l-.2 .1M298 440.5l-.3 .1M300.6 443.4l-.3 .2M282.1 471.3l-.1 0M309.7 445.1l.5 .2M290.8 442.3l-.1 .1M322.7 450.7l-.2 0M320.6 466.4l-.4 .3M271 491.5l-.5 .1M300 474.3l-.2 .3M322.5 487l-.3 .2M261.6 480.1l.1 0M267.4 466.9l-.3 .2M304.8 467.2l.3 .5M335 483.8l.3 .5M317.4 486.1l.1 .1M295.4 456.5l.1 0M272.3 463.3l.2 .1M324 446.5l-.1 .3M258.6 477.6l.3 0M306.7 487.5l0 0M335.3 479.6l-.1 .1M287.1 454.6l-.4 .4M329.8 449.4l.1 .1M275.7 457.3l0 .5M326.8 443.5l0 .3M293.8 465.4l.1 .4M308.4 470.2l-.1 .2M302.1 450.1l.1 .2M299.2 460.9l.1 .1M263 477.7l.1 .5M288 484.3l0 0M330.8 460.2l-.5 .2M274.4 478.1l-.1 0M330 450.1l0 0M301.5 475.5l-.1 .1M264.6 476.8l0 .6M282.6 438.3l.5 0M319.6 477.9l0 0M330.3 483.2l-.2 .2M310.3 457.8l-.2 .1M338 446.1l0 .3M288.9 442.1l0 .4M281.3 461.9l-.4 0M333.5 490.8l.1 .2M316.9 477.8l-.5 .1M320.7 438l.3 .2M272.6 467.9l-.1 .1M258.4 444l.4 .4M258.4 473.1l.3 .3M337.1 450.7l-.1 .3M314.5 436.7l-.1 .2M278.9 459.2l.1 .2M303.1 490.1l-.1 0M337.9 483.3l.1 .1M302.6 465.5l.2 .1M332.9 491.1l-.1 .1M299.5 460.7l-.3 .3M303 450.8l-.1 .3M271.7 456.5l-.1 .2M307.5 470.1l-.1 .1M300.7 442l-.2 .2M279 442.3l0 .1M262.9 444.7l-.1 .1M306.8 464.3l-.3 .2M263.1 490.9l.2 .4M305.9 479.1l-.2 .4M323.3 491.8l.5 .1M316.3 476.8l-.4 .2M330.7 472.3l.2 .3M287.5 486.8l.4 .3M303.3 488.9l.2 .3M324.6 447.7l-.2 .4M335.8 459.2l0 .4M310.3 468.4l-.1 .2M336.9 445l-.1 0M281 456.4l.4 .2M265.6 468.7l.3 .2M265.6 476.3l-.2 .1M297.8 440l-.1 0M285.5 465.3l0 0M312.3 464l-.4 .2M337.4 488.5l-.4 .2M283.5 490.6l-.2 .4M280.9 491.4l-.2 .3M313.4 471.7l-.4 .1M283.1 441.6l.5 0M318.1 443.1l-.1 .1M291.9 490.8l0 .1M301.8 471.4l.1 0M319.8 483.8l0 .3M317.1 456.8l-.1 .3M315.4 458.6l-.2 .1M266.9 489.2l.2 .4M332.3 464.6l.4 .4M338 464.3l-.3 .3M307.3 491.5l.1 .3M327.6 438.7l.5 .2M328.4 440.9l0 .1M261.5 450.7l.2 .3M308 469.1l0 0M263.1 469.4l-.2 0M321.1 465.4l0 0M317.7 481.4l-.4 0M275.3 477.5l.3 0M276.6 477.6l-.3 .3M328 479.2l-.1 .2M264.2 461.2l.4 .1M306.2 453l0 .1M327.1 465l0 .5M284.8 456.7l.4 .4M296.5 441.4l.1 0M306.5 446.8l.3 .1M328.9 488.9l.3 .1M309 485.8l-.3 .3M313.2 476.7l-.5 .1M294.8 445.6l-.2 .2M335.7 442.6l-.2 0M301.4 491.4l.5 0M319 470.1l-.1 .1M281.3 489.4l.4 0M315.6 456.5l.1 .1M333.3 468.2l.5 .3M302.4 453.8l-.1 .4M272.4 477.8l.5 .3M277.1 491.7l-.1 0M285.3 486.9l-.1 .2M290.4 445.5l-.1 .1M295.7 437.4l.1 0M262.4 443.4l0 0M289.2 479.4l0 0M290.7 447.5l-.4 .3M321.8 455l0 .1M292.8 462.8l-.1 .2"/>
<path stroke="#5c4890" stroke-opacity="0.8" stroke-width="2.77" d="M258.4 442.1l.3 .4M268.7 441.4l0 .2M306.6 469.6l0 .2M257.8 451.4l.1 .4M310.2 464.9l-.1 .3M294.5 489.1l.3 .2M291.9 465.6l0 .1M287.2 469.4l-.1 .3M314.4 484l-.4 .3M310.3 478.2l-.2 .3M327.5 451.2l-.1 .2M331.3 442.3l0 0M266.2 477.8l-.5 0M308.2 487.1l-.4 .5M319.6 488.4l-.1 .3M336.3 442.7l-.1 0M285.5 453.2l-.2 .2M286.8 453.2l.4 .1M280.9 487.4l-.2 .7M322.5 448.6l-.5 .4M336.7 452.9l-.7 .1M320.2 457.9l.3 .1M322.2 437.7l-.3 0M294.9 484l.2 .2M294.2 464.4l.4 .1M260.5 449.6l.2 .5M321.8 465.4l-.3 .2M258.2 452.2l-.2 .4M288.9 488.8l.4 .1M316.8 444.3l-.3 0M330.9 459.7l0 .2M302.5 467.1l.5 .4M337.1 468.7l.3 .1M264.8 463.7l.5 .4M282.4 476.9l0 .2M283.4 483.5l-.4 .4M292.1 472.7l0 .1M332.2 472.7l-.2 .6M290.9 466l.2 .1M312.2 453.7l.4 .2M285.4 464.8l-.5 .3M271 467.7l-.4 .2M334.9 443.5l0 0M329.7 446.2l0 .6M289.2 455.7l.5 0M280.8 437.2l-.3 .2M328 481.5l-.1 .2M317.4 487.9l.4 .2M271.8 465.9l.2 .2M332.1 470.5l-.2 .4M313.2 474.2l-.3 .1M327.5 440.6l0 .1M312.8 451.6l.2 .4M260.6 449.5l.3 .1M306.3 472l-.1 0M271.8 453.5l.6 .3M304 462.6l0 .1M262.7 450.6l0 0M320.9 448.7l.4 .2M257.9 470.2l-.2 .5M261.3 481.7l0 0M277.2 447.1l0 .3M316.4 487.2l-.1 .1M261.8 443l-.6 .2M283.7 467.6l0 .2M290.6 454.4l0 .1M290 481.2l-.6 0M277.2 479.8l-.6 0M270.3 465.1l-.1 .2M321.4 444.4l.3 .3M289.6 438.5l-.1 .1M318.9 478.5l.1 0M283.8 474l.3 .4M264.9 483.8l-.1 .3M327.2 475.9l.1 .3M317.7 461.6l.1 .3M277.1 481.7l-.1 .5M332.7 479.3l0 .2M273.2 469.2l0 0M269.1 458.8l0 .3M323.7 479.3l.1 .3M332.9 457.3l-.2 .1M267.7 471.7l-.1 .1M258.7 476.2l-.3 .1M325.9 479.8l.2 .3M262.9 484.6l-.2 .2M308.3 465l.5 .2M312.2 453.9l-.6 .1M284.5 442.7l0 0M284.3 445.2l-.3 .3M326.9 453.8l.1 .6M319.9 446.5l-.5 .5M334.7 466.2l-.1 .2M277.7 446l-.1 .2M260.2 471.1l0 .1M297.9 448.1l0 .1M282.6 482.1l-.4 .3M271 451.1l-.4 .4M279.4 467.3l.3 .4M287.7 456.6l.1 .6M307.8 470.3l.3 .3M287.9 480.2l0 0M292.8 481.4l-.2 .2M315.1 470l.3 .6M319.3 438.1l.1 .2M272.5 486l-.2 .1M336.9 473.3l-.4 .2M295.8 455.5l-.3 .1M328.8 470.8l-.5 .1M300.7 471.3l-.1 .2M271.4 463.3l-.1 .1M260.9 474.3l0 0M306.4 465.2l-.3 .6M271.6 468.6l-.2 .1M335.3 459.7l.4 .4M289.5 482.2l.2 .1M264.8 476.9l.3 .6M270.7 465.1l.3 .5M326.5 453.1l.1 .2M325.8 443.5l.1 .2M309.5 460.8l-.5 0M327.3 462.5l-.4 .1M284.3 477.1l-.2 .3M270 467.1l-.4 .3M335.7 454.1l-.5 .1M281.6 476l0 .1M315.8 463.2l.2 .1M290.9 439.7l-.2 .2M310.3 466.1l.4 .4M278.5 487.4l0 0M272.9 464.3l-.5 0M284.5 449l-.5 .2M284.5 465.5l.4 .3M307.8 450l0 .1M306 480.3l-.2 .3M321.5 441.7l-.1 .2M306.8 471.6l-.1 .1M271 445.5l0 .3M275.8 491l0 0M278.3 476.4l.3 .2M334.5 442.7l.2 .3M295.5 489.4l0 0M259.9 445.3l-.1 .1M276.6 454.2l0 0M317.9 476.7l-.5 .4M328.3 459.2l-.2 .2M320.2 486.2l-.4 .3M316.3 471.5l-.3 0M316.1 479.5l.3 .1M337.9 452.1l0 0M317.9 479.1l.1 .6M275.7 470.2l-.1 .2M332.8 442.8l.3 .5M277.6 486.6l.4 .6M316.3 450.5l0 .4M296.9 477.7l-.3 .6M264 481.8l.2 .4M311.4 485.3l-.1 .3M281.5 437.2l0 .2"/>
<path stroke="#44347a" stroke-opacity="0.85" stroke-width="1.37" d="M266.3 445.1l-.2 .2M276.1 467.2l-.3 .1M315.4 457.9l.1 .1M277.2 492l-.3 0M277.4 444.5l-.2 0M324.1 453.1l.3 .1M286.1 450.3l-.1 .1M297.1 473.2l-.2 .3M303.1 454.7l0 .1M315.6 453.9l0 .2M304.3 483.7l.3 .1M284.4 462.8l.1 .1M314.9 480.3l.1 .1M273.1 482.5l.1 .2M337.3 465.4l0 .1M286.7 480.6l-.1 .1M287.2 462.4l.1 .3M321.5 451.9l-.2 0M317.3 485l0 0M289.1 474.3l0 .1M276 442l0 0M312.8 459.3l-.2 .1M281.1 466l-.2 0M268.4 454.4l0 .3M314.4 476.1l.1 0M299.1 454.7l0 .2M293.1 468.6l0 0M310.5 452l.2 0M261.5 459.3l0 0M335 484.3l-.2 .1M277.6 473.7l0 .1M309.7 452.6l0 .1M295.8 477.7l0 .1M266 448.7l.1 .2M259.6 474.8l.3 .1M261.8 447.3l.3 .1M329 491.7l.2 .1M258.9 483.4l-.1 .1M332.5 463.3l0 .1M296.6 481.7l-.1 .2M303 448.2l-.1 .1"/>
<path stroke="#44347a" stroke-opacity="0.85" stroke-width="1.7" d="M305.8 478.2l.1 .2M304.1 468l0 0M306.6 474.7l.1 .1M279.4 482.2l.4 .1M270.7 482.4l-.2 .1M290.2 461.9l-.3 .2M263.7 444.1l.2 0M308 481.8l.1 .2M334.7 438.4l-.1 .3M282.1 479.9l0 .1M315.2 449.6l.1 .2M329.1 470.5l.1 .1M319.9 462.4l0 .2M319.6 463.8l-.1 .1M323.5 450.1l0 0M310.1 469.9l-.3 .2M280.9 453.2l-.1 0M257.6 441.8l0 .2M280.1 472.1l0 .1M312.1 470.3l0 .1M302 460.2l-.1 0M330 483.5l0 .1M295.7 454.1l0 .1M336.4 473.6l.3 .3M315.6 485.7l.1 .1M294.7 456.8l-.1 .2M293.9 440.4l0 .1M306.6 475.5l-.4 .2M320 461.9l0 .1M301.3 464.5l.2 .1M285.6 452.2l0 0M333.6 476.9l0 .3M316.1 467.9l.3 .3M304.8 473l-.2 .1M319.1 441.9l.3 .1"/>
<path stroke="#44347a" stroke-opacity="0.85" stroke-width="2.03" d="M270.7 470.8l.3 .1M274.9 439l-.1 0M300.6 468.2l0 .1M337.7 482l.5 .2M285.6 476.7l.1 0M319.3 455l-.3 .2M322.3 449.3l-.3 .1M326 490.5l-.4 .2M296.5 451.6l0 0M286.7 489l-.1 0M308.1 477.6l.4 .2M288.1 467.2l.2 .1M292.9 463.1l-.2 .2M338.1 449.2l.1 0M259.2 466.9l0 0M301.2 458.7l.3 .1M290.1 481l0 .1M260 474.4l.1 .1M323.8 438.5l.1 .3M320.2 448.8l.3 0M286.8 439.3l-.1 0M331.5 472.7l0 0M268.6 463.9l.3 .4M286.2 447.5l.3 .2"/>
</g>
<polygon points="317.7,438.7 336.2,438.7 336.2,455.2 330,451 322,444" fill="#f3eff4" fill-opacity="1" filter="url(#hb)"/>
<polygon points="259.5,470 262,472 262,486 259.5,488" fill="#f0ecf2" fill-opacity="0.9" filter="url(#hb)"/>
</g>
<g clip-path="url(#c17)">
<rect x="339.2" y="438.7" width="68.6" height="51.6" fill="#b4a4cc"/>
<ellipse cx="345" cy="470" rx="6" ry="16" fill="#d4b4cc" fill-opacity="0.8" filter="url(#sb)"/>
<g filter="url(#hb)" stroke-linecap="round" fill="none">
<path stroke="#8474b8" stroke-opacity="0.9" stroke-width="4.98" d="M370.8 440.3l-.7 .1M399.6 441.5l.1 .3M376.7 451.9l.3 .1M372.4 469.5l.1 .6M348 472l-.2 .6M379.6 471.8l-.1 .8M389.3 453.7l.2 .3M356.1 487.3l-.1 .4M394.2 489.7l-.1 0M366.1 445.4l.5 .1M404.6 472.2l0 0M396.1 440.8l-.1 .2M407.1 469.6l-.2 .4M386 455.4l0 .1M355.2 446.8l.3 .6M401.3 465.8l.7 .3M400.9 489l-.4 .2M376.4 469.8l.3 .5M352.5 473l-.3 0M347.5 485.4l.3 .1M341.8 469.8l.3 .6M356.3 488.6l0 0M391 465.9l-.1 .1M395 484.8l.5 .2M389.5 477.5l-.3 .2M354.3 443.4l.1 .3M391.7 445.8l.2 .5M355.2 469.5l0 0M348.3 485.4l-.3 .2M399.4 475.5l-.2 .7M383.5 443.5l-.2 .2M348.2 481.2l-.4 .1M386.5 482.1l-.1 0M363.5 449.1l.3 .1M349.8 473.5l-.1 .3M340.5 480.3l-.1 .1M350.4 484l-.5 .3M404 480.4l-.3 .1M379.8 444.4l-.2 .2M359.9 451l.1 .3M402.9 485.8l.4 .2M400.8 460l0 0M369.5 459.3l.6 .5M360.7 476.4l-.1 .4M382.5 439.8l-.1 0M398.2 466.5l0 .2M363.2 455.6l-.1 .4M357.6 475.4l-.1 0M396.8 478.3l.3 .7M342.8 446l-.3 .4M407.3 470.4l-.5 .6M356 484.8l-.2 .5M404.7 488.8l0 .1M399.6 475.7l.3 .7M341.6 468.3l.7 .1M372.1 489.4l0 0M356.4 467.5l-.1 0M396 480.9l-.7 .3M370.1 458.4l-.3 .2M389.9 475.4l0 .5M341.6 457l0 .3M376.1 469.7l-.7 .2M403.9 471.5l.3 .5M371.2 482l.5 .3M399.3 471.4l0 .3M357.2 464.4l-.1 .2M404 440.7l.3 .1M404.7 443.1l-.2 .1M370.9 449.5l-.3 .2M353.3 478.6l0 .2M343.6 464.7l.3 .1M384 458.2l.6 0M354.8 457.8l.2 .4M362.2 456.8l.2 .3M392.4 485l-.2 .6M371.5 461.6l-.2 .3M407.4 441.1l-.1 .1M364.2 454.6l.6 .4M355 484.6l.2 .1M369 467.8l.5 .1M406.2 458.4l-.2 .2M375.6 480.8l.5 .1M389.2 484.8l-.1 .1M392.9 444.6l.4 .2M364.4 441.9l-.1 .8M343.7 445.2l.3 .4M389.7 470.6l.2 .3M377.9 483l.3 .5M403.7 461.6l.2 .2M384.8 445.7l0 0M352.4 445.4l.3 .2"/>
<path stroke="#8474b8" stroke-opacity="0.9" stroke-width="5.59" d="M381.5 484.4l0 .5M373.9 471.9l.1 .4M391.2 461.7l.1 .2M391.7 483.2l.3 .3M348.3 447.9l.1 .3M394 468l-.8 .2M397.4 477.1l.1 .9M340.9 469.8l0 0M383.7 472.9l.6 .3M382.5 479.9l.2 .1M353.5 444.8l.1 .2M364.6 474.4l.2 .1M350.3 442.9l.1 .3M366.1 452.9l-.7 .2M372.8 447.7l.8 .1M388.4 444.8l-.7 .5M393.3 457.5l.1 .2M349.5 441.2l-.5 .3M371.6 448.9l-.4 .7M368.2 471.7l-.2 .6M345.3 481.3l0 .7M349.7 477.3l-.4 .6M401.9 464.7l.1 .1M381.8 456.7l.2 0M404 462.9l-.5 .2M403.1 465.5l.8 .3M339.1 481.3l.9 .2M376.9 463.5l0 0M404.3 444.5l.5 .2M384.6 481.1l.9 .2M347.2 479.1l-.3 0M400.8 472.8l-.3 .3M341.9 468.4l0 .1M405.6 488l.1 0M374.9 473.6l-.2 .1M347.2 472.9l-.3 .7M353.9 483.4l0 0M402.5 455.4l-.5 .1M366.1 464.3l.2 .1M382.3 454.9l0 0M386.8 465.5l-.7 .1M353.9 474.4l.4 .1M341.5 448.5l-.4 .1M356.6 484l-.4 .3M375.7 449.8l0 .1M382.3 484.3l-.4 .2M380.1 472.4l-.3 .2M342.5 448.3l.1 .1M344.5 487.3l-.6 .5M398.4 478.2l-.3 .5M357.5 478.1l.1 .4M377.6 478.7l-.5 .4M350.6 442.8l0 0M341.6 485.8l.7 .1M359.6 461.1l-.2 .8M342.7 469.1l.4 .2M382.4 473.2l.5 .2M343 460.8l0 .8M343.3 484.6l.6 .3M376.7 454.4l-.3 .8M344.7 461.2l-.7 .5M404.8 480.3l-.2 .5M379.9 478.4l0 0M362 470.2l.1 .1M352.8 483.4l-.7 0M397.3 483.9l-.1 .3M384.5 459.4l-.4 .7M379.6 453.5l.2 .2M399 475.5l-.2 .3M399.1 444.9l.1 0M393 484.3l-.8 0M368.6 450.3l0 0M389.3 479.4l.1 .1M347.7 479.8l-.3 .3M385.2 486.1l.5 .7M354 465.2l-.6 .3M351.1 471.6l.3 .6M350.5 472.8l-.1 .5M391.9 484.2l0 .3M344.8 488.3l.1 .2M393.1 455.5l.3 .3M399.7 483l0 .8M393 482l-.3 .2M377.4 445.5l-.2 .1M379.3 447.5l-.1 .3M398.4 479.5l0 .1M399.5 439.9l-.3 .3M373.1 485.8l-.4 .1M377 461.1l-.4 .5M353 481.4l.3 0M407 475l-.1 .7M376.8 458l-.3 .1M351.4 476.9l-.8 .2M364.4 453.6l.1 .8M386.6 455.9l-.2 .2M399.5 486.4l0 .1M340.6 485.6l-.6 .3M385.4 468.8l-.3 .3M401.7 471.8l-.4 .2M367.6 465.8l.6 .1M362.6 489.1l.5 .4M390.6 458.4l0 .5M389.9 486l0 .1M380.3 485.3l-.1 .2M341.3 489.4l-.1 0M395.4 477.4l.6 .2M342 460.2l-.6 .2M384.3 467.9l.6 .3M403.3 465.1l0 0M354.8 489.4l.9 .1M354.9 447.3l.1 0M361.6 449.8l.2 0M374.4 446l-.1 .5M406.6 461.6l.2 .3M360.7 484.4l.1 .2M352.8 453.5l.1 .7M394.8 460.2l-.6 .2"/>
<path stroke="#8474b8" stroke-opacity="0.9" stroke-width="6.2" d="M349.7 479l.1 .4M349.1 440.3l-.1 0M375.8 471.7l.1 .1M356.3 467.6l-.5 .4M349.9 480.6l.3 .1M366.2 482.4l.8 .1M367.3 479.6l.3 .9M403.2 470l.1 .7M347 444.9l.1 .6M370.3 479.3l-.1 .1M385.6 487.1l-.9 0M406.6 467.8l-.2 .8M394.9 486.7l-.2 .3M401.8 465.6l-.9 .2M391.8 487.5l-.4 .3M342.6 474.9l.1 .1M351.3 475.2l.4 .1M395.7 450.4l.5 .6M391.5 456.1l.2 .1M405.2 471.3l-.1 0M364.5 455.7l0 .1M357.8 476.3l-.1 .1M391.9 442l.2 .1M347.1 482.6l-.2 .3M387.2 479.1l-.7 .6M348.7 463.7l.2 .4M404.7 476.3l0 0M366.7 465.1l-1 0M384 458.4l-.1 .4M367.5 454.1l-.2 .5M365.1 456l.2 .6M399 443.4l-.5 .1M346.1 465.4l-.8 .3M347.8 486.7l0 .1M372.6 453.9l.8 .2M381.3 475.2l0 .7M379.9 456l-.2 .5M383.5 456.4l-.1 0M380.3 465.2l.7 .2M381.7 450.5l-.4 .1M380.8 475.1l.2 .3M389.2 453.8l.1 .3M398.3 462.3l.1 .7M380.1 460.3l.5 .5M405.1 447.4l.1 .1M406.5 454.8l-.4 .9M386.6 486.9l-.5 .1M380.2 470.5l.3 .7M350.5 453.5l0 .5M360.8 484.4l-.3 .3M383 444.3l-.2 .2M345.1 489.9l0 .7M406.8 479.8l.8 .3M381.7 487.4l-.4 .2M357 450.8l0 .1M361.5 485.5l0 0M344.2 444.6l.7 .6M397.9 455.2l.8 .5M404.9 475.2l-.5 .5M385.2 478.2l0 .2M405.1 449.7l-.9 .1M372.6 439.4l-.2 .2M348.1 439.8l.5 .4M342.5 466.9l.4 .2M400.9 460.3l0 .4M362.7 454.9l.1 .1M342.8 487.7l.1 0M359.1 450.1l-.1 .9M406.9 471.5l.3 .2M386.7 456.3l0 .1M400.3 480.1l0 0M377.7 480.2l.8 0M400.5 447l-.5 .5M372.6 480.8l-.3 .7M378.2 490.1l0 0M383 486.5l.4 0M380.9 459.4l0 .2M347 485.1l.2 .1M353.8 451.1l.9 .1M388.1 475.1l-.2 .5M399.5 470.3l-.4 .5M379.7 448.4l.4 .7M343.1 479.9l-.2 .1M356.8 479.2l.1 .1M379.6 484.2l.3 .1M340.2 464.8l.4 .6M340.3 459.6l0 .4M345.6 449.7l-.2 .4M404.5 476.2l.2 .4M396.7 477.2l.3 .8M404.6 441.8l.4 .3M407.4 459.5l-.2 .1"/>
<path stroke="#504096" stroke-opacity="0.85" stroke-width="2.88" d="M370.5 439.9l-.6 0M399.3 441.1l0 .2M377.2 451.6l.2 .1M372.3 469.1l.1 .5M348.4 471.8l-.2 .5M379.6 472.2l0 .6M389.2 454l.2 .2M356 487.4l-.1 .4M393.6 489.6l-.1 0M366.2 445.7l.4 .1M404.3 472.6l0 0M396 440.7l0 .2M406.7 469.6l-.1 .3M386.5 455.9l0 0M355.8 447.3l.2 .5M401.2 465.7l.6 .2M400.8 488.9l-.3 .2M376.3 469.7l.2 .4M352.3 473l-.3 0M347.3 485.6l.3 .1M342.2 469.3l.2 .5M356.6 488.6l0 0M391 466.2l-.1 .1M394.8 484.7l.4 .2M389.7 476.9l-.2 .2M354 443.3l.1 .2M391.7 445.7l.2 .4M355.3 470.1l0 0M348.3 485.5l-.2 .1M399 475.8l-.2 .6M383.8 443.3l-.2 .1M347.9 481.2l-.3 0M386.9 482.6l-.1 0M364.1 448.8l.3 .1M350.3 473.8l-.1 .2M340 479.7l-.1 .1M350.7 483.7l-.4 .2M403.7 480.5l-.3 .1M379.5 444.7l-.2 .2M360.3 451.2l.1 .2M403 485.8l.3 .2M400.3 459.4l0 0M370 459.5l.5 .4M361.1 475.9l-.1 .3M382.8 439.9l-.1 0M397.7 466.3l0 .1M363.4 456l-.1 .3M357.6 475.3l0 0M396.7 478.6l.2 .6M342.7 445.5l-.2 .3M407.8 470.3l-.4 .5M356.4 484.8l-.1 .4M405.2 488.3l0 .1M399.1 475.4l.2 .6M341.6 468.5l.5 .1M372.6 489.5l0 0M356.3 467.1l-.1 0M395.6 480.6l-.6 .2M369.8 458l-.2 .1M390.2 475.6l0 .4M341.5 457l0 .2M375.7 469.2l-.6 .2M404.2 471.1l.2 .4M371.5 482.5l.4 .2M399.4 471.1l0 .3M357.1 464.7l-.1 .2M404.1 440.9l.2 0M404.5 443.3l-.1 .1M370.6 449.4l-.2 .1M353 478.9l0 .2M343.1 465l.2 .1M384.3 457.9l.5 0M354.7 458.4l.2 .3M362.7 457l.2 .2M391.8 485.2l-.2 .5M371.6 461.1l-.2 .3M407.7 441l-.1 .1M364.8 454.7l.5 .3M354.8 485l.1 .1M368.9 468.3l.4 .1M405.8 459l-.2 .1M375.2 480.5l.4 .1M389 484.7l-.1 .1M393.2 444.3l.3 .2M363.8 442.3l-.1 .6M343.9 444.8l.2 .3M389.8 470.5l.2 .3M377.4 483.2l.2 .4M403.4 461.4l.2 .2M384.9 446.2l0 0M352.5 445.5l.2 .2"/>
<path stroke="#504096" stroke-opacity="0.85" stroke-width="3.22" d="M381.8 484.3l0 .4M374.5 471.7l.1 .4M391.8 461.4l.1 .1M392.2 483.3l.3 .2M347.8 448.4l.1 .2M394.1 468.1l-.7 .2M397 477.5l.1 .7M341.4 470l0 0M383.8 472.8l.5 .2M382.8 479.8l.1 .1M352.9 445l0 .2M364.3 473.8l.1 .1M350.5 443.4l.1 .3M366.4 453.5l-.6 .2M372.8 447.3l.6 .1M388.4 444.6l-.5 .4M393.5 457.2l.1 .2M350 440.9l-.4 .2M371 449.3l-.3 .5M367.7 471.4l-.1 .5M345.4 481.3l0 .5M349 477.1l-.3 .5M402.1 464.8l.1 0M381.4 456.3l.1 0M404.3 462.7l-.4 .2M402.6 465.2l.7 .3M339.3 482l.7 .2M377 463.7l0 0M403.8 445l.4 .1M384.5 480.8l.7 .1M346.8 479.1l-.2 0M401.2 473.2l-.3 .2M342.4 468.5l0 .1M406 487.5l.1 0M374.8 473l-.2 .1M347.1 472.9l-.3 .5M353.5 482.8l0 0M402.9 455.2l-.4 .1M365.6 464.7l.2 .1M382.6 454.3l0 0M386.3 465.9l-.6 .1M354 473.8l.3 .1M341.4 448.3l-.3 .1M356.3 483.4l-.3 .2M376.3 450.3l0 .1M381.8 484.9l-.3 .1M380.1 472.4l-.2 .2M342.5 448.2l.1 .1M344.9 487l-.4 .4M397.9 478.1l-.2 .4M357.1 478.7l.1 .3M377.7 479.2l-.4 .3M350.3 442.5l0 0M342 485.5l.5 .1M359.7 460.8l-.2 .6M342.5 469.3l.3 .2M382.2 472.8l.4 .2M342.9 460.5l0 .6M343.7 484l.5 .2M376.1 453.9l-.3 .7M344.8 461.4l-.6 .4M404.3 480.6l-.2 .4M379.6 478.5l0 0M362.3 470.5l.1 .1M352.2 483.4l-.6 0M396.9 484.2l0 .2M384.4 459.4l-.3 .5M379 453.7l.2 .1M399 475l-.1 .3M398.9 444.5l.1 0M392.6 483.8l-.6 0M369.2 450.3l0 0M389.6 479.5l.1 .1M348 480.2l-.2 .3M385.1 486.7l.4 .6M354.1 464.9l-.5 .3M350.8 472l.2 .5M350.3 473.1l0 .4M391.9 484.5l0 .3M345.1 487.7l0 .1M392.7 456l.2 .2M400 482.9l0 .6M393.5 482.3l-.2 .1M376.9 445l-.2 .1M379.9 448.1l-.1 .2M398.9 479.5l0 .1M399.5 439.4l-.3 .3M373.5 485.1l-.3 .1M377.1 461l-.3 .4M353.5 481.9l.2 0M407.4 475l-.1 .6M376.5 458l-.3 .1M351.9 476.6l-.6 .1M363.8 454.1l0 .6M386.1 455.7l-.1 .1M399.4 486.9l0 .1M340.8 485.4l-.4 .2M385.3 468.8l-.2 .2M401.2 471.4l-.3 .2M367.9 465.4l.4 .1M362.5 489.6l.4 .3M390.7 457.9l0 .4M389.4 486.6l0 .1M380.7 484.8l-.1 .2M340.8 489.9l-.1 0M395.7 477.1l.4 .2M341.6 460.5l-.5 .2M384.9 468l.5 .2M403.3 465.1l0 0M354.8 489.6l.7 .1M354.6 447.7l.1 0M361.9 449.3l.2 0M374.5 445.8l-.1 .4M406.7 461.1l.1 .2M360.4 484.6l.1 .2M352.8 453.8l0 .5M395.2 460.5l-.5 .2"/>
<path stroke="#504096" stroke-opacity="0.85" stroke-width="3.58" d="M349.3 479.5l.1 .3M349.5 440.9l-.1 0M375.8 471.5l.1 .1M356 467.2l-.4 .3M350 480.5l.3 .1M366 482.5l.6 .1M367.9 479.3l.2 .8M403.9 470.8l.1 .5M346.8 445l.1 .5M369.7 478.8l-.1 .1M385.1 486.8l-.7 0M406.2 467.6l-.2 .6M394.7 486.8l-.2 .3M401.9 466l-.7 .2M392.2 487.9l-.3 .3M342.9 474.5l.1 0M351.9 475.4l.3 0M395 451.2l.4 .5M392 455.9l.2 0M405.8 471.9l-.1 0M364.9 456.4l0 .1M357.4 476.1l-.1 .1M392.5 441.6l.1 .1M347.3 482.1l-.1 .2M386.9 479.6l-.6 .5M349.3 463.7l.2 .3M404.3 476.3l0 0M366.3 465.3l-.8 0M384.5 458.9l-.1 .3M368.1 454.3l-.1 .4M365.4 456.5l.2 .5M398.9 444.1l-.4 .1M345.9 465.5l-.7 .3M348.5 487.3l0 .1M372.4 454.3l.7 .2M381.9 474.7l0 .6M379.5 456.7l-.2 .4M383.3 455.7l-.1 0M379.6 464.7l.5 .1M381.9 450.4l-.3 .1M381.2 475.4l.2 .3M388.5 454.1l.1 .3M398.8 462.5l.1 .6M380.3 460.2l.4 .4M404.7 447.3l.1 .1M406.7 454.3l-.3 .7M386.4 486.4l-.4 0M380 470.6l.2 .6M350.8 452.9l0 .4M360.5 484.8l-.2 .2M383.5 444.8l-.2 .1M344.6 490.3l0 .6M407.1 480.1l.6 .3M381.3 488l-.3 .1M357 451.3l0 .1M361 485.9l0 0M343.9 444.3l.6 .4M398.3 455.4l.6 .4M404.9 474.5l-.4 .4M385.1 478.4l0 .1M405.5 450.2l-.8 .1M372.7 439.9l-.2 .2M347.6 439.8l.4 .3M343.1 467.4l.3 .2M401.3 460.6l0 .3M362.1 454.5l.1 .1M342.3 487.4l0 0M359.2 450.5l0 .7M406.8 471.9l.2 .2M386.5 456.7l0 .1M400.9 480.3l0 0M377.2 479.9l.7 0M400.6 446.7l-.4 .4M372.7 480.5l-.3 .5M378.1 490.1l0 0M383.7 486.5l.3 0M381.1 458.8l0 .2M346.4 485l.2 .1M353.4 450.9l.7 .1M387.8 475.9l-.2 .4M399.2 469.7l-.3 .4M380.2 447.8l.3 .5M343.8 479.9l-.2 .1M356.1 479.8l0 .1M379.8 483.9l.3 .1M340 464.4l.3 .5M340.9 459.9l0 .3M346.3 449.4l-.2 .3M404.6 476.6l.1 .3M396.5 477.9l.2 .6M404.7 441.5l.3 .2M407 459.9l-.1 .1"/>
</g>
<path d="M367 439 q2 6 0.5 13 M356 466 q2 4 1.5 10 M399 445 q0 6 -1.5 11 M386 475 q3 1 5 3 M368 488 h7 M345 447 q2 3 1 7" fill="none" stroke="#e2d8ec" stroke-width="2.6" stroke-linecap="round" stroke-opacity="0.85" filter="url(#bl2)"/>
<ellipse cx="370" cy="460" rx="1.8" ry="1.8" fill="#eee8f2" fill-opacity="0.9" filter="url(#hb)"/>
</g>
<g clip-path="url(#c18)">
<rect x="186.8" y="511.7" width="70.1" height="51.8" fill="#9cb6de"/>
<ellipse cx="190" cy="537" rx="4" ry="26" fill="#8aa0d0" fill-opacity="0.6" filter="url(#sb)"/>
<g filter="url(#hb)" stroke-linecap="round" fill="none">
<path stroke="#c6d6ee" stroke-opacity="0.8" stroke-width="1.83" d="M186.8 529.6l.1 .2M209.8 533.9l0 .1M204 532.4l0 .1M220.8 539.8l-.4 0M216.1 531.9l0 0M255.8 530.2l-.3 .2M249.4 549.3l.1 0M192.8 519.1l0 .2M238.7 539.2l-.3 .2M232.4 543.5l-.2 0M219.6 525.7l.2 .2M224.6 546.6l.2 .2M236.3 561.3l0 .1M241.5 518l.1 .2M212.9 536.3l-.1 .1M195.7 525.6l0 .2M244.5 513.8l.1 .2M253 532.1l.1 0M199.9 521.9l0 0M256.5 530.1l.3 .3M245.2 558.7l.2 .2M223.7 526.4l0 0M188.4 523.2l0 0M232.2 523.6l-.3 .1M250.1 518l0 .1M250.7 548.2l-.1 .2M189.5 538.9l.1 .1M207.1 561.1l0 .1M192.8 565.4l.2 .2M207.8 515.2l0 .2M191.1 561.2l.1 .4M258.6 530.7l.3 0M190.8 561.6l.1 .1M195.6 515.2l-.1 .1M238.5 544.5l0 0M252.8 561.7l0 0M214.2 522.2l-.4 .1M219.6 510.6l.3 .3M206.7 557.3l0 .1M243.5 555.4l-.2 .4M200.6 529.6l-.2 0M187.4 557.7l0 0M235.3 558.1l0 .1M186.5 532.5l-.4 0M245.4 550.8l0 .1M198.4 523.6l0 0M204.8 562.3l0 0M190.6 531.5l-.2 .3M253.3 536.7l-.1 .2M240.3 554.6l0 0M226.7 526.5l-.1 .1M210.5 542.1l-.1 .4M190.3 517.6l-.1 .3M201.9 527.4l.1 .2M222.6 539.5l0 0M216.8 542.9l.1 .2M190.7 536.7l-.3 .1M190.7 534l.1 .1M210.8 560.6l.4 .1M234.2 521.7l.1 0M252.5 531.6l.1 0M243.2 527.5l0 .1M214.1 550.6l.3 0M256.9 558.8l.3 .4M257.6 556.9l-.1 0M233.5 529.9l-.2 0M237.5 512.3l-.1 0M194.1 536.1l.2 .3M189.2 541.1l.2 .2M257.5 518l.3 .1M200.1 521.4l-.1 0M209.1 517l0 0M202 514.5l0 .2M221.8 518.9l-.2 .1M228.7 540.9l-.3 .2M237.3 511.1l.2 .3M200.1 523.5l.1 .1M201 548.6l-.1 .1M224.8 524.4l-.1 .2M215.4 513.9l0 0M196.4 551.3l-.1 .2M221.9 550.8l0 0M254.9 518.2l-.1 .1M240.5 561.9l0 0M201.9 540.3l-.2 .1M221 554.4l0 0M221.6 510.2l-.2 .2"/>
<path stroke="#c6d6ee" stroke-opacity="0.8" stroke-width="2.3" d="M221.5 540.7l-.1 .1M251.8 550.8l.1 .2M216.1 515.5l.1 .4M193.3 529.4l0 0M254.2 526.7l.1 .3M214.3 545.8l-.1 .5M215 536.7l.4 .3M197.5 535.3l-.5 .1M248.9 546.4l.1 0M213.3 555.7l-.1 .1M234.6 527.7l-.4 .1M199.5 556.3l.3 .3M203.5 523.5l0 .3M248.7 545.1l.5 0M243.1 533.3l.4 .3M213.1 534.9l-.2 0M220.6 523l-.2 .5M202.1 523.6l.3 .1M213.4 534.3l-.4 .3M258.5 523.5l.1 .2M224.3 544.6l0 .4M200.2 537.4l0 .1M227.2 542.4l0 .2M253.3 541.3l0 .3M215.2 531.5l0 0M212.6 520.1l-.4 .2M235.1 520.3l0 0M214.2 522l-.5 0M244.8 531.8l0 .4M245.3 526l.2 .2M229.3 552.4l0 .1M255.1 524.8l0 0M190.1 518l-.2 .1M208.2 543.2l0 0M194.2 551.6l.3 .1M190 524.7l-.1 .3M242.2 547.5l.4 .1M220.3 528.3l-.1 .4M233 556.4l.1 .1M185.6 526.6l-.3 .4M229.4 529.4l.2 .3M258.3 517.3l0 0M206.7 533l.2 .1M206 512.4l-.2 .4M232.2 549.4l-.1 .4M241.3 514.8l0 0M231.3 514.2l-.3 0M221.9 529.2l-.5 .3M215 533.7l0 0M240.7 542.9l.1 .2M228 565.3l-.5 .3M244.7 526.4l-.1 .1M208.9 527.9l-.2 .3M226.3 527.1l-.4 .1M193.2 527.6l-.2 .1M229.3 539.9l-.5 .3M190.3 524.6l.2 .2M237.9 509.7l.2 .1M202.9 538.2l-.4 0M192.7 558l.3 .4M189.9 560.6l0 .1M205.3 525.3l0 .3M213.4 539l.2 .3M240.3 525.2l0 .2M247.7 556.2l.3 .3M195.9 516.5l-.3 .2M209.5 534.6l0 .4M212.9 511.9l.2 0M240.4 530.7l-.3 .2M201.1 562.6l.4 .2M244.3 512.6l0 .4"/>
<path stroke="#c6d6ee" stroke-opacity="0.8" stroke-width="2.77" d="M197.3 544.7l-.2 .4M212.4 555.4l-.1 .1M251.2 556.2l.1 .3M228.4 514.6l.4 .2M217.3 545.5l-.3 .3M250.1 527.6l-.4 .1M241.5 515.3l.4 .1M218.9 525.4l-.5 .3M219 561.6l.5 .1M246.5 540.9l0 0M230 527.7l.2 .3M228.1 534.2l-.2 .3M208 518.5l0 0M195.5 530.4l-.3 .3M244.8 521.2l-.1 .7M219.7 565.3l.5 .2M194.1 544.8l0 .7M232.1 543.4l-.1 0M191.5 522.9l.1 .1M219.8 534.4l.1 .1M235.1 513.5l-.5 .3M187.1 553.2l0 0M242.4 523.7l0 0M225.9 549.5l.3 .1M246.3 528.2l.4 .2M216.4 509.9l-.1 .3M242.4 541l.3 .4M243 522.5l.5 .3M213.8 535l0 .1M190 562.6l.2 .5M193.8 515.4l.4 .5M242.4 527.3l-.6 .3M242.3 537.3l-.4 .3M238.6 563.9l.1 .3M244.4 523.6l0 0M224 515.5l.3 .1M224.5 523.4l.6 .2M252.8 527.5l-.2 .2M188.6 536.3l-.4 .3M204.1 541l-.2 .3M227 534.4l0 .6M223 545.7l-.3 .2M190.6 536.5l.1 .3M205.8 535.4l-.2 .5M191.2 556l.2 .5M231.5 548.7l-.1 0M229.5 551.1l-.3 .1M231 532l-.1 0M257.8 549.2l0 .1M196.6 521l-.5 .5M239.3 536.4l0 .6M226.8 551.4l.6 .2M196.6 559.4l0 .1M221.6 545.8l-.2 .2M192.1 544.5l-.1 .2M187.7 561l.4 .2M227.2 517.9l.4 .2M235 511.7l.2 .1M258.2 530.2l.3 .5M241.7 511.4l.5 .1M194.4 545.8l.3 .2M186.1 525.9l-.3 .2M252.3 539.4l-.4 .3M184.9 529.7l-.1 .1M245 521l.1 0M224 518l-.2 .1M192.4 543.4l.2 .4M217.8 531.4l-.5 0M212.4 529l.6 .2M245.6 519.6l.4 .2M234.9 540.2l0 0M203.1 527.7l.5 .4M241.8 512.5l-.6 .3M190.3 537.3l-.3 .5M233.4 510.5l0 .1M235.9 557.1l.1 0M252.4 556.4l.6 .1M217 514.9l.1 .6M204.8 511l-.6 0M221.8 536l-.3 .3M257.9 523.3l-.2 .2M251.8 554.3l.5 0"/>
<path stroke="#86a2d0" stroke-opacity="0.75" stroke-width="1.6" d="M214.4 524.8l0 0M198.8 563.7l.2 .2M228 532.7l0 .2M233.7 560.2l.1 .2M201.8 523.8l.2 .3M185 532l-.2 .1M190 530.9l.3 .1M249 545.7l.1 .2M192.3 515.5l0 .3M234.8 512.6l0 .1M225.2 553.2l-.1 0M248.7 529.2l0 .1M216.9 523.4l.2 0M243.9 520l.2 0M189.2 522.9l0 0M222.8 557.1l.1 .1M220.6 513.3l0 0M209.4 509.8l0 0M234.8 554.4l-.2 .1M186.9 562.3l-.1 .3M194.7 541.1l0 .2M246.5 563.4l-.1 .3M230.6 553.9l.3 .1M213.7 526.6l.2 .1M198.7 538.8l.1 .1M257.7 564.6l-.2 .1M253.5 553.1l.1 .3M234.6 540.5l.2 .3M252.7 560.6l0 .4M189.3 524.1l.1 .1M242.8 509.8l.1 .1M249.6 517.5l0 .1M228.3 542.2l-.1 .4M240.7 532.6l0 0M257.1 524.1l.1 .1M226.1 552.5l.3 .2M255.2 527.3l.2 .1M237.9 517.3l.2 .1M243.8 514l-.2 .1M205.6 527.9l-.1 .1M187.3 521.5l.1 .3M240.4 543.2l.1 .1M218 537.4l0 0M235.7 543.3l-.2 .1M186 530.3l.1 0M188 542.7l-.2 .1M248.2 531.9l-.3 .1M210.1 554.1l.2 .1M257 519.2l.3 .1M232.2 562.1l0 .3M255.8 534.8l.1 .1M201.1 545.3l.1 .1M251.5 546.1l.2 .2M246.5 553.2l0 0M237.8 537.9l0 .2M219.3 520l.3 .1M205.4 560.5l-.2 .1M230.3 520.7l0 .1M250.5 512.8l-.4 .1M188.4 540.1l.3 .3M199.4 527.8l-.2 0M221.4 537.4l-.3 .1M246.8 550l.2 .1M237.1 518.3l.2 .1M242 533.1l-.2 0M194.5 532.1l.1 0M245.8 544.7l-.1 .2M241.5 559.5l0 .1M191.8 535l.1 0M233.3 555.2l-.1 .3M254.1 535.2l0 0M208.8 551.6l-.3 .2M218.2 545.1l.1 .1M244 511.2l.2 .1M228.2 552.8l-.1 .3M224.3 560.8l-.3 .1M240.3 520.6l.1 .2M210.5 542.5l-.3 .2M225.1 530.5l.3 .1M189.3 545.7l0 0M258.2 553.2l-.2 .1M253.8 561l.1 .1M213.6 533.7l.1 .1M209.8 531.8l-.1 0M192.4 534.4l-.1 .3M192.3 517.6l.1 0M247.9 524.7l.1 .3M249.3 543.7l0 .1M224.5 542.4l0 0M247.1 524.6l-.2 .3M212.5 539l0 0M257.7 560.1l.2 .2M241 555.9l0 .2M256.4 552.1l0 0M246.4 532.2l-.2 .1M230 513.6l-.1 0M207.6 539.3l0 .1M237.6 520.3l.2 0M208.7 544.5l-.3 .3M214.2 553.1l-.1 0M228.3 559.1l-.3 0M187.8 525.3l0 .1M230.5 533.1l-.2 0M236 553.3l0 .2M231.6 540.3l-.1 0M232.9 528l-.2 .3"/>
<path stroke="#86a2d0" stroke-opacity="0.75" stroke-width="2" d="M251.2 527.1l-.3 .3M245.4 535.3l-.5 0M200.1 544.1l.1 .5M210.6 548l.1 .2M199.1 513.3l0 0M258.5 512.7l.4 .2M195.2 543.9l.1 .1M216.2 554.6l0 .1M188.2 517l.1 .1M241.7 555.4l.4 .3M201.9 564.5l-.2 .3M194.3 522.5l0 0M200 514l-.2 .3M206.1 548.6l.3 .1M225.3 560.7l.3 .1M244.3 545.4l-.2 .1M253.4 517.7l0 0M196.6 538.3l0 0M187.7 546.1l-.2 0M203.8 552.6l.1 .1M235.8 510.1l0 0M248 518.1l0 .1M243.4 541.8l0 .3M219 555.6l-.1 .2M245.8 540.2l0 0M228.2 523.8l.1 .4M213.3 545.4l-.2 .2M238.3 552.2l-.1 0M226.6 541.8l0 .1M229.5 556l.2 .1M234.5 511l0 0M194.4 534.4l.2 .1M209.6 558.6l0 .3M249.7 532.7l.2 .3M248.7 534.9l0 0M253.9 553l0 0M216.1 560.8l-.1 .2M213.7 526.1l-.3 .4M244.3 534l0 0M249.3 560.4l.1 .1M224 528.4l0 .1M244.5 556.8l.3 .1M247.2 513.7l-.2 .2M203.4 538l-.4 .3M222.2 526.5l.1 .1M209.8 554.5l.1 .4M205.9 547.3l.1 .1M203.6 557l-.3 0M191 564.1l-.2 .4M224.5 536.6l-.3 .1M196.9 528.9l.1 .2M201.3 526.7l0 .4M245.7 524.2l-.5 .1M186.9 533.4l.4 .2M210 545.9l0 .1M186.2 555.4l.3 .3M222.4 543.5l.2 .4M225.8 515.5l.4 0M227.5 535.2l-.4 .1M216 521.1l-.1 .3M216 563l.1 0M226.2 513.4l.2 .1M256.1 549.8l-.3 .4M190.9 526.7l.2 .1M217.9 544.7l-.4 .1M230.5 546l.1 .4M207.3 519.5l-.2 .2M236.1 516.5l.2 .1M242.4 559.7l-.2 .3M203.3 517.2l-.1 .2M188.3 555.2l-.1 .2M254.2 510.3l-.4 .1M238.8 539.7l-.3 .3M194.2 533l.5 .1M221.4 558.7l.2 .4M240.3 524.3l.2 0M256.7 521.8l.2 .1M246.4 557.4l0 .1M203.8 557.5l-.1 0M233.1 519.7l.2 .4M206.7 527.9l.3 .1M239.7 541.6l.1 0M250.4 557.3l0 .2M191.5 562.8l0 .1M235 542l-.1 .2M231.8 540.7l.5 0M238.4 542.6l-.1 .5M220.8 530.1l-.1 .2M242.4 538l-.2 .1M214.9 549.3l.3 .2M196.8 560.7l.4 .3M203.1 538.9l-.3 .1M221.6 520.6l.4 .1M226.2 514.4l.4 0M186 535.4l.4 .1M215.6 512.7l0 .3M249.2 564.8l-.4 .2M189.6 512l.2 .1M188 557.1l.2 .2M199.9 557.5l-.3 .2M254.9 556.3l.1 .1M185.1 533.8l-.3 .1M246.1 524.2l-.1 .2"/>
<path stroke="#86a2d0" stroke-opacity="0.75" stroke-width="2.4" d="M216.3 511.2l-.3 .5M242.6 517.6l.1 .3M247.6 554.1l.4 .2M214.1 518.7l.4 .1M228.7 551.9l0 .1M215.8 555.6l.3 .5M200.6 526l0 .2M229.4 528.8l-.1 .1M185.8 520.6l0 .1M245.9 553.3l-.1 0M216.6 563.8l-.3 .2M194.7 548l0 .2M201 533.6l.1 0M196 535.4l-.1 .2M228.4 517.3l-.1 .2M239.1 522l-.4 .2M221.3 522.2l-.1 .6M211.2 519.2l0 0M227.2 564.1l0 .5M221.7 549.4l0 .2M205.1 514.6l.1 0M255.4 532.9l0 0M187.9 558.8l-.1 .4M220.2 534.6l.1 0M217.1 548.9l.1 .1M230.5 520l-.1 .1M242.3 528.5l-.5 .1M213.2 512.7l0 .1M239.6 534.7l-.3 .5M258.5 536.4l.5 .2M186.5 527.3l-.5 .1M187 559l0 .1M230.2 516.9l.2 .1M223.2 560l-.1 .3M209.5 563.2l-.1 .3M219.9 523l.4 .5M255.3 546.7l-.4 .2M240.6 510.4l-.1 .1M255 516.2l0 0M227.9 557.3l0 .1M225 517l0 .1M233.5 518.6l0 0M225.5 513l0 0M240.4 528.7l.1 .1M239.3 528.2l0 .3M249.5 541.7l0 0M210.7 513l-.4 .2M194.4 557.7l.2 .5M216.1 520.3l-.1 .1M230.7 559.8l.1 .2M249.1 532.1l-.1 .2M249.1 556.3l0 0M223 538.3l0 .4M255.8 533.5l.1 0M222.1 519.6l.5 .2M255.8 538.2l.1 .6M227 554.5l0 0M230.1 528.3l0 .2M192.4 565l.4 .4M213.1 512.8l0 .4M198.1 557.9l0 .1M214.6 528.8l-.2 .2M211.5 546.5l-.2 0M245.9 554.9l.1 .4M231.8 551.4l-.2 .5M185.8 538.8l0 .2M221.6 560.3l.4 .3M238.4 559.2l.1 0M258.3 525.1l.1 .2M251.6 524.6l0 .4M230.9 538.2l.1 .2M238.9 558.5l-.5 .1M254.8 541.4l.1 .1M217.9 520.1l.3 .2M240.3 532.6l.1 .2M233.6 516.2l-.3 .2M223.9 512.3l.5 .2M242.1 534.4l.1 .1M233.4 519.7l0 0M197.7 553.8l.2 .1M190.6 553.6l0 .1M237.8 552.6l-.5 .1M232.2 529.2l.2 .5M206.4 529.3l-.3 .4M219.6 551.9l.4 .3M222.8 521.8l0 0M245.4 536.6l0 .3M224.3 554.3l.1 .2M190.7 540.4l0 .1M199.9 535.5l-.2 .4M191.1 510.3l-.1 .3"/>
<path stroke="#d8b8cc" stroke-opacity="0.8" stroke-width="1.37" d="M234.3 553.1l.3 .2M185.7 515.2l-.1 .1M246.6 535.1l0 0M196.8 552.9l0 .2M236.3 532.3l0 .1M187.2 525.4l.1 0M255.1 524.3l.1 .3M184.8 525.5l0 0M189.3 561.4l-.3 0M225.2 529.8l0 0"/>
<path stroke="#d8b8cc" stroke-opacity="0.8" stroke-width="1.7" d="M253 555.7l0 0M234 549.1l-.1 .4M253.1 529.8l-.4 0M255.5 555.5l0 .4M242.4 543.2l.1 .1M228.7 541.2l-.1 0M235 542.3l0 0M217.9 531.3l0 0M248.9 519.1l.2 .2M253.1 540.5l.3 .2M229.1 512.7l0 .2M203.2 538.7l.2 .1M217.3 532l0 .4M247.3 540.8l-.1 .1M195.3 554.5l.1 .1M202.9 550.8l.1 .1"/>
<path stroke="#d8b8cc" stroke-opacity="0.8" stroke-width="2.03" d="M248.9 509.6l.2 .2M213 513.6l-.4 .1M186.6 537.6l-.2 .3M213 511.2l.5 .1M233.1 528l-.3 .3M218.1 564.1l0 .1M189.8 535.3l0 .1M187.6 538.3l-.2 .1M226.1 561.4l.1 .5M201.4 542.2l.4 .1M194.4 561.3l.1 .2M229.6 558.6l-.2 .4M188.4 519.6l0 0M188.8 511.2l-.1 .3"/>
<path stroke="#6480bc" stroke-opacity="0.7" stroke-width="1.6" d="M207.5 509.9l-.1 .1M198.7 556.3l.2 .2M199.8 542.6l-.2 0M212.9 557.3l0 .3M215.6 513.1l.3 .1M186.3 558.9l.3 .1M192.3 513.4l0 .2M252.2 532.7l.1 .2M198 527l.1 .3M189.1 530.4l.1 0M221.9 554.6l0 0M201.1 511.1l0 0M242.5 553.2l.1 0M223.4 542.5l-.3 .1M227.7 542.2l-.1 .2M226.7 524.6l-.1 .4M199.9 545.2l.2 .1M230.2 511.9l-.1 .2M258.1 511.4l0 .1M227.2 521.1l.1 .1M239.5 526.4l0 0M255.5 513.4l.2 .2M189.8 526.2l-.2 .1M195 521.8l.3 .1M193.4 559.7l0 .2M217.5 553.9l.1 0M224.6 565.3l0 .4M212.7 558.1l0 0M233.4 552.3l0 0M204.4 551.9l-.1 .1M245.6 542l0 .1M255 528l-.2 .1M212.3 552.6l.1 .4M246.5 555.1l-.1 .1M226.9 532.4l0 .2M232.5 554.4l0 0M239.5 557.4l0 0M199.9 549.8l-.1 0M256.1 543.6l0 0M199.8 521.3l0 0M242.1 553.2l0 0M228.8 520.9l-.2 .3M219.6 557.2l0 .1M255.8 526l0 0M212.6 554.6l.2 .2M226.8 538.8l0 0M187.8 524.1l.3 .2M217.1 558.7l0 .1M207 552.2l0 .3M214.5 563.8l0 .3"/>
</g>
</g>
<g clip-path="url(#c19)">
<rect x="259.4" y="511.7" width="69.8" height="51.8" fill="#b4d6ee"/>
<ellipse cx="322" cy="520" rx="8" ry="8" fill="#c4b0d0" fill-opacity="0.6" filter="url(#sb)"/>
<g filter="url(#hb)" stroke-linecap="round" fill="none">
<path stroke="#a2c6e6" stroke-opacity="0.85" stroke-width="5.55" d="M324 520.4l.3 .4M282.4 534.9l-.4 .1M273.1 542.5l-.1 .3M297 558.1l.1 0M267 526l-.6 0M325 541.2l.2 0M277.3 531.1l.3 .2M312.1 513.1l-.2 .2M285.9 553.9l-.1 .3M307.2 550.9l0 .2M323.2 548.8l.2 .4M326.7 528.6l0 .1M308.9 541.2l.4 .2M277.8 537.8l.2 .5M305.4 545l0 .4M269 534.9l0 0M301.6 543.8l0 0M305.4 528.3l.1 .1M277.2 538.5l-.1 0M321.2 539.3l.1 0M264.2 523.8l.1 0M298.1 526.8l0 0M287.1 557.2l-.2 .2M314.7 542.9l-.1 .2M271.8 533.7l.4 .3M287.4 556.4l0 .1M271.9 520.5l0 .6M301.8 529.3l0 .1M328.9 542.6l.2 .1M307.2 538.2l-.2 .1M322.4 524.4l-.2 0M308.7 514.1l0 .1M284.4 550.1l.3 .2M314.7 526.1l.2 0M324.9 530.9l.2 .4M271.5 517.5l-.1 .2M278.4 531.9l.2 .4M284.7 532.2l.2 .1M324.9 556.7l.1 .1M276 521.4l.2 .1M289.8 555.4l-.2 .5M280.3 560.3l.2 .2M293.8 552.2l0 .4M306.6 535l-.1 .4M262.4 546.4l.4 .4M321 548l0 0M295.2 515.4l-.1 0M286.3 541l-.6 .1M300.8 549.9l-.2 .5M307.5 561.5l.3 .1M326.7 529l0 .3M317.8 546.9l.4 .2M319.2 562.3l-.1 .4M304 541.9l-.1 .1M313.2 540.4l-.1 .2M267.5 514.2l0 0M301.5 542.2l0 0M265.9 526l-.1 .2M259.5 552.5l0 0M263.6 541.4l-.2 .1M261.9 553.8l0 .6"/>
<path stroke="#a2c6e6" stroke-opacity="0.85" stroke-width="6.24" d="M272.2 511.9l.6 .3M295.7 551.6l-.3 .6M291.8 560.4l-.2 .5M266.8 530.5l-.6 .3M321.9 529.3l.1 .3M303.7 529.4l.3 .1M277.5 519.3l0 .3M284.5 541.2l.6 .1M328.8 527.5l-.5 .3M279.7 511.6l-.2 .6M273 549l-.1 .1M263.5 527.2l.3 .1M313.9 560.6l0 0M304.8 560.4l.2 0M324.1 528.9l0 .6M311.7 516.3l-.1 .1M314.3 539.1l-.2 .5M315.3 519.5l0 .4M282.8 537.9l-.1 .1M316.7 525.9l-.2 .1M285.8 524.5l0 0M314.3 563.2l0 0M292.6 527.7l.2 .2M322 530.4l.4 .4M265.6 538.2l-.2 .5M325 526.9l0 0M261.5 515.7l0 .1M268.3 563l-.1 0M307.6 549.3l0 0M279.2 560.6l.1 .4M279.2 526.4l.1 .1M261.8 541.1l0 .1M294.6 541.2l.2 .3M300.2 546.3l0 .1M272.1 523l-.2 .3M302.6 523.5l.2 .1M322.8 553.2l.3 .4M279.4 560l.4 .4M327.3 520.6l-.3 .3M275.5 534.4l.1 0M273 543.6l-.5 .1M292 535.1l.1 .1M286.7 554.1l-.1 .1M264.5 518.4l.1 .1M264.8 534.3l-.4 .1M328 513.7l.4 .2M298 548.6l-.1 .4M291.1 532.4l-.1 .3M296.4 562l0 0M290.7 553.8l.3 .3M278.3 529.6l0 0M262.3 523.5l.1 .1M271.5 553.1l-.1 .2M321.2 557.3l-.1 .2M313.5 527.9l-.1 .1M298.9 557.3l.3 .1M289.3 544.1l0 .3M290.8 542l-.3 .4"/>
<path stroke="#a2c6e6" stroke-opacity="0.85" stroke-width="6.93" d="M306.2 523.1l-.1 .2M264.7 526.2l-.1 .1M306.5 527.9l-.4 0M324.8 529.6l0 .2M323.4 556.2l-.4 .4M271 526l-.3 .1M293.9 543.9l.7 .1M319.7 547.7l.1 .7M264.4 543.1l.4 .2M296.6 527.8l.2 0M325.1 520.1l.1 .3M294.1 555.5l0 0M323.8 525.5l-.1 .1M317 512l-.1 .3M290.6 511.9l0 0M285.5 524.7l.6 .4M264.3 547.6l-.1 .7M267.9 544.5l-.3 .6M282.7 539.5l-.2 .2M281.1 516.2l.1 .1M303.3 546.5l-.5 .3M266.5 563.3l.5 .2M323.4 560.9l.1 0M319.4 544.7l-.3 .1M294.2 542.9l.3 .3M264.2 516.9l.2 .2M276.3 545.9l0 .4M262.2 512.8l.3 .2M308 514.3l-.3 .1M292.9 546.2l.5 0M275.3 558l-.6 .1M297.1 516.6l-.4 0M269.4 512.6l-.5 .3M260.9 563.2l-.1 .2M309.7 523.7l.4 .1M300.9 538.1l-.3 .6M283.2 518.2l-.4 .1M320.8 553.8l.2 .2M322.4 547l.4 .4M301.2 542.6l-.3 .5M319.4 550.6l-.1 0"/>
<path stroke="#74aad6" stroke-opacity="0.7" stroke-width="2.56" d="M324.3 520.1l.2 .4M282.1 534.7l-.3 .1M272.4 542.3l-.1 .3M297.2 557.7l0 0M267.5 526.6l-.5 0M325.6 541.8l.2 0M277.4 531.4l.2 .1M312.3 513l-.1 .2M286 554l0 .3M306.6 550.7l0 .1M323.8 548.6l.2 .3M326.5 529.1l0 .1M309.4 541.5l.3 .2M277.9 538.1l.2 .4M305.5 544.8l0 .3M268.4 535.1l0 0M301.9 543.6l0 0M305.1 528l.1 .1M277.3 537.9l0 0M321 539.4l.1 0M264.5 523.3l.1 0M298 526.3l0 0M286.8 557.7l-.2 .1M314.9 542.6l-.1 .1M272.1 533.4l.3 .3M286.9 555.9l0 0M271.3 520.3l0 .5M301.7 529.2l0 .1M329 542l.1 .1M307.5 538.4l-.1 .1M323 524.2l-.1 0M309 514.6l0 .1M283.8 550.2l.2 .1M315.2 526.4l.1 0M324.8 530.7l.2 .3M271.2 517.7l-.1 .2M278 532l.1 .3M284.8 532.4l.1 .1M324.5 557l.1 .1M276.3 520.8l.1 .1M289.2 556l-.2 .4M280.7 560.9l.2 .1M293.7 552.5l0 .3M306.7 535.6l-.1 .3M262.6 545.9l.3 .3M321.5 548.3l0 0M295.8 515.4l-.1 0M286.2 541.6l-.4 .1M300.9 549.9l-.2 .4M308.1 561.9l.2 .1M327.3 528.7l0 .2M317.5 546.8l.3 .2M318.6 561.8l-.1 .4M304.5 542.1l-.1 .1M312.7 540.5l-.1 .2M266.9 514.5l0 0M301.6 542.7l0 0M265.6 526.6l-.1 .1M259.4 553.1l0 0M263.4 542l-.2 .1M261.7 554.3l0 .4"/>
<path stroke="#74aad6" stroke-opacity="0.7" stroke-width="2.88" d="M271.7 511.9l.5 .3M296 551.9l-.2 .5M291.4 560.6l-.2 .4M266.5 530.6l-.5 .2M321.8 528.6l.1 .3M303 529.7l.2 .1M276.8 519.6l0 .2M285.2 541.2l.4 .1M329.5 527l-.4 .3M279.2 511.3l-.1 .5M273.1 549.4l-.1 .1M263 526.8l.3 .1M313.5 561l0 0M305.3 560.4l.2 0M324.4 528.9l0 .5M311.9 516.9l-.1 .1M315 538.9l-.2 .4M314.9 519.9l0 .3M282.1 538.5l-.1 0M316.3 525.3l-.1 .1M285.7 524.4l0 0M314 563.9l0 0M292.9 528.4l.1 .1M322.3 530.8l.4 .3M265.9 537.8l-.2 .4M324.5 526.9l0 0M261.1 515.8l0 .1M268.1 563.1l-.1 0M307.4 549.6l0 0M279.4 560.2l0 .3M279.5 526l.1 .1M261.2 541.2l0 .1M294.8 541.2l.2 .3M300.6 546.2l0 .1M271.8 522.7l-.2 .2M302.9 523.6l.1 .1M322.3 552.5l.3 .3M278.9 559.7l.3 .3M326.8 521.1l-.3 .2M276 534.8l.1 0M272.3 543.5l-.4 .1M291.7 535.2l.1 .1M287.3 554l-.1 .1M264.5 518.8l0 .1M264.6 534.3l-.4 .1M328.7 514l.3 .1M298.4 549.3l-.1 .3M291.6 532.6l-.1 .3M295.9 561.4l0 0M290.5 554l.2 .2M278.6 529.8l0 0M262.8 523.9l.1 .1M271 552.5l-.1 .2M321.3 557.8l-.1 .1M314.2 528l-.1 0M299.4 556.7l.3 .1M289.4 543.8l0 .3M291.1 541.5l-.3 .3"/>
<path stroke="#74aad6" stroke-opacity="0.7" stroke-width="3.2" d="M306.8 523.9l-.1 .2M264.2 527l-.1 .1M306.5 527.5l-.3 0M325.5 529.5l0 .2M323.8 556.6l-.3 .3M270.6 525.6l-.3 .1M293.5 544.1l.5 .1M320 548.3l.1 .6M264.3 543.9l.3 .1M295.9 527.7l.2 0M325.7 519.9l.1 .3M294.5 555.1l0 0M323.4 525.6l-.1 0M317.7 512.4l-.1 .2M291.3 511.2l0 0M285.9 525.5l.5 .3M264.6 547.9l-.1 .6M267.1 544.5l-.3 .5M282.3 539.6l-.2 .1M280.4 515.6l.1 .1M303.1 546.2l-.4 .2M266.7 564l.4 .2M324 561.6l0 0M319.3 545.3l-.3 .1M294.1 543.7l.3 .3M263.5 516.6l.2 .2M275.6 545.3l0 .3M261.9 512.7l.2 .2M308 514.5l-.3 .1M292.9 545.7l.4 0M274.7 558.2l-.5 .1M297.6 515.8l-.3 0M269 513.2l-.4 .2M260.7 563l-.1 .1M309.4 524.5l.3 .1M300.7 537.9l-.2 .5M283.9 518.7l-.3 0M320.1 554.4l.2 .1M323 547l.3 .3M301.9 543.4l-.3 .4M320 550.8l-.1 0"/>
<path stroke="#3a7cb8" stroke-opacity="0.85" stroke-width="3.23" d="M324.6 548.6l-.1 .7M310.8 520.5l-.7 .2M298.6 553.9l-.1 .5M311.1 521.5l.3 .4M274.7 527.7l-.3 .2M300.2 515l0 .2"/>
<path stroke="#3a7cb8" stroke-opacity="0.85" stroke-width="3.7" d="M322.1 516.8l.1 .1M311.8 540.5l.5 .1M285.6 531.5l-.4 .7M310.8 531.1l.5 .5M283 558.2l.4 .6"/>
<path stroke="#3a7cb8" stroke-opacity="0.85" stroke-width="4.17" d="M265.6 547.1l.3 .7M299.1 538.6l-1 .3M279.7 559.6l.1 0M321.2 555.5l.1 0M309.4 555.1l-.2 .1M262.7 548.9l.8 .4M261 528.4l-.6 .4"/>
</g>
</g>
<g clip-path="url(#c20)">
<rect x="330.8" y="511.7" width="68.6" height="51.8" fill="#c0a6ce"/>
<g filter="url(#hb)" stroke-linecap="round" fill="none">
<path stroke="#d2bcd8" stroke-opacity="0.7" stroke-width="2.73" d="M383.3 513.9l-.2 .1M351.2 551.3l-.1 .1M396.2 510.9l-.4 .1M361.7 551l.4 .3M383.2 547.6l.2 .1M371.7 536.3l-.2 0M361.1 527.2l.1 .6M374.6 539.8l-.1 .2M350.7 555.3l-.1 0M381 524.7l0 .5M392.1 544.6l-.2 .1M367.1 555.7l-.1 .5M353.4 534.3l0 .2M348.5 538.2l-.1 .1M397.8 526.4l-.3 .2M335.4 537.5l-.1 0M337 544.5l-.1 .3M368.9 561.9l.1 0M371.6 544.1l0 .5M391.9 527l.1 .5M333.2 527.4l0 0M396.5 529.3l.2 .1M342.2 559.6l-.1 .1M401.2 559.2l-.4 .5M370.8 547.6l.1 .1M365.1 522.2l.4 .2M367.7 562.4l0 .4M394.2 513.3l.1 .1"/>
<path stroke="#d2bcd8" stroke-opacity="0.7" stroke-width="3.4" d="M360.9 526.1l.4 .1M391.8 528l.5 0M336.6 511.3l-.4 .4M357.4 534.1l.1 0M391.9 533.3l.1 .1M364.8 511.6l-.4 .3M399.4 544.3l-.3 0M345.8 560.7l-.1 .1M388.7 558l0 .3M381.9 554.4l0 .1M358.5 525.3l.1 .3M376.7 511.1l.1 .3M343.4 540.6l-.1 .5M337.4 525.5l-.3 .5M345.4 510.9l-.5 0M391.9 513.3l-.1 .5M349.7 516.1l-.4 .3M349.4 520.7l.1 .2M328.9 520.5l.4 0M369.3 518.6l-.6 .1M337.2 521.3l0 .2M359.3 553l.6 .2M345.8 548.6l-.2 .6M379.2 539.4l-.2 .5M355.3 515.9l.1 .2M377.4 561.5l.5 .1M395.8 551.6l.5 .1M369.3 540.3l.2 .1M401 512.5l.1 .2M375.7 552l.3 .3M339.1 565l-.5 .5M381.3 520.3l.7 0M337.1 518.6l.8 .1M343.1 537.4l.6 .5"/>
<path stroke="#d2bcd8" stroke-opacity="0.7" stroke-width="4.07" d="M331 560l.5 .5M373.4 533.4l-.2 .3M359.7 523.7l-.5 .1M334.3 537.4l-.8 .5M394 554.1l.4 .4M379.9 551.6l.4 .1M371.9 514.4l-.4 .1M358.5 512.6l.3 0M398.3 514l.1 .1M388.1 530.7l-.2 .6M362.3 542.4l-.1 .2M345.2 561.8l-.1 0M350.4 533.1l0 .2M372.2 511.3l0 .8M399.6 560.5l-.1 .9M396.8 511.9l1 .2M397.4 534.5l0 0M388 516.2l-.1 0M389.8 539.9l-.4 .3M401.5 527.8l-.3 .1M339.9 521l0 .1M363.7 546l.1 .6M343.6 511.3l.1 .1M342.7 542.5l-.3 .2M352.7 548.2l.3 .1M381.6 536.9l-.2 0M397.3 531l0 0M348.2 553.3l.3 .2"/>
<path stroke="#9680ba" stroke-opacity="0.8" stroke-width="2.33" d="M340.5 522.1l-.3 .4M346.1 543.5l0 .2M331.7 548.4l-.2 .1M389.1 558.9l.2 .1M383.5 518.7l0 .3M390.9 524.6l0 .3M369.8 562.1l-.3 .3M360.8 554.8l.1 .1M377.5 529.1l.3 .4M378.1 510.7l-.3 .3M337.9 543.2l0 0M388.8 563.7l-.4 .1M348.4 528.5l-.1 .2M366.8 527.5l-.3 0M397.5 526.9l0 .1M395.9 511.7l.2 .1M370.7 514.6l.3 .1M389.7 565l0 .3M370.3 511.2l-.1 .4M333.9 545l0 0M370.8 536.3l.2 .4M375.6 528.8l.1 .1M400.9 510.5l-.1 .1M385.7 528.2l-.1 .6M348.8 553.5l.4 .3M341.4 511.9l-.1 .3M375.9 559.8l-.3 .2M363.7 542.6l.3 .2M387.4 540.8l0 0M358.6 550.1l-.1 .4M343.5 530.1l.1 .1M329.8 542.4l0 .3M351.1 516.1l-.1 .1M396.9 536.1l.4 0M342.3 527.7l.3 0M347.6 516.1l.2 0M360.9 524.7l.3 .4M357 546l0 .1M371.7 535.2l.1 .2M350.6 529.5l0 .2M392.7 558.2l.4 .3M359.6 546.7l-.5 0M363.5 550.9l.1 0M376.8 511.1l.4 .2M363.4 534.1l.1 .6M357.2 547.1l.5 .1M361.3 543.2l.1 .2M369.2 521.1l0 .3M373.3 562.5l-.2 .2M377 535.7l.4 .1M394 537.4l.2 .1M338 552.4l-.1 0M368.1 537.6l0 .1M349.4 528.2l-.1 .5M335.5 554.2l.4 .2M375.2 527.1l-.2 .3M376 546.5l-.2 .4M393.4 553.3l0 .2M382.5 548.7l.5 .1M339 527.3l.3 0"/>
<path stroke="#9680ba" stroke-opacity="0.8" stroke-width="3" d="M331.1 550l-.3 .6M355.2 525.5l.1 .6M340.8 533.3l0 .3M387.3 538.6l.5 0M374.5 544.6l0 .2M330.2 510.2l0 .1M329 529.1l-.2 .3M360.6 524.8l0 .1M343.3 550.5l0 0M355.6 542.1l-.2 .2M390.3 560.5l.2 .1M362 540.6l.1 .7M338.9 564l-.1 .2M369 559.2l.5 .5M358.5 512.7l.1 .3M332.3 565.2l0 .2M369.1 530.6l0 0M339.9 560.4l-.4 .1M366 557.8l-.6 .1M378 558.3l-.2 .5M328.9 540.1l.2 .5M335.3 557.9l0 .6M391.8 534l-.2 .5M388.6 531.9l0 0M340.6 515.5l-.2 .3M338.2 530.6l-.5 .2M386.8 564.4l-.7 .2M344.9 560.7l-.3 .2M345.2 538.9l.5 .4M330.3 551.8l-.5 .2M361.2 547.3l.1 0M387.8 510.5l.7 .3M372.7 544.3l-.3 .1M383 546.2l.6 .1M372.9 546.9l0 0M368.1 562.5l.1 .5M391.8 523.6l.1 .2M383.6 520.6l-.7 .2M340.7 520.7l.2 .1M351.3 525.9l0 .4M392.8 514.7l.1 .3M374.3 563.6l.3 .2M394.9 535.9l.2 .1M341.3 562.9l-.5 .2M376.2 534.5l-.1 .1M389.6 552.7l.5 .1M393.2 520.3l-.6 .1M386.7 551.8l-.4 .4M396.4 515l-.1 .2"/>
<path stroke="#9680ba" stroke-opacity="0.8" stroke-width="3.67" d="M352.8 541.4l-.6 .5M395.5 562.4l-.4 .2M374.1 552l-.6 .7M361.3 513.8l0 0M348.3 526.7l-.2 .5M338.4 510.3l-.7 .2M350.3 528.1l.7 0M391.2 512.1l-.9 .1M395.7 534.2l.2 0M353.8 551.6l.8 .5M360.2 532.4l.1 .6M368.5 559.6l-.1 .1M348.1 522.1l.1 .1M381.1 539.8l0 .1M341.2 558.4l0 0M396.5 535.6l.1 .2M348.1 560.5l-.8 0M372 550.1l-.3 .1M346.5 535.9l.2 .7M362.8 533.3l.6 .1M378.7 520.9l-.1 .3M354.2 550.5l0 0M329.8 541.1l.4 .3M384.1 509.7l.2 .3M353.3 533l0 .4M333.2 517.8l-.5 .5M389 536.6l.8 .1M351.5 554.1l-.7 0M397.8 530.4l.3 .1M376.8 523.9l-.7 .2M395.3 536.7l-.4 .2M370 523.8l0 .2M379 550.9l.4 .1M336.7 552.9l-.3 .8M374.4 543.1l.2 .1M334 523.8l0 .6M385.6 530l.4 .1M341.8 516.2l.3 .1M384.6 531.9l0 .4M395.7 523.7l.2 .6M335.4 518.8l-.1 .9M343.1 511.9l.2 .7M359.1 531.6l-.3 .1M347.9 565.4l-.1 0M401.6 553l-.4 .2M379.7 528.4l.1 .1M399.1 553.2l.3 .6M370.7 518.9l0 .8M356 527.7l-.6 .1M368.5 512.1l.5 .1M383.7 549.1l-.9 .2M345.3 564.2l.4 .2M329.7 515.1l.3 .2M355.6 553.2l-.1 .5M384.9 534l-.2 .4M372.4 527.7l-.1 .6M366.1 523.2l.4 .1M346.3 523.1l.2 .9M358.8 556.3l-.5 .6M391.2 541.8l0 .4M351.5 523.3l0 .5"/>
<path stroke="#6c5aa0" stroke-opacity="0.8" stroke-width="1.8" d="M336.8 556.3l-.2 0M396 553.2l-.2 .4M390.7 556.2l.1 0M391.1 515.5l-.3 .3M397.1 519.2l.3 .2M347.6 511.1l0 .1M361.5 530.7l-.3 0M387 535.2l.3 .1M357.4 533l.1 .4M368.9 529.1l0 .4M368.7 542.8l.1 .3M353.6 540.4l0 0M384.5 527l.2 .2"/>
<path stroke="#6c5aa0" stroke-opacity="0.8" stroke-width="2.2" d="M399.5 548.3l-.3 .1M360.8 522.2l.1 .2M385.2 513.2l.5 .2M386.4 542.9l0 0M392.4 522.8l.3 .2M348.2 536.7l.2 .2M385.1 522.2l0 .1M342.2 515l0 0"/>
<path stroke="#6c5aa0" stroke-opacity="0.8" stroke-width="2.6" d="M361.3 528.1l.2 .5M386.3 557.2l.2 .3M338.6 521.7l-.1 .1M355.1 531.8l.4 .1M351.8 539.8l.6 .2M343.2 540.6l-.2 .1M336.5 519.3l.4 .5M388 515.8l0 0M342 564l-.3 .1"/>
</g>
<ellipse cx="360.2" cy="538.2" rx="8" ry="12" fill="#7a66a8" fill-opacity="0.6" filter="url(#sb)"/>
<path d="M361.1 541.8h0M350.8 532.7h0M362.8 543.7h0M353 535h0M359.5 537.4h0M361 539.4h0M358.9 538.4h0M359.2 535.2h0M357.4 546h0M363.2 533.1h0M360 543.9h0M362.4 529.5h0M360.5 528.3h0M366.3 541.8h0M360.8 543.5h0M357.2 547.7h0M364.6 546.2h0M363.5 535.5h0M360.4 533.3h0M361.6 534.4h0M356.6 526.2h0M359.4 533.2h0M360.6 541.4h0M359.4 546.1h0M361.8 547.6h0M357 528.1h0M370.9 537.1h0M355 543h0M367 536.3h0M353.8 538.4h0M354.3 536.5h0M358.5 551.2h0M358.2 528.9h0M364.4 534.9h0M363.1 547.9h0M361.9 533.3h0M363.7 542.2h0M360.4 544h0M363.5 531.2h0M356.7 538.3h0M363.9 547.2h0M360.3 538.1h0M367.9 548.2h0M367.3 549.1h0M375.1 525.6h0M364.5 548.5h0M363.6 526.1h0M364.1 545.9h0M359.5 549.5h0M355.6 539.3h0M351.4 545.2h0M363.1 528.4h0M358 526.3h0M356 544.6h0M364.5 541.8h0M358.6 550.1h0M361.3 537.7h0M359.5 533.9h0M361 531h0M364 524h0M357.4 519h0M356.7 538.8h0M362.8 538h0M358.8 549.8h0M360.9 529.8h0M354.9 541.2h0M355.4 539.6h0M355.5 541.8h0M358.2 532.2h0M354.5 532.5h0" stroke="#4a3a88" stroke-width="1.6" stroke-linecap="round" stroke-opacity="0.8" filter="url(#hb)"/>
<ellipse cx="378.5" cy="535.3" rx="12" ry="15" fill="#d89cbc" filter="url(#bl)"/>
<path d="M385.8 525h0M371.6 543.7h0M378.3 546.1h0M369.3 542.5h0M378.6 533.2h0M388.4 533.5h0M384.6 534.2h0M386.9 536.4h0M380.1 531.7h0M378.2 529.8h0M372.2 524.3h0M368.9 539.1h0M374.8 527.4h0M383.6 531.2h0M385.6 538.6h0M370.7 532.6h0M370.9 527.7h0M381.7 534.2h0M370.4 526.5h0M382.3 531.3h0M385.9 526.5h0M384.7 527.4h0M372.7 545.2h0M381.1 540.4h0M386.2 540.9h0M376.3 543.5h0M376.6 542.3h0M374.8 538.2h0M387 531.9h0M382.9 523.4h0M372.6 542.2h0M377.2 542.9h0M384.4 530.8h0M372.6 538.8h0M377 530.2h0M374.3 522.8h0M371.8 530.1h0M378.5 534.7h0M374 526h0M378 548.2h0M372.4 536.8h0M383.8 532.5h0M374.1 541.1h0M382.3 545.1h0M378.3 529.9h0" stroke="#e8b4cc" stroke-width="2.2" stroke-linecap="round" stroke-opacity="0.8" filter="url(#hb)"/>
<path d="M386 523 q2 6 0 10 q-3 5 1 12" fill="none" stroke="#f4eaf2" stroke-width="1" filter="url(#hb)"/>
<ellipse cx="352.9" cy="536" rx="2.5" ry="2" fill="#f4f0f4" fill-opacity="1" filter="url(#hb)"/>
<ellipse cx="365.3" cy="549.2" rx="2.5" ry="3" fill="#f4f0f4" fill-opacity="1" filter="url(#hb)"/>
</g>
<g clip-path="url(#c21)">
<rect x="401.5" y="511.7" width="69.3" height="51.8" fill="#ccb8d8"/>
<ellipse cx="462" cy="538" rx="10" ry="28" fill="#dcaac4" fill-opacity="0.95" filter="url(#sb)"/>
<ellipse cx="410" cy="545" rx="10" ry="20" fill="#ccb4d6" fill-opacity="0.9" filter="url(#sb)"/>
<g filter="url(#hb)" stroke-linecap="round" fill="none">
<path stroke="#d8c8dc" stroke-opacity="0.7" stroke-width="3.33" d="M459.6 546.1l0 .1M403.9 515.3l.5 .6M438.9 514.4l.2 .6M433.4 521.4l.4 .3M408.7 538.1l-.7 .1M450.2 548.8l-.1 .6M423.5 509.8l-.4 .7M444.7 519l-.4 .5M434.3 541.1l.2 .2M457.3 538.2l-.7 .2M454.1 537.6l.3 .1M415.1 509.5l-.7 .5M420.5 527.1l-.4 .1M460.2 527.9l.2 .4M419.9 564.8l.2 .7M431.3 530.8l-.4 .4M404.8 532.7l0 .5"/>
<path stroke="#d8c8dc" stroke-opacity="0.7" stroke-width="4" d="M434.6 544.6l-.3 .4M413.7 511.1l.7 0M462.4 559.1l-.2 .1M444.6 533.2l.1 .3M419.5 555.8l0 0M417.9 533.3l0 0M421.9 537.5l.3 .8M411.4 550.6l-.1 .3M458.8 561.6l0 0M410.3 534l.2 .4"/>
<path stroke="#d8c8dc" stroke-opacity="0.7" stroke-width="4.67" d="M414 524.4l.8 .6M415.2 550.9l0 .5M454.2 548.1l.2 0M417.2 553.7l.5 .8M449.2 560.4l-.3 0M448.8 556.3l0 .9M430.9 562l-.5 .5M433.7 564.3l.6 .1M428 563.6l-.5 .1M437.1 524.8l.1 .7M465.7 557.4l.2 0M413.6 510.1l-.8 .1M447.5 521.1l-.3 0"/>
<path stroke="#9080bc" stroke-opacity="0.9" stroke-width="4.98" d="M442.1 515l.5 .1M417.6 547l-.4 .3M449.3 543.1l0 0M416.7 518.3l.3 .3M452.4 550.1l-.6 .4M446 511.6l.1 .6M447.5 528.4l.1 .6M425.5 554.6l.1 .7M441.1 563.2l-.1 .7M414.4 562.2l0 0M428.5 541.7l-.3 0M438.5 518.9l.3 .4M449.5 535.7l0 .7M435.8 529.8l0 .1M429.9 554l-.3 .6M433.3 549.5l0 .3M435.7 528.5l0 .1M423.2 539.1l.1 .5M434.5 521.4l0 .2M438.2 549l.5 .1M444.9 563.9l-.2 .1M415.3 546l0 .2M438.6 519.3l.5 .1M427.2 518l-.4 .4M453.5 533.2l.4 .2M420 562.9l.2 .3M434.6 559.1l-.4 .1M421.3 538.6l.6 .2M450.7 544.5l.6 .1M436.2 524.2l0 .2M439.7 544.1l-.8 .1M425.5 511l.3 .4M437.6 532.6l.5 .1"/>
<path stroke="#9080bc" stroke-opacity="0.9" stroke-width="5.59" d="M428.2 523.6l.1 0M448.8 558.1l.9 .2M434.2 532.2l.1 .1M438.7 524.7l.6 .2M445.5 523.6l.1 .9M434.8 533.2l-.5 0M445.8 538.7l.3 .6M437 531l0 .7M431.5 522.5l-.8 .2M450.8 534l-.1 .2M435.9 537.9l-.6 .5M446.1 547.5l.2 .1M415.2 528.2l.4 .3M444.7 542.7l-.3 .2M443.7 546.6l.3 .2M425.2 549.8l-.8 .3M448.8 529.5l.4 .2M425.4 514.6l0 0M437.2 543.7l-.6 .6M412.4 543.7l.1 0M451.7 563.4l-.5 .2M418.8 562.3l.2 .4M416.5 553.5l.1 .7M436.2 556.6l.6 .1M436.4 562.7l.5 .4M420.5 540.1l.1 0M419.7 533.3l-.4 .2M421.8 526.5l-.1 .7M452.6 563.1l-.5 .1M428.4 556.2l0 0M441.7 552.3l-.1 .6M440.1 511.7l.2 .1M418.2 542.1l-.6 .1M441 560.6l.9 .1M444.6 528.6l.3 .1M431.1 560.5l0 .8M427.2 552.3l-.4 .1M434 551.2l.3 .2M450.4 538.7l-.4 .8"/>
<path stroke="#9080bc" stroke-opacity="0.9" stroke-width="6.2" d="M450.4 525.6l0 0M452.8 540.1l.6 .5M440 558.8l-.8 .5M451.2 527.2l0 .1M419.6 536.9l.2 .7M434.7 541.3l.9 .4M433.8 548.4l0 0M421.9 559.3l-.2 .1M423.1 517.9l-.2 .4M413.8 551.4l.8 .3M444.4 557.1l.2 .9M452.7 540.5l-.1 0M414.5 545.9l.4 .6M451.4 555.4l0 .7M441.2 531.7l-.2 .9M436.1 523.5l-.2 .2M417.1 535.5l-.1 0M415.9 538.6l-.4 .6M443.4 546.6l-.3 0M432.9 531.1l.9 0M443 561l-.2 .2M412.3 533.8l.7 .1M452.2 528l-.7 .3M421.9 539l0 .7M424.4 515.1l-.6 .4M448.4 551l.5 .8M431.2 536.9l.9 .2M450.5 546.2l-.4 0M419.6 553.2l-.5 .2M423.5 546.5l0 .3M431.8 557.8l.3 .1M445.3 530.4l.2 .1M427.3 535.5l.5 .4M425.6 527.8l.3 .9M428.1 557.2l.5 .7M442.7 561.1l0 .1M439.4 521.7l.2 .5M439.3 517.6l-.6 .5"/>
<path stroke="#4a3a8a" stroke-opacity="0.85" stroke-width="2.88" d="M441.7 515l.4 .1M417.5 547.5l-.3 .2M449.1 542.6l0 0M417 518.2l.2 .3M451.8 550.1l-.5 .3M446.4 511.2l.1 .5M447.5 528.2l.1 .5M425.8 554.6l.1 .5M440.8 563.1l-.1 .5M413.9 562.5l0 0M428 542.1l-.2 0M438.4 518.5l.2 .3M449.3 536.2l0 .6M435.3 529.5l0 .1M430.2 553.7l-.3 .5M433.8 549.6l0 .2M435.5 528.3l0 .1M423.1 539.3l0 .4M434.3 520.9l0 .1M438.7 548.8l.4 .1M444.6 563.9l-.1 .1M415.1 546.2l0 .1M438.2 519.5l.4 0M427.3 518.2l-.3 .3M453.2 532.7l.3 .2M420.2 563.2l.1 .2M435 559.4l-.3 .1M421.9 538.5l.5 .1M451.3 545.1l.4 .1M435.8 524l0 .2M439.5 543.9l-.6 .1M425.6 510.9l.3 .3M437.1 532.5l.4 .1"/>
<path stroke="#4a3a8a" stroke-opacity="0.85" stroke-width="3.22" d="M428 524.1l0 0M448.9 558.3l.7 .2M434.4 532.1l.1 .1M438.5 525.2l.4 .2M445.7 523.4l.1 .7M434.4 533.9l-.4 0M446 538.3l.3 .5M437.1 530.6l0 .6M431.8 522l-.7 .2M450.3 534.4l-.1 .1M436 537.6l-.5 .4M446 547.8l.2 .1M414.7 528.7l.4 .2M445.3 543.3l-.2 .2M443.2 546.9l.3 .1M424.7 550.4l-.6 .2M449.3 529l.3 .1M425.5 514.6l0 0M437.7 543.6l-.5 .5M413 544.2l.1 0M451.2 563.3l-.4 .2M418.6 562.9l.2 .3M417 553.2l.1 .6M436.4 556.3l.4 .1M436.9 562.8l.4 .3M420.5 539.5l.1 0M420 533.4l-.4 .2M421.5 526.3l-.1 .6M452.7 563.2l-.4 .1M428.3 555.6l0 0M441.3 552.9l-.1 .4M439.9 512.1l.1 0M418.7 542.2l-.5 .1M441.4 560.7l.7 .1M444.6 528.4l.2 .1M431.1 560l0 .6M426.6 552.8l-.3 .1M434.6 551l.2 .2M450.6 539.4l-.3 .6"/>
<path stroke="#4a3a8a" stroke-opacity="0.85" stroke-width="3.58" d="M450 524.9l0 0M452.9 539.8l.5 .4M439.9 559.5l-.7 .4M450.9 527.6l0 0M419.1 537.3l.1 .6M435.1 541.5l.7 .3M433.6 548.7l0 0M422.1 559.8l-.2 .1M422.4 518.2l-.2 .3M413.9 551l.6 .2M445 557.3l.1 .7M452.1 540.8l-.1 0M414 545.9l.3 .5M450.8 555.2l0 .6M441.5 531.1l-.2 .7M435.4 524l-.2 .2M417.6 534.9l-.1 0M416.1 538.6l-.3 .5M443.7 546.8l-.2 0M432.9 531.2l.7 0M443.6 560.5l-.2 .1M412.1 534.3l.6 .1M452 528.5l-.6 .2M421.8 539.7l0 .5M425 515.1l-.4 .3M448 551.7l.4 .7M431.7 536.6l.7 .1M450.6 546.5l-.3 0M419.8 553.3l-.4 .1M423.9 547l0 .2M431.2 557.5l.2 .1M445.3 530.4l.2 .1M426.9 535.8l.4 .3M426 528.5l.2 .7M428.4 556.6l.4 .5M442.2 561l0 0M439.4 521.3l.2 .4M439.7 517.7l-.5 .4"/>
<path stroke="#a898c8" stroke-opacity="0.8" stroke-width="4.94" d="M416.6 527.3l.7 .3M446.5 530l.3 .4M445 562.9l-.2 .4M417.4 563.3l.7 .1M440.1 515.8l0 .1M406 538l0 0M440.2 518.8l.3 .7M433.8 554.1l.3 .1M422.3 546.3l-.1 .1M470.2 513.1l-.1 0"/>
<path stroke="#a898c8" stroke-opacity="0.8" stroke-width="5.46" d="M408.2 542.8l.3 .1M428.5 548.5l-.5 .3M459.9 529.6l-.4 .6M434.9 558.3l.3 .3M454.2 526.3l-.6 .2M450.5 524.7l.1 .3"/>
<path stroke="#a898c8" stroke-opacity="0.8" stroke-width="5.98" d="M417.2 531.6l.4 .1M458.8 543.9l0 .9M418.3 518.9l0 0M406.5 554l.4 .6M453.9 548.2l.2 .6M406 521.7l-.2 .9M450.4 516.4l.1 0M469 526.1l.3 0M433.4 513.8l.4 .7"/>
<path stroke="#5a4a98" stroke-opacity="0.8" stroke-width="2.66" d="M416.5 527.7l.5 .2M446.8 529.8l.2 .3M445.4 563.3l-.1 .3M417.9 563l.6 .1M440.6 515.4l0 .1M405.6 537.8l0 0M440.7 519.4l.3 .6M433.8 554.1l.2 .1M421.8 545.9l-.1 .1M469.7 513.2l0 0"/>
<path stroke="#5a4a98" stroke-opacity="0.8" stroke-width="2.94" d="M408 542.8l.2 .1M428 548.8l-.4 .2M460.1 529.7l-.3 .5M434.9 558.7l.2 .3M454.3 526.1l-.5 .2M450.7 524.9l.1 .3"/>
<path stroke="#5a4a98" stroke-opacity="0.8" stroke-width="3.22" d="M416.6 531.7l.3 .1M459 543.8l0 .7M418.3 518.9l0 0M406.8 553.8l.3 .5M453.9 548.3l.2 .4M406.1 522.1l-.1 .7M451 515.9l.1 0M469.1 526.3l.2 0M433.5 513.8l.3 .6"/>
</g>
<ellipse cx="416.5" cy="522.9" rx="5" ry="4" fill="#f6f2f6" fill-opacity="1" filter="url(#hb)"/>
<ellipse cx="447.2" cy="554.3" rx="6" ry="5" fill="#f6f2f6" fill-opacity="1" filter="url(#hb)"/>
</g>
<g clip-path="url(#c22)">
<rect x="187.7" y="566.8" width="69.2" height="51" fill="#e2dfe2"/>
<polygon points="193.77,566.92 209.85,566.92 214.24,572.77 217.16,566.92 233.25,566.92 243.48,572.77 255.18,575.7 255.91,604.94 240.56,607.86 239.09,616.63 193.77,616.63" fill="#dcd4de" fill-opacity="1" filter="url(#hb)"/>
<polygon points="206.93,583.01 212.78,581.54 211.32,587.39 205.47,590.32" fill="#eeeaee" fill-opacity="1" filter="url(#hb)"/>
<g filter="url(#hb)" stroke-linecap="round" fill="none">
</g>
</g>
<g clip-path="url(#lu)"><path d="M242.4 582.9a1.2 1.2 0 1 0 2.3 0a1.2 1.2 0 1 0 -2.3 0M243.7 572a1.4 1.4 0 1 0 2.8 0a1.4 1.4 0 1 0 -2.8 0M226.3 597.8a1.1 1.1 0 1 0 2.1 0a1.1 1.1 0 1 0 -2.1 0M230.4 592a1.8 1.8 0 1 0 3.7 0a1.8 1.8 0 1 0 -3.7 0M190.8 615.8a1.1 1.1 0 1 0 2.2 0a1.1 1.1 0 1 0 -2.2 0M242.7 592.4a1.8 1.8 0 1 0 3.6 0a1.8 1.8 0 1 0 -3.6 0M201.3 582.7a1 1 0 1 0 2 0a1 1 0 1 0 -2 0M241 593.8a1.1 1.1 0 1 0 2.3 0a1.1 1.1 0 1 0 -2.3 0M201.7 570.2a1.1 1.1 0 1 0 2.2 0a1.1 1.1 0 1 0 -2.2 0M225.9 588.8a1.7 1.7 0 1 0 3.3 0a1.7 1.7 0 1 0 -3.3 0M193.1 609.7a2 2 0 1 0 4 0a2 2 0 1 0 -4 0M237.7 604.6a1.8 1.8 0 1 0 3.7 0a1.8 1.8 0 1 0 -3.7 0M195.4 590a1 1 0 1 0 2 0a1 1 0 1 0 -2 0M241.3 594a1 1 0 1 0 2 0a1 1 0 1 0 -2 0M218.3 606.4a1.5 1.5 0 1 0 3 0a1.5 1.5 0 1 0 -3 0M197.2 614.7a1 1 0 1 0 1.9 0a1 1 0 1 0 -1.9 0M244.8 616.6a1.7 1.7 0 1 0 3.5 0a1.7 1.7 0 1 0 -3.5 0M252.2 593.6a1.1 1.1 0 1 0 2.3 0a1.1 1.1 0 1 0 -2.3 0M219.9 604.4a1.7 1.7 0 1 0 3.5 0a1.7 1.7 0 1 0 -3.5 0M214.8 615.3a.9 .9 0 1 0 1.9 0a.9 .9 0 1 0 -1.9 0M221.9 568.1a1.3 1.3 0 1 0 2.6 0a1.3 1.3 0 1 0 -2.6 0M254.3 572.1a2 2 0 1 0 4 0a2 2 0 1 0 -4 0M249.7 601.8a1 1 0 1 0 1.9 0a1 1 0 1 0 -1.9 0M220.6 602a1 1 0 1 0 2 0a1 1 0 1 0 -2 0M208.2 570.8a1.8 1.8 0 1 0 3.7 0a1.8 1.8 0 1 0 -3.7 0M249.6 614a1.7 1.7 0 1 0 3.5 0a1.7 1.7 0 1 0 -3.5 0M227.1 569.2a1.4 1.4 0 1 0 2.9 0a1.4 1.4 0 1 0 -2.9 0M240 605.3a.9 .9 0 1 0 1.9 0a.9 .9 0 1 0 -1.9 0M188.6 570.6a1.9 1.9 0 1 0 3.8 0a1.9 1.9 0 1 0 -3.8 0M196.2 586.3a1.4 1.4 0 1 0 2.8 0a1.4 1.4 0 1 0 -2.8 0M248 573.1a1.2 1.2 0 1 0 2.4 0a1.2 1.2 0 1 0 -2.4 0M240.6 570.5a1.1 1.1 0 1 0 2.2 0a1.1 1.1 0 1 0 -2.2 0M190.5 615.8a1.2 1.2 0 1 0 2.3 0a1.2 1.2 0 1 0 -2.3 0M221.6 585.7a2 2 0 1 0 4 0a2 2 0 1 0 -4 0M236.3 597.3a1.4 1.4 0 1 0 2.9 0a1.4 1.4 0 1 0 -2.9 0M206.9 609.6a1 1 0 1 0 2 0a1 1 0 1 0 -2 0M230.5 581.3a1.2 1.2 0 1 0 2.4 0a1.2 1.2 0 1 0 -2.4 0M218.8 575.8a1.6 1.6 0 1 0 3.1 0a1.6 1.6 0 1 0 -3.1 0M193.7 567a1.1 1.1 0 1 0 2.1 0a1.1 1.1 0 1 0 -2.1 0M194.6 611.7a1.5 1.5 0 1 0 2.9 0a1.5 1.5 0 1 0 -2.9 0M234.4 606.5a1.1 1.1 0 1 0 2.2 0a1.1 1.1 0 1 0 -2.2 0M252.3 586a1.4 1.4 0 1 0 2.8 0a1.4 1.4 0 1 0 -2.8 0M221 602.2a1.7 1.7 0 1 0 3.5 0a1.7 1.7 0 1 0 -3.5 0M201.6 609.1a1.4 1.4 0 1 0 2.7 0a1.4 1.4 0 1 0 -2.7 0M205 610.9a1.9 1.9 0 1 0 3.7 0a1.9 1.9 0 1 0 -3.7 0M245.6 582.8a1.9 1.9 0 1 0 3.8 0a1.9 1.9 0 1 0 -3.8 0M240.3 616.4a1.7 1.7 0 1 0 3.5 0a1.7 1.7 0 1 0 -3.5 0M255.3 590.9a1.7 1.7 0 1 0 3.4 0a1.7 1.7 0 1 0 -3.4 0M240.9 593.3a1.5 1.5 0 1 0 2.9 0a1.5 1.5 0 1 0 -2.9 0M215.5 611.2a1.3 1.3 0 1 0 2.6 0a1.3 1.3 0 1 0 -2.6 0M238.3 595.2a1.7 1.7 0 1 0 3.4 0a1.7 1.7 0 1 0 -3.4 0M209.1 570.1a1.6 1.6 0 1 0 3.3 0a1.6 1.6 0 1 0 -3.3 0M198 584.7a1.8 1.8 0 1 0 3.5 0a1.8 1.8 0 1 0 -3.5 0M191.7 613.4a1.5 1.5 0 1 0 3.1 0a1.5 1.5 0 1 0 -3.1 0M226.6 601.2a1 1 0 1 0 1.9 0a1 1 0 1 0 -1.9 0M189.9 603.5a1.5 1.5 0 1 0 3.1 0a1.5 1.5 0 1 0 -3.1 0M231.6 608.8a1.2 1.2 0 1 0 2.4 0a1.2 1.2 0 1 0 -2.4 0M199.8 616.4a1 1 0 1 0 1.9 0a1 1 0 1 0 -1.9 0M222.6 598.4a2 2 0 1 0 3.9 0a2 2 0 1 0 -3.9 0M194.8 602.5a1 1 0 1 0 2 0a1 1 0 1 0 -2 0M218.6 598.2a1.8 1.8 0 1 0 3.7 0a1.8 1.8 0 1 0 -3.7 0M192.1 604.9a1.1 1.1 0 1 0 2.1 0a1.1 1.1 0 1 0 -2.1 0M215.3 617a1.8 1.8 0 1 0 3.7 0a1.8 1.8 0 1 0 -3.7 0M194.2 566.2a.9 .9 0 1 0 1.9 0a.9 .9 0 1 0 -1.9 0M240.6 568a1.8 1.8 0 1 0 3.5 0a1.8 1.8 0 1 0 -3.5 0M242.2 608.5a1.9 1.9 0 1 0 3.9 0a1.9 1.9 0 1 0 -3.9 0M230.9 608.9a1.5 1.5 0 1 0 3 0a1.5 1.5 0 1 0 -3 0M233.3 569.6a1.5 1.5 0 1 0 3 0a1.5 1.5 0 1 0 -3 0M254.7 586.2a1.7 1.7 0 1 0 3.4 0a1.7 1.7 0 1 0 -3.4 0M200.5 591a1.5 1.5 0 1 0 3 0a1.5 1.5 0 1 0 -3 0M240.1 582.8a1.4 1.4 0 1 0 2.8 0a1.4 1.4 0 1 0 -2.8 0M200.8 596a1.9 1.9 0 1 0 3.9 0a1.9 1.9 0 1 0 -3.9 0M214.4 600.3a1.5 1.5 0 1 0 3 0a1.5 1.5 0 1 0 -3 0M202 602.2a1.1 1.1 0 1 0 2.3 0a1.1 1.1 0 1 0 -2.3 0M229.9 617.7a1.2 1.2 0 1 0 2.5 0a1.2 1.2 0 1 0 -2.5 0M233.2 583.7a1.6 1.6 0 1 0 3.2 0a1.6 1.6 0 1 0 -3.2 0M201.1 592a1.8 1.8 0 1 0 3.5 0a1.8 1.8 0 1 0 -3.5 0M203.1 584.4a1.1 1.1 0 1 0 2.3 0a1.1 1.1 0 1 0 -2.3 0M198.8 600.8a1.8 1.8 0 1 0 3.6 0a1.8 1.8 0 1 0 -3.6 0M224.1 589.2a1.2 1.2 0 1 0 2.5 0a1.2 1.2 0 1 0 -2.5 0M204.6 615a1.4 1.4 0 1 0 2.9 0a1.4 1.4 0 1 0 -2.9 0M234.6 580.5a1.1 1.1 0 1 0 2.2 0a1.1 1.1 0 1 0 -2.2 0M189.3 581.4a1.4 1.4 0 1 0 2.7 0a1.4 1.4 0 1 0 -2.7 0M223.3 598.1a1.7 1.7 0 1 0 3.3 0a1.7 1.7 0 1 0 -3.3 0M247.1 607.7a1.7 1.7 0 1 0 3.3 0a1.7 1.7 0 1 0 -3.3 0M242.5 594.2a1.4 1.4 0 1 0 2.8 0a1.4 1.4 0 1 0 -2.8 0M250 612.5a1.3 1.3 0 1 0 2.6 0a1.3 1.3 0 1 0 -2.6 0M246.4 588.3a1.7 1.7 0 1 0 3.5 0a1.7 1.7 0 1 0 -3.5 0M189.7 596.9a1.9 1.9 0 1 0 3.9 0a1.9 1.9 0 1 0 -3.9 0M217.7 611.3a1.6 1.6 0 1 0 3.3 0a1.6 1.6 0 1 0 -3.3 0M190.1 570a1.3 1.3 0 1 0 2.5 0a1.3 1.3 0 1 0 -2.5 0M253.5 600.2a1.6 1.6 0 1 0 3.1 0a1.6 1.6 0 1 0 -3.1 0M246.6 584.2a1.1 1.1 0 1 0 2.1 0a1.1 1.1 0 1 0 -2.1 0M218.8 613.2a1.1 1.1 0 1 0 2.2 0a1.1 1.1 0 1 0 -2.2 0M221.7 581.3a1.3 1.3 0 1 0 2.6 0a1.3 1.3 0 1 0 -2.6 0M195 613.2a1.2 1.2 0 1 0 2.4 0a1.2 1.2 0 1 0 -2.4 0M241.5 575a1.4 1.4 0 1 0 2.7 0a1.4 1.4 0 1 0 -2.7 0M190.2 596.6a1.5 1.5 0 1 0 2.9 0a1.5 1.5 0 1 0 -2.9 0M217.3 576.4a1.6 1.6 0 1 0 3.2 0a1.6 1.6 0 1 0 -3.2 0M191 614.5a1.4 1.4 0 1 0 2.9 0a1.4 1.4 0 1 0 -2.9 0M230 588.1a.9 .9 0 1 0 1.8 0a.9 .9 0 1 0 -1.8 0M190.6 603.7a1.4 1.4 0 1 0 2.9 0a1.4 1.4 0 1 0 -2.9 0M206.8 594a1.9 1.9 0 1 0 3.7 0a1.9 1.9 0 1 0 -3.7 0M222.6 593a1.5 1.5 0 1 0 3.1 0a1.5 1.5 0 1 0 -3.1 0M246.9 567.6a1.6 1.6 0 1 0 3.3 0a1.6 1.6 0 1 0 -3.3 0M227.5 603.2a1.1 1.1 0 1 0 2.2 0a1.1 1.1 0 1 0 -2.2 0M244.3 607.3a1.2 1.2 0 1 0 2.4 0a1.2 1.2 0 1 0 -2.4 0M252 568.7a1.5 1.5 0 1 0 3 0a1.5 1.5 0 1 0 -3 0M194.2 575.8a1.6 1.6 0 1 0 3.2 0a1.6 1.6 0 1 0 -3.2 0M236.1 590.9a1.2 1.2 0 1 0 2.3 0a1.2 1.2 0 1 0 -2.3 0M225.2 589.3a1.3 1.3 0 1 0 2.6 0a1.3 1.3 0 1 0 -2.6 0M216.2 590a1.3 1.3 0 1 0 2.6 0a1.3 1.3 0 1 0 -2.6 0M197 591.8a1.2 1.2 0 1 0 2.4 0a1.2 1.2 0 1 0 -2.4 0M241.4 615.7a1.7 1.7 0 1 0 3.4 0a1.7 1.7 0 1 0 -3.4 0M210.4 590.8a1.7 1.7 0 1 0 3.4 0a1.7 1.7 0 1 0 -3.4 0M204.4 607.6a.9 .9 0 1 0 1.9 0a.9 .9 0 1 0 -1.9 0M253.1 595a1.8 1.8 0 1 0 3.5 0a1.8 1.8 0 1 0 -3.5 0M228.9 610.2a1.4 1.4 0 1 0 2.7 0a1.4 1.4 0 1 0 -2.7 0M194.4 576.7a1.7 1.7 0 1 0 3.4 0a1.7 1.7 0 1 0 -3.4 0M254.5 577.9a1.4 1.4 0 1 0 2.9 0a1.4 1.4 0 1 0 -2.9 0M241.2 581.9a1.2 1.2 0 1 0 2.3 0a1.2 1.2 0 1 0 -2.3 0M239.9 572.1a1.3 1.3 0 1 0 2.5 0a1.3 1.3 0 1 0 -2.5 0M227.9 591.8a1.9 1.9 0 1 0 3.9 0a1.9 1.9 0 1 0 -3.9 0M221.3 587.3a1.1 1.1 0 1 0 2.2 0a1.1 1.1 0 1 0 -2.2 0M243.8 568.6a.9 .9 0 1 0 1.8 0a.9 .9 0 1 0 -1.8 0M213.3 607.8a1.2 1.2 0 1 0 2.4 0a1.2 1.2 0 1 0 -2.4 0M220.1 570.7a1.2 1.2 0 1 0 2.4 0a1.2 1.2 0 1 0 -2.4 0M251.9 610.7a1 1 0 1 0 2 0a1 1 0 1 0 -2 0M253 590.4a1 1 0 1 0 2.1 0a1 1 0 1 0 -2.1 0M213.5 616a1.1 1.1 0 1 0 2.2 0a1.1 1.1 0 1 0 -2.2 0M239.2 614.7a1.9 1.9 0 1 0 3.8 0a1.9 1.9 0 1 0 -3.8 0M239.6 614a1 1 0 1 0 2.1 0a1 1 0 1 0 -2.1 0M235.1 616a1.5 1.5 0 1 0 2.9 0a1.5 1.5 0 1 0 -2.9 0M189.6 581.1a1.4 1.4 0 1 0 2.8 0a1.4 1.4 0 1 0 -2.8 0M216.6 603.7a1.1 1.1 0 1 0 2.2 0a1.1 1.1 0 1 0 -2.2 0M188.5 600.2a2 2 0 1 0 4 0a2 2 0 1 0 -4 0M220.7 601.4a1.7 1.7 0 1 0 3.4 0a1.7 1.7 0 1 0 -3.4 0M234 607.3a.9 .9 0 1 0 1.9 0a.9 .9 0 1 0 -1.9 0M235.8 588.7a1.3 1.3 0 1 0 2.6 0a1.3 1.3 0 1 0 -2.6 0M241.9 572.7a1.9 1.9 0 1 0 3.8 0a1.9 1.9 0 1 0 -3.8 0M242.5 609.4a1.9 1.9 0 1 0 3.8 0a1.9 1.9 0 1 0 -3.8 0M202.7 596.9a1.9 1.9 0 1 0 3.8 0a1.9 1.9 0 1 0 -3.8 0M225.4 601.4a1 1 0 1 0 2 0a1 1 0 1 0 -2 0M233.3 567.3a1.5 1.5 0 1 0 2.9 0a1.5 1.5 0 1 0 -2.9 0M190.8 582a1 1 0 1 0 2 0a1 1 0 1 0 -2 0M206.8 572.7a1.7 1.7 0 1 0 3.3 0a1.7 1.7 0 1 0 -3.3 0M223.5 606.2a1.8 1.8 0 1 0 3.6 0a1.8 1.8 0 1 0 -3.6 0M236.1 597.4a1.5 1.5 0 1 0 2.9 0a1.5 1.5 0 1 0 -2.9 0M240.3 588.5a1.3 1.3 0 1 0 2.6 0a1.3 1.3 0 1 0 -2.6 0M215.5 567.3a1.1 1.1 0 1 0 2.3 0a1.1 1.1 0 1 0 -2.3 0M230.3 586.4a1.4 1.4 0 1 0 2.7 0a1.4 1.4 0 1 0 -2.7 0M194.5 574a1.9 1.9 0 1 0 3.7 0a1.9 1.9 0 1 0 -3.7 0M241.7 584.6a1.9 1.9 0 1 0 3.8 0a1.9 1.9 0 1 0 -3.8 0M227.2 604.9a1.1 1.1 0 1 0 2.1 0a1.1 1.1 0 1 0 -2.1 0M253.1 589.6a1.1 1.1 0 1 0 2.1 0a1.1 1.1 0 1 0 -2.1 0M193.6 569.3a.9 .9 0 1 0 1.8 0a.9 .9 0 1 0 -1.8 0M240.9 607.3a1.2 1.2 0 1 0 2.4 0a1.2 1.2 0 1 0 -2.4 0M208.6 613.4a1.2 1.2 0 1 0 2.3 0a1.2 1.2 0 1 0 -2.3 0M249 608.8a1.4 1.4 0 1 0 2.7 0a1.4 1.4 0 1 0 -2.7 0M219.3 587a1.3 1.3 0 1 0 2.6 0a1.3 1.3 0 1 0 -2.6 0M235.2 601.3a2 2 0 1 0 4 0a2 2 0 1 0 -4 0M196.6 582.1a1.5 1.5 0 1 0 3 0a1.5 1.5 0 1 0 -3 0M241.2 617.6a1.8 1.8 0 1 0 3.6 0a1.8 1.8 0 1 0 -3.6 0M195.2 605.7a1.1 1.1 0 1 0 2.3 0a1.1 1.1 0 1 0 -2.3 0M218 569.9a.9 .9 0 1 0 1.9 0a.9 .9 0 1 0 -1.9 0M217.5 611.7a1.2 1.2 0 1 0 2.4 0a1.2 1.2 0 1 0 -2.4 0M190.7 601.9a1.2 1.2 0 1 0 2.4 0a1.2 1.2 0 1 0 -2.4 0M193.9 576.5a1.9 1.9 0 1 0 3.7 0a1.9 1.9 0 1 0 -3.7 0M248.9 591.9a1.4 1.4 0 1 0 2.8 0a1.4 1.4 0 1 0 -2.8 0M235 583.8a1.3 1.3 0 1 0 2.6 0a1.3 1.3 0 1 0 -2.6 0M240.4 600.7a1.9 1.9 0 1 0 3.8 0a1.9 1.9 0 1 0 -3.8 0M226.4 609a1.8 1.8 0 1 0 3.6 0a1.8 1.8 0 1 0 -3.6 0M204.4 599.3a1.5 1.5 0 1 0 3 0a1.5 1.5 0 1 0 -3 0M199.4 577.4a1.3 1.3 0 1 0 2.7 0a1.3 1.3 0 1 0 -2.7 0M251.5 567.8a2 2 0 1 0 3.9 0a2 2 0 1 0 -3.9 0M252 587a1.6 1.6 0 1 0 3.2 0a1.6 1.6 0 1 0 -3.2 0M209.4 568.2a.9 .9 0 1 0 1.8 0a.9 .9 0 1 0 -1.8 0M237.5 577.9a1.5 1.5 0 1 0 2.9 0a1.5 1.5 0 1 0 -2.9 0M207.8 566.5a1.3 1.3 0 1 0 2.7 0a1.3 1.3 0 1 0 -2.7 0M219.4 616a1.5 1.5 0 1 0 2.9 0a1.5 1.5 0 1 0 -2.9 0M253.2 586.8a1.8 1.8 0 1 0 3.7 0a1.8 1.8 0 1 0 -3.7 0M222.7 567.2a1.9 1.9 0 1 0 3.8 0a1.9 1.9 0 1 0 -3.8 0M234.7 596a1.4 1.4 0 1 0 2.8 0a1.4 1.4 0 1 0 -2.8 0M189.6 611.4a1 1 0 1 0 1.9 0a1 1 0 1 0 -1.9 0M196 606.4a1.2 1.2 0 1 0 2.4 0a1.2 1.2 0 1 0 -2.4 0M211.2 580.2a1.4 1.4 0 1 0 2.8 0a1.4 1.4 0 1 0 -2.8 0M241.8 583.3a1 1 0 1 0 2.1 0a1 1 0 1 0 -2.1 0M225 584.4a1.9 1.9 0 1 0 3.8 0a1.9 1.9 0 1 0 -3.8 0M192.8 587.8a1.4 1.4 0 1 0 2.7 0a1.4 1.4 0 1 0 -2.7 0M242.5 575.7a1.8 1.8 0 1 0 3.5 0a1.8 1.8 0 1 0 -3.5 0M225.2 609.1a1.8 1.8 0 1 0 3.6 0a1.8 1.8 0 1 0 -3.6 0M222.6 603.5a1 1 0 1 0 2.1 0a1 1 0 1 0 -2.1 0M239 577a1.5 1.5 0 1 0 3 0a1.5 1.5 0 1 0 -3 0M199.8 615.3a1.3 1.3 0 1 0 2.7 0a1.3 1.3 0 1 0 -2.7 0M232.3 592.4a1.7 1.7 0 1 0 3.3 0a1.7 1.7 0 1 0 -3.3 0M201.7 606.2a1.3 1.3 0 1 0 2.7 0a1.3 1.3 0 1 0 -2.7 0M231.4 614.5a1.6 1.6 0 1 0 3.2 0a1.6 1.6 0 1 0 -3.2 0M239.2 591.4a1.4 1.4 0 1 0 2.8 0a1.4 1.4 0 1 0 -2.8 0M250.2 590.5a.9 .9 0 1 0 1.9 0a.9 .9 0 1 0 -1.9 0M210 590.8a.9 .9 0 1 0 1.8 0a.9 .9 0 1 0 -1.8 0M195.5 595.6a1.1 1.1 0 1 0 2.2 0a1.1 1.1 0 1 0 -2.2 0M251.9 572.3a1.2 1.2 0 1 0 2.5 0a1.2 1.2 0 1 0 -2.5 0M195.4 585.9a.9 .9 0 1 0 1.8 0a.9 .9 0 1 0 -1.8 0M230 573.2a1 1 0 1 0 2 0a1 1 0 1 0 -2 0M212.5 571.9a1.2 1.2 0 1 0 2.4 0a1.2 1.2 0 1 0 -2.4 0M251.4 582.6a1.7 1.7 0 1 0 3.3 0a1.7 1.7 0 1 0 -3.3 0M232.6 601a1.4 1.4 0 1 0 2.8 0a1.4 1.4 0 1 0 -2.8 0M218.5 599.8a1.1 1.1 0 1 0 2.1 0a1.1 1.1 0 1 0 -2.1 0M192.1 571.5a.9 .9 0 1 0 1.9 0a.9 .9 0 1 0 -1.9 0M219.7 570.7a1.4 1.4 0 1 0 2.8 0a1.4 1.4 0 1 0 -2.8 0M226.7 578.5a1.6 1.6 0 1 0 3.3 0a1.6 1.6 0 1 0 -3.3 0M222.7 582.5a1.5 1.5 0 1 0 3 0a1.5 1.5 0 1 0 -3 0M191.2 594.5a1.1 1.1 0 1 0 2.2 0a1.1 1.1 0 1 0 -2.2 0M252 594.8a1.5 1.5 0 1 0 3 0a1.5 1.5 0 1 0 -3 0M203.3 570.2a1.1 1.1 0 1 0 2.1 0a1.1 1.1 0 1 0 -2.1 0M211.5 575.1a1.9 1.9 0 1 0 3.8 0a1.9 1.9 0 1 0 -3.8 0M208.7 588.1a1.3 1.3 0 1 0 2.6 0a1.3 1.3 0 1 0 -2.6 0M213 575.3a1.7 1.7 0 1 0 3.3 0a1.7 1.7 0 1 0 -3.3 0M244.7 595.5a1.2 1.2 0 1 0 2.3 0a1.2 1.2 0 1 0 -2.3 0M239.9 567.8a1.7 1.7 0 1 0 3.3 0a1.7 1.7 0 1 0 -3.3 0M217.3 576a2 2 0 1 0 4 0a2 2 0 1 0 -4 0M193.3 582.7a1.6 1.6 0 1 0 3.3 0a1.6 1.6 0 1 0 -3.3 0M192.1 605.6a.9 .9 0 1 0 1.8 0a.9 .9 0 1 0 -1.8 0M200.9 611.5a.9 .9 0 1 0 1.9 0a.9 .9 0 1 0 -1.9 0M246.9 574.4a1.3 1.3 0 1 0 2.6 0a1.3 1.3 0 1 0 -2.6 0M208.5 599.9a1.6 1.6 0 1 0 3.2 0a1.6 1.6 0 1 0 -3.2 0M200 579.6a1.4 1.4 0 1 0 2.9 0a1.4 1.4 0 1 0 -2.9 0M249.5 590.9a1.6 1.6 0 1 0 3.2 0a1.6 1.6 0 1 0 -3.2 0M242.2 601.2a1.8 1.8 0 1 0 3.7 0a1.8 1.8 0 1 0 -3.7 0M214.5 604a1 1 0 1 0 2 0a1 1 0 1 0 -2 0M201.9 569.3a1.8 1.8 0 1 0 3.7 0a1.8 1.8 0 1 0 -3.7 0M200.4 590.5a1.3 1.3 0 1 0 2.5 0a1.3 1.3 0 1 0 -2.5 0M207.4 572.9a1.4 1.4 0 1 0 2.8 0a1.4 1.4 0 1 0 -2.8 0M221.4 593.5a1.6 1.6 0 1 0 3.3 0a1.6 1.6 0 1 0 -3.3 0M247.2 593.8a1.5 1.5 0 1 0 3 0a1.5 1.5 0 1 0 -3 0M200.7 585.6a1.2 1.2 0 1 0 2.5 0a1.2 1.2 0 1 0 -2.5 0M235.8 572.5a1.4 1.4 0 1 0 2.8 0a1.4 1.4 0 1 0 -2.8 0M204.4 612.4a1.1 1.1 0 1 0 2.2 0a1.1 1.1 0 1 0 -2.2 0M226.9 582.5a1.6 1.6 0 1 0 3.1 0a1.6 1.6 0 1 0 -3.1 0M190.3 606.4a1.2 1.2 0 1 0 2.4 0a1.2 1.2 0 1 0 -2.4 0M214.6 596.9a1.9 1.9 0 1 0 3.8 0a1.9 1.9 0 1 0 -3.8 0M226.7 593.2a1 1 0 1 0 2 0a1 1 0 1 0 -2 0M199.2 575.3a1.8 1.8 0 1 0 3.7 0a1.8 1.8 0 1 0 -3.7 0M190 608.2a1.3 1.3 0 1 0 2.5 0a1.3 1.3 0 1 0 -2.5 0M239.6 590.3a1.9 1.9 0 1 0 3.8 0a1.9 1.9 0 1 0 -3.8 0M214.7 574.5a1.3 1.3 0 1 0 2.6 0a1.3 1.3 0 1 0 -2.6 0M228.2 573.7a1.6 1.6 0 1 0 3.2 0a1.6 1.6 0 1 0 -3.2 0M244.3 566.3a2 2 0 1 0 4 0a2 2 0 1 0 -4 0M210.6 596.1a1.9 1.9 0 1 0 3.8 0a1.9 1.9 0 1 0 -3.8 0M230.3 615a1.7 1.7 0 1 0 3.4 0a1.7 1.7 0 1 0 -3.4 0M248.3 606.1a1.5 1.5 0 1 0 2.9 0a1.5 1.5 0 1 0 -2.9 0M203.9 599.1a1.8 1.8 0 1 0 3.6 0a1.8 1.8 0 1 0 -3.6 0M192.4 607.9a1.4 1.4 0 1 0 2.7 0a1.4 1.4 0 1 0 -2.7 0M202.2 571.2a1.7 1.7 0 1 0 3.5 0a1.7 1.7 0 1 0 -3.5 0M217.5 568a1.2 1.2 0 1 0 2.3 0a1.2 1.2 0 1 0 -2.3 0M192.1 580.6a1.1 1.1 0 1 0 2.2 0a1.1 1.1 0 1 0 -2.2 0M217 570.1a.9 .9 0 1 0 1.8 0a.9 .9 0 1 0 -1.8 0M233.4 615a1.7 1.7 0 1 0 3.4 0a1.7 1.7 0 1 0 -3.4 0M196.4 616a1.8 1.8 0 1 0 3.6 0a1.8 1.8 0 1 0 -3.6 0M252 586a1.5 1.5 0 1 0 3 0a1.5 1.5 0 1 0 -3 0M228.7 617.7a1.9 1.9 0 1 0 3.9 0a1.9 1.9 0 1 0 -3.9 0M210.2 567.2a1.6 1.6 0 1 0 3.1 0a1.6 1.6 0 1 0 -3.1 0M238.5 569.7a1.9 1.9 0 1 0 3.8 0a1.9 1.9 0 1 0 -3.8 0M193.8 601.8a1.8 1.8 0 1 0 3.5 0a1.8 1.8 0 1 0 -3.5 0M253.7 580.6a1.5 1.5 0 1 0 2.9 0a1.5 1.5 0 1 0 -2.9 0M195.2 602.6a2 2 0 1 0 3.9 0a2 2 0 1 0 -3.9 0M251.5 566.8a1 1 0 1 0 2.1 0a1 1 0 1 0 -2.1 0M254.9 614.5a1.7 1.7 0 1 0 3.4 0a1.7 1.7 0 1 0 -3.4 0M239.8 588.1a1.6 1.6 0 1 0 3.2 0a1.6 1.6 0 1 0 -3.2 0M249.4 589.3a1.3 1.3 0 1 0 2.7 0a1.3 1.3 0 1 0 -2.7 0M207.4 589.6a1.5 1.5 0 1 0 3.1 0a1.5 1.5 0 1 0 -3.1 0M204 573.5a1.1 1.1 0 1 0 2.3 0a1.1 1.1 0 1 0 -2.3 0M196.8 573.7a1.4 1.4 0 1 0 2.7 0a1.4 1.4 0 1 0 -2.7 0M239.5 586.6a1.6 1.6 0 1 0 3.3 0a1.6 1.6 0 1 0 -3.3 0M221.5 593.9a1.9 1.9 0 1 0 3.8 0a1.9 1.9 0 1 0 -3.8 0M198.8 600a1.2 1.2 0 1 0 2.5 0a1.2 1.2 0 1 0 -2.5 0M209.1 598.3a2 2 0 1 0 4 0a2 2 0 1 0 -4 0M190 581.6a1.9 1.9 0 1 0 3.8 0a1.9 1.9 0 1 0 -3.8 0M201.2 589.8a1.2 1.2 0 1 0 2.3 0a1.2 1.2 0 1 0 -2.3 0M197.2 602.5a1.9 1.9 0 1 0 3.7 0a1.9 1.9 0 1 0 -3.7 0M232 603a1.2 1.2 0 1 0 2.4 0a1.2 1.2 0 1 0 -2.4 0M246.2 583.7a1.1 1.1 0 1 0 2.3 0a1.1 1.1 0 1 0 -2.3 0M228.6 575.6a1.8 1.8 0 1 0 3.6 0a1.8 1.8 0 1 0 -3.6 0M215.2 611.4a1.6 1.6 0 1 0 3.2 0a1.6 1.6 0 1 0 -3.2 0M253.9 574.8a1.2 1.2 0 1 0 2.3 0a1.2 1.2 0 1 0 -2.3 0M229 578.5a1.5 1.5 0 1 0 3 0a1.5 1.5 0 1 0 -3 0M205.2 600.9a1.8 1.8 0 1 0 3.5 0a1.8 1.8 0 1 0 -3.5 0M249.9 603.3a1.1 1.1 0 1 0 2.2 0a1.1 1.1 0 1 0 -2.2 0M205.2 613.5a1.6 1.6 0 1 0 3.2 0a1.6 1.6 0 1 0 -3.2 0M196.4 600.7a1.2 1.2 0 1 0 2.4 0a1.2 1.2 0 1 0 -2.4 0M238.7 569.7a1.8 1.8 0 1 0 3.6 0a1.8 1.8 0 1 0 -3.6 0M207.9 617a1.9 1.9 0 1 0 3.9 0a1.9 1.9 0 1 0 -3.9 0M206.1 608.6a1.3 1.3 0 1 0 2.7 0a1.3 1.3 0 1 0 -2.7 0M252.4 588.2a1.6 1.6 0 1 0 3.3 0a1.6 1.6 0 1 0 -3.3 0M250.8 568.2a1.5 1.5 0 1 0 2.9 0a1.5 1.5 0 1 0 -2.9 0M251.6 615.8a1.9 1.9 0 1 0 3.8 0a1.9 1.9 0 1 0 -3.8 0M228.8 604.8a1.8 1.8 0 1 0 3.7 0a1.8 1.8 0 1 0 -3.7 0M219.5 567.6a1.8 1.8 0 1 0 3.5 0a1.8 1.8 0 1 0 -3.5 0M245.2 590.5a1.6 1.6 0 1 0 3.2 0a1.6 1.6 0 1 0 -3.2 0M191.6 614.3a1.4 1.4 0 1 0 2.9 0a1.4 1.4 0 1 0 -2.9 0M200.1 581.6a1.2 1.2 0 1 0 2.4 0a1.2 1.2 0 1 0 -2.4 0M213.5 588.8a1.7 1.7 0 1 0 3.3 0a1.7 1.7 0 1 0 -3.3 0M243.5 570.8a1.5 1.5 0 1 0 3.1 0a1.5 1.5 0 1 0 -3.1 0M239.8 583.6a1.3 1.3 0 1 0 2.5 0a1.3 1.3 0 1 0 -2.5 0M194.3 592.4a1 1 0 1 0 2.1 0a1 1 0 1 0 -2.1 0M231.6 567.1a1.9 1.9 0 1 0 3.9 0a1.9 1.9 0 1 0 -3.9 0M232.2 575.4a1.5 1.5 0 1 0 3 0a1.5 1.5 0 1 0 -3 0M206 589a1.8 1.8 0 1 0 3.6 0a1.8 1.8 0 1 0 -3.6 0M243.9 597.3a1.7 1.7 0 1 0 3.4 0a1.7 1.7 0 1 0 -3.4 0M227.1 568.1a2 2 0 1 0 3.9 0a2 2 0 1 0 -3.9 0M197.1 605.5a1.5 1.5 0 1 0 2.9 0a1.5 1.5 0 1 0 -2.9 0M246 578.3a1.7 1.7 0 1 0 3.4 0a1.7 1.7 0 1 0 -3.4 0M248.5 580.1a1.2 1.2 0 1 0 2.4 0a1.2 1.2 0 1 0 -2.4 0M245.3 589.7a1.3 1.3 0 1 0 2.7 0a1.3 1.3 0 1 0 -2.7 0M227.6 604.5a.9 .9 0 1 0 1.8 0a.9 .9 0 1 0 -1.8 0M255 589.7a.9 .9 0 1 0 1.8 0a.9 .9 0 1 0 -1.8 0M227.9 588.5a1.3 1.3 0 1 0 2.6 0a1.3 1.3 0 1 0 -2.6 0M226.3 570.5a1.6 1.6 0 1 0 3.2 0a1.6 1.6 0 1 0 -3.2 0M210.1 602.7a1.2 1.2 0 1 0 2.4 0a1.2 1.2 0 1 0 -2.4 0M209.5 617.7a1.8 1.8 0 1 0 3.6 0a1.8 1.8 0 1 0 -3.6 0M230.7 584.3a1.1 1.1 0 1 0 2.1 0a1.1 1.1 0 1 0 -2.1 0M228.1 588.7a1.8 1.8 0 1 0 3.6 0a1.8 1.8 0 1 0 -3.6 0M189.3 596.2a.9 .9 0 1 0 1.9 0a.9 .9 0 1 0 -1.9 0M222.7 586.8a1.3 1.3 0 1 0 2.6 0a1.3 1.3 0 1 0 -2.6 0M193 581.1a1 1 0 1 0 2.1 0a1 1 0 1 0 -2.1 0M205.9 605.4a1.2 1.2 0 1 0 2.4 0a1.2 1.2 0 1 0 -2.4 0M244.6 585.4a2 2 0 1 0 4 0a2 2 0 1 0 -4 0M197.1 594.6a1 1 0 1 0 2.1 0a1 1 0 1 0 -2.1 0M235.7 574.5a1.3 1.3 0 1 0 2.6 0a1.3 1.3 0 1 0 -2.6 0M247.4 579.2a1.3 1.3 0 1 0 2.7 0a1.3 1.3 0 1 0 -2.7 0" fill="#ebe7ec" fill-opacity="0.8" stroke="#c2aec8" stroke-width="0.4" filter="url(#hb)"/></g>
<g clip-path="url(#c24)">
<rect x="259" y="566.8" width="70.8" height="51" fill="#c4b6d6"/>
<ellipse cx="318" cy="590" rx="12" ry="25" fill="#c0b0d4" fill-opacity="0.8" filter="url(#sb)"/>
<g filter="url(#hb)" stroke-linecap="round" fill="none">
<path stroke="#ac9ccc" stroke-opacity="0.9" stroke-width="4.94" d="M261.4 597.5l0 .3M305.6 589.9l-.3 .3M266.2 617.4l0 0M311.7 586.2l0 .7M284.4 618.9l0 .1M308.1 611.7l-.1 .1M300.4 566.2l0 .9M264.8 587.8l0 0M275.8 584.5l.5 .1M269.2 612.6l.6 .1M266.4 599.3l-.3 0M276.7 611.7l.5 .2M271.5 603.4l.4 .1M301.7 588.1l0 .5M272.7 579.2l-.3 .3M313.1 599.2l.8 .4M306.3 575.8l-.7 .5M310.5 607.9l.1 0M308.7 573.1l0 0M315.3 603.5l-.5 .1M308.5 605.1l0 .5M283.8 573.2l0 0M282.4 590.1l.5 .5M312.4 608.8l0 .1M313.1 568.2l0 0M290.3 584.4l.2 .1M289.1 583.1l-.4 .5M311.4 585.4l-.8 .4M307.7 582.9l.3 .7M302.6 591.7l-.2 .4M299.9 615.5l-.1 .6M259.6 588.7l-.7 .1M275.4 572.3l-.4 0M287.2 572.8l0 .2M283.3 578l.2 .1M266.5 606.9l-.6 .4M278.2 595.2l.3 .2M304.5 608l.7 .1M277 619.7l.3 .2M282.2 592.7l0 0M274 575l0 .5M278.7 591.3l-.1 .3M271.7 606.9l-.3 .4M299 570.2l.1 .8M304.6 600.8l0 .8M301.5 569.4l.2 .7M298.7 609.1l.2 .3M278.1 608.7l.4 .7M273 577.9l-.2 .4M268 579.3l-.1 .3M296 568.7l-.8 .1M312.1 578.9l.3 0M281.2 610.4l-.1 .8M313.3 616.1l.6 .2M266.1 603l.5 .5M313.2 568.7l-.4 .6M299 585.6l.6 .2"/>
<path stroke="#ac9ccc" stroke-opacity="0.9" stroke-width="5.46" d="M258 587.8l.1 .3M312.3 581.3l-.5 .2M309.4 599.3l.4 .6M289.2 576.7l-.5 .6M305.2 608.2l.4 .5M276.6 566.8l-.3 .4M288.8 579.6l.5 .1M301.5 585.6l.1 1M265.3 605.4l.3 .1M268 592.3l-.4 .7M257.7 619.2l.1 .9M282.8 581.8l-.9 .4M296.6 594.6l0 0M316.5 603.5l.6 .7M305.3 616.7l-.1 0M273.4 606.1l-.6 .2M260.3 606l0 0M312.6 568l-.5 .2M298.6 580l-.8 .6M261.7 571.7l0 0M261.7 581.3l.6 .1M293.7 573.5l.7 .7M317 589.9l-.6 .7M293.9 575.8l-.2 .7M315.3 608.2l0 0M281 606.4l.8 .3M290.7 613.5l.2 .8M298.5 614.5l.2 .1M264.5 605.6l-.3 1M295.3 577.2l0 0M308.4 573.7l.6 .2M261.5 578.9l.7 .4M273.5 611.5l0 .1M259.1 581.4l.2 .4M272.8 606.4l.8 0M299.3 571.1l0 .7M274.1 594.6l-.4 .5M285.2 578.2l.1 .3M284.9 590.9l.3 .5M261.3 565.8l.1 .1M282.2 598.7l.2 .5M287.7 581.5l.4 .3M312.8 617l.3 .2M310.9 618.8l0 .9M286 590.9l-.2 0M274.1 566.2l.6 .5M258.4 603.5l.2 .8M272.5 583.3l.2 0M310.3 579.2l.2 .2M262.4 572l-.4 .5M292.2 586.2l-.4 .1M289.5 568.2l.2 .1M304.3 603.9l.1 .3M306.7 603.6l0 .4M279.2 576.4l.7 .7M260.7 603.3l-.6 .4M276.3 597l.6 0M274.1 570.8l-.6 .3M282.1 596.2l.4 0M259.8 572.9l-.2 .2M261.1 590.9l.1 .1M304.2 596.6l.3 0"/>
<path stroke="#ac9ccc" stroke-opacity="0.9" stroke-width="5.98" d="M297.8 597.7l.6 .5M272 597.6l-.2 0M306.8 608l-.3 .1M316.4 565.7l-.6 0M305.9 607.3l-.7 .2M273.9 612.1l-.5 .2M275.5 593.7l-.2 .6M299 593l0 0M259.1 572.9l-.2 .1M315.3 612.9l0 .9M295.6 591.4l-.1 .1M271.5 583.1l0 .1M278.4 576.5l-.2 .3M294 572l-.8 .6M294.6 602.4l.9 0M273.4 612.4l0 .2M264.9 591l-.1 0M305.1 566.9l-.5 .2M302.9 573.9l.2 .2M277.7 610.6l-.3 .1M309.6 573.9l.2 1.1M310.5 570l.1 .1M278.8 618.7l-.6 .1M270.7 589.1l0 0M291.7 614.9l-.1 .2M279.8 616.9l-.2 0M282.3 600.4l.3 .1M315.4 565.1l.7 .2M313.1 574l-.1 .1M313.5 605.7l1 .1M267.4 574.9l.1 .5M280.7 616l-.9 .7M257.4 586.7l0 .4M293.5 606.4l-.1 .2M260.9 592.8l-.3 0M289.2 603.3l-.7 .6M263.1 580.4l-.7 .4M287.3 590.4l.2 .5M266.1 589.8l-1 .3M314.9 598.7l.3 .2M312.8 612.2l-.8 .6M311.9 575.8l.2 1.1M313.7 617.1l0 .1M277.1 597.4l-.5 0M273.7 602.9l.1 .7M294 575.1l.4 .2M307.1 583.9l.2 .4M283.3 594.3l.1 .3M281.4 576.7l0 .1M311 568l-.1 .4M282.4 615.8l.1 0"/>
<path stroke="#56469a" stroke-opacity="0.85" stroke-width="2.66" d="M261.3 597.8l0 .3M305.1 589.7l-.3 .2M265.7 616.9l0 0M312.3 585.8l0 .6M284.6 618.6l0 .1M307.8 611.9l-.1 0M300.4 566.3l0 .7M265.1 587.9l0 0M276.4 584.7l.4 .1M269.6 612.4l.5 .1M265.8 599.5l-.2 0M276.9 612.3l.4 .2M271.4 603.6l.3 .1M301.4 588.4l0 .4M273 579.3l-.3 .3M313.1 599.3l.6 .3M306.8 575.9l-.5 .4M310 608.3l.1 0M308.6 573.3l0 0M315.7 603.3l-.4 .1M308.9 605l0 .4M283.8 573.4l0 0M282.9 589.9l.4 .4M312.2 608.3l0 .1M312.8 567.8l0 0M290.8 584.9l.2 .1M288.7 583l-.3 .4M311.8 585.6l-.6 .3M307.9 583.1l.3 .6M302.7 591.3l-.2 .3M299.9 615.4l-.1 .4M259.2 589.2l-.6 0M275.1 572.2l-.3 0M287 573l0 .2M282.8 578.4l.2 0M266.9 607l-.5 .3M278.2 595.7l.3 .2M304.5 608.6l.6 .1M277 619.2l.3 .2M281.7 592.2l0 0M274.2 575.1l0 .4M278.2 591.8l-.1 .3M271.2 606.6l-.2 .4M298.9 569.8l.1 .6M305.2 600.6l0 .6M301.2 569.5l.2 .6M298.8 609l.2 .3M278.7 608.8l.3 .5M273.1 578.2l-.1 .3M268.1 579.1l0 .3M296.2 568.9l-.6 0M311.8 578.9l.2 0M281.2 611l-.1 .6M312.8 616.2l.5 .2M265.7 602.8l.4 .4M312.9 568.3l-.3 .4M299 586.1l.5 .1"/>
<path stroke="#56469a" stroke-opacity="0.85" stroke-width="2.94" d="M257.9 587.8l.1 .2M312.3 581.4l-.4 .2M309.4 599l.3 .5M289.4 577l-.4 .5M305.7 607.7l.3 .4M276.8 567.4l-.2 .3M289 579.5l.4 .1M301.8 585.3l0 .8M265.5 605.1l.2 .1M268.2 592.4l-.3 .5M257.8 619.2l.1 .7M282.3 582.3l-.7 .3M296.6 594.8l0 0M317.1 603.4l.4 .5M305.2 616.3l-.1 0M273.4 606.1l-.5 .2M260.3 605.4l0 0M313.1 567.9l-.4 .1M298.1 580.7l-.7 .5M262 571.4l0 0M261.4 580.8l.5 .1M293.9 573.9l.6 .5M317.6 590.3l-.5 .6M293.7 575.8l-.2 .5M314.8 608.8l0 0M280.8 606.3l.6 .3M291.1 613.1l.1 .7M299.1 614.3l.1 .1M264 606.3l-.2 .8M295.1 577.1l0 0M308.9 573.2l.5 .1M261.8 578.6l.6 .4M273.3 611.2l0 .1M259.5 581.4l.2 .3M272.4 606.9l.6 0M299.2 570.7l0 .5M274.4 594.3l-.3 .4M285.5 578.4l.1 .2M285.1 591.2l.2 .4M261.6 566.3l0 .1M281.7 598.7l.1 .4M287.7 581.4l.3 .2M312.4 616.9l.3 .2M310.9 619.3l0 .7M285.5 590.9l-.2 0M273.9 566.7l.5 .4M259 603.5l.2 .7M272 582.9l.1 0M309.9 578.8l.2 .2M262.7 571.6l-.4 .4M292.8 586.5l-.3 .1M290.1 568.7l.2 0M304 604.1l.1 .3M306.3 603.7l0 .3M279.7 575.8l.6 .5M260.1 602.9l-.5 .3M276 597.4l.5 0M274.6 570.8l-.5 .2M282.2 596.5l.4 0M259.2 572.8l-.1 .2M261.7 590.3l.1 0M304.7 596.5l.2 0"/>
<path stroke="#56469a" stroke-opacity="0.85" stroke-width="3.22" d="M297.4 597.1l.5 .4M272.6 597.7l-.2 0M306.2 607.5l-.2 .1M315.7 565.3l-.4 0M305.7 606.8l-.5 .2M273.9 611.9l-.4 .1M275.5 594.1l-.1 .5M299.4 592.9l0 0M258.6 573.4l-.1 .1M315.6 613.3l0 .7M296.2 591l-.1 0M271.2 583.3l0 .1M278 576.7l-.1 .2M293.8 572.2l-.6 .4M295.1 602.6l.7 0M273.8 612.4l0 .2M265.1 590.9l0 0M305.1 567.4l-.4 .1M302.5 573.6l.2 .2M278.1 610.8l-.2 .1M309.2 574l.1 .9M310.6 570.6l.1 .1M278.5 618.5l-.4 .1M270.2 588.6l0 0M292.3 615.2l-.1 .2M280.4 617.1l-.2 0M282.9 601.1l.2 .1M315.8 565.4l.5 .2M313.8 574.3l0 .1M313.3 605.7l.8 .1M267.6 575l.1 .4M280.2 616.5l-.7 .6M257.1 587.3l0 .3M293.8 606.2l-.1 .2M261.2 592.2l-.2 0M289.7 603.9l-.5 .5M263.7 581.1l-.6 .3M286.8 589.8l.1 .4M265.7 589.7l-.8 .3M314.6 599.4l.2 .2M312.8 612l-.6 .5M312.1 575.9l.2 .9M314.4 617.4l0 .1M276.9 597.1l-.4 0M273.5 603.6l.1 .6M293.9 575.4l.3 .2M307.5 583.5l.2 .3M283.6 594.6l.1 .2M281.2 577.2l0 .1M311.3 567.9l-.1 .3M283 615.2l.1 0"/>
<path stroke="#bcaed4" stroke-opacity="0.8" stroke-width="4.94" d="M275.3 569l.2 .7M260.6 578.3l-.1 .1M262.5 602.9l-.5 .6M308.4 605.3l-.3 .4M284.6 570.6l.1 .2M282.2 595.2l.1 .4M288.3 585.5l0 0M325.3 595.8l.2 .5M258.9 594.1l.4 .2M324.1 617.2l.2 .1M321.9 575.9l.1 .3M311.4 597.3l0 0M318.9 594.6l-.5 .2M285.5 607.8l-.4 .2M314.8 594.7l.1 0M259.9 580.2l-.7 .3"/>
<path stroke="#bcaed4" stroke-opacity="0.8" stroke-width="5.46" d="M271.1 593l.5 .4M288.3 574l-.6 .4M322.5 581.1l-.3 0M297.4 595.1l-.4 .4M321.1 605.7l-.1 0M328.3 608.6l0 .6M322.8 608l-.5 .1M264.5 579l.5 .1M325.2 600.8l.3 .2M275 607.6l.6 .8M282.4 578l0 0M265.1 573.5l1 .1M279.6 570.5l-.6 .6M314.6 572.9l.1 0M268.2 570.2l-.2 .2M320.4 583.5l-.1 .3M293.3 573.8l.1 .1"/>
<path stroke="#bcaed4" stroke-opacity="0.8" stroke-width="5.98" d="M325.6 615.8l-.1 .4M312.8 576.8l.3 .2M322.3 617l0 0M282.5 611.1l-.3 .3M326.8 596.1l-.5 .2M269.9 571.1l.1 .2M318.6 597.2l.9 .3M297 575.6l-.2 .2M320.6 577.4l.5 0M261 614.6l-.3 .6M271.5 610.2l0 .2M296.7 607l0 0"/>
<path stroke="#7a6aae" stroke-opacity="0.7" stroke-width="2.66" d="M275.4 569.1l.2 .6M260.9 578.4l-.1 .1M262.9 603l-.4 .5M308.6 605.1l-.2 .3M285 570.4l.1 .1M281.7 595.4l.1 .3M287.8 586l0 0M325.3 596.1l.1 .4M259.3 594.7l.3 .2M324.5 617.1l.2 .1M322.1 576.3l.1 .2M311.4 596.8l0 0M319.1 594.8l-.4 .1M286 607.8l-.4 .2M315.2 594.2l.1 0M259.9 580.7l-.6 .2"/>
<path stroke="#7a6aae" stroke-opacity="0.7" stroke-width="2.94" d="M271.2 593.5l.4 .4M288.5 573.9l-.5 .3M323.1 581.3l-.3 0M297.3 595l-.4 .3M321.7 605.8l-.1 0M328.8 608.6l0 .5M323 607.7l-.4 .1M264.5 578.5l.4 .1M324.7 600.3l.2 .2M275 607.9l.4 .7M282.3 578.4l0 0M265.5 573.1l.8 .1M279.9 570.7l-.5 .5M315.1 572.8l.1 0M268.4 569.9l-.1 .1M320.1 583.6l-.1 .2M292.8 573.7l0 .1"/>
<path stroke="#7a6aae" stroke-opacity="0.7" stroke-width="3.22" d="M325.7 616.4l-.1 .3M312.6 576.9l.3 .1M322.2 617.5l0 0M283 611.7l-.2 .2M327.2 596.6l-.4 .1M269.7 571l.1 .2M318 597l.7 .2M296.9 576.2l-.1 .1M321.4 577.3l.4 0M260.5 614.9l-.2 .5M271.7 610.7l0 .1M296.1 606.4l0 0"/>
</g>
<polygon points="259,566.8 271,566.8 259,576" fill="#f0ecf2" fill-opacity="1" filter="url(#hb)"/>
</g>
<rect x="0" y="0" width="520" height="1.2" fill="#4a4a4a"/>
<rect x="0" y="0" width="1.3" height="626" fill="#111"/>
<rect x="518.7" y="0" width="1.3" height="626" fill="#111"/>
<rect x="0" y="624.8" width="520" height="1.2" fill="#111"/></svg></body></html>
